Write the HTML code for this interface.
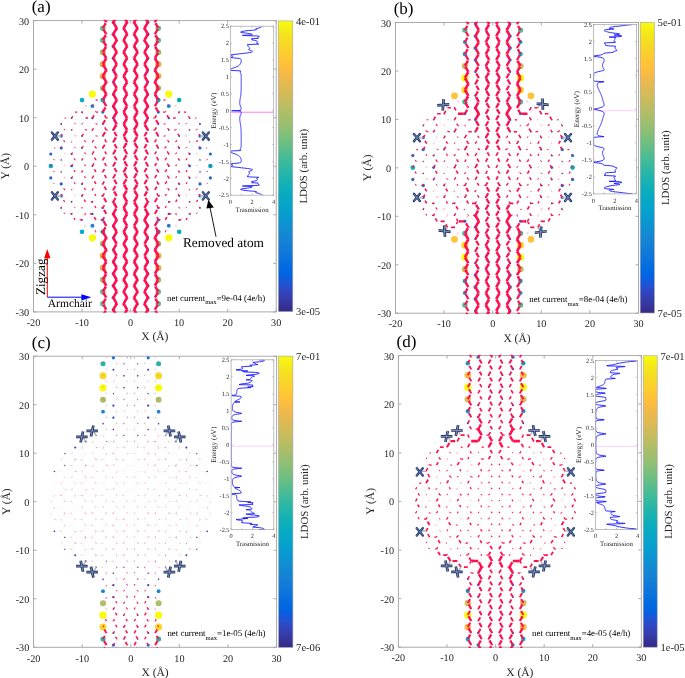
<!DOCTYPE html>
<html><head><meta charset="utf-8"><style>
html,body{margin:0;padding:0;background:#fff;}
svg{display:block;will-change:transform;text-rendering:geometricPrecision;}
</style></head><body>
<svg width="685" height="678" viewBox="0 0 685 678">
<rect width="685" height="678" fill="#fff"/>
<path d="M33.50 311.90v-3.0M33.50 20.60v3.0M82.04 311.90v-3.0M82.04 20.60v3.0M130.58 311.90v-3.0M130.58 20.60v3.0M179.12 311.90v-3.0M179.12 20.60v3.0M227.66 311.90v-3.0M227.66 20.60v3.0M276.20 311.90v-3.0M276.20 20.60v3.0M33.50 311.90h3.0M276.20 311.90h-3.0M33.50 263.35h3.0M276.20 263.35h-3.0M33.50 214.80h3.0M276.20 214.80h-3.0M33.50 166.25h3.0M276.20 166.25h-3.0M33.50 117.70h3.0M276.20 117.70h-3.0M33.50 69.15h3.0M276.20 69.15h-3.0M33.50 20.60h3.0M276.20 20.60h-3.0" stroke="#a3a3a3" stroke-width="0.9" fill="none"/>
<rect x="33.50" y="20.60" width="242.70" height="291.30" stroke="#a3a3a3" stroke-width="0.9" fill="none"/>
<text x="33.50" y="326.10" text-anchor="middle" style="font-family:'Liberation Serif',serif;font-size:10.2px" fill="#262626">-20</text>
<text x="82.04" y="326.10" text-anchor="middle" style="font-family:'Liberation Serif',serif;font-size:10.2px" fill="#262626">-10</text>
<text x="130.58" y="326.10" text-anchor="middle" style="font-family:'Liberation Serif',serif;font-size:10.2px" fill="#262626">0</text>
<text x="179.12" y="326.10" text-anchor="middle" style="font-family:'Liberation Serif',serif;font-size:10.2px" fill="#262626">10</text>
<text x="227.66" y="326.10" text-anchor="middle" style="font-family:'Liberation Serif',serif;font-size:10.2px" fill="#262626">20</text>
<text x="276.20" y="326.10" text-anchor="middle" style="font-family:'Liberation Serif',serif;font-size:10.2px" fill="#262626">30</text>
<text x="29.20" y="315.90" text-anchor="end" style="font-family:'Liberation Serif',serif;font-size:10.2px" fill="#262626">-30</text>
<text x="29.20" y="267.35" text-anchor="end" style="font-family:'Liberation Serif',serif;font-size:10.2px" fill="#262626">-20</text>
<text x="29.20" y="218.80" text-anchor="end" style="font-family:'Liberation Serif',serif;font-size:10.2px" fill="#262626">-10</text>
<text x="29.20" y="170.25" text-anchor="end" style="font-family:'Liberation Serif',serif;font-size:10.2px" fill="#262626">0</text>
<text x="29.20" y="121.70" text-anchor="end" style="font-family:'Liberation Serif',serif;font-size:10.2px" fill="#262626">10</text>
<text x="29.20" y="73.15" text-anchor="end" style="font-family:'Liberation Serif',serif;font-size:10.2px" fill="#262626">20</text>
<text x="29.20" y="24.60" text-anchor="end" style="font-family:'Liberation Serif',serif;font-size:10.2px" fill="#262626">30</text>
<text x="154.85" y="340.20" text-anchor="middle" style="font-family:'Liberation Serif',serif;font-size:11.5px" fill="#262626">X (&#197;)</text>
<text transform="translate(9.40,166.25) rotate(-90)" text-anchor="middle" style="font-family:'Liberation Serif',serif;font-size:11.5px" fill="#262626">Y (&#197;)</text>
<text x="31.70" y="12.10" style="font-family:'Liberation Serif',serif;font-size:17px" fill="#000">(a)</text>
<clipPath id="clipa"><rect x="33.50" y="19.80" width="242.70" height="292.90"/></clipPath>
<g clip-path="url(#clipa)">
<path d="M50.8 177.9L54.2 183.9M50.8 177.9L54.2 171.9M50.8 166.0L54.2 171.9M50.8 166.0L54.2 160.0M50.8 154.0L54.2 160.0M50.8 154.0L54.2 148.0M54.2 183.9L61.2 183.9M54.2 171.9L61.2 171.9M54.2 160.0L61.2 160.0M54.2 148.0L61.2 148.0M61.2 207.9L64.6 213.9M61.2 207.9L64.6 201.9M61.2 195.9L64.6 201.9M61.2 195.9L64.6 189.9M61.2 183.9L64.6 189.9M61.2 183.9L64.6 177.9M61.2 171.9L64.6 177.9M61.2 171.9L64.6 166.0M61.2 160.0L64.6 166.0M61.2 160.0L64.6 154.0M61.2 148.0L64.6 154.0M61.2 148.0L64.6 142.0M61.2 136.0L64.6 142.0M61.2 136.0L64.6 130.0M61.2 124.0L64.6 130.0M61.2 124.0L64.6 118.1M64.6 213.9L71.6 213.9M64.6 201.9L71.6 201.9M64.6 189.9L71.6 189.9M64.6 177.9L71.6 177.9M64.6 166.0L71.6 166.0M64.6 154.0L71.6 154.0M64.6 142.0L71.6 142.0M64.6 130.0L71.6 130.0M64.6 118.1L71.6 118.1M71.6 213.9L75.1 219.9M71.6 213.9L75.1 207.9M71.6 201.9L75.1 207.9M71.6 201.9L75.1 195.9M71.6 189.9L75.1 195.9M71.6 189.9L75.1 183.9M71.6 177.9L75.1 183.9M71.6 177.9L75.1 171.9M71.6 166.0L75.1 171.9M71.6 166.0L75.1 160.0M71.6 154.0L75.1 160.0M71.6 154.0L75.1 148.0M71.6 142.0L75.1 148.0M71.6 142.0L75.1 136.0M71.6 130.0L75.1 136.0M71.6 130.0L75.1 124.0M71.6 118.1L75.1 124.0M71.6 118.1L75.1 112.1M75.1 219.9L82.0 219.9M75.1 207.9L82.0 207.9M75.1 195.9L82.0 195.9M75.1 183.9L82.0 183.9M75.1 171.9L82.0 171.9M75.1 160.0L82.0 160.0M75.1 148.0L82.0 148.0M75.1 136.0L82.0 136.0M75.1 124.0L82.0 124.0M75.1 112.1L82.0 112.1M82.0 231.8L85.5 225.8M82.0 219.9L85.5 225.8M82.0 219.9L85.5 213.9M82.0 207.9L85.5 213.9M82.0 207.9L85.5 201.9M82.0 195.9L85.5 201.9M82.0 195.9L85.5 189.9M82.0 183.9L85.5 189.9M82.0 183.9L85.5 177.9M82.0 171.9L85.5 177.9M82.0 171.9L85.5 166.0M82.0 160.0L85.5 166.0M82.0 160.0L85.5 154.0M82.0 148.0L85.5 154.0M82.0 148.0L85.5 142.0M82.0 136.0L85.5 142.0M82.0 136.0L85.5 130.0M82.0 124.0L85.5 130.0M82.0 124.0L85.5 118.1M82.0 112.1L85.5 118.1M82.0 112.1L85.5 106.1M82.0 100.1L85.5 106.1M85.5 225.8L92.4 225.8M85.5 213.9L92.4 213.9M85.5 201.9L92.4 201.9M85.5 189.9L92.4 189.9M85.5 177.9L92.4 177.9M85.5 166.0L92.4 166.0M85.5 154.0L92.4 154.0M85.5 142.0L92.4 142.0M85.5 130.0L92.4 130.0M85.5 118.1L92.4 118.1M85.5 106.1L92.4 106.1M92.4 237.8L95.9 231.8M92.4 225.8L95.9 231.8M92.4 225.8L95.9 219.9M92.4 213.9L95.9 219.9M92.4 213.9L95.9 207.9M92.4 201.9L95.9 207.9M92.4 201.9L95.9 195.9M92.4 189.9L95.9 195.9M92.4 189.9L95.9 183.9M92.4 177.9L95.9 183.9M92.4 177.9L95.9 171.9M92.4 166.0L95.9 171.9M92.4 166.0L95.9 160.0M92.4 154.0L95.9 160.0M92.4 154.0L95.9 148.0M92.4 142.0L95.9 148.0M92.4 142.0L95.9 136.0M92.4 130.0L95.9 136.0M92.4 130.0L95.9 124.0M92.4 118.1L95.9 124.0M92.4 118.1L95.9 112.1M92.4 106.1L95.9 112.1M92.4 106.1L95.9 100.1M92.4 94.1L95.9 100.1M95.9 231.8L102.8 231.8M95.9 219.9L102.8 219.9M95.9 207.9L102.8 207.9M95.9 195.9L102.8 195.9M95.9 183.9L102.8 183.9M95.9 171.9L102.8 171.9M95.9 160.0L102.8 160.0M95.9 148.0L102.8 148.0M95.9 136.0L102.8 136.0M95.9 124.0L102.8 124.0M95.9 112.1L102.8 112.1M95.9 100.1L102.8 100.1M102.8 315.7L106.3 321.7M102.8 315.7L106.3 309.7M102.8 303.7L106.3 309.7M102.8 303.7L106.3 297.7M102.8 291.7L106.3 297.7M102.8 291.7L106.3 285.7M102.8 279.7L106.3 285.7M102.8 279.7L106.3 273.7M102.8 267.8L106.3 273.7M102.8 267.8L106.3 261.8M102.8 255.8L106.3 261.8M102.8 255.8L106.3 249.8M102.8 243.8L106.3 249.8M102.8 243.8L106.3 237.8M102.8 231.8L106.3 237.8M102.8 231.8L106.3 225.8M102.8 219.9L106.3 225.8M102.8 219.9L106.3 213.9M102.8 207.9L106.3 213.9M102.8 207.9L106.3 201.9M102.8 195.9L106.3 201.9M102.8 195.9L106.3 189.9M102.8 183.9L106.3 189.9M102.8 183.9L106.3 177.9M102.8 171.9L106.3 177.9M102.8 171.9L106.3 166.0M102.8 160.0L106.3 166.0M102.8 160.0L106.3 154.0M102.8 148.0L106.3 154.0M102.8 148.0L106.3 142.0M102.8 136.0L106.3 142.0M102.8 136.0L106.3 130.0M102.8 124.0L106.3 130.0M102.8 124.0L106.3 118.1M102.8 112.1L106.3 118.1M102.8 112.1L106.3 106.1M102.8 100.1L106.3 106.1M102.8 100.1L106.3 94.1M102.8 88.1L106.3 94.1M102.8 88.1L106.3 82.1M102.8 76.1L106.3 82.1M102.8 76.1L106.3 70.1M102.8 64.2L106.3 70.1M102.8 64.2L106.3 58.2M102.8 52.2L106.3 58.2M102.8 52.2L106.3 46.2M102.8 40.2L106.3 46.2M102.8 40.2L106.3 34.2M102.8 28.2L106.3 34.2M102.8 28.2L106.3 22.2M102.8 16.2L106.3 22.2M102.8 16.2L106.3 10.3M106.3 309.7L113.2 309.7M106.3 297.7L113.2 297.7M106.3 285.7L113.2 285.7M106.3 273.7L113.2 273.7M106.3 261.8L113.2 261.8M106.3 249.8L113.2 249.8M106.3 237.8L113.2 237.8M106.3 225.8L113.2 225.8M106.3 213.9L113.2 213.9M106.3 201.9L113.2 201.9M106.3 189.9L113.2 189.9M106.3 177.9L113.2 177.9M106.3 166.0L113.2 166.0M106.3 154.0L113.2 154.0M106.3 142.0L113.2 142.0M106.3 130.0L113.2 130.0M106.3 118.1L113.2 118.1M106.3 106.1L113.2 106.1M106.3 94.1L113.2 94.1M106.3 82.1L113.2 82.1M106.3 70.1L113.2 70.1M106.3 58.2L113.2 58.2M106.3 46.2L113.2 46.2M106.3 34.2L113.2 34.2M106.3 22.2L113.2 22.2M113.2 321.7L116.7 315.7M113.2 309.7L116.7 315.7M113.2 309.7L116.7 303.7M113.2 297.7L116.7 303.7M113.2 297.7L116.7 291.7M113.2 285.7L116.7 291.7M113.2 285.7L116.7 279.7M113.2 273.7L116.7 279.7M113.2 273.7L116.7 267.8M113.2 261.8L116.7 267.8M113.2 261.8L116.7 255.8M113.2 249.8L116.7 255.8M113.2 249.8L116.7 243.8M113.2 237.8L116.7 243.8M113.2 237.8L116.7 231.8M113.2 225.8L116.7 231.8M113.2 225.8L116.7 219.9M113.2 213.9L116.7 219.9M113.2 213.9L116.7 207.9M113.2 201.9L116.7 207.9M113.2 201.9L116.7 195.9M113.2 189.9L116.7 195.9M113.2 189.9L116.7 183.9M113.2 177.9L116.7 183.9M113.2 177.9L116.7 171.9M113.2 166.0L116.7 171.9M113.2 166.0L116.7 160.0M113.2 154.0L116.7 160.0M113.2 154.0L116.7 148.0M113.2 142.0L116.7 148.0M113.2 142.0L116.7 136.0M113.2 130.0L116.7 136.0M113.2 130.0L116.7 124.0M113.2 118.1L116.7 124.0M113.2 118.1L116.7 112.1M113.2 106.1L116.7 112.1M113.2 106.1L116.7 100.1M113.2 94.1L116.7 100.1M113.2 94.1L116.7 88.1M113.2 82.1L116.7 88.1M113.2 82.1L116.7 76.1M113.2 70.1L116.7 76.1M113.2 70.1L116.7 64.2M113.2 58.2L116.7 64.2M113.2 58.2L116.7 52.2M113.2 46.2L116.7 52.2M113.2 46.2L116.7 40.2M113.2 34.2L116.7 40.2M113.2 34.2L116.7 28.2M113.2 22.2L116.7 28.2M113.2 22.2L116.7 16.2M113.2 10.3L116.7 16.2M116.7 315.7L123.6 315.7M116.7 303.7L123.6 303.7M116.7 291.7L123.6 291.7M116.7 279.7L123.6 279.7M116.7 267.8L123.6 267.8M116.7 255.8L123.6 255.8M116.7 243.8L123.6 243.8M116.7 231.8L123.6 231.8M116.7 219.9L123.6 219.9M116.7 207.9L123.6 207.9M116.7 195.9L123.6 195.9M116.7 183.9L123.6 183.9M116.7 171.9L123.6 171.9M116.7 160.0L123.6 160.0M116.7 148.0L123.6 148.0M116.7 136.0L123.6 136.0M116.7 124.0L123.6 124.0M116.7 112.1L123.6 112.1M116.7 100.1L123.6 100.1M116.7 88.1L123.6 88.1M116.7 76.1L123.6 76.1M116.7 64.2L123.6 64.2M116.7 52.2L123.6 52.2M116.7 40.2L123.6 40.2M116.7 28.2L123.6 28.2M116.7 16.2L123.6 16.2M123.6 315.7L127.1 321.7M123.6 315.7L127.1 309.7M123.6 303.7L127.1 309.7M123.6 303.7L127.1 297.7M123.6 291.7L127.1 297.7M123.6 291.7L127.1 285.7M123.6 279.7L127.1 285.7M123.6 279.7L127.1 273.7M123.6 267.8L127.1 273.7M123.6 267.8L127.1 261.8M123.6 255.8L127.1 261.8M123.6 255.8L127.1 249.8M123.6 243.8L127.1 249.8M123.6 243.8L127.1 237.8M123.6 231.8L127.1 237.8M123.6 231.8L127.1 225.8M123.6 219.9L127.1 225.8M123.6 219.9L127.1 213.9M123.6 207.9L127.1 213.9M123.6 207.9L127.1 201.9M123.6 195.9L127.1 201.9M123.6 195.9L127.1 189.9M123.6 183.9L127.1 189.9M123.6 183.9L127.1 177.9M123.6 171.9L127.1 177.9M123.6 171.9L127.1 166.0M123.6 160.0L127.1 166.0M123.6 160.0L127.1 154.0M123.6 148.0L127.1 154.0M123.6 148.0L127.1 142.0M123.6 136.0L127.1 142.0M123.6 136.0L127.1 130.0M123.6 124.0L127.1 130.0M123.6 124.0L127.1 118.1M123.6 112.1L127.1 118.1M123.6 112.1L127.1 106.1M123.6 100.1L127.1 106.1M123.6 100.1L127.1 94.1M123.6 88.1L127.1 94.1M123.6 88.1L127.1 82.1M123.6 76.1L127.1 82.1M123.6 76.1L127.1 70.1M123.6 64.2L127.1 70.1M123.6 64.2L127.1 58.2M123.6 52.2L127.1 58.2M123.6 52.2L127.1 46.2M123.6 40.2L127.1 46.2M123.6 40.2L127.1 34.2M123.6 28.2L127.1 34.2M123.6 28.2L127.1 22.2M123.6 16.2L127.1 22.2M123.6 16.2L127.1 10.3M127.1 309.7L134.1 309.7M127.1 297.7L134.1 297.7M127.1 285.7L134.1 285.7M127.1 273.7L134.1 273.7M127.1 261.8L134.1 261.8M127.1 249.8L134.1 249.8M127.1 237.8L134.1 237.8M127.1 225.8L134.1 225.8M127.1 213.9L134.1 213.9M127.1 201.9L134.1 201.9M127.1 189.9L134.1 189.9M127.1 177.9L134.1 177.9M127.1 166.0L134.1 166.0M127.1 154.0L134.1 154.0M127.1 142.0L134.1 142.0M127.1 130.0L134.1 130.0M127.1 118.1L134.1 118.1M127.1 106.1L134.1 106.1M127.1 94.1L134.1 94.1M127.1 82.1L134.1 82.1M127.1 70.1L134.1 70.1M127.1 58.2L134.1 58.2M127.1 46.2L134.1 46.2M127.1 34.2L134.1 34.2M127.1 22.2L134.1 22.2M134.1 321.7L137.5 315.7M134.1 309.7L137.5 315.7M134.1 309.7L137.5 303.7M134.1 297.7L137.5 303.7M134.1 297.7L137.5 291.7M134.1 285.7L137.5 291.7M134.1 285.7L137.5 279.7M134.1 273.7L137.5 279.7M134.1 273.7L137.5 267.8M134.1 261.8L137.5 267.8M134.1 261.8L137.5 255.8M134.1 249.8L137.5 255.8M134.1 249.8L137.5 243.8M134.1 237.8L137.5 243.8M134.1 237.8L137.5 231.8M134.1 225.8L137.5 231.8M134.1 225.8L137.5 219.9M134.1 213.9L137.5 219.9M134.1 213.9L137.5 207.9M134.1 201.9L137.5 207.9M134.1 201.9L137.5 195.9M134.1 189.9L137.5 195.9M134.1 189.9L137.5 183.9M134.1 177.9L137.5 183.9M134.1 177.9L137.5 171.9M134.1 166.0L137.5 171.9M134.1 166.0L137.5 160.0M134.1 154.0L137.5 160.0M134.1 154.0L137.5 148.0M134.1 142.0L137.5 148.0M134.1 142.0L137.5 136.0M134.1 130.0L137.5 136.0M134.1 130.0L137.5 124.0M134.1 118.1L137.5 124.0M134.1 118.1L137.5 112.1M134.1 106.1L137.5 112.1M134.1 106.1L137.5 100.1M134.1 94.1L137.5 100.1M134.1 94.1L137.5 88.1M134.1 82.1L137.5 88.1M134.1 82.1L137.5 76.1M134.1 70.1L137.5 76.1M134.1 70.1L137.5 64.2M134.1 58.2L137.5 64.2M134.1 58.2L137.5 52.2M134.1 46.2L137.5 52.2M134.1 46.2L137.5 40.2M134.1 34.2L137.5 40.2M134.1 34.2L137.5 28.2M134.1 22.2L137.5 28.2M134.1 22.2L137.5 16.2M134.1 10.3L137.5 16.2M137.5 315.7L144.5 315.7M137.5 303.7L144.5 303.7M137.5 291.7L144.5 291.7M137.5 279.7L144.5 279.7M137.5 267.8L144.5 267.8M137.5 255.8L144.5 255.8M137.5 243.8L144.5 243.8M137.5 231.8L144.5 231.8M137.5 219.9L144.5 219.9M137.5 207.9L144.5 207.9M137.5 195.9L144.5 195.9M137.5 183.9L144.5 183.9M137.5 171.9L144.5 171.9M137.5 160.0L144.5 160.0M137.5 148.0L144.5 148.0M137.5 136.0L144.5 136.0M137.5 124.0L144.5 124.0M137.5 112.1L144.5 112.1M137.5 100.1L144.5 100.1M137.5 88.1L144.5 88.1M137.5 76.1L144.5 76.1M137.5 64.2L144.5 64.2M137.5 52.2L144.5 52.2M137.5 40.2L144.5 40.2M137.5 28.2L144.5 28.2M137.5 16.2L144.5 16.2M144.5 315.7L147.9 321.7M144.5 315.7L147.9 309.7M144.5 303.7L147.9 309.7M144.5 303.7L147.9 297.7M144.5 291.7L147.9 297.7M144.5 291.7L147.9 285.7M144.5 279.7L147.9 285.7M144.5 279.7L147.9 273.7M144.5 267.8L147.9 273.7M144.5 267.8L147.9 261.8M144.5 255.8L147.9 261.8M144.5 255.8L147.9 249.8M144.5 243.8L147.9 249.8M144.5 243.8L147.9 237.8M144.5 231.8L147.9 237.8M144.5 231.8L147.9 225.8M144.5 219.9L147.9 225.8M144.5 219.9L147.9 213.9M144.5 207.9L147.9 213.9M144.5 207.9L147.9 201.9M144.5 195.9L147.9 201.9M144.5 195.9L147.9 189.9M144.5 183.9L147.9 189.9M144.5 183.9L147.9 177.9M144.5 171.9L147.9 177.9M144.5 171.9L147.9 166.0M144.5 160.0L147.9 166.0M144.5 160.0L147.9 154.0M144.5 148.0L147.9 154.0M144.5 148.0L147.9 142.0M144.5 136.0L147.9 142.0M144.5 136.0L147.9 130.0M144.5 124.0L147.9 130.0M144.5 124.0L147.9 118.1M144.5 112.1L147.9 118.1M144.5 112.1L147.9 106.1M144.5 100.1L147.9 106.1M144.5 100.1L147.9 94.1M144.5 88.1L147.9 94.1M144.5 88.1L147.9 82.1M144.5 76.1L147.9 82.1M144.5 76.1L147.9 70.1M144.5 64.2L147.9 70.1M144.5 64.2L147.9 58.2M144.5 52.2L147.9 58.2M144.5 52.2L147.9 46.2M144.5 40.2L147.9 46.2M144.5 40.2L147.9 34.2M144.5 28.2L147.9 34.2M144.5 28.2L147.9 22.2M144.5 16.2L147.9 22.2M144.5 16.2L147.9 10.3M147.9 309.7L154.9 309.7M147.9 297.7L154.9 297.7M147.9 285.7L154.9 285.7M147.9 273.7L154.9 273.7M147.9 261.8L154.9 261.8M147.9 249.8L154.9 249.8M147.9 237.8L154.9 237.8M147.9 225.8L154.9 225.8M147.9 213.9L154.9 213.9M147.9 201.9L154.9 201.9M147.9 189.9L154.9 189.9M147.9 177.9L154.9 177.9M147.9 166.0L154.9 166.0M147.9 154.0L154.9 154.0M147.9 142.0L154.9 142.0M147.9 130.0L154.9 130.0M147.9 118.1L154.9 118.1M147.9 106.1L154.9 106.1M147.9 94.1L154.9 94.1M147.9 82.1L154.9 82.1M147.9 70.1L154.9 70.1M147.9 58.2L154.9 58.2M147.9 46.2L154.9 46.2M147.9 34.2L154.9 34.2M147.9 22.2L154.9 22.2M154.9 321.7L158.3 315.7M154.9 309.7L158.3 315.7M154.9 309.7L158.3 303.7M154.9 297.7L158.3 303.7M154.9 297.7L158.3 291.7M154.9 285.7L158.3 291.7M154.9 285.7L158.3 279.7M154.9 273.7L158.3 279.7M154.9 273.7L158.3 267.8M154.9 261.8L158.3 267.8M154.9 261.8L158.3 255.8M154.9 249.8L158.3 255.8M154.9 249.8L158.3 243.8M154.9 237.8L158.3 243.8M154.9 237.8L158.3 231.8M154.9 225.8L158.3 231.8M154.9 225.8L158.3 219.9M154.9 213.9L158.3 219.9M154.9 213.9L158.3 207.9M154.9 201.9L158.3 207.9M154.9 201.9L158.3 195.9M154.9 189.9L158.3 195.9M154.9 189.9L158.3 183.9M154.9 177.9L158.3 183.9M154.9 177.9L158.3 171.9M154.9 166.0L158.3 171.9M154.9 166.0L158.3 160.0M154.9 154.0L158.3 160.0M154.9 154.0L158.3 148.0M154.9 142.0L158.3 148.0M154.9 142.0L158.3 136.0M154.9 130.0L158.3 136.0M154.9 130.0L158.3 124.0M154.9 118.1L158.3 124.0M154.9 118.1L158.3 112.1M154.9 106.1L158.3 112.1M154.9 106.1L158.3 100.1M154.9 94.1L158.3 100.1M154.9 94.1L158.3 88.1M154.9 82.1L158.3 88.1M154.9 82.1L158.3 76.1M154.9 70.1L158.3 76.1M154.9 70.1L158.3 64.2M154.9 58.2L158.3 64.2M154.9 58.2L158.3 52.2M154.9 46.2L158.3 52.2M154.9 46.2L158.3 40.2M154.9 34.2L158.3 40.2M154.9 34.2L158.3 28.2M154.9 22.2L158.3 28.2M154.9 22.2L158.3 16.2M154.9 10.3L158.3 16.2M158.3 231.8L165.3 231.8M158.3 219.9L165.3 219.9M158.3 207.9L165.3 207.9M158.3 195.9L165.3 195.9M158.3 183.9L165.3 183.9M158.3 171.9L165.3 171.9M158.3 160.0L165.3 160.0M158.3 148.0L165.3 148.0M158.3 136.0L165.3 136.0M158.3 124.0L165.3 124.0M158.3 112.1L165.3 112.1M158.3 100.1L165.3 100.1M165.3 231.8L168.8 237.8M165.3 231.8L168.8 225.8M165.3 219.9L168.8 225.8M165.3 219.9L168.8 213.9M165.3 207.9L168.8 213.9M165.3 207.9L168.8 201.9M165.3 195.9L168.8 201.9M165.3 195.9L168.8 189.9M165.3 183.9L168.8 189.9M165.3 183.9L168.8 177.9M165.3 171.9L168.8 177.9M165.3 171.9L168.8 166.0M165.3 160.0L168.8 166.0M165.3 160.0L168.8 154.0M165.3 148.0L168.8 154.0M165.3 148.0L168.8 142.0M165.3 136.0L168.8 142.0M165.3 136.0L168.8 130.0M165.3 124.0L168.8 130.0M165.3 124.0L168.8 118.1M165.3 112.1L168.8 118.1M165.3 112.1L168.8 106.1M165.3 100.1L168.8 106.1M165.3 100.1L168.8 94.1M168.8 225.8L175.7 225.8M168.8 213.9L175.7 213.9M168.8 201.9L175.7 201.9M168.8 189.9L175.7 189.9M168.8 177.9L175.7 177.9M168.8 166.0L175.7 166.0M168.8 154.0L175.7 154.0M168.8 142.0L175.7 142.0M168.8 130.0L175.7 130.0M168.8 118.1L175.7 118.1M168.8 106.1L175.7 106.1M175.7 225.8L179.2 231.8M175.7 225.8L179.2 219.9M175.7 213.9L179.2 219.9M175.7 213.9L179.2 207.9M175.7 201.9L179.2 207.9M175.7 201.9L179.2 195.9M175.7 189.9L179.2 195.9M175.7 189.9L179.2 183.9M175.7 177.9L179.2 183.9M175.7 177.9L179.2 171.9M175.7 166.0L179.2 171.9M175.7 166.0L179.2 160.0M175.7 154.0L179.2 160.0M175.7 154.0L179.2 148.0M175.7 142.0L179.2 148.0M175.7 142.0L179.2 136.0M175.7 130.0L179.2 136.0M175.7 130.0L179.2 124.0M175.7 118.1L179.2 124.0M175.7 118.1L179.2 112.1M175.7 106.1L179.2 112.1M175.7 106.1L179.2 100.1M179.2 219.9L186.1 219.9M179.2 207.9L186.1 207.9M179.2 195.9L186.1 195.9M179.2 183.9L186.1 183.9M179.2 171.9L186.1 171.9M179.2 160.0L186.1 160.0M179.2 148.0L186.1 148.0M179.2 136.0L186.1 136.0M179.2 124.0L186.1 124.0M179.2 112.1L186.1 112.1M186.1 219.9L189.6 213.9M186.1 207.9L189.6 213.9M186.1 207.9L189.6 201.9M186.1 195.9L189.6 201.9M186.1 195.9L189.6 189.9M186.1 183.9L189.6 189.9M186.1 183.9L189.6 177.9M186.1 171.9L189.6 177.9M186.1 171.9L189.6 166.0M186.1 160.0L189.6 166.0M186.1 160.0L189.6 154.0M186.1 148.0L189.6 154.0M186.1 148.0L189.6 142.0M186.1 136.0L189.6 142.0M186.1 136.0L189.6 130.0M186.1 124.0L189.6 130.0M186.1 124.0L189.6 118.1M186.1 112.1L189.6 118.1M189.6 213.9L196.5 213.9M189.6 201.9L196.5 201.9M189.6 189.9L196.5 189.9M189.6 177.9L196.5 177.9M189.6 166.0L196.5 166.0M189.6 154.0L196.5 154.0M189.6 142.0L196.5 142.0M189.6 130.0L196.5 130.0M189.6 118.1L196.5 118.1M196.5 213.9L200.0 207.9M196.5 201.9L200.0 207.9M196.5 201.9L200.0 195.9M196.5 189.9L200.0 195.9M196.5 189.9L200.0 183.9M196.5 177.9L200.0 183.9M196.5 177.9L200.0 171.9M196.5 166.0L200.0 171.9M196.5 166.0L200.0 160.0M196.5 154.0L200.0 160.0M196.5 154.0L200.0 148.0M196.5 142.0L200.0 148.0M196.5 142.0L200.0 136.0M196.5 130.0L200.0 136.0M196.5 130.0L200.0 124.0M196.5 118.1L200.0 124.0M200.0 183.9L206.9 183.9M200.0 171.9L206.9 171.9M200.0 160.0L206.9 160.0M200.0 148.0L206.9 148.0M206.9 183.9L210.4 177.9M206.9 171.9L210.4 177.9M206.9 171.9L210.4 166.0M206.9 160.0L210.4 166.0M206.9 160.0L210.4 154.0M206.9 148.0L210.4 154.0" stroke="#f0f0f0" stroke-width="0.45" fill="none"/>
<circle cx="50.8" cy="177.9" r="1.60" fill="#0d75dc"/><circle cx="50.8" cy="166.0" r="2.26" fill="#06a7c6"/><circle cx="50.8" cy="154.0" r="1.60" fill="#0d75dc"/><circle cx="61.2" cy="207.9" r="0.89" fill="#3243ba"/><circle cx="61.2" cy="195.9" r="1.64" fill="#1079da"/><circle cx="61.2" cy="183.9" r="1.60" fill="#0d75dc"/><circle cx="61.2" cy="171.9" r="0.72" fill="#3637a0"/><circle cx="61.2" cy="160.0" r="0.72" fill="#3637a0"/><circle cx="61.2" cy="148.0" r="1.60" fill="#0d75dc"/><circle cx="61.2" cy="136.0" r="1.64" fill="#1079da"/><circle cx="61.2" cy="124.0" r="0.89" fill="#3243ba"/><circle cx="71.6" cy="213.9" r="0.89" fill="#3243ba"/><circle cx="71.6" cy="201.9" r="0.82" fill="#353dad"/><circle cx="71.6" cy="189.9" r="0.44" fill="#363093"/><circle cx="71.6" cy="177.9" r="1.01" fill="#2c4ac7"/><circle cx="71.6" cy="166.0" r="1.35" fill="#0268e1"/><circle cx="71.6" cy="154.0" r="1.01" fill="#2c4ac7"/><circle cx="71.6" cy="142.0" r="0.44" fill="#363093"/><circle cx="71.6" cy="130.0" r="0.82" fill="#353dad"/><circle cx="71.6" cy="118.1" r="0.89" fill="#3243ba"/><circle cx="82.0" cy="231.8" r="2.33" fill="#0aacbe"/><circle cx="82.0" cy="219.9" r="0.89" fill="#3243ba"/><circle cx="82.0" cy="207.9" r="0.48" fill="#363093"/><circle cx="82.0" cy="195.9" r="0.90" fill="#3243ba"/><circle cx="82.0" cy="183.9" r="0.99" fill="#2c4ac7"/><circle cx="82.0" cy="171.9" r="0.64" fill="#3637a0"/><circle cx="82.0" cy="160.0" r="0.64" fill="#3637a0"/><circle cx="82.0" cy="148.0" r="0.99" fill="#2c4ac7"/><circle cx="82.0" cy="136.0" r="0.90" fill="#3243ba"/><circle cx="82.0" cy="124.0" r="0.48" fill="#363093"/><circle cx="82.0" cy="112.1" r="0.89" fill="#3243ba"/><circle cx="82.0" cy="100.1" r="2.33" fill="#0aacbe"/><circle cx="85.5" cy="166.0" r="0.16" fill="#352a87"/><circle cx="92.4" cy="237.8" r="3.65" fill="#f9fb0e"/><circle cx="92.4" cy="225.8" r="1.97" fill="#108ed2"/><circle cx="92.4" cy="213.9" r="1.17" fill="#2053d4"/><circle cx="92.4" cy="201.9" r="0.85" fill="#353dad"/><circle cx="92.4" cy="189.9" r="0.57" fill="#3637a0"/><circle cx="92.4" cy="177.9" r="0.72" fill="#3637a0"/><circle cx="92.4" cy="166.0" r="0.89" fill="#3243ba"/><circle cx="92.4" cy="154.0" r="0.72" fill="#3637a0"/><circle cx="92.4" cy="142.0" r="0.57" fill="#3637a0"/><circle cx="92.4" cy="130.0" r="0.85" fill="#353dad"/><circle cx="92.4" cy="118.1" r="1.17" fill="#2053d4"/><circle cx="92.4" cy="106.1" r="1.97" fill="#108ed2"/><circle cx="92.4" cy="94.1" r="3.65" fill="#f9fb0e"/><circle cx="95.9" cy="195.9" r="0.17" fill="#352a87"/><circle cx="95.9" cy="183.9" r="0.21" fill="#352a87"/><circle cx="95.9" cy="171.9" r="0.17" fill="#352a87"/><circle cx="95.9" cy="160.0" r="0.17" fill="#352a87"/><circle cx="95.9" cy="148.0" r="0.21" fill="#352a87"/><circle cx="95.9" cy="136.0" r="0.17" fill="#352a87"/><circle cx="102.8" cy="315.7" r="2.89" fill="#87bf77"/><circle cx="102.8" cy="303.7" r="2.77" fill="#65be86"/><circle cx="102.8" cy="291.7" r="2.77" fill="#65be86"/><circle cx="102.8" cy="279.7" r="2.96" fill="#9cbf6f"/><circle cx="102.8" cy="267.8" r="3.17" fill="#d9ba56"/><circle cx="102.8" cy="255.8" r="3.20" fill="#e1b952"/><circle cx="102.8" cy="243.8" r="2.93" fill="#9cbf6f"/><circle cx="102.8" cy="231.8" r="2.36" fill="#0aacbe"/><circle cx="102.8" cy="219.9" r="1.61" fill="#0d75dc"/><circle cx="102.8" cy="207.9" r="0.99" fill="#2c4ac7"/><circle cx="102.8" cy="195.9" r="0.83" fill="#353dad"/><circle cx="102.8" cy="183.9" r="0.80" fill="#353dad"/><circle cx="102.8" cy="171.9" r="0.60" fill="#3637a0"/><circle cx="102.8" cy="160.0" r="0.60" fill="#3637a0"/><circle cx="102.8" cy="148.0" r="0.80" fill="#353dad"/><circle cx="102.8" cy="136.0" r="0.83" fill="#353dad"/><circle cx="102.8" cy="124.0" r="0.99" fill="#2c4ac7"/><circle cx="102.8" cy="112.1" r="1.61" fill="#0d75dc"/><circle cx="102.8" cy="100.1" r="2.36" fill="#0aacbe"/><circle cx="102.8" cy="88.1" r="2.93" fill="#9cbf6f"/><circle cx="102.8" cy="76.1" r="3.20" fill="#e1b952"/><circle cx="102.8" cy="64.2" r="3.17" fill="#d9ba56"/><circle cx="102.8" cy="52.2" r="2.96" fill="#9cbf6f"/><circle cx="102.8" cy="40.2" r="2.77" fill="#65be86"/><circle cx="102.8" cy="28.2" r="2.77" fill="#65be86"/><circle cx="102.8" cy="16.2" r="2.89" fill="#87bf77"/><circle cx="106.3" cy="225.8" r="0.15" fill="#352a87"/><circle cx="106.3" cy="213.9" r="0.22" fill="#352a87"/><circle cx="106.3" cy="201.9" r="0.24" fill="#352a87"/><circle cx="106.3" cy="189.9" r="0.21" fill="#352a87"/><circle cx="106.3" cy="177.9" r="0.25" fill="#352a87"/><circle cx="106.3" cy="166.0" r="0.29" fill="#352a87"/><circle cx="106.3" cy="154.0" r="0.25" fill="#352a87"/><circle cx="106.3" cy="142.0" r="0.21" fill="#352a87"/><circle cx="106.3" cy="130.0" r="0.24" fill="#352a87"/><circle cx="106.3" cy="118.1" r="0.22" fill="#352a87"/><circle cx="106.3" cy="106.1" r="0.15" fill="#352a87"/><circle cx="113.2" cy="309.7" r="1.55" fill="#0871de"/><circle cx="113.2" cy="297.7" r="1.62" fill="#0d75dc"/><circle cx="113.2" cy="285.7" r="1.60" fill="#0d75dc"/><circle cx="113.2" cy="273.7" r="1.48" fill="#046de0"/><circle cx="113.2" cy="261.8" r="1.31" fill="#0363e1"/><circle cx="113.2" cy="249.8" r="1.21" fill="#0f5cdd"/><circle cx="113.2" cy="237.8" r="1.20" fill="#0f5cdd"/><circle cx="113.2" cy="225.8" r="1.23" fill="#0f5cdd"/><circle cx="113.2" cy="213.9" r="1.17" fill="#2053d4"/><circle cx="113.2" cy="201.9" r="0.93" fill="#3243ba"/><circle cx="113.2" cy="189.9" r="0.65" fill="#3637a0"/><circle cx="113.2" cy="177.9" r="0.63" fill="#3637a0"/><circle cx="113.2" cy="166.0" r="0.71" fill="#3637a0"/><circle cx="113.2" cy="154.0" r="0.63" fill="#3637a0"/><circle cx="113.2" cy="142.0" r="0.65" fill="#3637a0"/><circle cx="113.2" cy="130.0" r="0.93" fill="#3243ba"/><circle cx="113.2" cy="118.1" r="1.17" fill="#2053d4"/><circle cx="113.2" cy="106.1" r="1.23" fill="#0f5cdd"/><circle cx="113.2" cy="94.1" r="1.20" fill="#0f5cdd"/><circle cx="113.2" cy="82.1" r="1.21" fill="#0f5cdd"/><circle cx="113.2" cy="70.1" r="1.31" fill="#0363e1"/><circle cx="113.2" cy="58.2" r="1.48" fill="#046de0"/><circle cx="113.2" cy="46.2" r="1.60" fill="#0d75dc"/><circle cx="113.2" cy="34.2" r="1.62" fill="#0d75dc"/><circle cx="113.2" cy="22.2" r="1.55" fill="#0871de"/><circle cx="116.7" cy="315.7" r="0.23" fill="#352a87"/><circle cx="116.7" cy="303.7" r="0.22" fill="#352a87"/><circle cx="116.7" cy="291.7" r="0.21" fill="#352a87"/><circle cx="116.7" cy="279.7" r="0.22" fill="#352a87"/><circle cx="116.7" cy="267.8" r="0.23" fill="#352a87"/><circle cx="116.7" cy="255.8" r="0.24" fill="#352a87"/><circle cx="116.7" cy="243.8" r="0.25" fill="#352a87"/><circle cx="116.7" cy="231.8" r="0.28" fill="#352a87"/><circle cx="116.7" cy="219.9" r="0.29" fill="#352a87"/><circle cx="116.7" cy="207.9" r="0.29" fill="#352a87"/><circle cx="116.7" cy="195.9" r="0.36" fill="#363093"/><circle cx="116.7" cy="183.9" r="0.38" fill="#363093"/><circle cx="116.7" cy="171.9" r="0.32" fill="#352a87"/><circle cx="116.7" cy="160.0" r="0.32" fill="#352a87"/><circle cx="116.7" cy="148.0" r="0.38" fill="#363093"/><circle cx="116.7" cy="136.0" r="0.36" fill="#363093"/><circle cx="116.7" cy="124.0" r="0.29" fill="#352a87"/><circle cx="116.7" cy="112.1" r="0.29" fill="#352a87"/><circle cx="116.7" cy="100.1" r="0.28" fill="#352a87"/><circle cx="116.7" cy="88.1" r="0.25" fill="#352a87"/><circle cx="116.7" cy="76.1" r="0.24" fill="#352a87"/><circle cx="116.7" cy="64.2" r="0.23" fill="#352a87"/><circle cx="116.7" cy="52.2" r="0.22" fill="#352a87"/><circle cx="116.7" cy="40.2" r="0.21" fill="#352a87"/><circle cx="116.7" cy="28.2" r="0.22" fill="#352a87"/><circle cx="116.7" cy="16.2" r="0.23" fill="#352a87"/><circle cx="123.6" cy="315.7" r="0.85" fill="#353dad"/><circle cx="123.6" cy="303.7" r="0.79" fill="#353dad"/><circle cx="123.6" cy="291.7" r="0.75" fill="#353dad"/><circle cx="123.6" cy="279.7" r="0.76" fill="#353dad"/><circle cx="123.6" cy="267.8" r="0.79" fill="#353dad"/><circle cx="123.6" cy="255.8" r="0.80" fill="#353dad"/><circle cx="123.6" cy="243.8" r="0.78" fill="#353dad"/><circle cx="123.6" cy="231.8" r="0.71" fill="#3637a0"/><circle cx="123.6" cy="219.9" r="0.64" fill="#3637a0"/><circle cx="123.6" cy="207.9" r="0.63" fill="#3637a0"/><circle cx="123.6" cy="195.9" r="0.69" fill="#3637a0"/><circle cx="123.6" cy="183.9" r="0.66" fill="#3637a0"/><circle cx="123.6" cy="171.9" r="0.52" fill="#363093"/><circle cx="123.6" cy="160.0" r="0.52" fill="#363093"/><circle cx="123.6" cy="148.0" r="0.66" fill="#3637a0"/><circle cx="123.6" cy="136.0" r="0.69" fill="#3637a0"/><circle cx="123.6" cy="124.0" r="0.63" fill="#3637a0"/><circle cx="123.6" cy="112.1" r="0.64" fill="#3637a0"/><circle cx="123.6" cy="100.1" r="0.71" fill="#3637a0"/><circle cx="123.6" cy="88.1" r="0.78" fill="#353dad"/><circle cx="123.6" cy="76.1" r="0.80" fill="#353dad"/><circle cx="123.6" cy="64.2" r="0.79" fill="#353dad"/><circle cx="123.6" cy="52.2" r="0.76" fill="#353dad"/><circle cx="123.6" cy="40.2" r="0.75" fill="#353dad"/><circle cx="123.6" cy="28.2" r="0.79" fill="#353dad"/><circle cx="123.6" cy="16.2" r="0.85" fill="#353dad"/><circle cx="127.1" cy="309.7" r="0.43" fill="#363093"/><circle cx="127.1" cy="297.7" r="0.45" fill="#363093"/><circle cx="127.1" cy="285.7" r="0.45" fill="#363093"/><circle cx="127.1" cy="273.7" r="0.43" fill="#363093"/><circle cx="127.1" cy="261.8" r="0.41" fill="#363093"/><circle cx="127.1" cy="249.8" r="0.41" fill="#363093"/><circle cx="127.1" cy="237.8" r="0.43" fill="#363093"/><circle cx="127.1" cy="225.8" r="0.46" fill="#363093"/><circle cx="127.1" cy="213.9" r="0.50" fill="#363093"/><circle cx="127.1" cy="201.9" r="0.47" fill="#363093"/><circle cx="127.1" cy="189.9" r="0.41" fill="#363093"/><circle cx="127.1" cy="177.9" r="0.47" fill="#363093"/><circle cx="127.1" cy="166.0" r="0.53" fill="#363093"/><circle cx="127.1" cy="154.0" r="0.47" fill="#363093"/><circle cx="127.1" cy="142.0" r="0.41" fill="#363093"/><circle cx="127.1" cy="130.0" r="0.47" fill="#363093"/><circle cx="127.1" cy="118.1" r="0.50" fill="#363093"/><circle cx="127.1" cy="106.1" r="0.46" fill="#363093"/><circle cx="127.1" cy="94.1" r="0.43" fill="#363093"/><circle cx="127.1" cy="82.1" r="0.41" fill="#363093"/><circle cx="127.1" cy="70.1" r="0.41" fill="#363093"/><circle cx="127.1" cy="58.2" r="0.43" fill="#363093"/><circle cx="127.1" cy="46.2" r="0.45" fill="#363093"/><circle cx="127.1" cy="34.2" r="0.45" fill="#363093"/><circle cx="127.1" cy="22.2" r="0.43" fill="#363093"/><circle cx="134.1" cy="309.7" r="0.43" fill="#363093"/><circle cx="134.1" cy="297.7" r="0.45" fill="#363093"/><circle cx="134.1" cy="285.7" r="0.45" fill="#363093"/><circle cx="134.1" cy="273.7" r="0.43" fill="#363093"/><circle cx="134.1" cy="261.8" r="0.41" fill="#363093"/><circle cx="134.1" cy="249.8" r="0.41" fill="#363093"/><circle cx="134.1" cy="237.8" r="0.43" fill="#363093"/><circle cx="134.1" cy="225.8" r="0.46" fill="#363093"/><circle cx="134.1" cy="213.9" r="0.50" fill="#363093"/><circle cx="134.1" cy="201.9" r="0.47" fill="#363093"/><circle cx="134.1" cy="189.9" r="0.41" fill="#363093"/><circle cx="134.1" cy="177.9" r="0.47" fill="#363093"/><circle cx="134.1" cy="166.0" r="0.53" fill="#363093"/><circle cx="134.1" cy="154.0" r="0.47" fill="#363093"/><circle cx="134.1" cy="142.0" r="0.41" fill="#363093"/><circle cx="134.1" cy="130.0" r="0.47" fill="#363093"/><circle cx="134.1" cy="118.1" r="0.50" fill="#363093"/><circle cx="134.1" cy="106.1" r="0.46" fill="#363093"/><circle cx="134.1" cy="94.1" r="0.43" fill="#363093"/><circle cx="134.1" cy="82.1" r="0.41" fill="#363093"/><circle cx="134.1" cy="70.1" r="0.41" fill="#363093"/><circle cx="134.1" cy="58.2" r="0.43" fill="#363093"/><circle cx="134.1" cy="46.2" r="0.45" fill="#363093"/><circle cx="134.1" cy="34.2" r="0.45" fill="#363093"/><circle cx="134.1" cy="22.2" r="0.43" fill="#363093"/><circle cx="137.5" cy="315.7" r="0.85" fill="#353dad"/><circle cx="137.5" cy="303.7" r="0.79" fill="#353dad"/><circle cx="137.5" cy="291.7" r="0.75" fill="#353dad"/><circle cx="137.5" cy="279.7" r="0.76" fill="#353dad"/><circle cx="137.5" cy="267.8" r="0.79" fill="#353dad"/><circle cx="137.5" cy="255.8" r="0.80" fill="#353dad"/><circle cx="137.5" cy="243.8" r="0.78" fill="#353dad"/><circle cx="137.5" cy="231.8" r="0.71" fill="#3637a0"/><circle cx="137.5" cy="219.9" r="0.64" fill="#3637a0"/><circle cx="137.5" cy="207.9" r="0.63" fill="#3637a0"/><circle cx="137.5" cy="195.9" r="0.69" fill="#3637a0"/><circle cx="137.5" cy="183.9" r="0.66" fill="#3637a0"/><circle cx="137.5" cy="171.9" r="0.52" fill="#363093"/><circle cx="137.5" cy="160.0" r="0.52" fill="#363093"/><circle cx="137.5" cy="148.0" r="0.66" fill="#3637a0"/><circle cx="137.5" cy="136.0" r="0.69" fill="#3637a0"/><circle cx="137.5" cy="124.0" r="0.63" fill="#3637a0"/><circle cx="137.5" cy="112.1" r="0.64" fill="#3637a0"/><circle cx="137.5" cy="100.1" r="0.71" fill="#3637a0"/><circle cx="137.5" cy="88.1" r="0.78" fill="#353dad"/><circle cx="137.5" cy="76.1" r="0.80" fill="#353dad"/><circle cx="137.5" cy="64.2" r="0.79" fill="#353dad"/><circle cx="137.5" cy="52.2" r="0.76" fill="#353dad"/><circle cx="137.5" cy="40.2" r="0.75" fill="#353dad"/><circle cx="137.5" cy="28.2" r="0.79" fill="#353dad"/><circle cx="137.5" cy="16.2" r="0.85" fill="#353dad"/><circle cx="144.5" cy="315.7" r="0.23" fill="#352a87"/><circle cx="144.5" cy="303.7" r="0.22" fill="#352a87"/><circle cx="144.5" cy="291.7" r="0.21" fill="#352a87"/><circle cx="144.5" cy="279.7" r="0.22" fill="#352a87"/><circle cx="144.5" cy="267.8" r="0.23" fill="#352a87"/><circle cx="144.5" cy="255.8" r="0.24" fill="#352a87"/><circle cx="144.5" cy="243.8" r="0.25" fill="#352a87"/><circle cx="144.5" cy="231.8" r="0.28" fill="#352a87"/><circle cx="144.5" cy="219.9" r="0.29" fill="#352a87"/><circle cx="144.5" cy="207.9" r="0.29" fill="#352a87"/><circle cx="144.5" cy="195.9" r="0.36" fill="#363093"/><circle cx="144.5" cy="183.9" r="0.38" fill="#363093"/><circle cx="144.5" cy="171.9" r="0.32" fill="#352a87"/><circle cx="144.5" cy="160.0" r="0.32" fill="#352a87"/><circle cx="144.5" cy="148.0" r="0.38" fill="#363093"/><circle cx="144.5" cy="136.0" r="0.36" fill="#363093"/><circle cx="144.5" cy="124.0" r="0.29" fill="#352a87"/><circle cx="144.5" cy="112.1" r="0.29" fill="#352a87"/><circle cx="144.5" cy="100.1" r="0.28" fill="#352a87"/><circle cx="144.5" cy="88.1" r="0.25" fill="#352a87"/><circle cx="144.5" cy="76.1" r="0.24" fill="#352a87"/><circle cx="144.5" cy="64.2" r="0.23" fill="#352a87"/><circle cx="144.5" cy="52.2" r="0.22" fill="#352a87"/><circle cx="144.5" cy="40.2" r="0.21" fill="#352a87"/><circle cx="144.5" cy="28.2" r="0.22" fill="#352a87"/><circle cx="144.5" cy="16.2" r="0.23" fill="#352a87"/><circle cx="147.9" cy="309.7" r="1.55" fill="#0871de"/><circle cx="147.9" cy="297.7" r="1.62" fill="#0d75dc"/><circle cx="147.9" cy="285.7" r="1.60" fill="#0d75dc"/><circle cx="147.9" cy="273.7" r="1.48" fill="#046de0"/><circle cx="147.9" cy="261.8" r="1.31" fill="#0363e1"/><circle cx="147.9" cy="249.8" r="1.21" fill="#0f5cdd"/><circle cx="147.9" cy="237.8" r="1.20" fill="#0f5cdd"/><circle cx="147.9" cy="225.8" r="1.23" fill="#0f5cdd"/><circle cx="147.9" cy="213.9" r="1.17" fill="#2053d4"/><circle cx="147.9" cy="201.9" r="0.93" fill="#3243ba"/><circle cx="147.9" cy="189.9" r="0.65" fill="#3637a0"/><circle cx="147.9" cy="177.9" r="0.63" fill="#3637a0"/><circle cx="147.9" cy="166.0" r="0.71" fill="#3637a0"/><circle cx="147.9" cy="154.0" r="0.63" fill="#3637a0"/><circle cx="147.9" cy="142.0" r="0.65" fill="#3637a0"/><circle cx="147.9" cy="130.0" r="0.93" fill="#3243ba"/><circle cx="147.9" cy="118.1" r="1.17" fill="#2053d4"/><circle cx="147.9" cy="106.1" r="1.23" fill="#0f5cdd"/><circle cx="147.9" cy="94.1" r="1.20" fill="#0f5cdd"/><circle cx="147.9" cy="82.1" r="1.21" fill="#0f5cdd"/><circle cx="147.9" cy="70.1" r="1.31" fill="#0363e1"/><circle cx="147.9" cy="58.2" r="1.48" fill="#046de0"/><circle cx="147.9" cy="46.2" r="1.60" fill="#0d75dc"/><circle cx="147.9" cy="34.2" r="1.62" fill="#0d75dc"/><circle cx="147.9" cy="22.2" r="1.55" fill="#0871de"/><circle cx="154.9" cy="225.8" r="0.15" fill="#352a87"/><circle cx="154.9" cy="213.9" r="0.22" fill="#352a87"/><circle cx="154.9" cy="201.9" r="0.24" fill="#352a87"/><circle cx="154.9" cy="189.9" r="0.21" fill="#352a87"/><circle cx="154.9" cy="177.9" r="0.25" fill="#352a87"/><circle cx="154.9" cy="166.0" r="0.29" fill="#352a87"/><circle cx="154.9" cy="154.0" r="0.25" fill="#352a87"/><circle cx="154.9" cy="142.0" r="0.21" fill="#352a87"/><circle cx="154.9" cy="130.0" r="0.24" fill="#352a87"/><circle cx="154.9" cy="118.1" r="0.22" fill="#352a87"/><circle cx="154.9" cy="106.1" r="0.15" fill="#352a87"/><circle cx="158.3" cy="315.7" r="2.89" fill="#87bf77"/><circle cx="158.3" cy="303.7" r="2.77" fill="#65be86"/><circle cx="158.3" cy="291.7" r="2.77" fill="#65be86"/><circle cx="158.3" cy="279.7" r="2.96" fill="#9cbf6f"/><circle cx="158.3" cy="267.8" r="3.17" fill="#d9ba56"/><circle cx="158.3" cy="255.8" r="3.20" fill="#e1b952"/><circle cx="158.3" cy="243.8" r="2.93" fill="#9cbf6f"/><circle cx="158.3" cy="231.8" r="2.36" fill="#0aacbe"/><circle cx="158.3" cy="219.9" r="1.61" fill="#0d75dc"/><circle cx="158.3" cy="207.9" r="0.99" fill="#2c4ac7"/><circle cx="158.3" cy="195.9" r="0.83" fill="#353dad"/><circle cx="158.3" cy="183.9" r="0.80" fill="#353dad"/><circle cx="158.3" cy="171.9" r="0.60" fill="#3637a0"/><circle cx="158.3" cy="160.0" r="0.60" fill="#3637a0"/><circle cx="158.3" cy="148.0" r="0.80" fill="#353dad"/><circle cx="158.3" cy="136.0" r="0.83" fill="#353dad"/><circle cx="158.3" cy="124.0" r="0.99" fill="#2c4ac7"/><circle cx="158.3" cy="112.1" r="1.61" fill="#0d75dc"/><circle cx="158.3" cy="100.1" r="2.36" fill="#0aacbe"/><circle cx="158.3" cy="88.1" r="2.93" fill="#9cbf6f"/><circle cx="158.3" cy="76.1" r="3.20" fill="#e1b952"/><circle cx="158.3" cy="64.2" r="3.17" fill="#d9ba56"/><circle cx="158.3" cy="52.2" r="2.96" fill="#9cbf6f"/><circle cx="158.3" cy="40.2" r="2.77" fill="#65be86"/><circle cx="158.3" cy="28.2" r="2.77" fill="#65be86"/><circle cx="158.3" cy="16.2" r="2.89" fill="#87bf77"/><circle cx="165.3" cy="195.9" r="0.17" fill="#352a87"/><circle cx="165.3" cy="183.9" r="0.21" fill="#352a87"/><circle cx="165.3" cy="171.9" r="0.17" fill="#352a87"/><circle cx="165.3" cy="160.0" r="0.17" fill="#352a87"/><circle cx="165.3" cy="148.0" r="0.21" fill="#352a87"/><circle cx="165.3" cy="136.0" r="0.17" fill="#352a87"/><circle cx="168.8" cy="237.8" r="3.65" fill="#f9fb0e"/><circle cx="168.8" cy="225.8" r="1.97" fill="#108ed2"/><circle cx="168.8" cy="213.9" r="1.17" fill="#2053d4"/><circle cx="168.8" cy="201.9" r="0.85" fill="#353dad"/><circle cx="168.8" cy="189.9" r="0.57" fill="#3637a0"/><circle cx="168.8" cy="177.9" r="0.72" fill="#3637a0"/><circle cx="168.8" cy="166.0" r="0.89" fill="#3243ba"/><circle cx="168.8" cy="154.0" r="0.72" fill="#3637a0"/><circle cx="168.8" cy="142.0" r="0.57" fill="#3637a0"/><circle cx="168.8" cy="130.0" r="0.85" fill="#353dad"/><circle cx="168.8" cy="118.1" r="1.17" fill="#2053d4"/><circle cx="168.8" cy="106.1" r="1.97" fill="#108ed2"/><circle cx="168.8" cy="94.1" r="3.65" fill="#f9fb0e"/><circle cx="175.7" cy="166.0" r="0.16" fill="#352a87"/><circle cx="179.2" cy="231.8" r="2.33" fill="#0aacbe"/><circle cx="179.2" cy="219.9" r="0.89" fill="#3243ba"/><circle cx="179.2" cy="207.9" r="0.48" fill="#363093"/><circle cx="179.2" cy="195.9" r="0.90" fill="#3243ba"/><circle cx="179.2" cy="183.9" r="0.99" fill="#2c4ac7"/><circle cx="179.2" cy="171.9" r="0.64" fill="#3637a0"/><circle cx="179.2" cy="160.0" r="0.64" fill="#3637a0"/><circle cx="179.2" cy="148.0" r="0.99" fill="#2c4ac7"/><circle cx="179.2" cy="136.0" r="0.90" fill="#3243ba"/><circle cx="179.2" cy="124.0" r="0.48" fill="#363093"/><circle cx="179.2" cy="112.1" r="0.89" fill="#3243ba"/><circle cx="179.2" cy="100.1" r="2.33" fill="#0aacbe"/><circle cx="189.6" cy="213.9" r="0.89" fill="#3243ba"/><circle cx="189.6" cy="201.9" r="0.82" fill="#353dad"/><circle cx="189.6" cy="189.9" r="0.44" fill="#363093"/><circle cx="189.6" cy="177.9" r="1.01" fill="#2c4ac7"/><circle cx="189.6" cy="166.0" r="1.35" fill="#0268e1"/><circle cx="189.6" cy="154.0" r="1.01" fill="#2c4ac7"/><circle cx="189.6" cy="142.0" r="0.44" fill="#363093"/><circle cx="189.6" cy="130.0" r="0.82" fill="#353dad"/><circle cx="189.6" cy="118.1" r="0.89" fill="#3243ba"/><circle cx="200.0" cy="207.9" r="0.89" fill="#3243ba"/><circle cx="200.0" cy="195.9" r="1.64" fill="#1079da"/><circle cx="200.0" cy="183.9" r="1.60" fill="#0d75dc"/><circle cx="200.0" cy="171.9" r="0.72" fill="#3637a0"/><circle cx="200.0" cy="160.0" r="0.72" fill="#3637a0"/><circle cx="200.0" cy="148.0" r="1.60" fill="#0d75dc"/><circle cx="200.0" cy="136.0" r="1.64" fill="#1079da"/><circle cx="200.0" cy="124.0" r="0.89" fill="#3243ba"/><circle cx="210.4" cy="177.9" r="1.60" fill="#0d75dc"/><circle cx="210.4" cy="166.0" r="2.26" fill="#06a7c6"/><circle cx="210.4" cy="154.0" r="1.60" fill="#0d75dc"/>
<path d="M54.2 160.0L55.5 160.0M61.2 183.9L61.8 182.8M61.2 171.9L59.9 171.9M61.2 171.9L61.8 170.8M61.2 160.0L61.8 158.8M64.6 189.9L65.9 189.9M64.6 177.9L64.0 176.8M64.6 177.9L65.9 177.9M64.6 166.0L64.0 164.8M64.6 154.0L64.0 152.9M64.6 130.0L65.9 130.0M71.6 201.9L70.3 201.9M71.6 201.9L72.2 200.8M71.6 166.0L70.3 166.0M71.6 154.0L70.3 154.0M71.6 142.0L70.3 142.0M71.6 142.0L72.2 140.9M75.1 195.9L74.4 194.8M75.1 160.0L76.4 160.0M75.1 148.0L76.4 148.0M75.1 136.0L74.4 134.9M75.1 136.0L76.4 136.0M75.1 124.0L76.4 124.0M82.0 207.9L80.7 207.9M82.0 195.9L80.7 195.9M82.0 183.9L80.7 183.9M82.0 171.9L80.7 171.9M82.0 112.1L82.6 110.9M85.5 225.8L84.8 227.0M85.5 225.8L84.8 224.7M85.5 154.0L86.8 154.0M85.5 142.0L86.8 142.0M85.5 106.1L84.8 105.0M85.5 106.1L86.8 106.1M92.4 225.8L91.1 225.8M92.4 213.9L93.1 212.7M92.4 201.9L93.1 200.8M92.4 189.9L91.1 189.9M92.4 177.9L91.1 177.9M92.4 166.0L91.1 166.0M95.9 231.8L95.2 233.0M95.9 160.0L97.2 160.0M95.9 136.0L95.2 134.9M95.9 124.0L95.2 122.9M95.9 100.1L95.2 99.0M102.8 171.9L101.5 171.9M106.3 237.8L107.6 237.8M106.3 225.8L107.6 225.8M106.3 154.0L107.6 154.0M106.3 142.0L107.6 142.0M106.3 82.1L107.6 82.1M106.3 70.1L107.6 70.1M106.3 58.2L107.6 58.2M106.3 46.2L107.6 46.2M106.3 34.2L107.6 34.2M106.3 22.2L107.6 22.2M113.2 309.7L111.9 309.7M113.2 297.7L111.9 297.7M113.2 285.7L111.9 285.7M113.2 273.7L111.9 273.7M113.2 261.8L111.9 261.8M113.2 249.8L111.9 249.8M113.2 189.9L111.9 189.9M113.2 177.9L111.9 177.9M113.2 166.0L111.9 166.0M113.2 106.1L111.9 106.1M113.2 94.1L111.9 94.1M116.7 219.9L118.0 219.9M116.7 160.0L118.0 160.0M116.7 148.0L118.0 148.0M116.7 136.0L118.0 136.0M116.7 124.0L118.0 124.0M116.7 100.1L118.0 100.1M116.7 88.1L118.0 88.1M116.7 76.1L118.0 76.1M116.7 64.2L118.0 64.2M116.7 52.2L118.0 52.2M116.7 40.2L118.0 40.2M116.7 28.2L118.0 28.2M116.7 16.2L118.0 16.2M123.6 315.7L122.3 315.7M123.6 303.7L122.3 303.7M123.6 291.7L122.3 291.7M123.6 279.7L122.3 279.7M123.6 267.8L122.3 267.8M123.6 255.8L122.3 255.8M123.6 243.8L122.3 243.8M123.6 231.8L122.3 231.8M123.6 207.9L122.3 207.9M123.6 195.9L122.3 195.9M123.6 183.9L122.3 183.9M123.6 171.9L122.3 171.9M123.6 112.1L122.3 112.1M137.5 315.7L138.8 315.7M137.5 303.7L138.8 303.7M137.5 291.7L138.8 291.7M137.5 279.7L138.8 279.7M137.5 267.8L138.8 267.8M137.5 255.8L138.8 255.8M137.5 243.8L138.8 243.8M137.5 231.8L138.8 231.8M137.5 207.9L138.8 207.9M137.5 195.9L138.8 195.9M137.5 183.9L138.8 183.9M137.5 171.9L138.8 171.9M137.5 112.1L138.8 112.1M144.5 219.9L143.2 219.9M144.5 160.0L143.2 160.0M144.5 148.0L143.2 148.0M144.5 136.0L143.2 136.0M144.5 124.0L143.2 124.0M144.5 100.1L143.2 100.1M144.5 88.1L143.2 88.1M144.5 76.1L143.2 76.1M144.5 64.2L143.2 64.2M144.5 52.2L143.2 52.2M144.5 40.2L143.2 40.2M144.5 28.2L143.2 28.2M144.5 16.2L143.2 16.2M147.9 309.7L149.2 309.7M147.9 297.7L149.2 297.7M147.9 285.7L149.2 285.7M147.9 273.7L149.2 273.7M147.9 261.8L149.2 261.8M147.9 249.8L149.2 249.8M147.9 189.9L149.2 189.9M147.9 177.9L149.2 177.9M147.9 166.0L149.2 166.0M147.9 106.1L149.2 106.1M147.9 94.1L149.2 94.1M154.9 237.8L153.6 237.8M154.9 225.8L153.6 225.8M154.9 154.0L153.6 154.0M154.9 142.0L153.6 142.0M154.9 82.1L153.6 82.1M154.9 70.1L153.6 70.1M154.9 58.2L153.6 58.2M154.9 46.2L153.6 46.2M154.9 34.2L153.6 34.2M154.9 22.2L153.6 22.2M158.3 171.9L159.6 171.9M165.3 231.8L165.9 233.0M165.3 160.0L164.0 160.0M165.3 136.0L165.9 134.9M165.3 124.0L165.9 122.9M165.3 100.1L165.9 99.0M168.8 225.8L170.1 225.8M168.8 213.9L168.1 212.7M168.8 201.9L168.1 200.8M168.8 189.9L170.1 189.9M168.8 177.9L170.1 177.9M168.8 166.0L170.1 166.0M175.7 225.8L176.3 227.0M175.7 225.8L176.3 224.7M175.7 154.0L174.4 154.0M175.7 142.0L174.4 142.0M175.7 106.1L174.4 106.1M175.7 106.1L176.3 105.0M179.2 207.9L180.5 207.9M179.2 195.9L180.5 195.9M179.2 183.9L180.5 183.9M179.2 171.9L180.5 171.9M179.2 112.1L178.5 110.9M186.1 195.9L186.8 194.8M186.1 160.0L184.8 160.0M186.1 148.0L184.8 148.0M186.1 136.0L184.8 136.0M186.1 136.0L186.8 134.9M186.1 124.0L184.8 124.0M189.6 201.9L188.9 200.8M189.6 201.9L190.9 201.9M189.6 166.0L190.9 166.0M189.6 154.0L190.9 154.0M189.6 142.0L188.9 140.9M189.6 142.0L190.9 142.0M196.5 189.9L195.2 189.9M196.5 177.9L195.2 177.9M196.5 177.9L197.2 176.8M196.5 166.0L197.2 164.8M196.5 154.0L197.2 152.9M196.5 130.0L195.2 130.0M200.0 183.9L199.3 182.8M200.0 171.9L199.3 170.8M200.0 171.9L201.3 171.9M200.0 160.0L199.3 158.8M206.9 160.0L205.6 160.0" stroke="#ff1050" stroke-opacity="0.25" stroke-width="1.1" fill="none"/>
<path d="M50.76 177.94L51.19 177.20M51.04 177.29L51.19 177.20L51.18 177.37M50.76 153.98L51.18 153.25M51.04 153.34L51.18 153.25L51.18 153.42M54.23 183.92L53.80 183.19M53.81 183.36L53.80 183.19L53.95 183.27M54.23 159.97L53.80 159.24M53.81 159.41L53.80 159.24L53.95 159.32M54.23 147.99L55.08 147.99M54.93 147.91L55.08 147.99L54.93 148.07M61.17 183.92L60.32 183.92M60.47 184.01L60.32 183.92L60.47 183.84M71.58 213.87L71.98 213.19M71.84 213.27L71.98 213.19L71.97 213.34M71.58 189.91L72.04 189.12M71.89 189.21L72.04 189.12L72.04 189.30M71.58 130.03L72.01 129.29M71.86 129.38L72.01 129.29L72.01 129.46M75.05 207.88L74.62 207.14M74.63 207.31L74.62 207.14L74.77 207.23M75.05 147.99L74.59 147.20M74.60 147.38L74.59 147.20L74.75 147.29M75.05 124.04L74.66 123.36M74.66 123.52L74.66 123.36L74.79 123.44M81.99 207.88L82.44 207.11M82.29 207.20L82.44 207.11L82.43 207.29M81.99 124.04L82.47 123.22M82.31 123.31L82.47 123.22L82.47 123.41M85.46 213.87L84.99 213.04M84.99 213.23L84.99 213.04L85.15 213.14M85.46 130.03L85.02 129.26M85.02 129.44L85.02 129.26L85.17 129.35M92.40 225.84L92.87 225.04M92.71 225.13L92.87 225.04L92.87 225.22M95.88 147.99L96.72 147.99M96.58 147.91L96.72 147.99L96.58 148.08M95.88 112.06L95.40 111.24M95.40 111.43L95.40 111.24L95.56 111.34M102.82 183.92L101.96 183.92M102.11 184.01L101.96 183.92L102.11 183.84M158.34 183.92L159.20 183.92M159.05 183.84L159.20 183.92L159.05 184.01M165.28 147.99L164.44 147.99M164.58 148.08L164.44 147.99L164.58 147.91M165.28 112.06L165.76 111.24M165.60 111.34L165.76 111.24L165.76 111.43M168.76 225.84L168.29 225.04M168.29 225.22L168.29 225.04L168.45 225.13M175.70 213.87L176.17 213.04M176.01 213.14L176.17 213.04L176.17 213.23M175.70 130.03L176.14 129.26M175.99 129.35L176.14 129.26L176.14 129.44M179.17 207.88L178.72 207.11M178.73 207.29L178.72 207.11L178.87 207.20M179.17 124.04L178.69 123.22M178.69 123.41L178.69 123.22L178.85 123.31M186.11 207.88L186.54 207.14M186.39 207.23L186.54 207.14L186.53 207.31M186.11 147.99L186.57 147.20M186.41 147.29L186.57 147.20L186.56 147.38M186.11 124.04L186.50 123.36M186.37 123.44L186.50 123.36L186.50 123.52M189.58 213.87L189.18 213.19M189.19 213.34L189.18 213.19L189.32 213.27M189.58 189.91L189.12 189.12M189.12 189.30L189.12 189.12L189.27 189.21M189.58 130.03L189.15 129.29M189.15 129.46L189.15 129.29L189.30 129.38M199.99 183.92L200.84 183.92M200.69 183.84L200.84 183.92L200.69 184.01M206.93 183.92L207.36 183.19M207.21 183.27L207.36 183.19L207.35 183.36M206.93 159.97L207.36 159.24M207.21 159.32L207.36 159.24L207.35 159.41M206.93 147.99L206.08 147.99M206.23 148.07L206.08 147.99L206.23 147.91M210.40 177.94L209.97 177.20M209.98 177.37L209.97 177.20L210.12 177.29M210.40 153.98L209.98 153.25M209.98 153.42L209.98 153.25L210.12 153.34" stroke="#ff1050" stroke-width="0.875" fill="none" stroke-linecap="butt" stroke-linejoin="bevel"/>
<path d="M50.76 165.96L51.30 165.03M51.11 165.14L51.30 165.03L51.29 165.25M54.23 171.95L53.69 171.02M53.70 171.23L53.69 171.02L53.87 171.13M61.17 207.88L61.75 206.88M61.55 207.00L61.75 206.88L61.74 207.11M61.17 124.04L61.75 123.05M61.55 123.17L61.75 123.05L61.74 123.28M64.64 213.87L64.06 212.87M64.07 213.10L64.06 212.87L64.26 212.99M64.64 130.03L64.06 129.03M64.07 129.26L64.06 129.03L64.26 129.15M64.64 118.05L65.79 118.05M65.59 117.94L65.79 118.05L65.59 118.16M71.58 213.87L70.42 213.87M70.63 213.98L70.42 213.87L70.63 213.75M81.99 112.06L82.65 113.19M82.64 112.93L82.65 113.19L82.42 113.05M85.46 213.87L84.81 215.00M85.03 214.86L84.81 215.00L84.81 214.74M106.29 130.03L107.54 130.03M107.32 129.91L107.54 130.03L107.32 130.15M106.29 118.05L107.59 118.05M107.36 117.93L107.59 118.05L107.36 118.18M113.23 213.87L111.90 213.87M112.13 213.99L111.90 213.87L112.13 213.74M113.23 201.89L111.96 201.89M112.18 202.01L111.96 201.89L112.18 201.77M147.93 213.87L149.26 213.87M149.03 213.74L149.26 213.87L149.03 213.99M147.93 201.89L149.20 201.89M148.98 201.77L149.20 201.89L148.98 202.01M154.87 130.03L153.62 130.03M153.84 130.15L153.62 130.03L153.84 129.91M154.87 118.05L153.57 118.05M153.80 118.18L153.57 118.05L153.80 117.93M175.70 213.87L176.35 215.00M176.35 214.74L176.35 215.00L176.13 214.86M179.17 112.06L178.51 113.19M178.74 113.05L178.51 113.19L178.52 112.93M189.58 213.87L190.74 213.87M190.53 213.75L190.74 213.87L190.53 213.98M196.52 213.87L197.10 212.87M196.90 212.99L197.10 212.87L197.09 213.10M196.52 130.03L197.10 129.03M196.90 129.15L197.10 129.03L197.09 129.26M196.52 118.05L195.37 118.05M195.57 118.16L195.37 118.05L195.57 117.94M199.99 207.88L199.41 206.88M199.42 207.11L199.41 206.88L199.61 207.00M199.99 124.04L199.41 123.05M199.42 123.28L199.41 123.05L199.61 123.17M206.93 171.95L207.47 171.02M207.29 171.13L207.47 171.02L207.46 171.23M210.40 165.96L209.86 165.03M209.87 165.25L209.86 165.03L210.05 165.14" stroke="#ff1050" stroke-width="1.000" fill="none" stroke-linecap="butt" stroke-linejoin="bevel"/>
<path d="M61.17 147.99L61.94 146.67M61.68 146.83L61.94 146.67L61.93 146.97M64.64 189.91L63.87 188.58M63.88 188.89L63.87 188.58L64.13 188.74M71.58 177.94L72.41 176.51M72.13 176.68L72.41 176.51L72.40 176.84M71.58 153.98L72.35 152.66M72.09 152.81L72.35 152.66L72.34 152.96M75.05 183.92L74.28 182.59M74.29 182.90L74.28 182.59L74.54 182.75M75.05 159.97L74.23 158.55M74.24 158.88L74.23 158.55L74.51 158.72M81.99 183.92L82.69 182.72M82.45 182.86L82.69 182.72L82.69 183.00M81.99 171.95L82.73 170.67M82.48 170.83L82.73 170.67L82.72 170.97M81.99 159.97L82.79 158.60M82.52 158.76L82.79 158.60L82.78 158.91M85.46 177.94L84.67 176.56M84.68 176.88L84.67 176.56L84.94 176.73M85.46 165.96L84.72 164.68M84.73 164.98L84.72 164.68L84.98 164.83M85.46 153.98L84.76 152.77M84.77 153.05L84.76 152.77L85.00 152.91M85.46 130.03L86.80 130.03M86.57 129.90L86.80 130.03L86.57 130.16M92.40 201.89L91.06 201.89M91.29 202.02L91.06 201.89L91.29 201.76M92.40 106.07L93.20 104.71M92.93 104.87L93.20 104.71L93.19 105.03M95.88 231.83L95.09 230.47M95.10 230.79L95.09 230.47L95.36 230.63M95.88 136.02L97.25 136.02M97.00 135.89L97.25 136.02L97.00 136.15M95.88 124.04L97.22 124.04M96.99 123.91L97.22 124.04L96.99 124.17M95.88 100.09L97.44 100.09M97.17 99.94L97.44 100.09L97.17 100.24M102.82 231.83L101.23 231.83M101.51 231.98L101.23 231.83L101.51 231.68M102.82 207.88L101.46 207.88M101.70 208.01L101.46 207.88L101.70 207.75M102.82 195.90L101.44 195.90M101.68 196.03L101.44 195.90L101.68 195.77M158.34 231.83L159.93 231.83M159.65 231.68L159.93 231.83L159.65 231.98M158.34 207.88L159.70 207.88M159.46 207.75L159.70 207.88L159.46 208.01M158.34 195.90L159.72 195.90M159.48 195.77L159.72 195.90L159.48 196.03M165.28 231.83L166.07 230.47M165.80 230.63L166.07 230.47L166.06 230.79M165.28 136.02L163.91 136.02M164.16 136.15L163.91 136.02L164.16 135.89M165.28 124.04L163.94 124.04M164.17 124.17L163.94 124.04L164.17 123.91M165.28 100.09L163.72 100.09M163.99 100.24L163.72 100.09L163.99 99.94M168.76 201.89L170.10 201.89M169.87 201.76L170.10 201.89L169.87 202.02M168.76 106.07L167.96 104.71M167.97 105.03L167.96 104.71L168.23 104.87M175.70 177.94L176.49 176.56M176.22 176.73L176.49 176.56L176.48 176.88M175.70 165.96L176.44 164.68M176.18 164.83L176.44 164.68L176.43 164.98M175.70 153.98L176.40 152.77M176.16 152.91L176.40 152.77L176.39 153.05M175.70 130.03L174.36 130.03M174.59 130.16L174.36 130.03L174.59 129.90M179.17 183.92L178.47 182.72M178.47 183.00L178.47 182.72L178.71 182.86M179.17 171.95L178.43 170.67M178.44 170.97L178.43 170.67L178.68 170.83M179.17 159.97L178.37 158.60M178.38 158.91L178.37 158.60L178.64 158.76M186.11 183.92L186.88 182.59M186.62 182.75L186.88 182.59L186.87 182.90M186.11 159.97L186.93 158.55M186.65 158.72L186.93 158.55L186.92 158.88M189.58 177.94L188.75 176.51M188.76 176.84L188.75 176.51L189.03 176.68M189.58 153.98L188.81 152.66M188.82 152.96L188.81 152.66L189.07 152.81M196.52 189.91L197.29 188.58M197.03 188.74L197.29 188.58L197.28 188.89M199.99 147.99L199.22 146.67M199.23 146.97L199.22 146.67L199.48 146.83" stroke="#ff1050" stroke-width="1.125" fill="none" stroke-linecap="butt" stroke-linejoin="bevel"/>
<path d="M61.17 195.90L62.07 194.36M61.76 194.54L62.07 194.36L62.06 194.71M61.17 136.02L62.06 134.48M61.76 134.66L62.06 134.48L62.05 134.83M64.64 201.89L63.74 200.34M63.75 200.70L63.74 200.34L64.05 200.53M64.64 142.01L63.75 140.46M63.76 140.82L63.75 140.46L64.05 140.65M71.58 165.96L72.46 164.44M72.16 164.62L72.46 164.44L72.45 164.79M71.58 118.05L72.55 116.38M72.22 116.58L72.55 116.38L72.54 116.76M75.05 219.85L74.08 218.17M74.09 218.56L74.08 218.17L74.41 218.38M75.05 171.95L74.17 170.42M74.18 170.78L74.17 170.42L74.47 170.61M75.05 112.06L76.99 112.06M76.65 111.88L76.99 112.06L76.65 112.25M81.99 219.85L80.05 219.85M80.39 220.04L80.05 219.85L80.39 219.67M81.99 195.90L82.88 194.37M82.58 194.55L82.88 194.37L82.87 194.72M81.99 147.99L83.00 146.25M82.66 146.46L83.00 146.25L82.99 146.65M85.46 189.91L84.45 188.17M84.46 188.57L84.45 188.17L84.80 188.38M85.46 142.01L84.57 140.47M84.58 140.83L84.57 140.47L84.88 140.66M92.40 189.91L93.27 188.42M92.97 188.60L93.27 188.42L93.26 188.77M92.40 142.01L93.39 140.31M93.05 140.51L93.39 140.31L93.38 140.70M92.40 130.03L93.37 128.36M93.04 128.56L93.37 128.36L93.36 128.74M95.88 207.88L94.91 206.20M94.92 206.59L94.91 206.20L95.24 206.40M95.88 195.90L94.89 194.20M94.90 194.59L94.89 194.20L95.23 194.40M95.88 147.99L95.01 146.50M95.02 146.85L95.01 146.50L95.31 146.68M95.88 112.06L97.77 112.06M97.44 111.88L97.77 112.06L97.44 112.24M102.82 219.85L100.90 219.85M101.24 220.04L100.90 219.85L101.24 219.67M158.34 219.85L160.26 219.85M159.92 219.67L160.26 219.85L159.92 220.04M165.28 207.88L166.25 206.20M165.92 206.40L166.25 206.20L166.24 206.59M165.28 195.90L166.27 194.20M165.93 194.40L166.27 194.20L166.26 194.59M165.28 147.99L166.15 146.50M165.85 146.68L166.15 146.50L166.14 146.85M165.28 112.06L163.39 112.06M163.72 112.24L163.39 112.06L163.72 111.88M168.76 189.91L167.89 188.42M167.90 188.77L167.89 188.42L168.19 188.60M168.76 142.01L167.77 140.31M167.78 140.70L167.77 140.31L168.11 140.51M168.76 130.03L167.79 128.36M167.80 128.74L167.79 128.36L168.12 128.56M175.70 189.91L176.71 188.17M176.36 188.38L176.71 188.17L176.70 188.57M175.70 142.01L176.59 140.47M176.28 140.66L176.59 140.47L176.58 140.83M179.17 219.85L181.11 219.85M180.77 219.67L181.11 219.85L180.77 220.04M179.17 195.90L178.28 194.37M178.29 194.72L178.28 194.37L178.58 194.55M179.17 147.99L178.16 146.25M178.17 146.65L178.16 146.25L178.50 146.46M186.11 219.85L187.08 218.17M186.75 218.38L187.08 218.17L187.07 218.56M186.11 171.95L186.99 170.42M186.69 170.61L186.99 170.42L186.98 170.78M186.11 112.06L184.17 112.06M184.51 112.25L184.17 112.06L184.51 111.88M189.58 165.96L188.70 164.44M188.71 164.79L188.70 164.44L189.00 164.62M189.58 118.05L188.61 116.38M188.62 116.76L188.61 116.38L188.94 116.58M196.52 201.89L197.42 200.34M197.11 200.53L197.42 200.34L197.41 200.70M196.52 142.01L197.41 140.46M197.11 140.65L197.41 140.46L197.40 140.82M199.99 195.90L199.09 194.36M199.10 194.71L199.09 194.36L199.40 194.54M199.99 136.02L199.10 134.48M199.11 134.83L199.10 134.48L199.40 134.66" stroke="#ff1050" stroke-width="1.250" fill="none" stroke-linecap="butt" stroke-linejoin="bevel"/>
<path d="M81.99 136.02L83.11 134.09M82.73 134.32L83.11 134.09L83.10 134.54M85.46 201.89L84.35 199.96M84.36 200.41L84.35 199.96L84.73 200.19M85.46 118.05L87.73 118.05M87.33 117.83L87.73 118.05L87.33 118.27M92.40 213.87L90.13 213.87M90.53 214.08L90.13 213.87L90.53 213.65M92.40 177.94L93.60 175.87M93.19 176.12L93.60 175.87L93.59 176.35M95.88 159.97L94.68 157.91M94.69 158.38L94.68 157.91L95.09 158.15M165.28 159.97L166.48 157.91M166.07 158.15L166.48 157.91L166.47 158.38M168.76 213.87L171.03 213.87M170.63 213.65L171.03 213.87L170.63 214.08M168.76 177.94L167.56 175.87M167.57 176.35L167.56 175.87L167.97 176.12M175.70 201.89L176.81 199.96M176.43 200.19L176.81 199.96L176.80 200.41M175.70 118.05L173.43 118.05M173.83 118.27L173.43 118.05L173.83 117.83M179.17 136.02L178.05 134.09M178.06 134.54L178.05 134.09L178.43 134.32" stroke="#ff1050" stroke-width="1.375" fill="none" stroke-linecap="butt" stroke-linejoin="bevel"/>
<path d="M92.40 165.96L93.68 163.76M93.25 164.02L93.68 163.76L93.67 164.27M92.40 153.98L93.69 151.76M93.25 152.02L93.69 151.76L93.68 152.27M95.88 183.92L94.58 181.69M94.59 182.21L94.58 181.69L95.02 181.96M95.88 171.95L94.60 169.74M94.61 170.25L94.60 169.74L95.03 170.00M102.82 219.85L104.20 217.46M103.73 217.75L104.20 217.46L104.19 218.01M102.82 207.88L104.19 205.51M103.72 205.80L104.19 205.51L104.17 206.06M102.82 195.90L104.13 193.63M103.68 193.91L104.13 193.63L104.12 194.16M102.82 183.92L104.08 181.75M103.65 182.01L104.08 181.75L104.06 182.25M106.29 153.98L105.02 151.80M105.04 152.31L105.02 151.80L105.46 152.07M106.29 142.01L104.97 139.74M104.99 140.26L104.97 139.74L105.42 140.01M106.29 130.03L104.91 127.66M104.93 128.21L104.91 127.66L105.38 127.95M154.87 153.98L156.14 151.80M155.70 152.07L156.14 151.80L156.12 152.31M154.87 142.01L156.19 139.74M155.74 140.01L156.19 139.74L156.17 140.26M154.87 130.03L156.25 127.66M155.78 127.95L156.25 127.66L156.23 128.21M158.34 219.85L156.96 217.46M156.97 218.01L156.96 217.46L157.43 217.75M158.34 207.88L156.97 205.51M156.99 206.06L156.97 205.51L157.44 205.80M158.34 195.90L157.03 193.63M157.04 194.16L157.03 193.63L157.48 193.91M158.34 183.92L157.08 181.75M157.10 182.25L157.08 181.75L157.51 182.01M165.28 183.92L166.58 181.69M166.14 181.96L166.58 181.69L166.57 182.21M165.28 171.95L166.56 169.74M166.13 170.00L166.56 169.74L166.55 170.25M168.76 165.96L167.48 163.76M167.49 164.27L167.48 163.76L167.91 164.02M168.76 153.98L167.47 151.76M167.48 152.27L167.47 151.76L167.91 152.02" stroke="#ff1050" stroke-width="1.500" fill="none" stroke-linecap="butt" stroke-linejoin="bevel"/>
<path d="M92.40 118.05L93.83 115.59M93.34 115.89L93.83 115.59L93.82 116.16M95.88 219.85L94.45 217.39M94.46 217.96L94.45 217.39L94.94 217.69M102.82 171.95L104.24 169.49M103.76 169.78L104.24 169.49L104.23 170.05M102.82 159.97L104.32 157.37M103.81 157.68L104.32 157.37L104.31 157.97M106.29 177.94L104.78 175.33M104.79 175.93L104.78 175.33L105.29 175.64M106.29 165.96L104.86 163.49M104.87 164.06L104.86 163.49L105.35 163.79M106.29 118.05L104.89 115.65M104.91 116.20L104.89 115.65L105.37 115.94M154.87 177.94L156.38 175.33M155.87 175.64L156.38 175.33L156.37 175.93M154.87 165.96L156.30 163.49M155.81 163.79L156.30 163.49L156.29 164.06M154.87 118.05L156.27 115.65M155.79 115.94L156.27 115.65L156.25 116.20M158.34 171.95L156.92 169.49M156.93 170.05L156.92 169.49L157.40 169.78M158.34 159.97L156.84 157.37M156.85 157.97L156.84 157.37L157.35 157.68M165.28 219.85L166.71 217.39M166.22 217.69L166.71 217.39L166.70 217.96M168.76 118.05L167.33 115.59M167.34 116.16L167.33 115.59L167.82 115.89" stroke="#ff1050" stroke-width="1.625" fill="none" stroke-linecap="butt" stroke-linejoin="bevel"/>
<path d="M102.82 147.99L104.50 145.08M103.93 145.43L104.50 145.08L104.49 145.76M106.29 189.91L104.60 187.00M104.61 187.67L104.60 187.00L105.17 187.35M154.87 189.91L156.56 187.00M155.99 187.35L156.56 187.00L156.55 187.67M158.34 147.99L156.66 145.08M156.67 145.76L156.66 145.08L157.23 145.43" stroke="#ff1050" stroke-width="1.750" fill="none" stroke-linecap="butt" stroke-linejoin="bevel"/>
<path d="M113.23 177.94L115.15 174.61M114.50 175.01L115.15 174.61L115.13 175.38M116.70 159.97L114.77 156.65M114.79 157.42L114.77 156.65L115.43 157.05M144.46 159.97L146.39 156.65M145.73 157.05L146.39 156.65L146.37 157.42M147.93 177.94L146.01 174.61M146.03 175.38L146.01 174.61L146.66 175.01" stroke="#ff1050" stroke-width="1.875" fill="none" stroke-linecap="butt" stroke-linejoin="bevel"/>
<path d="M102.82 136.02L104.82 132.57M104.13 132.98L104.82 132.57L104.80 133.36M102.82 124.04L104.86 120.51M104.16 120.93L104.86 120.51L104.84 121.33M106.29 213.87L104.24 210.33M104.26 211.15L104.24 210.33L104.94 210.75M106.29 201.89L104.28 198.43M104.30 199.23L104.28 198.43L104.97 198.85M113.23 201.89L115.34 198.25M114.62 198.69L115.34 198.25L115.32 199.09M113.23 189.91L115.19 186.52M114.52 186.93L115.19 186.52L115.17 187.30M113.23 165.96L115.21 162.54M114.54 162.95L115.21 162.54L115.19 163.33M116.70 171.95L114.71 168.52M114.73 169.31L114.71 168.52L115.39 168.93M116.70 147.99L114.73 144.60M114.75 145.39L114.73 144.60L115.40 145.01M116.70 136.02L114.59 132.38M114.61 133.22L114.59 132.38L115.31 132.81M144.46 171.95L146.45 168.52M145.77 168.93L146.45 168.52L146.43 169.31M144.46 147.99L146.43 144.60M145.76 145.01L146.43 144.60L146.41 145.39M144.46 136.02L146.57 132.38M145.85 132.81L146.57 132.38L146.55 133.22M147.93 201.89L145.82 198.25M145.84 199.09L145.82 198.25L146.54 198.69M147.93 189.91L145.97 186.52M145.99 187.30L145.97 186.52L146.64 186.93M147.93 165.96L145.95 162.54M145.97 163.33L145.95 162.54L146.62 162.95M154.87 213.87L156.92 210.33M156.22 210.75L156.92 210.33L156.90 211.15M154.87 201.89L156.88 198.43M156.19 198.85L156.88 198.43L156.86 199.23M158.34 136.02L156.34 132.57M156.36 133.36L156.34 132.57L157.03 132.98M158.34 124.04L156.30 120.51M156.32 121.33L156.30 120.51L157.00 120.93" stroke="#ff1050" stroke-width="2.000" fill="none" stroke-linecap="butt" stroke-linejoin="bevel"/>
<path d="M113.23 153.98L115.40 150.24M114.66 150.69L115.40 150.24L115.38 151.10M116.70 183.92L114.52 180.17M114.55 181.04L114.52 180.17L115.26 180.62M144.46 183.92L146.64 180.17M145.90 180.62L146.64 180.17L146.61 181.04M147.93 153.98L145.76 150.24M145.78 151.10L145.76 150.24L146.50 150.69" stroke="#ff1050" stroke-width="2.125" fill="none" stroke-linecap="butt" stroke-linejoin="bevel"/>
<path d="M102.82 231.83L105.19 227.73M104.38 228.22L105.19 227.73L105.17 228.68M102.82 112.06L105.16 108.03M104.36 108.51L105.16 108.03L105.13 108.96M106.29 225.84L103.94 221.79M103.96 222.73L103.94 221.79L104.74 222.28M106.29 106.07L103.91 101.98M103.94 102.93L103.91 101.98L104.72 102.47M113.23 142.01L115.56 137.97M114.77 138.46L115.56 137.97L115.54 138.90M116.70 195.90L114.36 191.86M114.38 192.79L114.36 191.86L115.15 192.34M123.64 183.92L126.09 179.70M125.25 180.20L126.09 179.70L126.06 180.67M123.64 171.95L126.03 167.83M125.21 168.32L126.03 167.83L126.00 168.78M123.64 159.97L126.09 155.75M125.25 156.25L126.09 155.75L126.06 156.72M127.11 177.94L124.66 173.71M124.68 174.68L124.66 173.71L125.49 174.21M127.11 165.96L124.72 161.84M124.75 162.79L124.72 161.84L125.54 162.33M127.11 153.98L124.66 149.76M124.69 150.73L124.66 149.76L125.50 150.27M134.05 177.94L136.50 173.71M135.67 174.21L136.50 173.71L136.48 174.68M134.05 165.96L136.44 161.84M135.62 162.33L136.44 161.84L136.41 162.79M134.05 153.98L136.50 149.76M135.66 150.27L136.50 149.76L136.47 150.73M137.52 183.92L135.07 179.70M135.10 180.67L135.07 179.70L135.91 180.20M137.52 171.95L135.13 167.83M135.16 168.78L135.13 167.83L135.95 168.32M137.52 159.97L135.07 155.75M135.10 156.72L135.07 155.75L135.91 156.25M144.46 195.90L146.80 191.86M146.01 192.34L146.80 191.86L146.78 192.79M147.93 142.01L145.60 137.97M145.62 138.90L145.60 137.97L146.39 138.46M154.87 225.84L157.22 221.79M156.42 222.28L157.22 221.79L157.20 222.73M154.87 106.07L157.25 101.98M156.44 102.47L157.25 101.98L157.22 102.93M158.34 231.83L155.97 227.73M155.99 228.68L155.97 227.73L156.78 228.22M158.34 112.06L156.00 108.03M156.03 108.96L156.00 108.03L156.80 108.51" stroke="#ff1050" stroke-width="2.250" fill="none" stroke-linecap="butt" stroke-linejoin="bevel"/>
<path d="M102.82 315.67L105.41 311.19M104.53 311.73L105.41 311.19L105.39 312.22M102.82 303.69L105.44 299.17M104.54 299.71L105.44 299.17L105.41 300.21M102.82 28.23L105.40 23.76M104.52 24.30L105.40 23.76L105.38 24.79M102.82 16.25L105.37 11.84M104.50 12.37L105.37 11.84L105.35 12.86M106.29 321.66L103.69 317.17M103.71 318.21L103.69 317.17L104.57 317.71M106.29 309.68L103.66 305.15M103.69 306.20L103.66 305.15L104.56 305.69M106.29 34.21L103.70 29.74M103.72 30.78L103.70 29.74L104.58 30.28M106.29 22.24L103.73 17.82M103.75 18.84L103.73 17.82L104.60 18.35M123.64 147.99L126.29 143.42M125.39 143.97L126.29 143.42L126.26 144.47M127.11 142.01L124.46 137.43M124.48 138.49L124.46 137.43L125.36 137.98M134.05 142.01L136.70 137.43M135.80 137.98L136.70 137.43L136.68 138.49M137.52 147.99L134.87 143.42M134.90 144.47L134.87 143.42L135.77 143.97M154.87 321.66L157.47 317.17M156.59 317.71L157.47 317.17L157.45 318.21M154.87 309.68L157.50 305.15M156.60 305.69L157.50 305.15L157.47 306.20M154.87 34.21L157.46 29.74M156.58 30.28L157.46 29.74L157.44 30.78M154.87 22.24L157.43 17.82M156.56 18.35L157.43 17.82L157.41 18.84M158.34 315.67L155.75 311.19M155.77 312.22L155.75 311.19L156.63 311.73M158.34 303.69L155.72 299.17M155.75 300.21L155.72 299.17L156.62 299.71M158.34 28.23L155.76 23.76M155.78 24.79L155.76 23.76L156.64 24.30M158.34 16.25L155.79 11.84M155.81 12.86L155.79 11.84L156.66 12.37" stroke="#ff1050" stroke-width="2.375" fill="none" stroke-linecap="butt" stroke-linejoin="bevel"/>
<path d="M102.82 291.71L105.52 287.05M104.60 287.61L105.52 287.05L105.49 288.13M102.82 52.18L105.65 47.30M104.68 47.88L105.65 47.30L105.62 48.42M102.82 40.20L105.49 35.60M104.58 36.15L105.49 35.60L105.46 36.66M106.29 297.70L103.58 293.04M103.61 294.11L103.58 293.04L104.50 293.60M106.29 58.17L103.45 53.28M103.48 54.41L103.45 53.28L104.42 53.86M106.29 46.19L103.61 41.58M103.64 42.64L103.61 41.58L104.53 42.13M113.23 249.80L116.03 244.96M115.08 245.54L116.03 244.96L116.00 246.08M113.23 213.87L115.92 209.22M115.00 209.78L115.92 209.22L115.89 210.30M113.23 130.03L115.96 125.31M115.03 125.87L115.96 125.31L115.94 126.40M116.70 207.88L113.95 203.14M113.98 204.23L113.95 203.14L114.89 203.71M116.70 124.04L114.01 119.41M114.04 120.48L114.01 119.41L114.93 119.96M116.70 88.11L113.91 83.31M113.94 84.42L113.91 83.31L114.86 83.88M123.64 195.90L126.30 191.31M125.39 191.86L126.30 191.31L126.27 192.37M127.11 189.91L124.45 185.32M124.48 186.38L124.45 185.32L125.36 185.87M134.05 189.91L136.71 185.32M135.80 185.87L136.71 185.32L136.68 186.38M137.52 195.90L134.86 191.31M134.89 192.37L134.86 191.31L135.77 191.86M144.46 207.88L147.21 203.14M146.27 203.71L147.21 203.14L147.18 204.23M144.46 124.04L147.15 119.41M146.23 119.96L147.15 119.41L147.12 120.48M144.46 88.11L147.25 83.31M146.30 83.88L147.25 83.31L147.22 84.42M147.93 249.80L145.13 244.96M145.16 246.08L145.13 244.96L146.08 245.54M147.93 213.87L145.24 209.22M145.27 210.30L145.24 209.22L146.16 209.78M147.93 130.03L145.20 125.31M145.22 126.40L145.20 125.31L146.13 125.87M154.87 297.70L157.58 293.04M156.66 293.60L157.58 293.04L157.55 294.11M154.87 58.17L157.71 53.28M156.74 53.86L157.71 53.28L157.68 54.41M154.87 46.19L157.55 41.58M156.63 42.13L157.55 41.58L157.52 42.64M158.34 291.71L155.64 287.05M155.67 288.13L155.64 287.05L156.56 287.61M158.34 52.18L155.51 47.30M155.54 48.42L155.51 47.30L156.48 47.88M158.34 40.20L155.67 35.60M155.70 36.66L155.67 35.60L156.58 36.15" stroke="#ff1050" stroke-width="2.500" fill="none" stroke-linecap="butt" stroke-linejoin="bevel"/>
<path d="M102.82 279.74L105.68 274.80M104.70 275.39L105.68 274.80L105.65 275.94M102.82 267.76L105.92 262.41M104.86 263.05L105.92 262.41L105.88 263.65M102.82 255.78L106.17 250.00M105.02 250.70L106.17 250.00L106.13 251.34M102.82 243.81L106.26 237.86M105.09 238.57L106.26 237.86L106.23 239.23M102.82 100.09L105.97 94.65M104.89 95.30L105.97 94.65L105.94 95.90M102.82 88.11L106.25 82.19M105.08 82.90L106.25 82.19L106.21 83.56M102.82 76.13L106.14 70.39M105.01 71.08L106.14 70.39L106.11 71.72M102.82 64.16L105.89 58.85M104.84 59.49L105.89 58.85L105.86 60.08M106.29 285.73L103.42 280.78M103.45 281.93L103.42 280.78L104.40 281.38M106.29 273.75L103.18 268.39M103.21 269.63L103.18 268.39L104.24 269.04M106.29 261.77L102.93 255.98M102.97 257.32L102.93 255.98L104.08 256.68M106.29 249.80L102.83 243.84M102.87 245.22L102.83 243.84L104.01 244.55M106.29 237.82L103.12 232.35M103.15 233.61L103.12 232.35L104.20 233.00M106.29 94.10L102.85 88.18M102.89 89.54L102.85 88.18L104.02 88.89M106.29 82.12L102.96 76.37M102.99 77.70L102.96 76.37L104.09 77.06M106.29 70.14L103.21 64.84M103.24 66.06L103.21 64.84L104.26 65.47M113.23 321.66L116.59 315.85M115.45 316.54L116.59 315.85L116.56 317.19M113.23 309.68L116.62 303.82M115.46 304.52L116.62 303.82L116.59 305.18M113.23 297.70L116.62 291.86M115.46 292.56L116.62 291.86L116.58 293.21M113.23 285.73L116.52 280.04M115.40 280.72L116.52 280.04L116.49 281.36M113.23 273.75L116.32 268.41M115.27 269.05L116.32 268.41L116.29 269.64M113.23 261.77L116.09 256.83M115.11 257.43L116.09 256.83L116.06 257.98M113.23 237.82L116.43 232.30M115.34 232.96L116.43 232.30L116.40 233.57M113.23 225.84L116.59 220.05M115.44 220.74L116.59 220.05L116.55 221.39M113.23 118.05L116.56 112.30M115.43 112.99L116.56 112.30L116.53 113.63M113.23 106.07L116.54 100.36M115.41 101.05L116.54 100.36L116.50 101.68M113.23 94.10L116.13 89.09M115.14 89.69L116.13 89.09L116.10 90.25M113.23 82.12L116.11 77.15M115.13 77.75L116.11 77.15L116.08 78.30M113.23 70.14L116.32 64.82M115.26 65.45L116.32 64.82L116.29 66.05M113.23 58.17L116.53 52.46M115.41 53.15L116.53 52.46L116.50 53.78M113.23 46.19L116.65 40.29M115.48 41.00L116.65 40.29L116.61 41.66M113.23 34.21L116.65 28.30M115.49 29.01L116.65 28.30L116.62 29.67M113.23 22.24L116.61 16.41M115.46 17.10L116.61 16.41L116.57 17.75M116.70 315.67L113.27 309.76M113.31 311.12L113.27 309.76L114.44 310.47M116.70 303.69L113.23 297.70M113.26 299.09L113.23 297.70L114.41 298.42M116.70 291.71L113.24 285.75M113.27 287.13L113.24 285.75L114.42 286.46M116.70 279.74L113.36 273.97M113.39 275.31L113.36 273.97L114.50 274.67M116.70 267.76L113.58 262.38M113.61 263.62L113.58 262.38L114.64 263.03M116.70 255.78L113.79 250.77M113.82 251.93L113.79 250.77L114.78 251.37M116.70 243.81L113.77 238.76M113.80 239.93L113.77 238.76L114.77 239.37M116.70 231.83L113.37 226.08M113.40 227.41L113.37 226.08L114.50 226.77M116.70 219.85L113.34 214.07M113.38 215.40L113.34 214.07L114.49 214.76M116.70 112.06L113.35 106.29M113.39 107.63L113.35 106.29L114.49 106.99M116.70 100.09L113.52 94.60M113.55 95.86L113.52 94.60L114.60 95.25M116.70 76.13L113.86 71.23M113.89 72.37L113.86 71.23L114.83 71.82M116.70 64.16L113.63 58.86M113.66 60.09L113.63 58.86L114.68 59.50M116.70 52.18L113.44 46.55M113.47 47.85L113.44 46.55L114.55 47.23M116.70 40.20L113.35 34.42M113.38 35.76L113.35 34.42L114.49 35.12M116.70 28.23L113.34 22.44M113.38 23.78L113.34 22.44L114.49 23.13M116.70 16.25L113.37 10.51M113.41 11.84L113.37 10.51L114.51 11.20M123.64 315.67L127.10 309.70M125.92 310.42L127.10 309.70L127.06 311.08M123.64 303.69L127.02 297.86M125.87 298.56L127.02 297.86L126.99 299.21M123.64 291.71L126.95 286.00M125.82 286.69L126.95 286.00L126.91 287.32M123.64 279.74L126.90 274.11M125.79 274.78L126.90 274.11L126.87 275.41M123.64 267.76L126.88 262.17M125.77 262.84L126.88 262.17L126.85 263.46M123.64 255.78L126.83 250.27M125.74 250.93L126.83 250.27L126.80 251.55M123.64 243.81L126.71 238.51M125.66 239.14L126.71 238.51L126.68 239.73M123.64 231.83L126.58 226.76M125.58 227.36L126.58 226.76L126.55 227.93M123.64 219.85L126.59 214.77M125.58 215.38L126.59 214.77L126.56 215.94M123.64 207.88L126.53 202.89M125.54 203.49L126.53 202.89L126.50 204.04M123.64 136.02L126.52 131.05M125.54 131.64L126.52 131.05L126.49 132.20M123.64 124.04L126.57 118.98M125.57 119.59L126.57 118.98L126.54 120.15M123.64 112.06L126.56 107.02M125.57 107.62L126.56 107.02L126.53 108.18M123.64 100.09L126.69 94.82M125.65 95.45L126.69 94.82L126.66 96.04M123.64 88.11L126.81 82.64M125.73 83.30L126.81 82.64L126.78 83.90M123.64 76.13L126.85 70.59M125.76 71.26L126.85 70.59L126.82 71.87M123.64 64.16L126.87 58.58M125.77 59.25L126.87 58.58L126.84 59.87M123.64 52.18L126.91 46.53M125.80 47.21L126.91 46.53L126.88 47.84M123.64 40.20L126.98 34.44M125.84 35.13L126.98 34.44L126.95 35.77M123.64 28.23L127.05 22.34M125.89 23.04L127.05 22.34L127.02 23.70M123.64 16.25L127.11 10.26M125.93 10.98L127.11 10.26L127.07 11.64M127.11 321.66L123.59 315.59M123.63 316.99L123.59 315.59L124.79 316.32M127.11 309.68L123.65 303.71M123.69 305.09L123.65 303.71L124.83 304.43M127.11 297.70L123.73 291.87M123.76 293.22L123.73 291.87L124.88 292.57M127.11 285.73L123.80 280.02M123.83 281.34L123.80 280.02L124.93 280.70M127.11 273.75L123.85 268.12M123.88 269.42L123.85 268.12L124.96 268.79M127.11 261.77L123.87 256.18M123.90 257.47L123.87 256.18L124.97 256.85M127.11 249.80L123.91 244.28M123.95 245.56L123.91 244.28L125.00 244.94M127.11 237.82L124.04 232.52M124.07 233.74L124.04 232.52L125.08 233.15M127.11 225.84L124.17 220.77M124.20 221.94L124.17 220.77L125.17 221.38M127.11 213.87L124.16 208.78M124.19 209.96L124.16 208.78L125.17 209.39M127.11 201.89L124.22 196.90M124.25 198.05L124.22 196.90L125.20 197.50M127.11 130.03L124.23 125.06M124.26 126.21L124.23 125.06L125.21 125.65M127.11 118.05L124.18 112.99M124.21 114.16L124.18 112.99L125.18 113.60M127.11 106.07L124.19 101.03M124.22 102.20L124.19 101.03L125.18 101.64M127.11 94.10L124.06 88.83M124.09 90.05L124.06 88.83L125.10 89.47M127.11 82.12L123.94 76.65M123.97 77.92L123.94 76.65L125.02 77.31M127.11 70.14L123.90 64.60M123.93 65.88L123.90 64.60L124.99 65.27M127.11 58.17L123.88 52.59M123.91 53.88L123.88 52.59L124.98 53.26M127.11 46.19L123.84 40.54M123.87 41.85L123.84 40.54L124.95 41.22M127.11 34.21L123.77 28.45M123.80 29.78L123.77 28.45L124.91 29.14M127.11 22.24L123.70 16.35M123.73 17.71L123.70 16.35L124.86 17.05M134.05 321.66L137.57 315.59M136.37 316.32L137.57 315.59L137.53 316.99M134.05 309.68L137.51 303.71M136.33 304.43L137.51 303.71L137.47 305.09M134.05 297.70L137.43 291.87M136.28 292.57L137.43 291.87L137.40 293.22M134.05 285.73L137.36 280.02M136.23 280.70L137.36 280.02L137.33 281.34M134.05 273.75L137.31 268.12M136.20 268.79L137.31 268.12L137.28 269.42M134.05 261.77L137.29 256.18M136.19 256.85L137.29 256.18L137.26 257.47M134.05 249.80L137.25 244.28M136.16 244.94L137.25 244.28L137.21 245.56M134.05 237.82L137.12 232.52M136.08 233.15L137.12 232.52L137.09 233.74M134.05 225.84L136.99 220.77M135.99 221.38L136.99 220.77L136.96 221.94M134.05 213.87L137.00 208.78M135.99 209.39L137.00 208.78L136.97 209.96M134.05 201.89L136.94 196.90M135.96 197.50L136.94 196.90L136.91 198.05M134.05 130.03L136.93 125.06M135.95 125.65L136.93 125.06L136.90 126.21M134.05 118.05L136.98 112.99M135.98 113.60L136.98 112.99L136.95 114.16M134.05 106.07L136.97 101.03M135.98 101.64L136.97 101.03L136.94 102.20M134.05 94.10L137.10 88.83M136.06 89.47L137.10 88.83L137.07 90.05M134.05 82.12L137.22 76.65M136.14 77.31L137.22 76.65L137.19 77.92M134.05 70.14L137.26 64.60M136.17 65.27L137.26 64.60L137.23 65.88M134.05 58.17L137.28 52.59M136.18 53.26L137.28 52.59L137.25 53.88M134.05 46.19L137.32 40.54M136.21 41.22L137.32 40.54L137.29 41.85M134.05 34.21L137.39 28.45M136.25 29.14L137.39 28.45L137.36 29.78M134.05 22.24L137.46 16.35M136.30 17.05L137.46 16.35L137.43 17.71M137.52 315.67L134.06 309.70M134.10 311.08L134.06 309.70L135.24 310.42M137.52 303.69L134.14 297.86M134.17 299.21L134.14 297.86L135.29 298.56M137.52 291.71L134.21 286.00M134.25 287.32L134.21 286.00L135.34 286.69M137.52 279.74L134.26 274.11M134.29 275.41L134.26 274.11L135.37 274.78M137.52 267.76L134.28 262.17M134.31 263.46L134.28 262.17L135.39 262.84M137.52 255.78L134.33 250.27M134.36 251.55L134.33 250.27L135.42 250.93M137.52 243.81L134.45 238.51M134.48 239.73L134.45 238.51L135.50 239.14M137.52 231.83L134.58 226.76M134.61 227.93L134.58 226.76L135.58 227.36M137.52 219.85L134.57 214.77M134.60 215.94L134.57 214.77L135.58 215.38M137.52 207.88L134.63 202.89M134.66 204.04L134.63 202.89L135.62 203.49M137.52 136.02L134.64 131.05M134.67 132.20L134.64 131.05L135.62 131.64M137.52 124.04L134.59 118.98M134.62 120.15L134.59 118.98L135.59 119.59M137.52 112.06L134.60 107.02M134.63 108.18L134.60 107.02L135.59 107.62M137.52 100.09L134.47 94.82M134.50 96.04L134.47 94.82L135.51 95.45M137.52 88.11L134.35 82.64M134.38 83.90L134.35 82.64L135.43 83.30M137.52 76.13L134.31 70.59M134.34 71.87L134.31 70.59L135.40 71.26M137.52 64.16L134.29 58.58M134.32 59.87L134.29 58.58L135.39 59.25M137.52 52.18L134.25 46.53M134.28 47.84L134.25 46.53L135.36 47.21M137.52 40.20L134.18 34.44M134.21 35.77L134.18 34.44L135.32 35.13M137.52 28.23L134.11 22.34M134.14 23.70L134.11 22.34L135.27 23.04M137.52 16.25L134.05 10.26M134.09 11.64L134.05 10.26L135.23 10.98M144.46 315.67L147.89 309.76M146.72 310.47L147.89 309.76L147.85 311.12M144.46 303.69L147.93 297.70M146.75 298.42L147.93 297.70L147.90 299.09M144.46 291.71L147.92 285.75M146.74 286.46L147.92 285.75L147.89 287.13M144.46 279.74L147.80 273.97M146.66 274.67L147.80 273.97L147.77 275.31M144.46 267.76L147.58 262.38M146.52 263.03L147.58 262.38L147.55 263.62M144.46 255.78L147.37 250.77M146.38 251.37L147.37 250.77L147.34 251.93M144.46 243.81L147.39 238.76M146.39 239.37L147.39 238.76L147.36 239.93M144.46 231.83L147.79 226.08M146.66 226.77L147.79 226.08L147.76 227.41M144.46 219.85L147.82 214.07M146.67 214.76L147.82 214.07L147.78 215.40M144.46 112.06L147.81 106.29M146.67 106.99L147.81 106.29L147.77 107.63M144.46 100.09L147.64 94.60M146.56 95.25L147.64 94.60L147.61 95.86M144.46 76.13L147.30 71.23M146.33 71.82L147.30 71.23L147.27 72.37M144.46 64.16L147.53 58.86M146.48 59.50L147.53 58.86L147.50 60.09M144.46 52.18L147.72 46.55M146.61 47.23L147.72 46.55L147.69 47.85M144.46 40.20L147.81 34.42M146.67 35.12L147.81 34.42L147.78 35.76M144.46 28.23L147.82 22.44M146.67 23.13L147.82 22.44L147.78 23.78M144.46 16.25L147.79 10.51M146.65 11.20L147.79 10.51L147.75 11.84M147.93 321.66L144.57 315.85M144.60 317.19L144.57 315.85L145.71 316.54M147.93 309.68L144.54 303.82M144.57 305.18L144.54 303.82L145.70 304.52M147.93 297.70L144.54 291.86M144.58 293.21L144.54 291.86L145.70 292.56M147.93 285.73L144.64 280.04M144.67 281.36L144.64 280.04L145.76 280.72M147.93 273.75L144.84 268.41M144.87 269.64L144.84 268.41L145.89 269.05M147.93 261.77L145.07 256.83M145.10 257.98L145.07 256.83L146.05 257.43M147.93 237.82L144.73 232.30M144.76 233.57L144.73 232.30L145.82 232.96M147.93 225.84L144.57 220.05M144.61 221.39L144.57 220.05L145.72 220.74M147.93 118.05L144.60 112.30M144.63 113.63L144.60 112.30L145.73 112.99M147.93 106.07L144.62 100.36M144.66 101.68L144.62 100.36L145.75 101.05M147.93 94.10L145.03 89.09M145.06 90.25L145.03 89.09L146.02 89.69M147.93 82.12L145.05 77.15M145.08 78.30L145.05 77.15L146.03 77.75M147.93 70.14L144.84 64.82M144.87 66.05L144.84 64.82L145.90 65.45M147.93 58.17L144.63 52.46M144.66 53.78L144.63 52.46L145.75 53.15M147.93 46.19L144.51 40.29M144.55 41.66L144.51 40.29L145.68 41.00M147.93 34.21L144.51 28.30M144.54 29.67L144.51 28.30L145.67 29.01M147.93 22.24L144.55 16.41M144.59 17.75L144.55 16.41L145.70 17.10M154.87 285.73L157.74 280.78M156.76 281.38L157.74 280.78L157.71 281.93M154.87 273.75L157.98 268.39M156.92 269.04L157.98 268.39L157.95 269.63M154.87 261.77L158.23 255.98M157.08 256.68L158.23 255.98L158.19 257.32M154.87 249.80L158.33 243.84M157.15 244.55L158.33 243.84L158.29 245.22M154.87 237.82L158.04 232.35M156.96 233.00L158.04 232.35L158.01 233.61M154.87 94.10L158.31 88.18M157.14 88.89L158.31 88.18L158.27 89.54M154.87 82.12L158.20 76.37M157.07 77.06L158.20 76.37L158.17 77.70M154.87 70.14L157.95 64.84M156.90 65.47L157.95 64.84L157.92 66.06M158.34 279.74L155.48 274.80M155.51 275.94L155.48 274.80L156.46 275.39M158.34 267.76L155.24 262.41M155.28 263.65L155.24 262.41L156.30 263.05M158.34 255.78L154.99 250.00M155.03 251.34L154.99 250.00L156.14 250.70M158.34 243.81L154.90 237.86M154.93 239.23L154.90 237.86L156.07 238.57M158.34 100.09L155.19 94.65M155.22 95.90L155.19 94.65L156.27 95.30M158.34 88.11L154.91 82.19M154.95 83.56L154.91 82.19L156.08 82.90M158.34 76.13L155.02 70.39M155.05 71.72L155.02 70.39L156.15 71.08M158.34 64.16L155.27 58.85M155.30 60.08L155.27 58.85L156.32 59.49" stroke="#ff1050" stroke-width="2.625" fill="none" stroke-linecap="butt" stroke-linejoin="bevel"/>
</g>
<rect x="230.40" y="26.20" width="43.30" height="169.00" fill="#fff"/>
<clipPath id="iclipa"><rect x="230.40" y="26.20" width="43.30" height="169.00"/></clipPath>
<g clip-path="url(#iclipa)">
<line x1="230.40" y1="112.22" x2="273.70" y2="112.22" stroke="#ff6cff" stroke-width="0.9"/>
<polyline points="261.32,195.20 261.59,194.86 261.41,194.52 260.94,194.19 260.25,193.85 259.33,193.51 258.10,193.17 256.31,192.83 255.62,192.50 256.33,192.16 256.57,191.82 256.15,191.48 252.61,191.14 248.24,190.81 245.06,190.47 243.12,190.13 241.89,189.79 240.63,189.45 240.77,189.12 242.80,188.78 245.04,188.44 247.47,188.10 249.62,187.76 251.19,187.43 252.09,187.09 252.29,186.75 251.00,186.41 242.39,186.07 246.31,185.74 257.14,185.40 259.38,185.06 258.82,184.72 258.44,184.38 258.19,184.05 257.97,183.71 257.80,183.37 258.27,183.03 251.65,182.69 252.43,182.36 251.74,182.02 251.68,181.68 252.88,181.34 254.66,181.00 256.12,180.67 256.99,180.33 257.39,179.99 257.46,179.65 257.33,179.31 257.09,178.98 256.83,178.64 256.67,178.30 256.86,177.96 257.98,177.62 258.78,177.29 250.13,176.95 247.25,176.61 247.98,176.27 247.95,175.93 247.95,175.60 248.03,175.26 248.21,174.92 248.51,174.58 248.89,174.24 249.30,173.91 249.66,173.57 249.84,173.23 249.73,172.89 249.29,172.55 248.76,172.22 248.57,171.88 248.95,171.54 249.77,171.20 250.77,170.86 251.67,170.53 252.31,170.19 252.54,169.85 252.25,169.51 251.35,169.17 249.76,168.84 247.49,168.50 244.71,168.16 241.70,167.82 238.76,167.48 235.88,167.15 232.64,166.81 231.07,166.47 231.74,166.13 232.32,165.79 232.68,165.46 232.73,165.12 232.34,164.78 231.48,164.44 230.50,164.10 231.15,163.77 234.66,163.43 238.05,163.09 239.82,162.75 240.61,162.41 240.96,162.08 241.12,161.74 241.19,161.40 241.22,161.06 241.22,160.72 241.20,160.39 241.17,160.05 241.13,159.71 241.07,159.37 240.99,159.03 240.90,158.70 240.79,158.36 240.65,158.02 240.48,157.68 240.28,157.34 240.04,157.01 239.76,156.67 239.43,156.33 239.04,155.99 238.59,155.65 238.06,155.32 237.45,154.98 236.74,154.64 235.95,154.30 235.06,153.96 234.11,153.63 233.13,153.29 232.20,152.95 231.40,152.61 230.83,152.27 230.52,151.94 230.42,151.60 230.47,151.26 231.98,150.92 240.06,150.58 240.89,150.25 240.25,149.91 240.11,149.57 240.19,149.23 240.36,148.89 240.53,148.56 240.68,148.22 240.81,147.88 240.92,147.54 241.00,147.20 241.07,146.87 241.12,146.53 241.15,146.19 241.18,145.85 241.20,145.51 241.21,145.18 241.22,144.84 241.22,144.50 241.22,144.16 241.22,143.82 241.22,143.49 241.22,143.15 241.21,142.81 241.21,142.47 241.21,142.13 241.20,141.80 241.20,141.46 241.20,141.12 241.20,140.78 241.19,140.44 241.19,140.11 241.19,139.77 241.19,139.43 241.19,139.09 241.19,138.75 241.19,138.42 241.19,138.08 241.19,137.74 241.19,137.40 241.19,137.06 241.19,136.73 241.19,136.39 241.19,136.05 241.19,135.71 241.18,135.37 241.18,135.04 241.18,134.70 241.18,134.36 241.17,134.02 241.17,133.68 241.17,133.35 241.16,133.01 241.16,132.67 241.15,132.33 241.14,131.99 241.13,131.66 241.12,131.32 241.11,130.98 241.10,130.64 241.08,130.30 241.07,129.97 241.05,129.63 241.03,129.29 241.01,128.95 240.98,128.61 240.95,128.28 240.92,127.94 240.89,127.60 240.86,127.26 240.82,126.92 240.78,126.59 240.74,126.25 240.69,125.91 240.64,125.57 240.59,125.23 240.54,124.90 240.49,124.56 240.43,124.22 240.38,123.88 240.32,123.54 240.27,123.21 240.21,122.87 240.15,122.53 240.10,122.19 240.05,121.85 239.99,121.52 239.95,121.18 239.90,120.84 239.86,120.50 239.83,120.16 239.80,119.83 239.78,119.49 239.76,119.15 239.76,118.81 239.76,118.47 239.77,118.14 239.79,117.80 239.83,117.46 239.88,117.12 239.94,116.78 240.02,116.45 240.11,116.11 240.21,115.77 240.33,115.43 240.46,115.09 240.61,114.76 240.75,114.42 240.90,114.08 241.04,113.74 241.15,113.40 241.21,113.07 241.20,112.73 241.10,112.39 240.89,112.05 240.59,111.71 240.34,111.38 240.57,111.04 231.71,110.70 240.57,110.36 240.34,110.02 240.59,109.69 240.89,109.35 241.10,109.01 241.20,108.67 241.21,108.33 241.15,108.00 241.04,107.66 240.90,107.32 240.75,106.98 240.61,106.64 240.46,106.31 240.33,105.97 240.21,105.63 240.11,105.29 240.02,104.95 239.94,104.62 239.88,104.28 239.83,103.94 239.79,103.60 239.77,103.26 239.76,102.93 239.76,102.59 239.76,102.25 239.78,101.91 239.80,101.57 239.83,101.24 239.86,100.90 239.90,100.56 239.95,100.22 239.99,99.88 240.05,99.55 240.10,99.21 240.15,98.87 240.21,98.53 240.27,98.19 240.32,97.86 240.38,97.52 240.43,97.18 240.49,96.84 240.54,96.50 240.59,96.17 240.64,95.83 240.69,95.49 240.74,95.15 240.78,94.81 240.82,94.48 240.86,94.14 240.89,93.80 240.92,93.46 240.95,93.12 240.98,92.79 241.01,92.45 241.03,92.11 241.05,91.77 241.07,91.43 241.08,91.10 241.10,90.76 241.11,90.42 241.12,90.08 241.13,89.74 241.14,89.41 241.15,89.07 241.16,88.73 241.16,88.39 241.17,88.05 241.17,87.72 241.17,87.38 241.18,87.04 241.18,86.70 241.18,86.36 241.18,86.03 241.19,85.69 241.19,85.35 241.19,85.01 241.19,84.67 241.19,84.34 241.19,84.00 241.19,83.66 241.19,83.32 241.19,82.98 241.19,82.65 241.19,82.31 241.19,81.97 241.19,81.63 241.19,81.29 241.19,80.96 241.20,80.62 241.20,80.28 241.20,79.94 241.20,79.60 241.21,79.27 241.21,78.93 241.21,78.59 241.22,78.25 241.22,77.91 241.22,77.58 241.22,77.24 241.22,76.90 241.22,76.56 241.21,76.22 241.20,75.89 241.18,75.55 241.15,75.21 241.12,74.87 241.07,74.53 241.00,74.20 240.92,73.86 240.81,73.52 240.68,73.18 240.53,72.84 240.36,72.51 240.19,72.17 240.11,71.83 240.25,71.49 240.89,71.15 240.06,70.82 231.98,70.48 230.47,70.14 230.42,69.80 230.52,69.46 230.83,69.13 231.40,68.79 232.20,68.45 233.13,68.11 234.11,67.77 235.06,67.44 235.95,67.10 236.74,66.76 237.45,66.42 238.06,66.08 238.59,65.75 239.04,65.41 239.43,65.07 239.76,64.73 240.04,64.39 240.28,64.06 240.48,63.72 240.65,63.38 240.79,63.04 240.90,62.70 240.99,62.37 241.07,62.03 241.13,61.69 241.17,61.35 241.20,61.01 241.22,60.68 241.22,60.34 241.19,60.00 241.12,59.66 240.96,59.32 240.61,58.99 239.82,58.65 238.05,58.31 234.66,57.97 231.15,57.63 230.50,57.30 231.48,56.96 232.34,56.62 232.73,56.28 232.68,55.94 232.32,55.61 231.74,55.27 231.07,54.93 232.64,54.59 235.88,54.25 238.76,53.92 241.70,53.58 244.71,53.24 247.49,52.90 249.76,52.56 251.35,52.23 252.25,51.89 252.54,51.55 252.31,51.21 251.67,50.87 250.77,50.54 249.77,50.20 248.95,49.86 248.57,49.52 248.76,49.18 249.29,48.85 249.73,48.51 249.84,48.17 249.66,47.83 249.30,47.49 248.89,47.16 248.51,46.82 248.21,46.48 248.03,46.14 247.95,45.80 247.95,45.47 247.98,45.13 247.25,44.79 250.13,44.45 258.78,44.11 257.98,43.78 256.86,43.44 256.67,43.10 256.83,42.76 257.09,42.42 257.33,42.09 257.46,41.75 257.39,41.41 256.99,41.07 256.12,40.73 254.66,40.40 252.88,40.06 251.68,39.72 251.74,39.38 252.43,39.04 251.65,38.71 258.27,38.37 257.80,38.03 257.97,37.69 258.19,37.35 258.44,37.02 258.82,36.68 259.38,36.34 257.14,36.00 246.31,35.66 242.39,35.33 251.00,34.99 252.29,34.65 252.09,34.31 251.19,33.97 249.62,33.64 247.47,33.30 245.04,32.96 242.80,32.62 240.77,32.28 240.63,31.95 241.89,31.61 243.12,31.27 245.06,30.93 248.24,30.59 252.61,30.26 256.15,29.92 256.57,29.58 256.33,29.24 255.62,28.90 256.31,28.57 258.10,28.23 259.33,27.89 260.25,27.55 260.94,27.21 261.41,26.88 261.59,26.54 261.32,26.20" fill="none" stroke="#1a1aff" stroke-width="0.9" stroke-linejoin="round"/>
</g>
<path d="M230.40 195.20h1.6M273.70 195.20h-1.6M230.40 178.30h1.6M273.70 178.30h-1.6M230.40 161.40h1.6M273.70 161.40h-1.6M230.40 144.50h1.6M273.70 144.50h-1.6M230.40 127.60h1.6M273.70 127.60h-1.6M230.40 110.70h1.6M273.70 110.70h-1.6M230.40 93.80h1.6M273.70 93.80h-1.6M230.40 76.90h1.6M273.70 76.90h-1.6M230.40 60.00h1.6M273.70 60.00h-1.6M230.40 43.10h1.6M273.70 43.10h-1.6M230.40 26.20h1.6M273.70 26.20h-1.6M230.40 195.20v-1.6M230.40 26.20v1.6M241.22 195.20v-1.6M241.22 26.20v1.6M252.05 195.20v-1.6M252.05 26.20v1.6M262.88 195.20v-1.6M262.88 26.20v1.6M273.70 195.20v-1.6M273.70 26.20v1.6" stroke="#a3a3a3" stroke-width="0.6" fill="none"/>
<rect x="230.40" y="26.20" width="43.30" height="169.00" stroke="#a3a3a3" stroke-width="0.7" fill="none"/>
<text x="228.80" y="197.40" text-anchor="end" style="font-family:'Liberation Serif',serif;font-size:6.3px" fill="#262626">-2.5</text>
<text x="228.80" y="180.50" text-anchor="end" style="font-family:'Liberation Serif',serif;font-size:6.3px" fill="#262626">-2</text>
<text x="228.80" y="163.60" text-anchor="end" style="font-family:'Liberation Serif',serif;font-size:6.3px" fill="#262626">-1.5</text>
<text x="228.80" y="146.70" text-anchor="end" style="font-family:'Liberation Serif',serif;font-size:6.3px" fill="#262626">-1</text>
<text x="228.80" y="129.80" text-anchor="end" style="font-family:'Liberation Serif',serif;font-size:6.3px" fill="#262626">-0.5</text>
<text x="228.80" y="112.90" text-anchor="end" style="font-family:'Liberation Serif',serif;font-size:6.3px" fill="#262626">0</text>
<text x="228.80" y="96.00" text-anchor="end" style="font-family:'Liberation Serif',serif;font-size:6.3px" fill="#262626">0.5</text>
<text x="228.80" y="79.10" text-anchor="end" style="font-family:'Liberation Serif',serif;font-size:6.3px" fill="#262626">1</text>
<text x="228.80" y="62.20" text-anchor="end" style="font-family:'Liberation Serif',serif;font-size:6.3px" fill="#262626">1.5</text>
<text x="228.80" y="45.30" text-anchor="end" style="font-family:'Liberation Serif',serif;font-size:6.3px" fill="#262626">2</text>
<text x="228.80" y="28.40" text-anchor="end" style="font-family:'Liberation Serif',serif;font-size:6.3px" fill="#262626">2.5</text>
<text x="230.40" y="203.80" text-anchor="middle" style="font-family:'Liberation Serif',serif;font-size:6.3px" fill="#262626">0</text>
<text x="252.05" y="203.80" text-anchor="middle" style="font-family:'Liberation Serif',serif;font-size:6.3px" fill="#262626">2</text>
<text x="273.70" y="203.80" text-anchor="middle" style="font-family:'Liberation Serif',serif;font-size:6.3px" fill="#262626">4</text>
<text x="252.05" y="211.60" text-anchor="middle" style="font-family:'Liberation Serif',serif;font-size:6.8px" fill="#262626">Trasmission</text>
<text transform="translate(215.60,110.70) rotate(-90)" text-anchor="middle" style="font-family:'Liberation Serif',serif;font-size:7.3px" fill="#262626">Energy (eV)</text>
<path d="M54.23 195.90L61.17 195.90M54.23 136.02L61.17 136.02M206.93 195.90L199.99 195.90M206.93 136.02L199.99 136.02" stroke="#bdb8ad" stroke-width="1.5" fill="none"/>
<path d="M51.86 192.30L57.86 199.50M51.86 199.50L57.86 192.30" stroke="#1d3770" stroke-width="2.4" fill="none" stroke-linecap="round"/>
<path d="M51.86 192.30L57.86 199.50M51.86 199.50L57.86 192.30" stroke="#b9c2d4" stroke-width="1.0" fill="none" stroke-dasharray="0.8 0.7"/>
<path d="M51.86 132.42L57.86 139.62M51.86 139.62L57.86 132.42" stroke="#1d3770" stroke-width="2.4" fill="none" stroke-linecap="round"/>
<path d="M51.86 132.42L57.86 139.62M51.86 139.62L57.86 132.42" stroke="#b9c2d4" stroke-width="1.0" fill="none" stroke-dasharray="0.8 0.7"/>
<path d="M202.80 192.30L208.80 199.50M202.80 199.50L208.80 192.30" stroke="#1d3770" stroke-width="2.4" fill="none" stroke-linecap="round"/>
<path d="M202.80 192.30L208.80 199.50M202.80 199.50L208.80 192.30" stroke="#b9c2d4" stroke-width="1.0" fill="none" stroke-dasharray="0.8 0.7"/>
<path d="M202.80 132.42L208.80 139.62M202.80 139.62L208.80 132.42" stroke="#1d3770" stroke-width="2.4" fill="none" stroke-linecap="round"/>
<path d="M202.80 132.42L208.80 139.62M202.80 139.62L208.80 132.42" stroke="#b9c2d4" stroke-width="1.0" fill="none" stroke-dasharray="0.8 0.7"/>
<linearGradient id="grada" x1="0" y1="0" x2="0" y2="1"><stop offset="0.0000" stop-color="#f9fb0e"/><stop offset="0.0159" stop-color="#f6f313"/><stop offset="0.0317" stop-color="#f5eb18"/><stop offset="0.0476" stop-color="#f5e41d"/><stop offset="0.0635" stop-color="#f5de21"/><stop offset="0.0794" stop-color="#f7d826"/><stop offset="0.0952" stop-color="#fad32a"/><stop offset="0.1111" stop-color="#fcce2e"/><stop offset="0.1270" stop-color="#fec832"/><stop offset="0.1429" stop-color="#ffc337"/><stop offset="0.1587" stop-color="#fdbe3d"/><stop offset="0.1746" stop-color="#f8bb44"/><stop offset="0.1905" stop-color="#f1b94a"/><stop offset="0.2063" stop-color="#e9b94e"/><stop offset="0.2222" stop-color="#e1b952"/><stop offset="0.2381" stop-color="#d9ba56"/><stop offset="0.2540" stop-color="#d1bb59"/><stop offset="0.2698" stop-color="#c8bc5d"/><stop offset="0.2857" stop-color="#c0bc60"/><stop offset="0.3016" stop-color="#b7bd64"/><stop offset="0.3175" stop-color="#aebe67"/><stop offset="0.3333" stop-color="#a5be6b"/><stop offset="0.3492" stop-color="#9cbf6f"/><stop offset="0.3651" stop-color="#92bf73"/><stop offset="0.3810" stop-color="#87bf77"/><stop offset="0.3968" stop-color="#7cbf7b"/><stop offset="0.4127" stop-color="#71bf80"/><stop offset="0.4286" stop-color="#65be86"/><stop offset="0.4444" stop-color="#59bd8c"/><stop offset="0.4603" stop-color="#4dbc92"/><stop offset="0.4762" stop-color="#42bb98"/><stop offset="0.4921" stop-color="#38b99e"/><stop offset="0.5079" stop-color="#2eb7a4"/><stop offset="0.5238" stop-color="#25b5a9"/><stop offset="0.5397" stop-color="#1db3af"/><stop offset="0.5556" stop-color="#15b1b4"/><stop offset="0.5714" stop-color="#0faeb9"/><stop offset="0.5873" stop-color="#0aacbe"/><stop offset="0.6032" stop-color="#07a9c2"/><stop offset="0.6190" stop-color="#06a7c6"/><stop offset="0.6349" stop-color="#06a4ca"/><stop offset="0.6508" stop-color="#06a0cd"/><stop offset="0.6667" stop-color="#079ccf"/><stop offset="0.6825" stop-color="#0998d1"/><stop offset="0.6984" stop-color="#0c93d2"/><stop offset="0.7143" stop-color="#108ed2"/><stop offset="0.7302" stop-color="#1389d3"/><stop offset="0.7460" stop-color="#1485d4"/><stop offset="0.7619" stop-color="#1481d6"/><stop offset="0.7778" stop-color="#127dd8"/><stop offset="0.7937" stop-color="#1079da"/><stop offset="0.8095" stop-color="#0d75dc"/><stop offset="0.8254" stop-color="#0871de"/><stop offset="0.8413" stop-color="#046de0"/><stop offset="0.8571" stop-color="#0268e1"/><stop offset="0.8730" stop-color="#0363e1"/><stop offset="0.8889" stop-color="#0f5cdd"/><stop offset="0.9048" stop-color="#2053d4"/><stop offset="0.9206" stop-color="#2c4ac7"/><stop offset="0.9365" stop-color="#3243ba"/><stop offset="0.9524" stop-color="#353dad"/><stop offset="0.9683" stop-color="#3637a0"/><stop offset="0.9841" stop-color="#363093"/><stop offset="1.0000" stop-color="#352a87"/></linearGradient>
<rect x="278.30" y="20.90" width="14.50" height="290.70" fill="url(#grada)" stroke="#a3a3a3" stroke-width="0.6"/>
<text x="296.00" y="24.60" style="font-family:'Liberation Serif',serif;font-size:10.6px" fill="#262626">4e-01</text>
<text x="296.00" y="315.30" style="font-family:'Liberation Serif',serif;font-size:10.6px" fill="#262626">3e-05</text>
<text transform="translate(307.40,166.25) rotate(-90)" text-anchor="middle" style="font-family:'Liberation Serif',serif;font-size:10.9px" fill="#262626">LDOS (arb. unit)</text>
<text x="167.00" y="300.70" style="font-family:'Liberation Serif',serif;font-size:8.9px" fill="#000">net current<tspan dy="3.5" style="font-size:6.6px">max</tspan><tspan dy="-3.5">=9e-04 (4e/h)</tspan></text>
<path d="M395.50 313.20v-3.0M395.50 22.50v3.0M444.10 313.20v-3.0M444.10 22.50v3.0M492.70 313.20v-3.0M492.70 22.50v3.0M541.30 313.20v-3.0M541.30 22.50v3.0M589.90 313.20v-3.0M589.90 22.50v3.0M638.50 313.20v-3.0M638.50 22.50v3.0M395.50 313.20h3.0M638.50 313.20h-3.0M395.50 264.75h3.0M638.50 264.75h-3.0M395.50 216.30h3.0M638.50 216.30h-3.0M395.50 167.85h3.0M638.50 167.85h-3.0M395.50 119.40h3.0M638.50 119.40h-3.0M395.50 70.95h3.0M638.50 70.95h-3.0M395.50 22.50h3.0M638.50 22.50h-3.0" stroke="#a3a3a3" stroke-width="0.9" fill="none"/>
<rect x="395.50" y="22.50" width="243.00" height="290.70" stroke="#a3a3a3" stroke-width="0.9" fill="none"/>
<text x="395.50" y="327.40" text-anchor="middle" style="font-family:'Liberation Serif',serif;font-size:10.2px" fill="#262626">-20</text>
<text x="444.10" y="327.40" text-anchor="middle" style="font-family:'Liberation Serif',serif;font-size:10.2px" fill="#262626">-10</text>
<text x="492.70" y="327.40" text-anchor="middle" style="font-family:'Liberation Serif',serif;font-size:10.2px" fill="#262626">0</text>
<text x="541.30" y="327.40" text-anchor="middle" style="font-family:'Liberation Serif',serif;font-size:10.2px" fill="#262626">10</text>
<text x="589.90" y="327.40" text-anchor="middle" style="font-family:'Liberation Serif',serif;font-size:10.2px" fill="#262626">20</text>
<text x="638.50" y="327.40" text-anchor="middle" style="font-family:'Liberation Serif',serif;font-size:10.2px" fill="#262626">30</text>
<text x="391.20" y="317.20" text-anchor="end" style="font-family:'Liberation Serif',serif;font-size:10.2px" fill="#262626">-30</text>
<text x="391.20" y="268.75" text-anchor="end" style="font-family:'Liberation Serif',serif;font-size:10.2px" fill="#262626">-20</text>
<text x="391.20" y="220.30" text-anchor="end" style="font-family:'Liberation Serif',serif;font-size:10.2px" fill="#262626">-10</text>
<text x="391.20" y="171.85" text-anchor="end" style="font-family:'Liberation Serif',serif;font-size:10.2px" fill="#262626">0</text>
<text x="391.20" y="123.40" text-anchor="end" style="font-family:'Liberation Serif',serif;font-size:10.2px" fill="#262626">10</text>
<text x="391.20" y="74.95" text-anchor="end" style="font-family:'Liberation Serif',serif;font-size:10.2px" fill="#262626">20</text>
<text x="391.20" y="26.50" text-anchor="end" style="font-family:'Liberation Serif',serif;font-size:10.2px" fill="#262626">30</text>
<text x="517.00" y="341.50" text-anchor="middle" style="font-family:'Liberation Serif',serif;font-size:11.5px" fill="#262626">X (&#197;)</text>
<text transform="translate(371.40,167.85) rotate(-90)" text-anchor="middle" style="font-family:'Liberation Serif',serif;font-size:11.5px" fill="#262626">Y (&#197;)</text>
<text x="393.70" y="14.00" style="font-family:'Liberation Serif',serif;font-size:17px" fill="#000">(b)</text>
<clipPath id="clipb"><rect x="395.50" y="21.70" width="243.00" height="292.30"/></clipPath>
<g clip-path="url(#clipb)">
<path d="M412.8 179.5L416.3 185.5M412.8 179.5L416.3 173.5M412.8 167.6L416.3 173.5M412.8 167.6L416.3 161.6M412.8 155.6L416.3 161.6M412.8 155.6L416.3 149.6M416.3 185.5L423.2 185.5M416.3 173.5L423.2 173.5M416.3 161.6L423.2 161.6M416.3 149.6L423.2 149.6M423.2 209.4L426.7 215.4M423.2 209.4L426.7 203.4M423.2 197.4L426.7 203.4M423.2 197.4L426.7 191.5M423.2 185.5L426.7 191.5M423.2 185.5L426.7 179.5M423.2 173.5L426.7 179.5M423.2 173.5L426.7 167.6M423.2 161.6L426.7 167.6M423.2 161.6L426.7 155.6M423.2 149.6L426.7 155.6M423.2 149.6L426.7 143.7M423.2 137.7L426.7 143.7M423.2 137.7L426.7 131.7M423.2 125.7L426.7 131.7M423.2 125.7L426.7 119.8M426.7 215.4L433.6 215.4M426.7 203.4L433.6 203.4M426.7 191.5L433.6 191.5M426.7 179.5L433.6 179.5M426.7 167.6L433.6 167.6M426.7 155.6L433.6 155.6M426.7 143.7L433.6 143.7M426.7 131.7L433.6 131.7M426.7 119.8L433.6 119.8M433.6 215.4L437.1 221.3M433.6 215.4L437.1 209.4M433.6 203.4L437.1 209.4M433.6 203.4L437.1 197.4M433.6 191.5L437.1 197.4M433.6 191.5L437.1 185.5M433.6 179.5L437.1 185.5M433.6 179.5L437.1 173.5M433.6 167.6L437.1 173.5M433.6 167.6L437.1 161.6M433.6 155.6L437.1 161.6M433.6 155.6L437.1 149.6M433.6 143.7L437.1 149.6M433.6 143.7L437.1 137.7M433.6 131.7L437.1 137.7M433.6 131.7L437.1 125.7M433.6 119.8L437.1 125.7M433.6 119.8L437.1 113.8M437.1 221.3L444.1 221.3M437.1 209.4L444.1 209.4M437.1 197.4L444.1 197.4M437.1 185.5L444.1 185.5M437.1 173.5L444.1 173.5M437.1 161.6L444.1 161.6M437.1 149.6L444.1 149.6M437.1 137.7L444.1 137.7M437.1 125.7L444.1 125.7M437.1 113.8L444.1 113.8M444.1 221.3L447.5 227.3M444.1 221.3L447.5 215.4M444.1 209.4L447.5 215.4M444.1 209.4L447.5 203.4M444.1 197.4L447.5 203.4M444.1 197.4L447.5 191.5M444.1 185.5L447.5 191.5M444.1 185.5L447.5 179.5M444.1 173.5L447.5 179.5M444.1 173.5L447.5 167.6M444.1 161.6L447.5 167.6M444.1 161.6L447.5 155.6M444.1 149.6L447.5 155.6M444.1 149.6L447.5 143.7M444.1 137.7L447.5 143.7M444.1 137.7L447.5 131.7M444.1 125.7L447.5 131.7M444.1 125.7L447.5 119.8M444.1 113.8L447.5 119.8M444.1 113.8L447.5 107.8M447.5 227.3L454.5 227.3M447.5 215.4L454.5 215.4M447.5 203.4L454.5 203.4M447.5 191.5L454.5 191.5M447.5 179.5L454.5 179.5M447.5 167.6L454.5 167.6M447.5 155.6L454.5 155.6M447.5 143.7L454.5 143.7M447.5 131.7L454.5 131.7M447.5 119.8L454.5 119.8M447.5 107.8L454.5 107.8M454.5 239.3L458.0 233.3M454.5 227.3L458.0 233.3M454.5 227.3L458.0 221.3M454.5 215.4L458.0 221.3M454.5 215.4L458.0 209.4M454.5 203.4L458.0 209.4M454.5 203.4L458.0 197.4M454.5 191.5L458.0 197.4M454.5 191.5L458.0 185.5M454.5 179.5L458.0 185.5M454.5 179.5L458.0 173.5M454.5 167.6L458.0 173.5M454.5 167.6L458.0 161.6M454.5 155.6L458.0 161.6M454.5 155.6L458.0 149.6M454.5 143.7L458.0 149.6M454.5 143.7L458.0 137.7M454.5 131.7L458.0 137.7M454.5 131.7L458.0 125.7M454.5 119.8L458.0 125.7M454.5 119.8L458.0 113.8M454.5 107.8L458.0 113.8M454.5 107.8L458.0 101.8M454.5 95.8L458.0 101.8M458.0 233.3L464.9 233.3M458.0 221.3L464.9 221.3M458.0 209.4L464.9 209.4M458.0 197.4L464.9 197.4M458.0 185.5L464.9 185.5M458.0 173.5L464.9 173.5M458.0 161.6L464.9 161.6M458.0 149.6L464.9 149.6M458.0 137.7L464.9 137.7M458.0 125.7L464.9 125.7M458.0 113.8L464.9 113.8M458.0 101.8L464.9 101.8M464.9 317.0L468.4 322.9M464.9 317.0L468.4 311.0M464.9 305.0L468.4 311.0M464.9 305.0L468.4 299.0M464.9 293.1L468.4 299.0M464.9 293.1L468.4 287.1M464.9 281.1L468.4 287.1M464.9 281.1L468.4 275.1M464.9 269.2L468.4 275.1M464.9 269.2L468.4 263.2M464.9 257.2L468.4 263.2M464.9 257.2L468.4 251.2M464.9 245.2L468.4 251.2M464.9 245.2L468.4 239.3M464.9 233.3L468.4 239.3M464.9 233.3L468.4 227.3M464.9 221.3L468.4 227.3M464.9 221.3L468.4 215.4M464.9 209.4L468.4 215.4M464.9 209.4L468.4 203.4M464.9 197.4L468.4 203.4M464.9 197.4L468.4 191.5M464.9 185.5L468.4 191.5M464.9 185.5L468.4 179.5M464.9 173.5L468.4 179.5M464.9 173.5L468.4 167.6M464.9 161.6L468.4 167.6M464.9 161.6L468.4 155.6M464.9 149.6L468.4 155.6M464.9 149.6L468.4 143.7M464.9 137.7L468.4 143.7M464.9 137.7L468.4 131.7M464.9 125.7L468.4 131.7M464.9 125.7L468.4 119.8M464.9 113.8L468.4 119.8M464.9 113.8L468.4 107.8M464.9 101.8L468.4 107.8M464.9 101.8L468.4 95.8M464.9 89.9L468.4 95.8M464.9 89.9L468.4 83.9M464.9 77.9L468.4 83.9M464.9 77.9L468.4 71.9M464.9 66.0L468.4 71.9M464.9 66.0L468.4 60.0M464.9 54.0L468.4 60.0M464.9 54.0L468.4 48.0M464.9 42.1L468.4 48.0M464.9 42.1L468.4 36.1M464.9 30.1L468.4 36.1M464.9 30.1L468.4 24.1M464.9 18.2L468.4 24.1M464.9 18.2L468.4 12.2M468.4 311.0L475.3 311.0M468.4 299.0L475.3 299.0M468.4 287.1L475.3 287.1M468.4 275.1L475.3 275.1M468.4 263.2L475.3 263.2M468.4 251.2L475.3 251.2M468.4 239.3L475.3 239.3M468.4 227.3L475.3 227.3M468.4 215.4L475.3 215.4M468.4 203.4L475.3 203.4M468.4 191.5L475.3 191.5M468.4 179.5L475.3 179.5M468.4 167.6L475.3 167.6M468.4 155.6L475.3 155.6M468.4 143.7L475.3 143.7M468.4 131.7L475.3 131.7M468.4 119.8L475.3 119.8M468.4 107.8L475.3 107.8M468.4 95.8L475.3 95.8M468.4 83.9L475.3 83.9M468.4 71.9L475.3 71.9M468.4 60.0L475.3 60.0M468.4 48.0L475.3 48.0M468.4 36.1L475.3 36.1M468.4 24.1L475.3 24.1M475.3 322.9L478.8 317.0M475.3 311.0L478.8 317.0M475.3 311.0L478.8 305.0M475.3 299.0L478.8 305.0M475.3 299.0L478.8 293.1M475.3 287.1L478.8 293.1M475.3 287.1L478.8 281.1M475.3 275.1L478.8 281.1M475.3 275.1L478.8 269.2M475.3 263.2L478.8 269.2M475.3 263.2L478.8 257.2M475.3 251.2L478.8 257.2M475.3 251.2L478.8 245.2M475.3 239.3L478.8 245.2M475.3 239.3L478.8 233.3M475.3 227.3L478.8 233.3M475.3 227.3L478.8 221.3M475.3 215.4L478.8 221.3M475.3 215.4L478.8 209.4M475.3 203.4L478.8 209.4M475.3 203.4L478.8 197.4M475.3 191.5L478.8 197.4M475.3 191.5L478.8 185.5M475.3 179.5L478.8 185.5M475.3 179.5L478.8 173.5M475.3 167.6L478.8 173.5M475.3 167.6L478.8 161.6M475.3 155.6L478.8 161.6M475.3 155.6L478.8 149.6M475.3 143.7L478.8 149.6M475.3 143.7L478.8 137.7M475.3 131.7L478.8 137.7M475.3 131.7L478.8 125.7M475.3 119.8L478.8 125.7M475.3 119.8L478.8 113.8M475.3 107.8L478.8 113.8M475.3 107.8L478.8 101.8M475.3 95.8L478.8 101.8M475.3 95.8L478.8 89.9M475.3 83.9L478.8 89.9M475.3 83.9L478.8 77.9M475.3 71.9L478.8 77.9M475.3 71.9L478.8 66.0M475.3 60.0L478.8 66.0M475.3 60.0L478.8 54.0M475.3 48.0L478.8 54.0M475.3 48.0L478.8 42.1M475.3 36.1L478.8 42.1M475.3 36.1L478.8 30.1M475.3 24.1L478.8 30.1M475.3 24.1L478.8 18.2M475.3 12.2L478.8 18.2M478.8 317.0L485.8 317.0M478.8 305.0L485.8 305.0M478.8 293.1L485.8 293.1M478.8 281.1L485.8 281.1M478.8 269.2L485.8 269.2M478.8 257.2L485.8 257.2M478.8 245.2L485.8 245.2M478.8 233.3L485.8 233.3M478.8 221.3L485.8 221.3M478.8 209.4L485.8 209.4M478.8 197.4L485.8 197.4M478.8 185.5L485.8 185.5M478.8 173.5L485.8 173.5M478.8 161.6L485.8 161.6M478.8 149.6L485.8 149.6M478.8 137.7L485.8 137.7M478.8 125.7L485.8 125.7M478.8 113.8L485.8 113.8M478.8 101.8L485.8 101.8M478.8 89.9L485.8 89.9M478.8 77.9L485.8 77.9M478.8 66.0L485.8 66.0M478.8 54.0L485.8 54.0M478.8 42.1L485.8 42.1M478.8 30.1L485.8 30.1M478.8 18.2L485.8 18.2M485.8 317.0L489.2 322.9M485.8 317.0L489.2 311.0M485.8 305.0L489.2 311.0M485.8 305.0L489.2 299.0M485.8 293.1L489.2 299.0M485.8 293.1L489.2 287.1M485.8 281.1L489.2 287.1M485.8 281.1L489.2 275.1M485.8 269.2L489.2 275.1M485.8 269.2L489.2 263.2M485.8 257.2L489.2 263.2M485.8 257.2L489.2 251.2M485.8 245.2L489.2 251.2M485.8 245.2L489.2 239.3M485.8 233.3L489.2 239.3M485.8 233.3L489.2 227.3M485.8 221.3L489.2 227.3M485.8 221.3L489.2 215.4M485.8 209.4L489.2 215.4M485.8 209.4L489.2 203.4M485.8 197.4L489.2 203.4M485.8 197.4L489.2 191.5M485.8 185.5L489.2 191.5M485.8 185.5L489.2 179.5M485.8 173.5L489.2 179.5M485.8 173.5L489.2 167.6M485.8 161.6L489.2 167.6M485.8 161.6L489.2 155.6M485.8 149.6L489.2 155.6M485.8 149.6L489.2 143.7M485.8 137.7L489.2 143.7M485.8 137.7L489.2 131.7M485.8 125.7L489.2 131.7M485.8 125.7L489.2 119.8M485.8 113.8L489.2 119.8M485.8 113.8L489.2 107.8M485.8 101.8L489.2 107.8M485.8 101.8L489.2 95.8M485.8 89.9L489.2 95.8M485.8 89.9L489.2 83.9M485.8 77.9L489.2 83.9M485.8 77.9L489.2 71.9M485.8 66.0L489.2 71.9M485.8 66.0L489.2 60.0M485.8 54.0L489.2 60.0M485.8 54.0L489.2 48.0M485.8 42.1L489.2 48.0M485.8 42.1L489.2 36.1M485.8 30.1L489.2 36.1M485.8 30.1L489.2 24.1M485.8 18.2L489.2 24.1M485.8 18.2L489.2 12.2M489.2 311.0L496.2 311.0M489.2 299.0L496.2 299.0M489.2 287.1L496.2 287.1M489.2 275.1L496.2 275.1M489.2 263.2L496.2 263.2M489.2 251.2L496.2 251.2M489.2 239.3L496.2 239.3M489.2 227.3L496.2 227.3M489.2 215.4L496.2 215.4M489.2 203.4L496.2 203.4M489.2 191.5L496.2 191.5M489.2 179.5L496.2 179.5M489.2 167.6L496.2 167.6M489.2 155.6L496.2 155.6M489.2 143.7L496.2 143.7M489.2 131.7L496.2 131.7M489.2 119.8L496.2 119.8M489.2 107.8L496.2 107.8M489.2 95.8L496.2 95.8M489.2 83.9L496.2 83.9M489.2 71.9L496.2 71.9M489.2 60.0L496.2 60.0M489.2 48.0L496.2 48.0M489.2 36.1L496.2 36.1M489.2 24.1L496.2 24.1M496.2 322.9L499.6 317.0M496.2 311.0L499.6 317.0M496.2 311.0L499.6 305.0M496.2 299.0L499.6 305.0M496.2 299.0L499.6 293.1M496.2 287.1L499.6 293.1M496.2 287.1L499.6 281.1M496.2 275.1L499.6 281.1M496.2 275.1L499.6 269.2M496.2 263.2L499.6 269.2M496.2 263.2L499.6 257.2M496.2 251.2L499.6 257.2M496.2 251.2L499.6 245.2M496.2 239.3L499.6 245.2M496.2 239.3L499.6 233.3M496.2 227.3L499.6 233.3M496.2 227.3L499.6 221.3M496.2 215.4L499.6 221.3M496.2 215.4L499.6 209.4M496.2 203.4L499.6 209.4M496.2 203.4L499.6 197.4M496.2 191.5L499.6 197.4M496.2 191.5L499.6 185.5M496.2 179.5L499.6 185.5M496.2 179.5L499.6 173.5M496.2 167.6L499.6 173.5M496.2 167.6L499.6 161.6M496.2 155.6L499.6 161.6M496.2 155.6L499.6 149.6M496.2 143.7L499.6 149.6M496.2 143.7L499.6 137.7M496.2 131.7L499.6 137.7M496.2 131.7L499.6 125.7M496.2 119.8L499.6 125.7M496.2 119.8L499.6 113.8M496.2 107.8L499.6 113.8M496.2 107.8L499.6 101.8M496.2 95.8L499.6 101.8M496.2 95.8L499.6 89.9M496.2 83.9L499.6 89.9M496.2 83.9L499.6 77.9M496.2 71.9L499.6 77.9M496.2 71.9L499.6 66.0M496.2 60.0L499.6 66.0M496.2 60.0L499.6 54.0M496.2 48.0L499.6 54.0M496.2 48.0L499.6 42.1M496.2 36.1L499.6 42.1M496.2 36.1L499.6 30.1M496.2 24.1L499.6 30.1M496.2 24.1L499.6 18.2M496.2 12.2L499.6 18.2M499.6 317.0L506.6 317.0M499.6 305.0L506.6 305.0M499.6 293.1L506.6 293.1M499.6 281.1L506.6 281.1M499.6 269.2L506.6 269.2M499.6 257.2L506.6 257.2M499.6 245.2L506.6 245.2M499.6 233.3L506.6 233.3M499.6 221.3L506.6 221.3M499.6 209.4L506.6 209.4M499.6 197.4L506.6 197.4M499.6 185.5L506.6 185.5M499.6 173.5L506.6 173.5M499.6 161.6L506.6 161.6M499.6 149.6L506.6 149.6M499.6 137.7L506.6 137.7M499.6 125.7L506.6 125.7M499.6 113.8L506.6 113.8M499.6 101.8L506.6 101.8M499.6 89.9L506.6 89.9M499.6 77.9L506.6 77.9M499.6 66.0L506.6 66.0M499.6 54.0L506.6 54.0M499.6 42.1L506.6 42.1M499.6 30.1L506.6 30.1M499.6 18.2L506.6 18.2M506.6 317.0L510.1 322.9M506.6 317.0L510.1 311.0M506.6 305.0L510.1 311.0M506.6 305.0L510.1 299.0M506.6 293.1L510.1 299.0M506.6 293.1L510.1 287.1M506.6 281.1L510.1 287.1M506.6 281.1L510.1 275.1M506.6 269.2L510.1 275.1M506.6 269.2L510.1 263.2M506.6 257.2L510.1 263.2M506.6 257.2L510.1 251.2M506.6 245.2L510.1 251.2M506.6 245.2L510.1 239.3M506.6 233.3L510.1 239.3M506.6 233.3L510.1 227.3M506.6 221.3L510.1 227.3M506.6 221.3L510.1 215.4M506.6 209.4L510.1 215.4M506.6 209.4L510.1 203.4M506.6 197.4L510.1 203.4M506.6 197.4L510.1 191.5M506.6 185.5L510.1 191.5M506.6 185.5L510.1 179.5M506.6 173.5L510.1 179.5M506.6 173.5L510.1 167.6M506.6 161.6L510.1 167.6M506.6 161.6L510.1 155.6M506.6 149.6L510.1 155.6M506.6 149.6L510.1 143.7M506.6 137.7L510.1 143.7M506.6 137.7L510.1 131.7M506.6 125.7L510.1 131.7M506.6 125.7L510.1 119.8M506.6 113.8L510.1 119.8M506.6 113.8L510.1 107.8M506.6 101.8L510.1 107.8M506.6 101.8L510.1 95.8M506.6 89.9L510.1 95.8M506.6 89.9L510.1 83.9M506.6 77.9L510.1 83.9M506.6 77.9L510.1 71.9M506.6 66.0L510.1 71.9M506.6 66.0L510.1 60.0M506.6 54.0L510.1 60.0M506.6 54.0L510.1 48.0M506.6 42.1L510.1 48.0M506.6 42.1L510.1 36.1M506.6 30.1L510.1 36.1M506.6 30.1L510.1 24.1M506.6 18.2L510.1 24.1M506.6 18.2L510.1 12.2M510.1 311.0L517.0 311.0M510.1 299.0L517.0 299.0M510.1 287.1L517.0 287.1M510.1 275.1L517.0 275.1M510.1 263.2L517.0 263.2M510.1 251.2L517.0 251.2M510.1 239.3L517.0 239.3M510.1 227.3L517.0 227.3M510.1 215.4L517.0 215.4M510.1 203.4L517.0 203.4M510.1 191.5L517.0 191.5M510.1 179.5L517.0 179.5M510.1 167.6L517.0 167.6M510.1 155.6L517.0 155.6M510.1 143.7L517.0 143.7M510.1 131.7L517.0 131.7M510.1 119.8L517.0 119.8M510.1 107.8L517.0 107.8M510.1 95.8L517.0 95.8M510.1 83.9L517.0 83.9M510.1 71.9L517.0 71.9M510.1 60.0L517.0 60.0M510.1 48.0L517.0 48.0M510.1 36.1L517.0 36.1M510.1 24.1L517.0 24.1M517.0 322.9L520.5 317.0M517.0 311.0L520.5 317.0M517.0 311.0L520.5 305.0M517.0 299.0L520.5 305.0M517.0 299.0L520.5 293.1M517.0 287.1L520.5 293.1M517.0 287.1L520.5 281.1M517.0 275.1L520.5 281.1M517.0 275.1L520.5 269.2M517.0 263.2L520.5 269.2M517.0 263.2L520.5 257.2M517.0 251.2L520.5 257.2M517.0 251.2L520.5 245.2M517.0 239.3L520.5 245.2M517.0 239.3L520.5 233.3M517.0 227.3L520.5 233.3M517.0 227.3L520.5 221.3M517.0 215.4L520.5 221.3M517.0 215.4L520.5 209.4M517.0 203.4L520.5 209.4M517.0 203.4L520.5 197.4M517.0 191.5L520.5 197.4M517.0 191.5L520.5 185.5M517.0 179.5L520.5 185.5M517.0 179.5L520.5 173.5M517.0 167.6L520.5 173.5M517.0 167.6L520.5 161.6M517.0 155.6L520.5 161.6M517.0 155.6L520.5 149.6M517.0 143.7L520.5 149.6M517.0 143.7L520.5 137.7M517.0 131.7L520.5 137.7M517.0 131.7L520.5 125.7M517.0 119.8L520.5 125.7M517.0 119.8L520.5 113.8M517.0 107.8L520.5 113.8M517.0 107.8L520.5 101.8M517.0 95.8L520.5 101.8M517.0 95.8L520.5 89.9M517.0 83.9L520.5 89.9M517.0 83.9L520.5 77.9M517.0 71.9L520.5 77.9M517.0 71.9L520.5 66.0M517.0 60.0L520.5 66.0M517.0 60.0L520.5 54.0M517.0 48.0L520.5 54.0M517.0 48.0L520.5 42.1M517.0 36.1L520.5 42.1M517.0 36.1L520.5 30.1M517.0 24.1L520.5 30.1M517.0 24.1L520.5 18.2M517.0 12.2L520.5 18.2M520.5 233.3L527.4 233.3M520.5 221.3L527.4 221.3M520.5 209.4L527.4 209.4M520.5 197.4L527.4 197.4M520.5 185.5L527.4 185.5M520.5 173.5L527.4 173.5M520.5 161.6L527.4 161.6M520.5 149.6L527.4 149.6M520.5 137.7L527.4 137.7M520.5 125.7L527.4 125.7M520.5 113.8L527.4 113.8M520.5 101.8L527.4 101.8M527.4 233.3L530.9 239.3M527.4 233.3L530.9 227.3M527.4 221.3L530.9 227.3M527.4 221.3L530.9 215.4M527.4 209.4L530.9 215.4M527.4 209.4L530.9 203.4M527.4 197.4L530.9 203.4M527.4 197.4L530.9 191.5M527.4 185.5L530.9 191.5M527.4 185.5L530.9 179.5M527.4 173.5L530.9 179.5M527.4 173.5L530.9 167.6M527.4 161.6L530.9 167.6M527.4 161.6L530.9 155.6M527.4 149.6L530.9 155.6M527.4 149.6L530.9 143.7M527.4 137.7L530.9 143.7M527.4 137.7L530.9 131.7M527.4 125.7L530.9 131.7M527.4 125.7L530.9 119.8M527.4 113.8L530.9 119.8M527.4 113.8L530.9 107.8M527.4 101.8L530.9 107.8M527.4 101.8L530.9 95.8M530.9 227.3L537.9 227.3M530.9 215.4L537.9 215.4M530.9 203.4L537.9 203.4M530.9 191.5L537.9 191.5M530.9 179.5L537.9 179.5M530.9 167.6L537.9 167.6M530.9 155.6L537.9 155.6M530.9 143.7L537.9 143.7M530.9 131.7L537.9 131.7M530.9 119.8L537.9 119.8M530.9 107.8L537.9 107.8M537.9 227.3L541.3 221.3M537.9 215.4L541.3 221.3M537.9 215.4L541.3 209.4M537.9 203.4L541.3 209.4M537.9 203.4L541.3 197.4M537.9 191.5L541.3 197.4M537.9 191.5L541.3 185.5M537.9 179.5L541.3 185.5M537.9 179.5L541.3 173.5M537.9 167.6L541.3 173.5M537.9 167.6L541.3 161.6M537.9 155.6L541.3 161.6M537.9 155.6L541.3 149.6M537.9 143.7L541.3 149.6M537.9 143.7L541.3 137.7M537.9 131.7L541.3 137.7M537.9 131.7L541.3 125.7M537.9 119.8L541.3 125.7M537.9 119.8L541.3 113.8M537.9 107.8L541.3 113.8M541.3 221.3L548.3 221.3M541.3 209.4L548.3 209.4M541.3 197.4L548.3 197.4M541.3 185.5L548.3 185.5M541.3 173.5L548.3 173.5M541.3 161.6L548.3 161.6M541.3 149.6L548.3 149.6M541.3 137.7L548.3 137.7M541.3 125.7L548.3 125.7M541.3 113.8L548.3 113.8M548.3 221.3L551.8 215.4M548.3 209.4L551.8 215.4M548.3 209.4L551.8 203.4M548.3 197.4L551.8 203.4M548.3 197.4L551.8 191.5M548.3 185.5L551.8 191.5M548.3 185.5L551.8 179.5M548.3 173.5L551.8 179.5M548.3 173.5L551.8 167.6M548.3 161.6L551.8 167.6M548.3 161.6L551.8 155.6M548.3 149.6L551.8 155.6M548.3 149.6L551.8 143.7M548.3 137.7L551.8 143.7M548.3 137.7L551.8 131.7M548.3 125.7L551.8 131.7M548.3 125.7L551.8 119.8M548.3 113.8L551.8 119.8M551.8 215.4L558.7 215.4M551.8 203.4L558.7 203.4M551.8 191.5L558.7 191.5M551.8 179.5L558.7 179.5M551.8 167.6L558.7 167.6M551.8 155.6L558.7 155.6M551.8 143.7L558.7 143.7M551.8 131.7L558.7 131.7M551.8 119.8L558.7 119.8M558.7 215.4L562.2 209.4M558.7 203.4L562.2 209.4M558.7 203.4L562.2 197.4M558.7 191.5L562.2 197.4M558.7 191.5L562.2 185.5M558.7 179.5L562.2 185.5M558.7 179.5L562.2 173.5M558.7 167.6L562.2 173.5M558.7 167.6L562.2 161.6M558.7 155.6L562.2 161.6M558.7 155.6L562.2 149.6M558.7 143.7L562.2 149.6M558.7 143.7L562.2 137.7M558.7 131.7L562.2 137.7M558.7 131.7L562.2 125.7M558.7 119.8L562.2 125.7M562.2 185.5L569.1 185.5M562.2 173.5L569.1 173.5M562.2 161.6L569.1 161.6M562.2 149.6L569.1 149.6M569.1 185.5L572.6 179.5M569.1 173.5L572.6 179.5M569.1 173.5L572.6 167.6M569.1 161.6L572.6 167.6M569.1 161.6L572.6 155.6M569.1 149.6L572.6 155.6" stroke="#f0f0f0" stroke-width="0.45" fill="none"/>
<circle cx="412.8" cy="179.5" r="1.65" fill="#1079da"/><circle cx="412.8" cy="167.6" r="2.36" fill="#0aacbe"/><circle cx="412.8" cy="155.6" r="1.65" fill="#1079da"/><circle cx="423.2" cy="209.4" r="0.75" fill="#353dad"/><circle cx="423.2" cy="197.4" r="1.59" fill="#0d75dc"/><circle cx="423.2" cy="185.5" r="1.65" fill="#1079da"/><circle cx="423.2" cy="173.5" r="0.71" fill="#3637a0"/><circle cx="423.2" cy="161.6" r="0.71" fill="#3637a0"/><circle cx="423.2" cy="149.6" r="1.65" fill="#1079da"/><circle cx="423.2" cy="137.7" r="1.59" fill="#0d75dc"/><circle cx="423.2" cy="125.7" r="0.75" fill="#353dad"/><circle cx="433.6" cy="215.4" r="0.75" fill="#353dad"/><circle cx="433.6" cy="203.4" r="0.84" fill="#353dad"/><circle cx="433.6" cy="191.5" r="0.16" fill="#352a87"/><circle cx="433.6" cy="179.5" r="0.96" fill="#3243ba"/><circle cx="433.6" cy="167.6" r="1.41" fill="#0268e1"/><circle cx="433.6" cy="155.6" r="0.96" fill="#3243ba"/><circle cx="433.6" cy="143.7" r="0.16" fill="#352a87"/><circle cx="433.6" cy="131.7" r="0.84" fill="#353dad"/><circle cx="433.6" cy="119.8" r="0.75" fill="#353dad"/><circle cx="437.1" cy="221.3" r="0.20" fill="#352a87"/><circle cx="437.1" cy="113.8" r="0.20" fill="#352a87"/><circle cx="444.1" cy="221.3" r="0.75" fill="#353dad"/><circle cx="444.1" cy="197.4" r="0.79" fill="#353dad"/><circle cx="444.1" cy="185.5" r="1.02" fill="#2c4ac7"/><circle cx="444.1" cy="173.5" r="0.49" fill="#363093"/><circle cx="444.1" cy="161.6" r="0.49" fill="#363093"/><circle cx="444.1" cy="149.6" r="1.02" fill="#2c4ac7"/><circle cx="444.1" cy="137.7" r="0.79" fill="#353dad"/><circle cx="444.1" cy="113.8" r="0.75" fill="#353dad"/><circle cx="447.5" cy="227.3" r="0.18" fill="#352a87"/><circle cx="447.5" cy="203.4" r="0.15" fill="#352a87"/><circle cx="447.5" cy="167.6" r="0.16" fill="#352a87"/><circle cx="447.5" cy="131.7" r="0.15" fill="#352a87"/><circle cx="447.5" cy="107.8" r="0.18" fill="#352a87"/><circle cx="454.5" cy="239.3" r="3.38" fill="#ffc337"/><circle cx="454.5" cy="227.3" r="0.75" fill="#353dad"/><circle cx="454.5" cy="215.4" r="0.68" fill="#3637a0"/><circle cx="454.5" cy="203.4" r="0.87" fill="#3243ba"/><circle cx="454.5" cy="191.5" r="0.30" fill="#352a87"/><circle cx="454.5" cy="179.5" r="0.59" fill="#3637a0"/><circle cx="454.5" cy="167.6" r="0.92" fill="#3243ba"/><circle cx="454.5" cy="155.6" r="0.59" fill="#3637a0"/><circle cx="454.5" cy="143.7" r="0.30" fill="#352a87"/><circle cx="454.5" cy="131.7" r="0.87" fill="#3243ba"/><circle cx="454.5" cy="119.8" r="0.68" fill="#3637a0"/><circle cx="454.5" cy="107.8" r="0.75" fill="#353dad"/><circle cx="454.5" cy="95.8" r="3.38" fill="#ffc337"/><circle cx="458.0" cy="221.3" r="0.17" fill="#352a87"/><circle cx="458.0" cy="209.4" r="0.17" fill="#352a87"/><circle cx="458.0" cy="197.4" r="0.18" fill="#352a87"/><circle cx="458.0" cy="185.5" r="0.21" fill="#352a87"/><circle cx="458.0" cy="173.5" r="0.18" fill="#352a87"/><circle cx="458.0" cy="161.6" r="0.18" fill="#352a87"/><circle cx="458.0" cy="149.6" r="0.21" fill="#352a87"/><circle cx="458.0" cy="137.7" r="0.18" fill="#352a87"/><circle cx="458.0" cy="125.7" r="0.17" fill="#352a87"/><circle cx="458.0" cy="113.8" r="0.17" fill="#352a87"/><circle cx="464.9" cy="317.0" r="3.28" fill="#f1b94a"/><circle cx="464.9" cy="305.0" r="2.69" fill="#4dbc92"/><circle cx="464.9" cy="293.1" r="2.01" fill="#0c93d2"/><circle cx="464.9" cy="281.1" r="2.26" fill="#06a7c6"/><circle cx="464.9" cy="269.2" r="3.11" fill="#c8bc5d"/><circle cx="464.9" cy="257.2" r="3.65" fill="#f9fb0e"/><circle cx="464.9" cy="245.2" r="3.49" fill="#f7d826"/><circle cx="464.9" cy="233.3" r="2.66" fill="#42bb98"/><circle cx="464.9" cy="221.3" r="1.43" fill="#046de0"/><circle cx="464.9" cy="209.4" r="0.29" fill="#352a87"/><circle cx="464.9" cy="197.4" r="0.66" fill="#3637a0"/><circle cx="464.9" cy="185.5" r="0.81" fill="#353dad"/><circle cx="464.9" cy="173.5" r="0.41" fill="#363093"/><circle cx="464.9" cy="161.6" r="0.41" fill="#363093"/><circle cx="464.9" cy="149.6" r="0.81" fill="#353dad"/><circle cx="464.9" cy="137.7" r="0.66" fill="#3637a0"/><circle cx="464.9" cy="125.7" r="0.29" fill="#352a87"/><circle cx="464.9" cy="113.8" r="1.43" fill="#046de0"/><circle cx="464.9" cy="101.8" r="2.66" fill="#42bb98"/><circle cx="464.9" cy="89.9" r="3.49" fill="#f7d826"/><circle cx="464.9" cy="77.9" r="3.65" fill="#f9fb0e"/><circle cx="464.9" cy="66.0" r="3.11" fill="#c8bc5d"/><circle cx="464.9" cy="54.0" r="2.26" fill="#06a7c6"/><circle cx="464.9" cy="42.1" r="2.01" fill="#0c93d2"/><circle cx="464.9" cy="30.1" r="2.69" fill="#4dbc92"/><circle cx="464.9" cy="18.2" r="3.28" fill="#f1b94a"/><circle cx="468.4" cy="227.3" r="0.21" fill="#352a87"/><circle cx="468.4" cy="215.4" r="0.22" fill="#352a87"/><circle cx="468.4" cy="203.4" r="0.23" fill="#352a87"/><circle cx="468.4" cy="191.5" r="0.21" fill="#352a87"/><circle cx="468.4" cy="179.5" r="0.25" fill="#352a87"/><circle cx="468.4" cy="167.6" r="0.29" fill="#352a87"/><circle cx="468.4" cy="155.6" r="0.25" fill="#352a87"/><circle cx="468.4" cy="143.7" r="0.21" fill="#352a87"/><circle cx="468.4" cy="131.7" r="0.23" fill="#352a87"/><circle cx="468.4" cy="119.8" r="0.22" fill="#352a87"/><circle cx="468.4" cy="107.8" r="0.21" fill="#352a87"/><circle cx="475.3" cy="311.0" r="1.29" fill="#0363e1"/><circle cx="475.3" cy="299.0" r="1.71" fill="#127dd8"/><circle cx="475.3" cy="287.1" r="1.86" fill="#1485d4"/><circle cx="475.3" cy="275.1" r="1.62" fill="#0d75dc"/><circle cx="475.3" cy="263.2" r="1.11" fill="#2053d4"/><circle cx="475.3" cy="251.2" r="0.77" fill="#353dad"/><circle cx="475.3" cy="239.3" r="1.03" fill="#2c4ac7"/><circle cx="475.3" cy="227.3" r="1.32" fill="#0363e1"/><circle cx="475.3" cy="215.4" r="1.27" fill="#0363e1"/><circle cx="475.3" cy="203.4" r="0.85" fill="#353dad"/><circle cx="475.3" cy="191.5" r="0.30" fill="#352a87"/><circle cx="475.3" cy="179.5" r="0.50" fill="#363093"/><circle cx="475.3" cy="167.6" r="0.71" fill="#3637a0"/><circle cx="475.3" cy="155.6" r="0.50" fill="#363093"/><circle cx="475.3" cy="143.7" r="0.30" fill="#352a87"/><circle cx="475.3" cy="131.7" r="0.85" fill="#353dad"/><circle cx="475.3" cy="119.8" r="1.27" fill="#0363e1"/><circle cx="475.3" cy="107.8" r="1.32" fill="#0363e1"/><circle cx="475.3" cy="95.8" r="1.03" fill="#2c4ac7"/><circle cx="475.3" cy="83.9" r="0.77" fill="#353dad"/><circle cx="475.3" cy="71.9" r="1.11" fill="#2053d4"/><circle cx="475.3" cy="60.0" r="1.62" fill="#0d75dc"/><circle cx="475.3" cy="48.0" r="1.86" fill="#1485d4"/><circle cx="475.3" cy="36.1" r="1.71" fill="#127dd8"/><circle cx="475.3" cy="24.1" r="1.29" fill="#0363e1"/><circle cx="478.8" cy="317.0" r="0.26" fill="#352a87"/><circle cx="478.8" cy="305.0" r="0.21" fill="#352a87"/><circle cx="478.8" cy="293.1" r="0.15" fill="#352a87"/><circle cx="478.8" cy="281.1" r="0.17" fill="#352a87"/><circle cx="478.8" cy="269.2" r="0.23" fill="#352a87"/><circle cx="478.8" cy="257.2" r="0.27" fill="#352a87"/><circle cx="478.8" cy="245.2" r="0.26" fill="#352a87"/><circle cx="478.8" cy="233.3" r="0.23" fill="#352a87"/><circle cx="478.8" cy="221.3" r="0.25" fill="#352a87"/><circle cx="478.8" cy="209.4" r="0.30" fill="#352a87"/><circle cx="478.8" cy="197.4" r="0.37" fill="#363093"/><circle cx="478.8" cy="185.5" r="0.37" fill="#363093"/><circle cx="478.8" cy="173.5" r="0.28" fill="#352a87"/><circle cx="478.8" cy="161.6" r="0.28" fill="#352a87"/><circle cx="478.8" cy="149.6" r="0.37" fill="#363093"/><circle cx="478.8" cy="137.7" r="0.37" fill="#363093"/><circle cx="478.8" cy="125.7" r="0.30" fill="#352a87"/><circle cx="478.8" cy="113.8" r="0.25" fill="#352a87"/><circle cx="478.8" cy="101.8" r="0.23" fill="#352a87"/><circle cx="478.8" cy="89.9" r="0.26" fill="#352a87"/><circle cx="478.8" cy="77.9" r="0.27" fill="#352a87"/><circle cx="478.8" cy="66.0" r="0.23" fill="#352a87"/><circle cx="478.8" cy="54.0" r="0.17" fill="#352a87"/><circle cx="478.8" cy="42.1" r="0.15" fill="#352a87"/><circle cx="478.8" cy="30.1" r="0.21" fill="#352a87"/><circle cx="478.8" cy="18.2" r="0.26" fill="#352a87"/><circle cx="485.8" cy="317.0" r="0.97" fill="#3243ba"/><circle cx="485.8" cy="305.0" r="0.78" fill="#353dad"/><circle cx="485.8" cy="293.1" r="0.54" fill="#363093"/><circle cx="485.8" cy="281.1" r="0.56" fill="#363093"/><circle cx="485.8" cy="269.2" r="0.78" fill="#353dad"/><circle cx="485.8" cy="257.2" r="0.91" fill="#3243ba"/><circle cx="485.8" cy="245.2" r="0.84" fill="#353dad"/><circle cx="485.8" cy="233.3" r="0.61" fill="#3637a0"/><circle cx="485.8" cy="221.3" r="0.43" fill="#363093"/><circle cx="485.8" cy="209.4" r="0.56" fill="#363093"/><circle cx="485.8" cy="197.4" r="0.71" fill="#3637a0"/><circle cx="485.8" cy="185.5" r="0.64" fill="#3637a0"/><circle cx="485.8" cy="173.5" r="0.35" fill="#363093"/><circle cx="485.8" cy="161.6" r="0.35" fill="#363093"/><circle cx="485.8" cy="149.6" r="0.64" fill="#3637a0"/><circle cx="485.8" cy="137.7" r="0.71" fill="#3637a0"/><circle cx="485.8" cy="125.7" r="0.56" fill="#363093"/><circle cx="485.8" cy="113.8" r="0.43" fill="#363093"/><circle cx="485.8" cy="101.8" r="0.61" fill="#3637a0"/><circle cx="485.8" cy="89.9" r="0.84" fill="#353dad"/><circle cx="485.8" cy="77.9" r="0.91" fill="#3243ba"/><circle cx="485.8" cy="66.0" r="0.78" fill="#353dad"/><circle cx="485.8" cy="54.0" r="0.56" fill="#363093"/><circle cx="485.8" cy="42.1" r="0.54" fill="#363093"/><circle cx="485.8" cy="30.1" r="0.78" fill="#353dad"/><circle cx="485.8" cy="18.2" r="0.97" fill="#3243ba"/><circle cx="489.2" cy="311.0" r="0.36" fill="#363093"/><circle cx="489.2" cy="299.0" r="0.48" fill="#363093"/><circle cx="489.2" cy="287.1" r="0.52" fill="#363093"/><circle cx="489.2" cy="275.1" r="0.45" fill="#363093"/><circle cx="489.2" cy="263.2" r="0.32" fill="#352a87"/><circle cx="489.2" cy="251.2" r="0.29" fill="#352a87"/><circle cx="489.2" cy="239.3" r="0.41" fill="#363093"/><circle cx="489.2" cy="227.3" r="0.52" fill="#363093"/><circle cx="489.2" cy="215.4" r="0.50" fill="#363093"/><circle cx="489.2" cy="203.4" r="0.39" fill="#363093"/><circle cx="489.2" cy="191.5" r="0.31" fill="#352a87"/><circle cx="489.2" cy="179.5" r="0.44" fill="#363093"/><circle cx="489.2" cy="167.6" r="0.52" fill="#363093"/><circle cx="489.2" cy="155.6" r="0.44" fill="#363093"/><circle cx="489.2" cy="143.7" r="0.31" fill="#352a87"/><circle cx="489.2" cy="131.7" r="0.39" fill="#363093"/><circle cx="489.2" cy="119.8" r="0.50" fill="#363093"/><circle cx="489.2" cy="107.8" r="0.52" fill="#363093"/><circle cx="489.2" cy="95.8" r="0.41" fill="#363093"/><circle cx="489.2" cy="83.9" r="0.29" fill="#352a87"/><circle cx="489.2" cy="71.9" r="0.32" fill="#352a87"/><circle cx="489.2" cy="60.0" r="0.45" fill="#363093"/><circle cx="489.2" cy="48.0" r="0.52" fill="#363093"/><circle cx="489.2" cy="36.1" r="0.48" fill="#363093"/><circle cx="489.2" cy="24.1" r="0.36" fill="#363093"/><circle cx="496.2" cy="311.0" r="0.36" fill="#363093"/><circle cx="496.2" cy="299.0" r="0.48" fill="#363093"/><circle cx="496.2" cy="287.1" r="0.52" fill="#363093"/><circle cx="496.2" cy="275.1" r="0.45" fill="#363093"/><circle cx="496.2" cy="263.2" r="0.32" fill="#352a87"/><circle cx="496.2" cy="251.2" r="0.29" fill="#352a87"/><circle cx="496.2" cy="239.3" r="0.41" fill="#363093"/><circle cx="496.2" cy="227.3" r="0.52" fill="#363093"/><circle cx="496.2" cy="215.4" r="0.50" fill="#363093"/><circle cx="496.2" cy="203.4" r="0.39" fill="#363093"/><circle cx="496.2" cy="191.5" r="0.31" fill="#352a87"/><circle cx="496.2" cy="179.5" r="0.44" fill="#363093"/><circle cx="496.2" cy="167.6" r="0.52" fill="#363093"/><circle cx="496.2" cy="155.6" r="0.44" fill="#363093"/><circle cx="496.2" cy="143.7" r="0.31" fill="#352a87"/><circle cx="496.2" cy="131.7" r="0.39" fill="#363093"/><circle cx="496.2" cy="119.8" r="0.50" fill="#363093"/><circle cx="496.2" cy="107.8" r="0.52" fill="#363093"/><circle cx="496.2" cy="95.8" r="0.41" fill="#363093"/><circle cx="496.2" cy="83.9" r="0.29" fill="#352a87"/><circle cx="496.2" cy="71.9" r="0.32" fill="#352a87"/><circle cx="496.2" cy="60.0" r="0.45" fill="#363093"/><circle cx="496.2" cy="48.0" r="0.52" fill="#363093"/><circle cx="496.2" cy="36.1" r="0.48" fill="#363093"/><circle cx="496.2" cy="24.1" r="0.36" fill="#363093"/><circle cx="499.6" cy="317.0" r="0.97" fill="#3243ba"/><circle cx="499.6" cy="305.0" r="0.78" fill="#353dad"/><circle cx="499.6" cy="293.1" r="0.54" fill="#363093"/><circle cx="499.6" cy="281.1" r="0.56" fill="#363093"/><circle cx="499.6" cy="269.2" r="0.78" fill="#353dad"/><circle cx="499.6" cy="257.2" r="0.91" fill="#3243ba"/><circle cx="499.6" cy="245.2" r="0.84" fill="#353dad"/><circle cx="499.6" cy="233.3" r="0.61" fill="#3637a0"/><circle cx="499.6" cy="221.3" r="0.43" fill="#363093"/><circle cx="499.6" cy="209.4" r="0.56" fill="#363093"/><circle cx="499.6" cy="197.4" r="0.71" fill="#3637a0"/><circle cx="499.6" cy="185.5" r="0.64" fill="#3637a0"/><circle cx="499.6" cy="173.5" r="0.35" fill="#363093"/><circle cx="499.6" cy="161.6" r="0.35" fill="#363093"/><circle cx="499.6" cy="149.6" r="0.64" fill="#3637a0"/><circle cx="499.6" cy="137.7" r="0.71" fill="#3637a0"/><circle cx="499.6" cy="125.7" r="0.56" fill="#363093"/><circle cx="499.6" cy="113.8" r="0.43" fill="#363093"/><circle cx="499.6" cy="101.8" r="0.61" fill="#3637a0"/><circle cx="499.6" cy="89.9" r="0.84" fill="#353dad"/><circle cx="499.6" cy="77.9" r="0.91" fill="#3243ba"/><circle cx="499.6" cy="66.0" r="0.78" fill="#353dad"/><circle cx="499.6" cy="54.0" r="0.56" fill="#363093"/><circle cx="499.6" cy="42.1" r="0.54" fill="#363093"/><circle cx="499.6" cy="30.1" r="0.78" fill="#353dad"/><circle cx="499.6" cy="18.2" r="0.97" fill="#3243ba"/><circle cx="506.6" cy="317.0" r="0.26" fill="#352a87"/><circle cx="506.6" cy="305.0" r="0.21" fill="#352a87"/><circle cx="506.6" cy="293.1" r="0.15" fill="#352a87"/><circle cx="506.6" cy="281.1" r="0.17" fill="#352a87"/><circle cx="506.6" cy="269.2" r="0.23" fill="#352a87"/><circle cx="506.6" cy="257.2" r="0.27" fill="#352a87"/><circle cx="506.6" cy="245.2" r="0.26" fill="#352a87"/><circle cx="506.6" cy="233.3" r="0.23" fill="#352a87"/><circle cx="506.6" cy="221.3" r="0.25" fill="#352a87"/><circle cx="506.6" cy="209.4" r="0.30" fill="#352a87"/><circle cx="506.6" cy="197.4" r="0.37" fill="#363093"/><circle cx="506.6" cy="185.5" r="0.37" fill="#363093"/><circle cx="506.6" cy="173.5" r="0.28" fill="#352a87"/><circle cx="506.6" cy="161.6" r="0.28" fill="#352a87"/><circle cx="506.6" cy="149.6" r="0.37" fill="#363093"/><circle cx="506.6" cy="137.7" r="0.37" fill="#363093"/><circle cx="506.6" cy="125.7" r="0.30" fill="#352a87"/><circle cx="506.6" cy="113.8" r="0.25" fill="#352a87"/><circle cx="506.6" cy="101.8" r="0.23" fill="#352a87"/><circle cx="506.6" cy="89.9" r="0.26" fill="#352a87"/><circle cx="506.6" cy="77.9" r="0.27" fill="#352a87"/><circle cx="506.6" cy="66.0" r="0.23" fill="#352a87"/><circle cx="506.6" cy="54.0" r="0.17" fill="#352a87"/><circle cx="506.6" cy="42.1" r="0.15" fill="#352a87"/><circle cx="506.6" cy="30.1" r="0.21" fill="#352a87"/><circle cx="506.6" cy="18.2" r="0.26" fill="#352a87"/><circle cx="510.1" cy="311.0" r="1.29" fill="#0363e1"/><circle cx="510.1" cy="299.0" r="1.71" fill="#127dd8"/><circle cx="510.1" cy="287.1" r="1.86" fill="#1485d4"/><circle cx="510.1" cy="275.1" r="1.62" fill="#0d75dc"/><circle cx="510.1" cy="263.2" r="1.11" fill="#2053d4"/><circle cx="510.1" cy="251.2" r="0.77" fill="#353dad"/><circle cx="510.1" cy="239.3" r="1.03" fill="#2c4ac7"/><circle cx="510.1" cy="227.3" r="1.32" fill="#0363e1"/><circle cx="510.1" cy="215.4" r="1.27" fill="#0363e1"/><circle cx="510.1" cy="203.4" r="0.85" fill="#353dad"/><circle cx="510.1" cy="191.5" r="0.30" fill="#352a87"/><circle cx="510.1" cy="179.5" r="0.50" fill="#363093"/><circle cx="510.1" cy="167.6" r="0.71" fill="#3637a0"/><circle cx="510.1" cy="155.6" r="0.50" fill="#363093"/><circle cx="510.1" cy="143.7" r="0.30" fill="#352a87"/><circle cx="510.1" cy="131.7" r="0.85" fill="#353dad"/><circle cx="510.1" cy="119.8" r="1.27" fill="#0363e1"/><circle cx="510.1" cy="107.8" r="1.32" fill="#0363e1"/><circle cx="510.1" cy="95.8" r="1.03" fill="#2c4ac7"/><circle cx="510.1" cy="83.9" r="0.77" fill="#353dad"/><circle cx="510.1" cy="71.9" r="1.11" fill="#2053d4"/><circle cx="510.1" cy="60.0" r="1.62" fill="#0d75dc"/><circle cx="510.1" cy="48.0" r="1.86" fill="#1485d4"/><circle cx="510.1" cy="36.1" r="1.71" fill="#127dd8"/><circle cx="510.1" cy="24.1" r="1.29" fill="#0363e1"/><circle cx="517.0" cy="227.3" r="0.21" fill="#352a87"/><circle cx="517.0" cy="215.4" r="0.22" fill="#352a87"/><circle cx="517.0" cy="203.4" r="0.23" fill="#352a87"/><circle cx="517.0" cy="191.5" r="0.21" fill="#352a87"/><circle cx="517.0" cy="179.5" r="0.25" fill="#352a87"/><circle cx="517.0" cy="167.6" r="0.29" fill="#352a87"/><circle cx="517.0" cy="155.6" r="0.25" fill="#352a87"/><circle cx="517.0" cy="143.7" r="0.21" fill="#352a87"/><circle cx="517.0" cy="131.7" r="0.23" fill="#352a87"/><circle cx="517.0" cy="119.8" r="0.22" fill="#352a87"/><circle cx="517.0" cy="107.8" r="0.21" fill="#352a87"/><circle cx="520.5" cy="317.0" r="3.28" fill="#f1b94a"/><circle cx="520.5" cy="305.0" r="2.69" fill="#4dbc92"/><circle cx="520.5" cy="293.1" r="2.01" fill="#0c93d2"/><circle cx="520.5" cy="281.1" r="2.26" fill="#06a7c6"/><circle cx="520.5" cy="269.2" r="3.11" fill="#c8bc5d"/><circle cx="520.5" cy="257.2" r="3.65" fill="#f9fb0e"/><circle cx="520.5" cy="245.2" r="3.49" fill="#f7d826"/><circle cx="520.5" cy="233.3" r="2.66" fill="#42bb98"/><circle cx="520.5" cy="221.3" r="1.43" fill="#046de0"/><circle cx="520.5" cy="209.4" r="0.29" fill="#352a87"/><circle cx="520.5" cy="197.4" r="0.66" fill="#3637a0"/><circle cx="520.5" cy="185.5" r="0.81" fill="#353dad"/><circle cx="520.5" cy="173.5" r="0.41" fill="#363093"/><circle cx="520.5" cy="161.6" r="0.41" fill="#363093"/><circle cx="520.5" cy="149.6" r="0.81" fill="#353dad"/><circle cx="520.5" cy="137.7" r="0.66" fill="#3637a0"/><circle cx="520.5" cy="125.7" r="0.29" fill="#352a87"/><circle cx="520.5" cy="113.8" r="1.43" fill="#046de0"/><circle cx="520.5" cy="101.8" r="2.66" fill="#42bb98"/><circle cx="520.5" cy="89.9" r="3.49" fill="#f7d826"/><circle cx="520.5" cy="77.9" r="3.65" fill="#f9fb0e"/><circle cx="520.5" cy="66.0" r="3.11" fill="#c8bc5d"/><circle cx="520.5" cy="54.0" r="2.26" fill="#06a7c6"/><circle cx="520.5" cy="42.1" r="2.01" fill="#0c93d2"/><circle cx="520.5" cy="30.1" r="2.69" fill="#4dbc92"/><circle cx="520.5" cy="18.2" r="3.28" fill="#f1b94a"/><circle cx="527.4" cy="221.3" r="0.17" fill="#352a87"/><circle cx="527.4" cy="209.4" r="0.17" fill="#352a87"/><circle cx="527.4" cy="197.4" r="0.18" fill="#352a87"/><circle cx="527.4" cy="185.5" r="0.21" fill="#352a87"/><circle cx="527.4" cy="173.5" r="0.18" fill="#352a87"/><circle cx="527.4" cy="161.6" r="0.18" fill="#352a87"/><circle cx="527.4" cy="149.6" r="0.21" fill="#352a87"/><circle cx="527.4" cy="137.7" r="0.18" fill="#352a87"/><circle cx="527.4" cy="125.7" r="0.17" fill="#352a87"/><circle cx="527.4" cy="113.8" r="0.17" fill="#352a87"/><circle cx="530.9" cy="239.3" r="3.38" fill="#ffc337"/><circle cx="530.9" cy="227.3" r="0.75" fill="#353dad"/><circle cx="530.9" cy="215.4" r="0.68" fill="#3637a0"/><circle cx="530.9" cy="203.4" r="0.87" fill="#3243ba"/><circle cx="530.9" cy="191.5" r="0.30" fill="#352a87"/><circle cx="530.9" cy="179.5" r="0.59" fill="#3637a0"/><circle cx="530.9" cy="167.6" r="0.92" fill="#3243ba"/><circle cx="530.9" cy="155.6" r="0.59" fill="#3637a0"/><circle cx="530.9" cy="143.7" r="0.30" fill="#352a87"/><circle cx="530.9" cy="131.7" r="0.87" fill="#3243ba"/><circle cx="530.9" cy="119.8" r="0.68" fill="#3637a0"/><circle cx="530.9" cy="107.8" r="0.75" fill="#353dad"/><circle cx="530.9" cy="95.8" r="3.38" fill="#ffc337"/><circle cx="537.9" cy="227.3" r="0.18" fill="#352a87"/><circle cx="537.9" cy="203.4" r="0.15" fill="#352a87"/><circle cx="537.9" cy="167.6" r="0.16" fill="#352a87"/><circle cx="537.9" cy="131.7" r="0.15" fill="#352a87"/><circle cx="537.9" cy="107.8" r="0.18" fill="#352a87"/><circle cx="541.3" cy="221.3" r="0.75" fill="#353dad"/><circle cx="541.3" cy="197.4" r="0.79" fill="#353dad"/><circle cx="541.3" cy="185.5" r="1.02" fill="#2c4ac7"/><circle cx="541.3" cy="173.5" r="0.49" fill="#363093"/><circle cx="541.3" cy="161.6" r="0.49" fill="#363093"/><circle cx="541.3" cy="149.6" r="1.02" fill="#2c4ac7"/><circle cx="541.3" cy="137.7" r="0.79" fill="#353dad"/><circle cx="541.3" cy="113.8" r="0.75" fill="#353dad"/><circle cx="548.3" cy="221.3" r="0.20" fill="#352a87"/><circle cx="548.3" cy="113.8" r="0.20" fill="#352a87"/><circle cx="551.8" cy="215.4" r="0.75" fill="#353dad"/><circle cx="551.8" cy="203.4" r="0.84" fill="#353dad"/><circle cx="551.8" cy="191.5" r="0.16" fill="#352a87"/><circle cx="551.8" cy="179.5" r="0.96" fill="#3243ba"/><circle cx="551.8" cy="167.6" r="1.41" fill="#0268e1"/><circle cx="551.8" cy="155.6" r="0.96" fill="#3243ba"/><circle cx="551.8" cy="143.7" r="0.16" fill="#352a87"/><circle cx="551.8" cy="131.7" r="0.84" fill="#353dad"/><circle cx="551.8" cy="119.8" r="0.75" fill="#353dad"/><circle cx="562.2" cy="209.4" r="0.75" fill="#353dad"/><circle cx="562.2" cy="197.4" r="1.59" fill="#0d75dc"/><circle cx="562.2" cy="185.5" r="1.65" fill="#1079da"/><circle cx="562.2" cy="173.5" r="0.71" fill="#3637a0"/><circle cx="562.2" cy="161.6" r="0.71" fill="#3637a0"/><circle cx="562.2" cy="149.6" r="1.65" fill="#1079da"/><circle cx="562.2" cy="137.7" r="1.59" fill="#0d75dc"/><circle cx="562.2" cy="125.7" r="0.75" fill="#353dad"/><circle cx="572.6" cy="179.5" r="1.65" fill="#1079da"/><circle cx="572.6" cy="167.6" r="2.36" fill="#0aacbe"/><circle cx="572.6" cy="155.6" r="1.65" fill="#1079da"/>
<path d="M416.3 161.6L417.6 161.6M423.2 173.5L421.9 173.5M423.2 173.5L423.9 172.4M423.2 161.6L423.9 160.5M426.7 179.5L426.0 178.4M426.7 179.5L428.0 179.5M426.7 167.6L426.0 166.4M433.6 203.4L434.3 202.3M433.6 191.5L434.3 190.3M433.6 167.6L432.3 167.6M433.6 155.6L432.3 155.6M433.6 143.7L434.3 142.5M437.1 197.4L436.5 196.3M437.1 197.4L438.4 197.4M437.1 161.6L438.4 161.6M437.1 149.6L436.5 148.5M437.1 137.7L436.5 136.6M437.1 125.7L438.4 125.7M444.1 209.4L442.8 209.4M444.1 209.4L444.7 208.3M444.1 173.5L442.8 173.5M444.1 173.5L444.7 172.4M444.1 137.7L442.8 137.7M444.1 125.7L444.7 124.6M444.1 113.8L444.7 114.9M447.5 215.4L446.9 216.5M447.5 215.4L446.9 214.2M447.5 179.5L448.8 179.5M447.5 167.6L446.9 166.4M447.5 143.7L448.8 143.7M447.5 131.7L446.9 130.6M447.5 119.8L448.8 119.8M454.5 215.4L453.2 215.4M454.5 191.5L453.2 191.5M454.5 191.5L455.1 190.3M454.5 167.6L453.2 167.6M454.5 155.6L453.2 155.6M454.5 107.8L455.1 106.7M458.0 233.3L457.3 234.4M458.0 233.3L457.3 232.2M458.0 197.4L459.3 197.4M458.0 149.6L457.3 148.5M458.0 101.8L457.3 100.7M458.0 101.8L459.3 101.8M464.9 233.3L463.6 233.3M464.9 137.7L463.6 137.7M464.9 125.7L465.6 126.9M468.4 239.3L469.7 239.3M468.4 203.4L467.7 204.5M468.4 179.5L469.7 179.5M468.4 83.9L469.7 83.9M468.4 71.9L469.7 71.9M468.4 60.0L469.7 60.0M468.4 48.0L469.7 48.0M468.4 36.1L469.7 36.1M468.4 24.1L469.7 24.1M475.3 311.0L474.0 311.0M475.3 299.0L474.0 299.0M475.3 287.1L474.0 287.1M475.3 275.1L474.0 275.1M475.3 263.2L474.0 263.2M475.3 251.2L474.0 251.2M475.3 167.6L474.0 167.6M475.3 155.6L474.0 155.6M475.3 95.8L474.0 95.8M478.8 209.4L480.1 209.4M478.8 161.6L480.1 161.6M478.8 137.7L480.1 137.7M478.8 113.8L480.1 113.8M478.8 101.8L480.1 101.8M478.8 89.9L480.1 89.9M478.8 77.9L480.1 77.9M478.8 54.0L480.1 54.0M478.8 42.1L480.1 42.1M478.8 30.1L480.1 30.1M478.8 18.2L480.1 18.2M485.8 317.0L484.5 317.0M485.8 305.0L484.5 305.0M485.8 293.1L484.5 293.1M485.8 281.1L484.5 281.1M485.8 269.2L484.5 269.2M485.8 257.2L484.5 257.2M485.8 245.2L484.5 245.2M485.8 233.3L484.5 233.3M485.8 221.3L484.5 221.3M485.8 197.4L484.5 197.4M485.8 173.5L484.5 173.5M485.8 125.7L484.5 125.7M499.6 317.0L500.9 317.0M499.6 305.0L500.9 305.0M499.6 293.1L500.9 293.1M499.6 281.1L500.9 281.1M499.6 269.2L500.9 269.2M499.6 257.2L500.9 257.2M499.6 245.2L500.9 245.2M499.6 233.3L500.9 233.3M499.6 221.3L500.9 221.3M499.6 197.4L500.9 197.4M499.6 173.5L500.9 173.5M499.6 125.7L500.9 125.7M506.6 209.4L505.3 209.4M506.6 161.6L505.3 161.6M506.6 137.7L505.3 137.7M506.6 113.8L505.3 113.8M506.6 101.8L505.3 101.8M506.6 89.9L505.3 89.9M506.6 77.9L505.3 77.9M506.6 54.0L505.3 54.0M506.6 42.1L505.3 42.1M506.6 30.1L505.3 30.1M506.6 18.2L505.3 18.2M510.1 311.0L511.4 311.0M510.1 299.0L511.4 299.0M510.1 287.1L511.4 287.1M510.1 275.1L511.4 275.1M510.1 263.2L511.4 263.2M510.1 251.2L511.4 251.2M510.1 167.6L511.4 167.6M510.1 155.6L511.4 155.6M510.1 95.8L511.4 95.8M517.0 239.3L515.7 239.3M517.0 203.4L517.7 204.5M517.0 179.5L515.7 179.5M517.0 83.9L515.7 83.9M517.0 71.9L515.7 71.9M517.0 60.0L515.7 60.0M517.0 48.0L515.7 48.0M517.0 36.1L515.7 36.1M517.0 24.1L515.7 24.1M520.5 233.3L521.8 233.3M520.5 137.7L521.8 137.7M520.5 125.7L519.8 126.9M527.4 233.3L528.1 234.4M527.4 233.3L528.1 232.2M527.4 197.4L526.1 197.4M527.4 149.6L528.1 148.5M527.4 101.8L526.1 101.8M527.4 101.8L528.1 100.7M530.9 215.4L532.2 215.4M530.9 191.5L530.3 190.3M530.9 191.5L532.2 191.5M530.9 167.6L532.2 167.6M530.9 155.6L532.2 155.6M530.9 107.8L530.3 106.7M537.9 215.4L538.5 216.5M537.9 215.4L538.5 214.2M537.9 179.5L536.6 179.5M537.9 167.6L538.5 166.4M537.9 143.7L536.6 143.7M537.9 131.7L538.5 130.6M537.9 119.8L536.6 119.8M541.3 209.4L540.7 208.3M541.3 209.4L542.6 209.4M541.3 173.5L540.7 172.4M541.3 173.5L542.6 173.5M541.3 137.7L542.6 137.7M541.3 125.7L540.7 124.6M541.3 113.8L540.7 114.9M548.3 197.4L547.0 197.4M548.3 197.4L548.9 196.3M548.3 161.6L547.0 161.6M548.3 149.6L548.9 148.5M548.3 137.7L548.9 136.6M548.3 125.7L547.0 125.7M551.8 203.4L551.1 202.3M551.8 191.5L551.1 190.3M551.8 167.6L553.1 167.6M551.8 155.6L553.1 155.6M551.8 143.7L551.1 142.5M558.7 179.5L557.4 179.5M558.7 179.5L559.4 178.4M558.7 167.6L559.4 166.4M562.2 173.5L561.5 172.4M562.2 173.5L563.5 173.5M562.2 161.6L561.5 160.5M569.1 161.6L567.8 161.6" stroke="#ff1050" stroke-opacity="0.25" stroke-width="1.1" fill="none"/>
<path d="M457.95 161.58L458.76 161.58M458.61 161.51L458.76 161.58L458.61 161.66M457.95 125.73L458.92 125.73M458.75 125.63L458.92 125.73L458.75 125.82M464.90 209.39L463.93 209.39M464.10 209.48L463.93 209.39L464.10 209.30M464.90 173.54L464.10 173.54M464.24 173.61L464.10 173.54L464.24 173.46M464.90 125.73L465.38 124.90M465.22 125.00L465.38 124.90L465.38 125.09M468.38 215.37L467.90 214.54M467.90 214.73L467.90 214.54L468.06 214.64M468.38 143.66L469.23 143.66M469.08 143.57L469.23 143.66L469.08 143.74M475.33 191.46L474.47 191.46M474.62 191.55L474.47 191.46L474.62 191.38M510.07 191.46L510.93 191.46M510.78 191.38L510.93 191.46L510.78 191.55M517.02 215.37L517.50 214.54M517.34 214.64L517.50 214.54L517.50 214.73M517.02 143.66L516.17 143.66M516.32 143.74L516.17 143.66L516.32 143.57M520.50 209.39L521.47 209.39M521.30 209.30L521.47 209.39L521.30 209.48M520.50 173.54L521.30 173.54M521.16 173.46L521.30 173.54L521.16 173.61M520.50 125.73L520.02 124.90M520.02 125.09L520.02 124.90L520.18 125.00M527.45 161.58L526.64 161.58M526.79 161.66L526.64 161.58L526.79 161.51M527.45 125.73L526.48 125.73M526.65 125.82L526.48 125.73L526.65 125.63" stroke="#ff1050" stroke-width="0.875" fill="none" stroke-linecap="butt" stroke-linejoin="bevel"/>
<path d="M433.63 155.61L434.28 154.48M434.06 154.62L434.28 154.48L434.28 154.74M437.10 185.49L436.44 184.35M436.45 184.62L436.44 184.35L436.67 184.49M437.10 149.63L438.14 149.63M437.96 149.53L438.14 149.63L437.96 149.73M444.05 185.49L443.01 185.49M443.19 185.59L443.01 185.49L443.19 185.39M444.05 161.58L444.69 160.49M444.47 160.62L444.69 160.49L444.68 160.74M447.53 179.51L446.89 178.42M446.90 178.67L446.89 178.42L447.11 178.55M454.48 203.42L455.01 202.50M454.83 202.61L455.01 202.50L455.00 202.71M454.48 143.66L454.98 142.78M454.81 142.89L454.98 142.78L454.98 142.99M457.95 197.44L457.45 196.57M457.45 196.77L457.45 196.57L457.62 196.67M457.95 149.63L459.15 149.63M458.94 149.52L459.15 149.63L458.94 149.75M457.95 137.68L457.42 136.76M457.42 136.97L457.42 136.76L457.60 136.87M464.90 185.49L463.69 185.49M463.90 185.60L463.69 185.49L463.90 185.37M464.90 173.54L465.54 172.44M465.32 172.57L465.54 172.44L465.53 172.69M464.90 113.77L465.39 114.62M465.39 114.42L465.39 114.62L465.22 114.52M468.38 227.32L469.58 227.32M469.37 227.20L469.58 227.32L469.37 227.44M468.38 215.37L467.87 216.23M468.05 216.13L467.87 216.23L467.88 216.03M468.38 167.56L467.74 166.46M467.74 166.71L467.74 166.46L467.95 166.59M475.33 107.80L474.11 107.80M474.32 107.92L474.11 107.80L474.32 107.68M478.80 149.63L479.92 149.63M479.72 149.52L479.92 149.63L479.72 149.74M485.75 185.49L484.62 185.49M484.82 185.60L484.62 185.49L484.82 185.38M499.65 185.49L500.78 185.49M500.58 185.38L500.78 185.49L500.58 185.60M506.60 149.63L505.48 149.63M505.68 149.74L505.48 149.63L505.68 149.52M510.07 107.80L511.29 107.80M511.08 107.68L511.29 107.80L511.08 107.92M517.02 227.32L515.82 227.32M516.03 227.44L515.82 227.32L516.03 227.20M517.02 215.37L517.53 216.23M517.52 216.03L517.53 216.23L517.35 216.13M517.02 167.56L517.66 166.46M517.45 166.59L517.66 166.46L517.66 166.71M520.50 185.49L521.71 185.49M521.50 185.37L521.71 185.49L521.50 185.60M520.50 173.54L519.86 172.44M519.87 172.69L519.86 172.44L520.08 172.57M520.50 113.77L520.01 114.62M520.18 114.52L520.01 114.62L520.01 114.42M527.45 197.44L527.95 196.57M527.78 196.67L527.95 196.57L527.95 196.77M527.45 149.63L526.25 149.63M526.46 149.75L526.25 149.63L526.46 149.52M527.45 137.68L527.98 136.76M527.80 136.87L527.98 136.76L527.98 136.97M530.92 203.42L530.39 202.50M530.40 202.71L530.39 202.50L530.57 202.61M530.92 143.66L530.42 142.78M530.42 142.99L530.42 142.78L530.59 142.89M537.87 179.51L538.51 178.42M538.29 178.55L538.51 178.42L538.50 178.67M541.35 185.49L542.39 185.49M542.21 185.39L542.39 185.49L542.21 185.59M541.35 161.58L540.71 160.49M540.72 160.74L540.71 160.49L540.93 160.62M548.30 185.49L548.96 184.35M548.73 184.49L548.96 184.35L548.95 184.62M548.30 149.63L547.26 149.63M547.44 149.73L547.26 149.63L547.44 149.53M551.77 155.61L551.12 154.48M551.12 154.74L551.12 154.48L551.34 154.62" stroke="#ff1050" stroke-width="1.000" fill="none" stroke-linecap="butt" stroke-linejoin="bevel"/>
<path d="M412.78 179.51L413.50 178.28M413.25 178.43L413.50 178.28L413.49 178.56M412.78 155.61L413.49 154.38M413.25 154.53L413.49 154.38L413.49 154.66M416.26 185.49L415.54 184.25M415.54 184.54L415.54 184.25L415.78 184.40M416.26 161.58L415.54 160.35M415.55 160.64L415.54 160.35L415.78 160.50M416.26 149.63L417.68 149.63M417.43 149.49L417.68 149.63L417.43 149.77M423.20 209.39L423.90 208.19M423.67 208.33L423.90 208.19L423.90 208.47M423.20 185.49L421.77 185.49M422.02 185.63L421.77 185.49L422.02 185.35M423.20 185.49L423.89 184.32M423.65 184.46L423.89 184.32L423.88 184.59M423.20 125.73L423.90 124.53M423.66 124.68L423.90 124.53L423.89 124.81M426.68 215.37L425.98 214.17M425.99 214.44L425.98 214.17L426.22 214.31M426.68 155.61L426.00 154.43M426.00 154.70L426.00 154.43L426.23 154.57M426.68 131.70L425.98 130.51M425.99 130.78L425.98 130.51L426.22 130.65M426.68 131.70L428.08 131.70M427.83 131.57L428.08 131.70L427.83 131.84M426.68 119.75L428.07 119.75M427.82 119.62L428.07 119.75L427.82 119.88M433.63 215.37L432.23 215.37M432.48 215.50L432.23 215.37L432.48 215.23M433.63 203.42L432.22 203.42M432.47 203.55L432.22 203.42L432.47 203.28M454.48 155.61L455.27 154.24M455.00 154.40L455.27 154.24L455.27 154.55M457.95 185.49L457.15 184.11M457.16 184.43L457.15 184.11L457.42 184.27M475.33 191.46L476.05 190.23M475.80 190.38L476.05 190.23L476.04 190.51M478.80 149.63L478.08 148.40M478.09 148.68L478.08 148.40L478.33 148.54M506.60 149.63L507.32 148.40M507.07 148.54L507.32 148.40L507.31 148.68M510.07 191.46L509.35 190.23M509.36 190.51L509.35 190.23L509.60 190.38M527.45 185.49L528.25 184.11M527.98 184.27L528.25 184.11L528.24 184.43M530.92 155.61L530.13 154.24M530.13 154.55L530.13 154.24L530.40 154.40M551.77 215.37L553.17 215.37M552.92 215.23L553.17 215.37L552.92 215.50M551.77 203.42L553.18 203.42M552.93 203.28L553.18 203.42L552.93 203.55M558.72 215.37L559.42 214.17M559.18 214.31L559.42 214.17L559.41 214.44M558.72 155.61L559.40 154.43M559.17 154.57L559.40 154.43L559.40 154.70M558.72 131.70L557.32 131.70M557.57 131.84L557.32 131.70L557.57 131.57M558.72 131.70L559.42 130.51M559.18 130.65L559.42 130.51L559.41 130.78M558.72 119.75L557.33 119.75M557.58 119.88L557.33 119.75L557.58 119.62M562.20 209.39L561.50 208.19M561.50 208.47L561.50 208.19L561.73 208.33M562.20 185.49L561.51 184.32M561.52 184.59L561.51 184.32L561.75 184.46M562.20 185.49L563.63 185.49M563.38 185.35L563.63 185.49L563.38 185.63M562.20 125.73L561.50 124.53M561.51 124.81L561.50 124.53L561.74 124.68M569.14 185.49L569.86 184.25M569.62 184.40L569.86 184.25L569.86 184.54M569.14 161.58L569.86 160.35M569.62 160.50L569.86 160.35L569.85 160.64M569.14 149.63L567.72 149.63M567.97 149.77L567.72 149.63L567.97 149.49M572.62 179.51L571.90 178.28M571.91 178.56L571.90 178.28L572.15 178.43M572.62 155.61L571.91 154.38M571.91 154.66L571.91 154.38L572.15 154.53" stroke="#ff1050" stroke-width="1.125" fill="none" stroke-linecap="butt" stroke-linejoin="bevel"/>
<path d="M412.78 167.56L413.77 165.86M413.43 166.06L413.77 165.86L413.76 166.25M416.26 173.54L415.26 171.83M415.27 172.22L415.26 171.83L415.60 172.03M433.63 215.37L434.50 213.88M434.20 214.06L434.50 213.88L434.49 214.22M433.63 179.51L434.62 177.81M434.28 178.01L434.62 177.81L434.61 178.20M433.63 131.70L434.60 130.04M434.27 130.24L434.60 130.04L434.59 130.42M437.10 209.39L436.13 207.72M436.14 208.11L436.13 207.72L436.46 207.92M437.10 161.58L436.12 159.88M436.13 160.28L436.12 159.88L436.45 160.09M437.10 125.73L436.24 124.24M436.25 124.58L436.24 124.24L436.53 124.42M444.05 185.49L445.01 183.84M444.68 184.04L445.01 183.84L445.00 184.22M447.53 155.61L446.57 153.96M446.58 154.34L446.57 153.96L446.90 154.16M447.53 131.70L449.54 131.70M449.19 131.51L449.54 131.70L449.19 131.90M454.48 203.42L452.45 203.42M452.81 203.61L452.45 203.42L452.81 203.22M468.38 119.75L470.32 119.75M469.98 119.56L470.32 119.75L469.98 119.94M475.33 215.37L473.36 215.37M473.70 215.56L473.36 215.37L473.70 215.18M475.33 203.42L476.25 201.82M475.94 202.02L476.25 201.82L476.24 202.19M478.80 137.68L477.87 136.08M477.88 136.45L477.87 136.08L478.19 136.27M506.60 137.68L507.53 136.08M507.21 136.27L507.53 136.08L507.52 136.45M510.07 215.37L512.04 215.37M511.70 215.18L512.04 215.37L511.70 215.56M510.07 203.42L509.15 201.82M509.16 202.19L509.15 201.82L509.46 202.02M517.02 119.75L515.08 119.75M515.42 119.94L515.08 119.75L515.42 119.56M530.92 203.42L532.95 203.42M532.59 203.22L532.95 203.42L532.59 203.61M537.87 155.61L538.83 153.96M538.50 154.16L538.83 153.96L538.82 154.34M537.87 131.70L535.86 131.70M536.21 131.90L535.86 131.70L536.21 131.51M541.35 185.49L540.39 183.84M540.40 184.22L540.39 183.84L540.72 184.04M548.30 209.39L549.27 207.72M548.94 207.92L549.27 207.72L549.26 208.11M548.30 161.58L549.28 159.88M548.95 160.09L549.28 159.88L549.27 160.28M548.30 125.73L549.16 124.24M548.87 124.42L549.16 124.24L549.15 124.58M551.77 215.37L550.90 213.88M550.91 214.22L550.90 213.88L551.20 214.06M551.77 179.51L550.78 177.81M550.79 178.20L550.78 177.81L551.12 178.01M551.77 131.70L550.80 130.04M550.81 130.42L550.80 130.04L551.13 130.24M569.14 173.54L570.14 171.83M569.80 172.03L570.14 171.83L570.13 172.22M572.62 167.56L571.63 165.86M571.64 166.25L571.63 165.86L571.97 166.06" stroke="#ff1050" stroke-width="1.250" fill="none" stroke-linecap="butt" stroke-linejoin="bevel"/>
<path d="M444.05 197.44L445.22 195.43M444.82 195.67L445.22 195.43L445.21 195.89M444.05 137.68L445.09 135.90M444.73 136.12L445.09 135.90L445.07 136.31M447.53 203.42L446.49 201.63M446.50 202.04L446.49 201.63L446.84 201.84M447.53 143.66L446.36 141.65M446.37 142.11L446.36 141.65L446.76 141.89M454.48 215.37L455.54 213.54M455.18 213.76L455.54 213.54L455.53 213.97M454.48 179.51L455.60 177.58M455.22 177.81L455.60 177.58L455.59 178.03M457.95 161.58L456.83 159.66M456.85 160.10L456.83 159.66L457.21 159.89M457.95 125.73L456.89 123.91M456.90 124.33L456.89 123.91L457.25 124.12M464.90 161.58L465.94 159.79M465.59 160.01L465.94 159.79L465.93 160.21M468.38 179.51L467.34 177.72M467.35 178.14L467.34 177.72L467.69 177.94M475.33 143.66L476.47 141.69M476.08 141.92L476.47 141.69L476.46 142.14M478.80 197.44L477.66 195.47M477.67 195.93L477.66 195.47L478.05 195.71M506.60 197.44L507.74 195.47M507.35 195.71L507.74 195.47L507.73 195.93M510.07 143.66L508.93 141.69M508.94 142.14L508.93 141.69L509.32 141.92M517.02 179.51L518.06 177.72M517.71 177.94L518.06 177.72L518.05 178.14M520.50 161.58L519.46 159.79M519.47 160.21L519.46 159.79L519.81 160.01M527.45 161.58L528.57 159.66M528.19 159.89L528.57 159.66L528.55 160.10M527.45 125.73L528.51 123.91M528.15 124.12L528.51 123.91L528.50 124.33M530.92 215.37L529.86 213.54M529.87 213.97L529.86 213.54L530.22 213.76M530.92 179.51L529.80 177.58M529.81 178.03L529.80 177.58L530.18 177.81M537.87 203.42L538.91 201.63M538.56 201.84L538.91 201.63L538.90 202.04M537.87 143.66L539.04 141.65M538.64 141.89L539.04 141.65L539.03 142.11M541.35 197.44L540.18 195.43M540.19 195.89L540.18 195.43L540.58 195.67M541.35 137.68L540.31 135.90M540.33 136.31L540.31 135.90L540.67 136.12" stroke="#ff1050" stroke-width="1.375" fill="none" stroke-linecap="butt" stroke-linejoin="bevel"/>
<path d="M423.20 137.68L424.60 135.28M424.12 135.57L424.60 135.28L424.58 135.84M433.63 167.56L434.95 165.28M434.50 165.56L434.95 165.28L434.94 165.81M437.10 173.54L435.78 171.25M435.79 171.78L435.78 171.25L436.23 171.53M454.48 119.75L455.75 117.57M455.31 117.83L455.75 117.57L455.73 118.08M454.48 107.80L455.82 110.11M455.81 109.58L455.82 110.11L455.37 109.84M457.95 221.34L456.60 223.67M457.06 223.39L456.60 223.67L456.61 223.13M457.95 221.34L456.68 219.15M456.69 219.66L456.68 219.15L457.11 219.42M464.90 185.49L466.19 183.27M465.75 183.54L466.19 183.27L466.18 183.78M468.38 155.61L467.09 153.39M467.10 153.90L467.09 153.39L467.52 153.65M475.33 155.61L476.60 153.41M476.17 153.67L476.60 153.41L476.59 153.92M478.80 185.49L477.52 183.28M477.53 183.79L477.52 183.28L477.95 183.55M485.75 173.54L487.07 171.26M486.62 171.54L487.07 171.26L487.06 171.79M489.23 167.56L487.91 165.29M487.92 165.81L487.91 165.29L488.35 165.56M496.17 167.56L497.49 165.29M497.05 165.56L497.49 165.29L497.48 165.81M499.65 173.54L498.33 171.26M498.34 171.79L498.33 171.26L498.78 171.54M506.60 185.49L507.88 183.28M507.45 183.55L507.88 183.28L507.87 183.79M510.07 155.61L508.80 153.41M508.81 153.92L508.80 153.41L509.23 153.67M517.02 155.61L518.31 153.39M517.88 153.65L518.31 153.39L518.30 153.90M520.50 185.49L519.21 183.27M519.22 183.78L519.21 183.27L519.65 183.54M527.45 221.34L528.80 223.67M528.79 223.13L528.80 223.67L528.34 223.39M527.45 221.34L528.72 219.15M528.29 219.42L528.72 219.15L528.71 219.66M530.92 119.75L529.65 117.57M529.67 118.08L529.65 117.57L530.09 117.83M530.92 107.80L529.58 110.11M530.03 109.84L529.58 110.11L529.59 109.58M548.30 173.54L549.62 171.25M549.17 171.53L549.62 171.25L549.61 171.78M551.77 167.56L550.45 165.28M550.46 165.81L550.45 165.28L550.90 165.56M562.20 137.68L560.80 135.28M560.82 135.84L560.80 135.28L561.28 135.57" stroke="#ff1050" stroke-width="1.500" fill="none" stroke-linecap="butt" stroke-linejoin="bevel"/>
<path d="M423.20 197.44L424.60 195.03M424.13 195.32L424.60 195.03L424.59 195.59M423.20 149.63L424.60 147.23M424.13 147.52L424.60 147.23L424.59 147.79M426.68 203.42L425.28 201.01M425.29 201.56L425.28 201.01L425.76 201.30M426.68 191.46L425.28 189.06M425.29 189.61L425.28 189.06L425.76 189.34M426.68 143.66L425.29 141.26M425.30 141.81L425.29 141.26L425.76 141.54M433.63 119.75L435.19 117.07M434.66 117.39L435.19 117.07L435.17 117.69M437.10 221.34L435.54 218.65M435.56 219.27L435.54 218.65L436.07 218.97M437.10 113.77L440.22 113.77M439.67 113.48L440.22 113.77L439.67 114.07M444.05 221.34L440.92 221.34M441.47 221.64L440.92 221.34L441.47 221.04M444.05 149.63L445.53 147.09M445.03 147.40L445.53 147.09L445.51 147.68M444.05 113.77L445.53 111.23M445.03 111.54L445.53 111.23L445.52 111.82M447.53 227.32L446.05 224.77M446.06 225.36L446.05 224.77L446.55 225.07M447.53 191.46L446.05 188.92M446.07 189.51L446.05 188.92L446.55 189.22M447.53 107.80L450.49 107.80M449.97 107.52L450.49 107.80L449.97 108.08M454.48 227.32L451.51 227.32M452.03 227.60L451.51 227.32L452.03 227.04M454.48 167.56L456.00 164.94M455.48 165.26L456.00 164.94L455.98 165.55M454.48 131.70L456.02 129.05M455.50 129.37L456.02 129.05L456.00 129.66M457.95 209.39L456.41 206.73M456.42 207.35L456.41 206.73L456.93 207.05M457.95 173.54L456.43 170.91M456.44 171.52L456.43 170.91L456.95 171.23M464.90 197.44L466.37 194.92M465.87 195.22L466.37 194.92L466.35 195.50M464.90 137.68L466.34 135.21M465.85 135.51L466.34 135.21L466.32 135.78M468.38 203.42L466.93 200.93M466.95 201.51L466.93 200.93L467.43 201.23M468.38 143.66L466.91 141.14M466.93 141.72L466.91 141.14L467.41 141.44M468.38 131.70L471.25 131.70M470.75 131.43L471.25 131.70L470.75 131.98M475.33 203.42L472.43 203.42M472.94 203.69L472.43 203.42L472.94 203.14M475.33 179.51L476.86 176.88M476.34 177.20L476.86 176.88L476.84 177.49M478.80 161.58L477.27 158.96M477.29 159.56L477.27 158.96L477.79 159.27M506.60 161.58L508.13 158.96M507.61 159.27L508.13 158.96L508.11 159.56M510.07 203.42L512.97 203.42M512.46 203.14L512.97 203.42L512.46 203.69M510.07 179.51L508.54 176.88M508.56 177.49L508.54 176.88L509.06 177.20M517.02 203.42L518.47 200.93M517.97 201.23L518.47 200.93L518.45 201.51M517.02 143.66L518.49 141.14M517.99 141.44L518.49 141.14L518.47 141.72M517.02 131.70L514.15 131.70M514.65 131.98L514.15 131.70L514.65 131.43M520.50 197.44L519.03 194.92M519.05 195.50L519.03 194.92L519.53 195.22M520.50 137.68L519.06 135.21M519.08 135.78L519.06 135.21L519.55 135.51M527.45 209.39L528.99 206.73M528.47 207.05L528.99 206.73L528.98 207.35M527.45 173.54L528.97 170.91M528.45 171.23L528.97 170.91L528.96 171.52M530.92 227.32L533.89 227.32M533.37 227.04L533.89 227.32L533.37 227.60M530.92 167.56L529.40 164.94M529.42 165.55L529.40 164.94L529.92 165.26M530.92 131.70L529.38 129.05M529.40 129.66L529.38 129.05L529.90 129.37M537.87 227.32L539.35 224.77M538.85 225.07L539.35 224.77L539.34 225.36M537.87 191.46L539.35 188.92M538.85 189.22L539.35 188.92L539.33 189.51M537.87 107.80L534.91 107.80M535.43 108.08L534.91 107.80L535.43 107.52M541.35 221.34L544.48 221.34M543.93 221.04L544.48 221.34L543.93 221.64M541.35 149.63L539.87 147.09M539.89 147.68L539.87 147.09L540.37 147.40M541.35 113.77L539.87 111.23M539.88 111.82L539.87 111.23L540.37 111.54M548.30 221.34L549.86 218.65M549.33 218.97L549.86 218.65L549.84 219.27M548.30 113.77L545.18 113.77M545.73 114.07L545.18 113.77L545.73 113.48M551.77 119.75L550.21 117.07M550.23 117.69L550.21 117.07L550.74 117.39M558.72 203.42L560.12 201.01M559.64 201.30L560.12 201.01L560.11 201.56M558.72 191.46L560.12 189.06M559.64 189.34L560.12 189.06L560.11 189.61M558.72 143.66L560.11 141.26M559.64 141.54L560.11 141.26L560.10 141.81M562.20 197.44L560.80 195.03M560.81 195.59L560.80 195.03L561.27 195.32M562.20 149.63L560.80 147.23M560.81 147.79L560.80 147.23L561.27 147.52" stroke="#ff1050" stroke-width="1.625" fill="none" stroke-linecap="butt" stroke-linejoin="bevel"/>
<path d="M485.75 185.49L487.37 182.71M486.82 183.04L487.37 182.71L487.35 183.35M485.75 161.58L487.36 158.81M486.82 159.14L487.36 158.81L487.35 159.45M489.23 179.51L487.61 176.73M487.63 177.38L487.61 176.73L488.16 177.07M489.23 155.61L487.61 152.83M487.63 153.47L487.61 152.83L488.16 153.16M496.17 179.51L497.79 176.73M497.24 177.07L497.79 176.73L497.77 177.38M496.17 155.61L497.79 152.83M497.24 153.16L497.79 152.83L497.77 153.47M499.65 185.49L498.03 182.71M498.05 183.35L498.03 182.71L498.58 183.04M499.65 161.58L498.04 158.81M498.05 159.45L498.04 158.81L498.58 159.14" stroke="#ff1050" stroke-width="1.750" fill="none" stroke-linecap="butt" stroke-linejoin="bevel"/>
<path d="M464.90 149.63L466.79 146.38M466.15 146.77L466.79 146.38L466.77 147.13M468.38 191.46L466.48 188.21M466.50 188.96L466.48 188.21L467.13 188.60M475.33 167.56L477.15 164.43M476.53 164.80L477.15 164.43L477.13 165.15M478.80 173.54L476.98 170.40M477.00 171.12L476.98 170.40L477.60 170.77M506.60 173.54L508.42 170.40M507.80 170.77L508.42 170.40L508.40 171.12M510.07 167.56L508.25 164.43M508.27 165.15L508.25 164.43L508.87 164.80M517.02 191.46L518.92 188.21M518.27 188.60L518.92 188.21L518.90 188.96M520.50 149.63L518.61 146.38M518.63 147.13L518.61 146.38L519.25 146.77" stroke="#ff1050" stroke-width="1.875" fill="none" stroke-linecap="butt" stroke-linejoin="bevel"/>
<path d="M464.90 316.96L467.11 313.15M466.36 313.61L467.11 313.15L467.09 314.03M464.90 305.01L467.14 301.17M466.38 301.63L467.14 301.17L467.11 302.05M464.90 113.77L467.02 110.12M466.30 110.56L467.02 110.12L467.00 110.97M464.90 42.06L467.18 38.14M466.41 38.61L467.18 38.14L467.16 39.05M464.90 30.11L467.10 26.33M466.35 26.78L467.10 26.33L467.08 27.20M464.90 18.16L467.07 14.42M466.33 14.87L467.07 14.42L467.05 15.29M468.38 322.94L466.15 319.11M466.18 320.00L466.15 319.11L466.91 319.57M468.38 310.98L466.14 307.13M466.16 308.02L466.14 307.13L466.90 307.59M468.38 227.32L466.25 223.67M466.27 224.51L466.25 223.67L466.98 224.10M468.38 48.04L466.09 44.11M466.12 45.02L466.09 44.11L466.87 44.58M468.38 36.09L466.17 32.30M466.20 33.17L466.17 32.30L466.92 32.75M468.38 24.13L466.20 20.39M466.22 21.26L466.20 20.39L466.94 20.84M475.33 263.18L477.62 259.24M476.84 259.71L477.62 259.24L477.59 260.15M475.33 251.22L477.50 247.49M476.76 247.94L477.50 247.49L477.47 248.36M475.33 95.85L477.58 91.97M476.81 92.43L477.58 91.97L477.56 92.87M475.33 83.89L477.60 79.98M476.83 80.45L477.60 79.98L477.58 80.88M478.80 245.25L476.52 241.32M476.54 242.23L476.52 241.32L477.30 241.79M478.80 89.87L476.66 86.18M476.68 87.03L476.66 86.18L477.39 86.62M478.80 77.92L476.53 74.02M476.56 74.92L476.53 74.02L477.31 74.49M485.75 221.34L488.03 217.42M487.26 217.89L488.03 217.42L488.01 218.32M485.75 197.44L487.93 193.69M487.19 194.14L487.93 193.69L487.91 194.56M485.75 149.63L487.92 145.89M487.18 146.34L487.92 145.89L487.90 146.76M485.75 125.73L488.02 121.83M487.25 122.29L488.02 121.83L487.99 122.73M489.23 215.37L486.94 211.44M486.97 212.35L486.94 211.44L487.72 211.91M489.23 191.46L487.05 187.71M487.07 188.58L487.05 187.71L487.79 188.16M489.23 143.66L487.05 139.92M487.07 140.78L487.05 139.92L487.79 140.36M489.23 119.75L486.96 115.85M486.98 116.75L486.96 115.85L487.73 116.32M496.17 215.37L498.46 211.44M497.68 211.91L498.46 211.44L498.43 212.35M496.17 191.46L498.35 187.71M497.61 188.16L498.35 187.71L498.33 188.58M496.17 143.66L498.35 139.92M497.61 140.36L498.35 139.92L498.33 140.78M496.17 119.75L498.44 115.85M497.67 116.32L498.44 115.85L498.42 116.75M499.65 221.34L497.37 217.42M497.39 218.32L497.37 217.42L498.14 217.89M499.65 197.44L497.47 193.69M497.49 194.56L497.47 193.69L498.21 194.14M499.65 149.63L497.48 145.89M497.50 146.76L497.48 145.89L498.22 146.34M499.65 125.73L497.38 121.83M497.41 122.73L497.38 121.83L498.15 122.29M506.60 245.25L508.88 241.32M508.10 241.79L508.88 241.32L508.86 242.23M506.60 89.87L508.74 86.18M508.01 86.62L508.74 86.18L508.72 87.03M506.60 77.92L508.87 74.02M508.09 74.49L508.87 74.02L508.84 74.92M510.07 263.18L507.78 259.24M507.81 260.15L507.78 259.24L508.56 259.71M510.07 251.22L507.90 247.49M507.93 248.36L507.90 247.49L508.64 247.94M510.07 95.85L507.82 91.97M507.84 92.87L507.82 91.97L508.59 92.43M510.07 83.89L507.80 79.98M507.82 80.88L507.80 79.98L508.57 80.45M517.02 322.94L519.25 319.11M518.49 319.57L519.25 319.11L519.22 320.00M517.02 310.98L519.26 307.13M518.50 307.59L519.26 307.13L519.24 308.02M517.02 227.32L519.15 223.67M518.42 224.10L519.15 223.67L519.13 224.51M517.02 48.04L519.31 44.11M518.53 44.58L519.31 44.11L519.28 45.02M517.02 36.09L519.23 32.30M518.48 32.75L519.23 32.30L519.20 33.17M517.02 24.13L519.20 20.39M518.46 20.84L519.20 20.39L519.18 21.26M520.50 316.96L518.29 313.15M518.31 314.03L518.29 313.15L519.04 313.61M520.50 305.01L518.26 301.17M518.29 302.05L518.26 301.17L519.02 301.63M520.50 113.77L518.38 110.12M518.40 110.97L518.38 110.12L519.10 110.56M520.50 42.06L518.22 38.14M518.24 39.05L518.22 38.14L518.99 38.61M520.50 30.11L518.30 26.33M518.32 27.20L518.30 26.33L519.05 26.78M520.50 18.16L518.33 14.42M518.35 15.29L518.33 14.42L519.07 14.87" stroke="#ff1050" stroke-width="2.125" fill="none" stroke-linecap="butt" stroke-linejoin="bevel"/>
<path d="M464.90 293.06L467.22 289.07M466.43 289.55L467.22 289.07L467.19 290.00M464.90 54.01L467.35 49.80M466.52 50.31L467.35 49.80L467.33 50.78M468.38 299.03L466.06 295.05M466.08 295.97L466.06 295.05L466.85 295.53M468.38 59.99L465.92 55.77M465.95 56.75L465.92 55.77L466.76 56.28M475.33 131.70L477.69 127.63M476.89 128.12L477.69 127.63L477.67 128.57M478.80 257.20L476.50 253.23M476.52 254.15L476.50 253.23L477.28 253.71M478.80 209.39L476.43 205.31M476.45 206.25L476.43 205.31L477.24 205.80M485.75 233.30L488.16 229.16M487.34 229.65L488.16 229.16L488.13 230.11M485.75 209.39L488.15 205.26M487.33 205.76L488.15 205.26L488.13 206.22M485.75 137.68L488.14 133.57M487.33 134.06L488.14 133.57L488.11 134.52M485.75 113.77L488.14 109.67M487.33 110.16L488.14 109.67L488.11 110.62M489.23 227.32L486.82 223.18M486.84 224.14L486.82 223.18L487.64 223.68M489.23 203.42L486.82 199.29M486.85 200.24L486.82 199.29L487.64 199.78M489.23 131.70L486.84 127.60M486.86 128.55L486.84 127.60L487.65 128.09M489.23 107.80L486.84 103.69M486.86 104.64L486.84 103.69L487.65 104.18M496.17 227.32L498.58 223.18M497.76 223.68L498.58 223.18L498.56 224.14M496.17 203.42L498.58 199.29M497.76 199.78L498.58 199.29L498.55 200.24M496.17 131.70L498.56 127.60M497.75 128.09L498.56 127.60L498.54 128.55M496.17 107.80L498.56 103.69M497.75 104.18L498.56 103.69L498.54 104.64M499.65 233.30L497.24 229.16M497.27 230.11L497.24 229.16L498.06 229.65M499.65 209.39L497.25 205.26M497.27 206.22L497.25 205.26L498.07 205.76M499.65 137.68L497.26 133.57M497.29 134.52L497.26 133.57L498.07 134.06M499.65 113.77L497.26 109.67M497.29 110.62L497.26 109.67L498.07 110.16M506.60 257.20L508.90 253.23M508.12 253.71L508.90 253.23L508.88 254.15M506.60 209.39L508.97 205.31M508.16 205.80L508.97 205.31L508.95 206.25M510.07 131.70L507.71 127.63M507.73 128.57L507.71 127.63L508.51 128.12M517.02 299.03L519.34 295.05M518.55 295.53L519.34 295.05L519.32 295.97M517.02 59.99L519.48 55.77M518.64 56.28L519.48 55.77L519.45 56.75M520.50 293.06L518.18 289.07M518.21 290.00L518.18 289.07L518.97 289.55M520.50 54.01L518.05 49.80M518.07 50.78L518.05 49.80L518.88 50.31" stroke="#ff1050" stroke-width="2.250" fill="none" stroke-linecap="butt" stroke-linejoin="bevel"/>
<path d="M457.95 113.77L463.18 113.77M462.26 113.27L463.18 113.77L462.26 114.28M464.90 281.10L467.39 276.83M466.54 277.34L467.39 276.83L467.36 277.81M464.90 221.34L459.65 221.34M460.57 221.85L459.65 221.34L460.57 220.84M468.38 287.08L465.89 282.80M465.91 283.79L465.89 282.80L466.73 283.31M475.33 275.13L477.91 270.68M477.03 271.22L477.91 270.68L477.88 271.71M475.33 239.27L477.90 234.85M477.02 235.38L477.90 234.85L477.87 235.87M475.33 215.37L477.82 211.09M476.97 211.60L477.82 211.09L477.79 212.08M475.33 71.94L477.88 67.54M477.01 68.07L477.88 67.54L477.86 68.56M478.80 269.15L476.21 264.70M476.24 265.73L476.21 264.70L477.10 265.24M478.80 125.73L476.32 121.45M476.34 122.44L476.32 121.45L477.16 121.96M478.80 101.82L476.26 97.44M476.28 98.46L476.26 97.44L477.12 97.97M478.80 65.97L476.24 61.57M476.27 62.58L476.24 61.57L477.11 62.09M485.75 245.25L488.34 240.80M487.46 241.33L488.34 240.80L488.31 241.83M485.75 101.82L488.32 97.41M487.44 97.94L488.32 97.41L488.29 98.43M489.23 239.27L486.64 234.82M486.66 235.85L486.64 234.82L487.52 235.35M489.23 95.85L486.66 91.43M486.69 92.45L486.66 91.43L487.53 91.96M496.17 239.27L498.76 234.82M497.88 235.35L498.76 234.82L498.74 235.85M496.17 95.85L498.74 91.43M497.87 91.96L498.74 91.43L498.71 92.45M499.65 245.25L497.06 240.80M497.09 241.83L497.06 240.80L497.94 241.33M499.65 101.82L497.08 97.41M497.11 98.43L497.08 97.41L497.96 97.94M506.60 269.15L509.19 264.70M508.30 265.24L509.19 264.70L509.16 265.73M506.60 125.73L509.08 121.45M508.24 121.96L509.08 121.45L509.06 122.44M506.60 101.82L509.14 97.44M508.28 97.97L509.14 97.44L509.12 98.46M506.60 65.97L509.16 61.57M508.29 62.09L509.16 61.57L509.13 62.58M510.07 275.13L507.49 270.68M507.52 271.71L507.49 270.68L508.37 271.22M510.07 239.27L507.50 234.85M507.53 235.87L507.50 234.85L508.38 235.38M510.07 215.37L507.58 211.09M507.61 212.08L507.58 211.09L508.43 211.60M510.07 71.94L507.52 67.54M507.54 68.56L507.52 67.54L508.39 68.07M517.02 287.08L519.51 282.80M518.67 283.31L519.51 282.80L519.49 283.79M520.50 281.10L518.01 276.83M518.04 277.81L518.01 276.83L518.86 277.34M520.50 221.34L525.75 221.34M524.83 220.84L525.75 221.34L524.83 221.85M527.45 113.77L522.22 113.77M523.14 114.28L522.22 113.77L523.14 113.27" stroke="#ff1050" stroke-width="2.375" fill="none" stroke-linecap="butt" stroke-linejoin="bevel"/>
<path d="M464.90 269.15L467.65 264.42M466.72 264.98L467.65 264.42L467.63 265.51M464.90 233.30L467.63 228.61M466.70 229.17L467.63 228.61L467.60 229.69M464.90 65.97L467.62 61.29M466.69 61.85L467.62 61.29L467.59 62.37M468.38 275.13L465.62 270.38M465.65 271.48L465.62 270.38L466.56 270.95M468.38 107.80L465.64 103.10M465.67 104.18L465.64 103.10L466.57 103.66M468.38 71.94L465.66 67.26M465.68 68.35L465.66 67.26L466.58 67.82M475.33 287.08L478.14 282.23M477.18 282.81L478.14 282.23L478.11 283.35M475.33 107.80L478.05 103.11M477.12 103.67L478.05 103.11L478.02 104.20M475.33 59.99L478.15 55.14M477.19 55.72L478.15 55.14L478.12 56.26M478.80 233.30L476.05 228.56M476.08 229.66L476.05 228.56L476.99 229.13M478.80 54.01L476.02 49.23M476.05 50.34L476.02 49.23L476.97 49.80M478.80 18.16L475.97 13.30M476.00 14.42L475.97 13.30L476.94 13.88M485.75 293.06L488.51 288.30M487.57 288.87L488.51 288.30L488.49 289.40M485.75 281.10L488.47 276.42M487.55 276.98L488.47 276.42L488.45 277.50M485.75 269.15L488.47 264.47M487.54 265.03L488.47 264.47L488.44 265.56M485.75 257.20L488.45 252.55M487.53 253.11L488.45 252.55L488.42 253.63M485.75 89.87L488.42 85.27M487.51 85.82L488.42 85.27L488.40 86.33M485.75 77.92L488.44 73.30M487.52 73.85L488.44 73.30L488.41 74.37M485.75 65.97L488.44 61.35M487.52 61.90L488.44 61.35L488.41 62.42M485.75 54.01L488.47 49.33M487.55 49.89L488.47 49.33L488.45 50.41M485.75 42.06L488.55 37.25M487.60 37.83L488.55 37.25L488.52 38.36M489.23 287.08L486.46 282.33M486.49 283.43L486.46 282.33L487.40 282.90M489.23 275.13L486.50 270.44M486.53 271.53L486.50 270.44L487.43 271.01M489.23 263.18L486.51 258.50M486.53 259.58L486.51 258.50L487.43 259.06M489.23 251.22L486.52 246.58M486.55 247.65L486.52 246.58L487.44 247.13M489.23 83.89L486.55 79.30M486.58 80.36L486.55 79.30L487.46 79.85M489.23 71.94L486.54 67.32M486.57 68.39L486.54 67.32L487.45 67.88M489.23 59.99L486.54 55.37M486.57 56.44L486.54 55.37L487.45 55.93M489.23 48.04L486.50 43.35M486.53 44.44L486.50 43.35L487.43 43.92M489.23 36.09L486.43 31.27M486.46 32.39L486.43 31.27L487.38 31.85M496.17 287.08L498.94 282.33M498.00 282.90L498.94 282.33L498.91 283.43M496.17 275.13L498.90 270.44M497.97 271.01L498.90 270.44L498.87 271.53M496.17 263.18L498.89 258.50M497.97 259.06L498.89 258.50L498.87 259.58M496.17 251.22L498.88 246.58M497.96 247.13L498.88 246.58L498.85 247.65M496.17 83.89L498.85 79.30M497.94 79.85L498.85 79.30L498.82 80.36M496.17 71.94L498.86 67.32M497.95 67.88L498.86 67.32L498.83 68.39M496.17 59.99L498.86 55.37M497.95 55.93L498.86 55.37L498.83 56.44M496.17 48.04L498.90 43.35M497.97 43.92L498.90 43.35L498.87 44.44M496.17 36.09L498.97 31.27M498.02 31.85L498.97 31.27L498.94 32.39M499.65 293.06L496.89 288.30M496.91 289.40L496.89 288.30L497.83 288.87M499.65 281.10L496.93 276.42M496.95 277.50L496.93 276.42L497.85 276.98M499.65 269.15L496.93 264.47M496.96 265.56L496.93 264.47L497.86 265.03M499.65 257.20L496.95 252.55M496.98 253.63L496.95 252.55L497.87 253.11M499.65 89.87L496.98 85.27M497.00 86.33L496.98 85.27L497.89 85.82M499.65 77.92L496.96 73.30M496.99 74.37L496.96 73.30L497.88 73.85M499.65 65.97L496.96 61.35M496.99 62.42L496.96 61.35L497.88 61.90M499.65 54.01L496.93 49.33M496.95 50.41L496.93 49.33L497.85 49.89M499.65 42.06L496.85 37.25M496.88 38.36L496.85 37.25L497.80 37.83M506.60 233.30L509.35 228.56M508.41 229.13L509.35 228.56L509.32 229.66M506.60 54.01L509.38 49.23M508.43 49.80L509.38 49.23L509.35 50.34M506.60 18.16L509.43 13.30M508.46 13.88L509.43 13.30L509.40 14.42M510.07 287.08L507.26 282.23M507.29 283.35L507.26 282.23L508.22 282.81M510.07 107.80L507.35 103.11M507.38 104.20L507.35 103.11L508.28 103.67M510.07 59.99L507.25 55.14M507.28 56.26L507.25 55.14L508.21 55.72M517.02 275.13L519.78 270.38M518.84 270.95L519.78 270.38L519.75 271.48M517.02 107.80L519.76 103.10M518.83 103.66L519.76 103.10L519.73 104.18M517.02 71.94L519.74 67.26M518.82 67.82L519.74 67.26L519.72 68.35M520.50 269.15L517.75 264.42M517.77 265.51L517.75 264.42L518.68 264.98M520.50 233.30L517.77 228.61M517.80 229.69L517.77 228.61L518.70 229.17M520.50 65.97L517.78 61.29M517.81 62.37L517.78 61.29L518.71 61.85" stroke="#ff1050" stroke-width="2.500" fill="none" stroke-linecap="butt" stroke-linejoin="bevel"/>
<path d="M464.90 257.20L467.94 251.98M466.91 252.60L467.94 251.98L467.91 253.18M464.90 245.25L468.07 239.81M466.99 240.46L468.07 239.81L468.03 241.07M464.90 101.82L467.76 96.90M466.79 97.49L467.76 96.90L467.73 98.04M464.90 89.87L468.05 84.45M466.98 85.10L468.05 84.45L468.02 85.71M464.90 77.92L467.91 72.74M466.89 73.36L467.91 72.74L467.88 73.94M468.38 263.18L465.33 257.93M465.36 259.14L465.33 257.93L466.37 258.56M468.38 251.22L465.20 245.76M465.24 247.03L465.20 245.76L466.28 246.42M468.38 239.27L465.50 234.33M465.53 235.47L465.50 234.33L466.48 234.92M468.38 95.85L465.22 90.42M465.26 91.68L465.22 90.42L466.30 91.07M468.38 83.89L465.36 78.71M465.39 79.91L465.36 78.71L466.39 79.33M475.33 322.94L478.20 317.99M477.22 318.58L478.20 317.99L478.17 319.13M475.33 310.98L478.24 305.97M477.25 306.57L478.24 305.97L478.21 307.13M475.33 299.03L478.24 294.01M477.25 294.61L478.24 294.01L478.21 295.17M475.33 227.32L478.68 221.55M477.54 222.24L478.68 221.55L478.64 222.89M475.33 119.75L478.78 113.81M477.61 114.52L478.78 113.81L478.74 115.18M475.33 48.04L478.27 42.97M477.27 43.58L478.27 42.97L478.24 44.14M475.33 36.09L478.28 31.01M477.27 31.62L478.28 31.01L478.24 32.19M475.33 24.13L478.22 19.16M477.23 19.76L478.22 19.16L478.19 20.31M478.80 316.96L475.86 311.90M475.89 313.07L475.86 311.90L476.86 312.50M478.80 305.01L475.80 299.84M475.83 301.04L475.80 299.84L476.82 300.46M478.80 293.06L475.81 287.90M475.84 289.10L475.81 287.90L476.83 288.52M478.80 281.10L475.94 276.19M475.97 277.33L475.94 276.19L476.92 276.78M478.80 221.34L475.33 215.37M475.36 216.75L475.33 215.37L476.51 216.08M478.80 113.77L475.47 108.04M475.50 109.37L475.47 108.04L476.60 108.73M478.80 42.06L475.93 37.12M475.96 38.26L475.93 37.12L476.91 37.71M478.80 30.11L475.93 25.18M475.96 26.32L475.93 25.18L476.91 25.77M485.75 316.96L488.68 311.92M487.68 312.53L488.68 311.92L488.65 313.09M485.75 305.01L488.59 300.12M487.62 300.71L488.59 300.12L488.56 301.25M485.75 30.11L488.63 25.16M487.65 25.75L488.63 25.16L488.60 26.30M485.75 18.16L488.69 13.10M487.69 13.70L488.69 13.10L488.66 14.27M489.23 322.94L486.23 317.78M486.26 318.97L486.23 317.78L487.25 318.40M489.23 310.98L486.30 305.95M486.33 307.11L486.30 305.95L487.29 306.55M489.23 299.03L486.38 294.14M486.41 295.28L486.38 294.14L487.35 294.73M489.23 24.13L486.35 19.18M486.38 20.33L486.35 19.18L487.33 19.77M496.17 322.94L499.17 317.78M498.15 318.40L499.17 317.78L499.14 318.97M496.17 310.98L499.10 305.95M498.11 306.55L499.10 305.95L499.07 307.11M496.17 299.03L499.02 294.14M498.05 294.73L499.02 294.14L498.99 295.28M496.17 24.13L499.05 19.18M498.07 19.77L499.05 19.18L499.02 20.33M499.65 316.96L496.72 311.92M496.75 313.09L496.72 311.92L497.72 312.53M499.65 305.01L496.81 300.12M496.84 301.25L496.81 300.12L497.78 300.71M499.65 30.11L496.77 25.16M496.80 26.30L496.77 25.16L497.75 25.75M499.65 18.16L496.71 13.10M496.74 14.27L496.71 13.10L497.71 13.70M506.60 316.96L509.54 311.90M508.54 312.50L509.54 311.90L509.51 313.07M506.60 305.01L509.60 299.84M508.58 300.46L509.60 299.84L509.57 301.04M506.60 293.06L509.59 287.90M508.57 288.52L509.59 287.90L509.56 289.10M506.60 281.10L509.46 276.19M508.48 276.78L509.46 276.19L509.43 277.33M506.60 221.34L510.07 215.37M508.89 216.08L510.07 215.37L510.04 216.75M506.60 113.77L509.93 108.04M508.80 108.73L509.93 108.04L509.90 109.37M506.60 42.06L509.47 37.12M508.49 37.71L509.47 37.12L509.44 38.26M506.60 30.11L509.47 25.18M508.49 25.77L509.47 25.18L509.44 26.32M510.07 322.94L507.20 317.99M507.23 319.13L507.20 317.99L508.18 318.58M510.07 310.98L507.16 305.97M507.19 307.13L507.16 305.97L508.15 306.57M510.07 299.03L507.16 294.01M507.19 295.17L507.16 294.01L508.15 294.61M510.07 227.32L506.72 221.55M506.76 222.89L506.72 221.55L507.86 222.24M510.07 119.75L506.62 113.81M506.66 115.18L506.62 113.81L507.79 114.52M510.07 48.04L507.13 42.97M507.16 44.14L507.13 42.97L508.13 43.58M510.07 36.09L507.12 31.01M507.16 32.19L507.12 31.01L508.13 31.62M510.07 24.13L507.18 19.16M507.21 20.31L507.18 19.16L508.17 19.76M517.02 263.18L520.07 257.93M519.03 258.56L520.07 257.93L520.04 259.14M517.02 251.22L520.20 245.76M519.12 246.42L520.20 245.76L520.16 247.03M517.02 239.27L519.90 234.33M518.92 234.92L519.90 234.33L519.87 235.47M517.02 95.85L520.18 90.42M519.10 91.07L520.18 90.42L520.14 91.68M517.02 83.89L520.04 78.71M519.01 79.33L520.04 78.71L520.01 79.91M520.50 257.20L517.46 251.98M517.49 253.18L517.46 251.98L518.49 252.60M520.50 245.25L517.33 239.81M517.37 241.07L517.33 239.81L518.41 240.46M520.50 101.82L517.64 96.90M517.67 98.04L517.64 96.90L518.61 97.49M520.50 89.87L517.35 84.45M517.38 85.71L517.35 84.45L518.42 85.10M520.50 77.92L517.49 72.74M517.52 73.94L517.49 72.74L518.51 73.36" stroke="#ff1050" stroke-width="2.625" fill="none" stroke-linecap="butt" stroke-linejoin="bevel"/>
</g>
<rect x="593.40" y="24.50" width="43.00" height="169.40" fill="#fff"/>
<clipPath id="iclipb"><rect x="593.40" y="24.50" width="43.00" height="169.40"/></clipPath>
<g clip-path="url(#iclipb)">
<line x1="593.40" y1="110.72" x2="636.40" y2="110.72" stroke="#ffc4ff" stroke-width="0.8"/>
<polyline points="632.62,193.90 629.61,193.56 626.29,193.22 623.48,192.88 621.23,192.54 618.29,192.21 615.51,191.87 612.43,191.53 610.66,191.19 610.07,190.85 609.52,190.51 609.11,190.17 609.35,189.83 613.93,189.50 610.96,189.16 606.15,188.82 604.83,188.48 604.28,188.14 604.23,187.80 604.64,187.46 605.44,187.12 606.50,186.79 607.72,186.45 609.08,186.11 610.73,185.77 612.95,185.43 615.79,185.09 618.46,184.75 619.73,184.41 619.11,184.07 616.68,183.74 613.94,183.40 617.13,183.06 621.13,182.72 621.93,182.38 621.21,182.04 619.05,181.70 609.09,181.36 615.97,181.03 615.49,180.69 614.99,180.35 614.79,180.01 614.77,179.67 614.79,179.33 614.77,178.99 614.70,178.65 614.55,178.32 614.35,177.98 614.12,177.64 613.93,177.30 613.90,176.96 614.30,176.62 615.62,176.28 614.34,175.94 606.69,175.60 604.11,175.27 605.07,174.93 605.25,174.59 605.29,174.25 605.31,173.91 605.32,173.57 605.37,173.23 605.80,172.89 608.73,172.56 614.81,172.22 615.97,171.88 615.39,171.54 615.04,171.20 614.97,170.86 615.04,170.52 615.20,170.18 615.39,169.85 615.62,169.51 615.88,169.17 616.18,168.83 616.50,168.49 616.81,168.15 616.86,167.81 615.79,167.47 614.25,167.13 614.29,166.80 614.04,166.46 612.82,166.12 610.39,165.78 606.40,165.44 603.71,165.10 603.52,164.76 603.21,164.42 602.72,164.09 601.92,163.75 600.61,163.41 598.55,163.07 595.77,162.73 593.59,162.39 594.04,162.05 596.52,161.71 599.02,161.38 600.85,161.04 602.06,160.70 602.86,160.36 603.39,160.02 603.73,159.68 603.95,159.34 604.08,159.00 604.14,158.66 604.14,158.33 604.10,157.99 604.03,157.65 603.93,157.31 603.82,156.97 603.73,156.63 603.50,156.29 603.37,155.95 603.23,155.62 603.09,155.28 602.96,154.94 602.83,154.60 602.73,154.26 602.64,153.92 602.56,153.58 602.51,153.24 602.49,152.91 602.49,152.57 602.52,152.23 602.58,151.89 602.67,151.55 602.80,151.21 602.97,150.87 603.17,150.53 603.40,150.19 603.64,149.86 603.88,149.52 604.07,149.18 604.14,148.84 604.02,148.50 603.60,148.16 602.81,147.82 601.64,147.48 600.20,147.15 598.69,146.81 597.29,146.47 596.12,146.13 595.22,145.79 594.56,145.45 594.11,145.11 593.81,144.77 593.61,144.44 593.50,144.10 593.43,143.76 593.41,143.42 593.40,143.08 593.41,142.74 593.43,142.40 593.46,142.06 593.49,141.72 593.52,141.39 593.55,141.05 593.57,140.71 593.59,140.37 593.60,140.03 593.60,139.69 593.59,139.35 593.57,139.01 593.53,138.68 593.46,138.34 593.41,138.00 593.46,137.66 594.19,137.32 598.29,136.98 604.12,136.64 601.85,136.30 599.65,135.97 598.51,135.63 597.90,135.29 597.56,134.95 597.36,134.61 597.26,134.27 597.21,133.93 597.21,133.59 597.23,133.25 597.28,132.92 597.35,132.58 597.43,132.24 597.53,131.90 597.64,131.56 597.75,131.22 597.88,130.88 598.01,130.54 598.14,130.21 598.29,129.87 598.43,129.53 598.59,129.19 598.74,128.85 598.90,128.51 599.06,128.17 599.22,127.83 599.38,127.50 599.54,127.16 599.70,126.82 599.86,126.48 600.02,126.14 600.18,125.80 600.33,125.46 600.48,125.12 600.63,124.78 600.78,124.45 600.92,124.11 601.06,123.77 601.19,123.43 601.32,123.09 601.45,122.75 601.57,122.41 601.69,122.07 601.81,121.74 601.92,121.40 602.03,121.06 602.14,120.72 602.25,120.38 602.35,120.04 602.45,119.70 602.55,119.36 602.66,119.03 602.76,118.69 602.86,118.35 602.96,118.01 603.06,117.67 603.17,117.33 603.27,116.99 603.38,116.65 603.48,116.31 603.59,115.98 603.70,115.64 603.80,115.30 603.90,114.96 603.99,114.62 604.07,114.28 604.12,113.94 604.14,113.60 604.12,113.27 604.03,112.93 603.86,112.59 603.59,112.25 603.17,111.91 602.60,111.57 601.85,111.23 600.92,110.89 599.83,110.56 598.62,110.22 597.33,109.88 596.00,109.54 593.54,109.20 596.00,108.86 597.33,108.52 598.62,108.18 599.83,107.84 600.92,107.51 601.85,107.17 602.60,106.83 603.17,106.49 603.59,106.15 603.86,105.81 604.03,105.47 604.12,105.13 604.14,104.80 604.12,104.46 604.07,104.12 603.99,103.78 603.90,103.44 603.80,103.10 603.70,102.76 603.59,102.42 603.48,102.09 603.38,101.75 603.27,101.41 603.17,101.07 603.06,100.73 602.96,100.39 602.86,100.05 602.76,99.71 602.66,99.37 602.55,99.04 602.45,98.70 602.35,98.36 602.25,98.02 602.14,97.68 602.03,97.34 601.92,97.00 601.81,96.66 601.69,96.33 601.57,95.99 601.45,95.65 601.32,95.31 601.19,94.97 601.06,94.63 600.92,94.29 600.78,93.95 600.63,93.62 600.48,93.28 600.33,92.94 600.18,92.60 600.02,92.26 599.86,91.92 599.70,91.58 599.54,91.24 599.38,90.90 599.22,90.57 599.06,90.23 598.90,89.89 598.74,89.55 598.59,89.21 598.43,88.87 598.29,88.53 598.14,88.19 598.01,87.86 597.88,87.52 597.75,87.18 597.64,86.84 597.53,86.50 597.43,86.16 597.35,85.82 597.28,85.48 597.23,85.15 597.21,84.81 597.21,84.47 597.26,84.13 597.36,83.79 597.56,83.45 597.90,83.11 598.51,82.77 599.65,82.43 601.85,82.10 604.12,81.76 598.29,81.42 594.19,81.08 593.46,80.74 593.41,80.40 593.46,80.06 593.53,79.72 593.57,79.39 593.59,79.05 593.60,78.71 593.60,78.37 593.59,78.03 593.57,77.69 593.55,77.35 593.52,77.01 593.49,76.68 593.46,76.34 593.43,76.00 593.41,75.66 593.40,75.32 593.41,74.98 593.43,74.64 593.50,74.30 593.61,73.96 593.81,73.63 594.11,73.29 594.56,72.95 595.22,72.61 596.12,72.27 597.29,71.93 598.69,71.59 600.20,71.25 601.64,70.92 602.81,70.58 603.60,70.24 604.02,69.90 604.14,69.56 604.07,69.22 603.88,68.88 603.64,68.54 603.40,68.21 603.17,67.87 602.97,67.53 602.80,67.19 602.67,66.85 602.58,66.51 602.52,66.17 602.49,65.83 602.49,65.49 602.51,65.16 602.56,64.82 602.64,64.48 602.73,64.14 602.83,63.80 602.96,63.46 603.09,63.12 603.23,62.78 603.37,62.45 603.50,62.11 603.73,61.77 603.82,61.43 603.93,61.09 604.03,60.75 604.10,60.41 604.14,60.07 604.14,59.74 604.08,59.40 603.95,59.06 603.73,58.72 603.39,58.38 602.86,58.04 602.06,57.70 600.85,57.36 599.02,57.02 596.52,56.69 594.04,56.35 593.59,56.01 595.77,55.67 598.55,55.33 600.61,54.99 601.92,54.65 602.72,54.31 603.21,53.98 603.52,53.64 603.71,53.30 606.40,52.96 610.39,52.62 612.82,52.28 614.04,51.94 614.29,51.60 614.25,51.27 615.79,50.93 616.86,50.59 616.81,50.25 616.50,49.91 616.18,49.57 615.88,49.23 615.62,48.89 615.39,48.55 615.20,48.22 615.04,47.88 614.97,47.54 615.04,47.20 615.39,46.86 615.97,46.52 614.81,46.18 608.73,45.84 605.80,45.51 605.37,45.17 605.32,44.83 605.31,44.49 605.29,44.15 605.25,43.81 605.07,43.47 604.11,43.13 606.69,42.80 614.34,42.46 615.62,42.12 614.30,41.78 613.90,41.44 613.93,41.10 614.12,40.76 614.35,40.42 614.55,40.08 614.70,39.75 614.77,39.41 614.79,39.07 614.77,38.73 614.79,38.39 614.99,38.05 615.49,37.71 615.97,37.37 609.09,37.04 619.05,36.70 621.21,36.36 621.93,36.02 621.13,35.68 617.13,35.34 613.94,35.00 616.68,34.66 619.11,34.33 619.73,33.99 618.46,33.65 615.79,33.31 612.95,32.97 610.73,32.63 609.08,32.29 607.72,31.95 606.50,31.61 605.44,31.28 604.64,30.94 604.23,30.60 604.28,30.26 604.83,29.92 606.15,29.58 610.96,29.24 613.93,28.90 609.35,28.57 609.11,28.23 609.52,27.89 610.07,27.55 610.66,27.21 612.43,26.87 615.51,26.53 618.29,26.19 621.23,25.86 623.48,25.52 626.29,25.18 629.61,24.84 632.62,24.50" fill="none" stroke="#1a1aff" stroke-width="0.9" stroke-linejoin="round"/>
</g>
<path d="M593.40 193.90h1.6M636.40 193.90h-1.6M593.40 176.96h1.6M636.40 176.96h-1.6M593.40 160.02h1.6M636.40 160.02h-1.6M593.40 143.08h1.6M636.40 143.08h-1.6M593.40 126.14h1.6M636.40 126.14h-1.6M593.40 109.20h1.6M636.40 109.20h-1.6M593.40 92.26h1.6M636.40 92.26h-1.6M593.40 75.32h1.6M636.40 75.32h-1.6M593.40 58.38h1.6M636.40 58.38h-1.6M593.40 41.44h1.6M636.40 41.44h-1.6M593.40 24.50h1.6M636.40 24.50h-1.6M593.40 193.90v-1.6M593.40 24.50v1.6M604.15 193.90v-1.6M604.15 24.50v1.6M614.90 193.90v-1.6M614.90 24.50v1.6M625.65 193.90v-1.6M625.65 24.50v1.6M636.40 193.90v-1.6M636.40 24.50v1.6" stroke="#a3a3a3" stroke-width="0.6" fill="none"/>
<rect x="593.40" y="24.50" width="43.00" height="169.40" stroke="#a3a3a3" stroke-width="0.7" fill="none"/>
<text x="591.80" y="196.10" text-anchor="end" style="font-family:'Liberation Serif',serif;font-size:6.3px" fill="#262626">-2.5</text>
<text x="591.80" y="179.16" text-anchor="end" style="font-family:'Liberation Serif',serif;font-size:6.3px" fill="#262626">-2</text>
<text x="591.80" y="162.22" text-anchor="end" style="font-family:'Liberation Serif',serif;font-size:6.3px" fill="#262626">-1.5</text>
<text x="591.80" y="145.28" text-anchor="end" style="font-family:'Liberation Serif',serif;font-size:6.3px" fill="#262626">-1</text>
<text x="591.80" y="128.34" text-anchor="end" style="font-family:'Liberation Serif',serif;font-size:6.3px" fill="#262626">-0.5</text>
<text x="591.80" y="111.40" text-anchor="end" style="font-family:'Liberation Serif',serif;font-size:6.3px" fill="#262626">0</text>
<text x="591.80" y="94.46" text-anchor="end" style="font-family:'Liberation Serif',serif;font-size:6.3px" fill="#262626">0.5</text>
<text x="591.80" y="77.52" text-anchor="end" style="font-family:'Liberation Serif',serif;font-size:6.3px" fill="#262626">1</text>
<text x="591.80" y="60.58" text-anchor="end" style="font-family:'Liberation Serif',serif;font-size:6.3px" fill="#262626">1.5</text>
<text x="591.80" y="43.64" text-anchor="end" style="font-family:'Liberation Serif',serif;font-size:6.3px" fill="#262626">2</text>
<text x="591.80" y="26.70" text-anchor="end" style="font-family:'Liberation Serif',serif;font-size:6.3px" fill="#262626">2.5</text>
<text x="593.40" y="202.50" text-anchor="middle" style="font-family:'Liberation Serif',serif;font-size:6.3px" fill="#262626">0</text>
<text x="614.90" y="202.50" text-anchor="middle" style="font-family:'Liberation Serif',serif;font-size:6.3px" fill="#262626">2</text>
<text x="636.40" y="202.50" text-anchor="middle" style="font-family:'Liberation Serif',serif;font-size:6.3px" fill="#262626">4</text>
<text x="614.90" y="210.30" text-anchor="middle" style="font-family:'Liberation Serif',serif;font-size:6.8px" fill="#262626">Trasmission</text>
<text transform="translate(578.60,109.20) rotate(-90)" text-anchor="middle" style="font-family:'Liberation Serif',serif;font-size:7.3px" fill="#262626">Energy (eV)</text>
<path d="M416.26 197.44L423.20 197.44M416.26 137.68L423.20 137.68M569.14 197.44L562.20 197.44M569.14 137.68L562.20 137.68M444.05 233.30L447.53 227.32M444.05 101.82L447.53 107.80M541.35 233.30L537.87 227.32M541.35 101.82L537.87 107.80" stroke="#bdb8ad" stroke-width="1.5" fill="none"/>
<path d="M413.89 193.84L419.89 201.04M413.89 201.04L419.89 193.84" stroke="#1d3770" stroke-width="2.4" fill="none" stroke-linecap="round"/>
<path d="M413.89 193.84L419.89 201.04M413.89 201.04L419.89 193.84" stroke="#b9c2d4" stroke-width="1.0" fill="none" stroke-dasharray="0.8 0.7"/>
<path d="M413.89 134.08L419.89 141.28M413.89 141.28L419.89 134.08" stroke="#1d3770" stroke-width="2.4" fill="none" stroke-linecap="round"/>
<path d="M413.89 134.08L419.89 141.28M413.89 141.28L419.89 134.08" stroke="#b9c2d4" stroke-width="1.0" fill="none" stroke-dasharray="0.8 0.7"/>
<path d="M565.01 193.84L571.01 201.04M565.01 201.04L571.01 193.84" stroke="#1d3770" stroke-width="2.4" fill="none" stroke-linecap="round"/>
<path d="M565.01 193.84L571.01 201.04M565.01 201.04L571.01 193.84" stroke="#b9c2d4" stroke-width="1.0" fill="none" stroke-dasharray="0.8 0.7"/>
<path d="M565.01 134.08L571.01 141.28M565.01 141.28L571.01 134.08" stroke="#1d3770" stroke-width="2.4" fill="none" stroke-linecap="round"/>
<path d="M565.01 134.08L571.01 141.28M565.01 141.28L571.01 134.08" stroke="#b9c2d4" stroke-width="1.0" fill="none" stroke-dasharray="0.8 0.7"/>
<path d="M438.60 230.35L450.60 231.85M445.05 236.80L444.15 225.40" stroke="#1b3068" stroke-width="2.7" fill="none"/>
<path d="M438.60 230.35L450.60 231.85M445.05 236.80L444.15 225.40" stroke="#aab5cc" stroke-width="0.7" fill="none"/>
<path d="M437.20 105.35L449.20 104.45M442.75 110.60L443.65 99.20" stroke="#1b3068" stroke-width="2.7" fill="none"/>
<path d="M437.20 105.35L449.20 104.45M442.75 110.60L443.65 99.20" stroke="#aab5cc" stroke-width="0.7" fill="none"/>
<path d="M534.80 232.75L546.80 231.25M540.35 237.70L541.25 226.30" stroke="#1b3068" stroke-width="2.7" fill="none"/>
<path d="M534.80 232.75L546.80 231.25M540.35 237.70L541.25 226.30" stroke="#aab5cc" stroke-width="0.7" fill="none"/>
<path d="M536.70 103.55L548.70 104.85M542.90 109.90L542.50 98.50" stroke="#1b3068" stroke-width="2.7" fill="none"/>
<path d="M536.70 103.55L548.70 104.85M542.90 109.90L542.50 98.50" stroke="#aab5cc" stroke-width="0.7" fill="none"/>
<linearGradient id="gradb" x1="0" y1="0" x2="0" y2="1"><stop offset="0.0000" stop-color="#f9fb0e"/><stop offset="0.0159" stop-color="#f6f313"/><stop offset="0.0317" stop-color="#f5eb18"/><stop offset="0.0476" stop-color="#f5e41d"/><stop offset="0.0635" stop-color="#f5de21"/><stop offset="0.0794" stop-color="#f7d826"/><stop offset="0.0952" stop-color="#fad32a"/><stop offset="0.1111" stop-color="#fcce2e"/><stop offset="0.1270" stop-color="#fec832"/><stop offset="0.1429" stop-color="#ffc337"/><stop offset="0.1587" stop-color="#fdbe3d"/><stop offset="0.1746" stop-color="#f8bb44"/><stop offset="0.1905" stop-color="#f1b94a"/><stop offset="0.2063" stop-color="#e9b94e"/><stop offset="0.2222" stop-color="#e1b952"/><stop offset="0.2381" stop-color="#d9ba56"/><stop offset="0.2540" stop-color="#d1bb59"/><stop offset="0.2698" stop-color="#c8bc5d"/><stop offset="0.2857" stop-color="#c0bc60"/><stop offset="0.3016" stop-color="#b7bd64"/><stop offset="0.3175" stop-color="#aebe67"/><stop offset="0.3333" stop-color="#a5be6b"/><stop offset="0.3492" stop-color="#9cbf6f"/><stop offset="0.3651" stop-color="#92bf73"/><stop offset="0.3810" stop-color="#87bf77"/><stop offset="0.3968" stop-color="#7cbf7b"/><stop offset="0.4127" stop-color="#71bf80"/><stop offset="0.4286" stop-color="#65be86"/><stop offset="0.4444" stop-color="#59bd8c"/><stop offset="0.4603" stop-color="#4dbc92"/><stop offset="0.4762" stop-color="#42bb98"/><stop offset="0.4921" stop-color="#38b99e"/><stop offset="0.5079" stop-color="#2eb7a4"/><stop offset="0.5238" stop-color="#25b5a9"/><stop offset="0.5397" stop-color="#1db3af"/><stop offset="0.5556" stop-color="#15b1b4"/><stop offset="0.5714" stop-color="#0faeb9"/><stop offset="0.5873" stop-color="#0aacbe"/><stop offset="0.6032" stop-color="#07a9c2"/><stop offset="0.6190" stop-color="#06a7c6"/><stop offset="0.6349" stop-color="#06a4ca"/><stop offset="0.6508" stop-color="#06a0cd"/><stop offset="0.6667" stop-color="#079ccf"/><stop offset="0.6825" stop-color="#0998d1"/><stop offset="0.6984" stop-color="#0c93d2"/><stop offset="0.7143" stop-color="#108ed2"/><stop offset="0.7302" stop-color="#1389d3"/><stop offset="0.7460" stop-color="#1485d4"/><stop offset="0.7619" stop-color="#1481d6"/><stop offset="0.7778" stop-color="#127dd8"/><stop offset="0.7937" stop-color="#1079da"/><stop offset="0.8095" stop-color="#0d75dc"/><stop offset="0.8254" stop-color="#0871de"/><stop offset="0.8413" stop-color="#046de0"/><stop offset="0.8571" stop-color="#0268e1"/><stop offset="0.8730" stop-color="#0363e1"/><stop offset="0.8889" stop-color="#0f5cdd"/><stop offset="0.9048" stop-color="#2053d4"/><stop offset="0.9206" stop-color="#2c4ac7"/><stop offset="0.9365" stop-color="#3243ba"/><stop offset="0.9524" stop-color="#353dad"/><stop offset="0.9683" stop-color="#3637a0"/><stop offset="0.9841" stop-color="#363093"/><stop offset="1.0000" stop-color="#352a87"/></linearGradient>
<rect x="640.20" y="22.40" width="14.20" height="290.60" fill="url(#gradb)" stroke="#a3a3a3" stroke-width="0.6"/>
<text x="657.60" y="26.10" style="font-family:'Liberation Serif',serif;font-size:10.6px" fill="#262626">5e-01</text>
<text x="657.60" y="316.70" style="font-family:'Liberation Serif',serif;font-size:10.6px" fill="#262626">7e-05</text>
<text transform="translate(669.00,167.70) rotate(-90)" text-anchor="middle" style="font-family:'Liberation Serif',serif;font-size:10.9px" fill="#262626">LDOS (arb. unit)</text>
<text x="529.30" y="302.00" style="font-family:'Liberation Serif',serif;font-size:8.9px" fill="#000">net current<tspan dy="3.5" style="font-size:6.6px">max</tspan><tspan dy="-3.5">=8e-04 (4e/h)</tspan></text>
<path d="M33.60 647.30v-3.0M33.60 356.20v3.0M82.20 647.30v-3.0M82.20 356.20v3.0M130.80 647.30v-3.0M130.80 356.20v3.0M179.40 647.30v-3.0M179.40 356.20v3.0M228.00 647.30v-3.0M228.00 356.20v3.0M276.60 647.30v-3.0M276.60 356.20v3.0M33.60 647.30h3.0M276.60 647.30h-3.0M33.60 598.78h3.0M276.60 598.78h-3.0M33.60 550.27h3.0M276.60 550.27h-3.0M33.60 501.75h3.0M276.60 501.75h-3.0M33.60 453.23h3.0M276.60 453.23h-3.0M33.60 404.72h3.0M276.60 404.72h-3.0M33.60 356.20h3.0M276.60 356.20h-3.0" stroke="#a3a3a3" stroke-width="0.9" fill="none"/>
<rect x="33.60" y="356.20" width="243.00" height="291.10" stroke="#a3a3a3" stroke-width="0.9" fill="none"/>
<text x="33.60" y="661.50" text-anchor="middle" style="font-family:'Liberation Serif',serif;font-size:10.2px" fill="#262626">-20</text>
<text x="82.20" y="661.50" text-anchor="middle" style="font-family:'Liberation Serif',serif;font-size:10.2px" fill="#262626">-10</text>
<text x="130.80" y="661.50" text-anchor="middle" style="font-family:'Liberation Serif',serif;font-size:10.2px" fill="#262626">0</text>
<text x="179.40" y="661.50" text-anchor="middle" style="font-family:'Liberation Serif',serif;font-size:10.2px" fill="#262626">10</text>
<text x="228.00" y="661.50" text-anchor="middle" style="font-family:'Liberation Serif',serif;font-size:10.2px" fill="#262626">20</text>
<text x="276.60" y="661.50" text-anchor="middle" style="font-family:'Liberation Serif',serif;font-size:10.2px" fill="#262626">30</text>
<text x="29.30" y="651.30" text-anchor="end" style="font-family:'Liberation Serif',serif;font-size:10.2px" fill="#262626">-30</text>
<text x="29.30" y="602.78" text-anchor="end" style="font-family:'Liberation Serif',serif;font-size:10.2px" fill="#262626">-20</text>
<text x="29.30" y="554.27" text-anchor="end" style="font-family:'Liberation Serif',serif;font-size:10.2px" fill="#262626">-10</text>
<text x="29.30" y="505.75" text-anchor="end" style="font-family:'Liberation Serif',serif;font-size:10.2px" fill="#262626">0</text>
<text x="29.30" y="457.23" text-anchor="end" style="font-family:'Liberation Serif',serif;font-size:10.2px" fill="#262626">10</text>
<text x="29.30" y="408.72" text-anchor="end" style="font-family:'Liberation Serif',serif;font-size:10.2px" fill="#262626">20</text>
<text x="29.30" y="360.20" text-anchor="end" style="font-family:'Liberation Serif',serif;font-size:10.2px" fill="#262626">30</text>
<text x="155.10" y="675.60" text-anchor="middle" style="font-family:'Liberation Serif',serif;font-size:11.5px" fill="#262626">X (&#197;)</text>
<text transform="translate(9.50,501.75) rotate(-90)" text-anchor="middle" style="font-family:'Liberation Serif',serif;font-size:11.5px" fill="#262626">Y (&#197;)</text>
<text x="31.80" y="347.70" style="font-family:'Liberation Serif',serif;font-size:17px" fill="#000">(c)</text>
<clipPath id="clipc"><rect x="33.60" y="355.40" width="243.00" height="292.70"/></clipPath>
<g clip-path="url(#clipc)">
<path d="M50.9 513.4L54.4 519.4M50.9 513.4L54.4 507.4M50.9 501.5L54.4 507.4M50.9 501.5L54.4 495.5M50.9 489.5L54.4 495.5M50.9 489.5L54.4 483.5M54.4 531.4L61.3 531.4M54.4 519.4L61.3 519.4M54.4 507.4L61.3 507.4M54.4 495.5L61.3 495.5M54.4 483.5L61.3 483.5M54.4 471.5L61.3 471.5M61.3 543.3L64.8 549.3M61.3 543.3L64.8 537.4M61.3 531.4L64.8 537.4M61.3 531.4L64.8 525.4M61.3 519.4L64.8 525.4M61.3 519.4L64.8 513.4M61.3 507.4L64.8 513.4M61.3 507.4L64.8 501.5M61.3 495.5L64.8 501.5M61.3 495.5L64.8 489.5M61.3 483.5L64.8 489.5M61.3 483.5L64.8 477.5M61.3 471.5L64.8 477.5M61.3 471.5L64.8 465.6M61.3 459.6L64.8 465.6M61.3 459.6L64.8 453.6M64.8 549.3L71.7 549.3M64.8 537.4L71.7 537.4M64.8 525.4L71.7 525.4M64.8 513.4L71.7 513.4M64.8 501.5L71.7 501.5M64.8 489.5L71.7 489.5M64.8 477.5L71.7 477.5M64.8 465.6L71.7 465.6M64.8 453.6L71.7 453.6M71.7 549.3L75.2 555.3M71.7 549.3L75.2 543.3M71.7 537.4L75.2 543.3M71.7 537.4L75.2 531.4M71.7 525.4L75.2 531.4M71.7 525.4L75.2 519.4M71.7 513.4L75.2 519.4M71.7 513.4L75.2 507.4M71.7 501.5L75.2 507.4M71.7 501.5L75.2 495.5M71.7 489.5L75.2 495.5M71.7 489.5L75.2 483.5M71.7 477.5L75.2 483.5M71.7 477.5L75.2 471.5M71.7 465.6L75.2 471.5M71.7 465.6L75.2 459.6M71.7 453.6L75.2 459.6M71.7 453.6L75.2 447.6M75.2 555.3L82.2 555.3M75.2 543.3L82.2 543.3M75.2 531.4L82.2 531.4M75.2 519.4L82.2 519.4M75.2 507.4L82.2 507.4M75.2 495.5L82.2 495.5M75.2 483.5L82.2 483.5M75.2 471.5L82.2 471.5M75.2 459.6L82.2 459.6M75.2 447.6L82.2 447.6M82.2 555.3L85.6 561.3M82.2 555.3L85.6 549.3M82.2 543.3L85.6 549.3M82.2 543.3L85.6 537.4M82.2 531.4L85.6 537.4M82.2 531.4L85.6 525.4M82.2 519.4L85.6 525.4M82.2 519.4L85.6 513.4M82.2 507.4L85.6 513.4M82.2 507.4L85.6 501.5M82.2 495.5L85.6 501.5M82.2 495.5L85.6 489.5M82.2 483.5L85.6 489.5M82.2 483.5L85.6 477.5M82.2 471.5L85.6 477.5M82.2 471.5L85.6 465.6M82.2 459.6L85.6 465.6M82.2 459.6L85.6 453.6M82.2 447.6L85.6 453.6M82.2 447.6L85.6 441.6M85.6 561.3L92.6 561.3M85.6 549.3L92.6 549.3M85.6 537.4L92.6 537.4M85.6 525.4L92.6 525.4M85.6 513.4L92.6 513.4M85.6 501.5L92.6 501.5M85.6 489.5L92.6 489.5M85.6 477.5L92.6 477.5M85.6 465.6L92.6 465.6M85.6 453.6L92.6 453.6M85.6 441.6L92.6 441.6M92.6 561.3L96.1 567.3M92.6 561.3L96.1 555.3M92.6 549.3L96.1 555.3M92.6 549.3L96.1 543.3M92.6 537.4L96.1 543.3M92.6 537.4L96.1 531.4M92.6 525.4L96.1 531.4M92.6 525.4L96.1 519.4M92.6 513.4L96.1 519.4M92.6 513.4L96.1 507.4M92.6 501.5L96.1 507.4M92.6 501.5L96.1 495.5M92.6 489.5L96.1 495.5M92.6 489.5L96.1 483.5M92.6 477.5L96.1 483.5M92.6 477.5L96.1 471.5M92.6 465.6L96.1 471.5M92.6 465.6L96.1 459.6M92.6 453.6L96.1 459.6M92.6 453.6L96.1 447.6M92.6 441.6L96.1 447.6M92.6 441.6L96.1 435.6M96.1 567.3L103.0 567.3M96.1 555.3L103.0 555.3M96.1 543.3L103.0 543.3M96.1 531.4L103.0 531.4M96.1 519.4L103.0 519.4M96.1 507.4L103.0 507.4M96.1 495.5L103.0 495.5M96.1 483.5L103.0 483.5M96.1 471.5L103.0 471.5M96.1 459.6L103.0 459.6M96.1 447.6L103.0 447.6M96.1 435.6L103.0 435.6M103.0 651.1L106.5 657.0M103.0 651.1L106.5 645.1M103.0 639.1L106.5 645.1M103.0 639.1L106.5 633.1M103.0 627.1L106.5 633.1M103.0 627.1L106.5 621.1M103.0 615.2L106.5 621.1M103.0 615.2L106.5 609.2M103.0 603.2L106.5 609.2M103.0 603.2L106.5 597.2M103.0 591.2L106.5 597.2M103.0 591.2L106.5 585.2M103.0 579.3L106.5 585.2M103.0 579.3L106.5 573.3M103.0 567.3L106.5 573.3M103.0 567.3L106.5 561.3M103.0 555.3L106.5 561.3M103.0 555.3L106.5 549.3M103.0 543.3L106.5 549.3M103.0 543.3L106.5 537.4M103.0 531.4L106.5 537.4M103.0 531.4L106.5 525.4M103.0 519.4L106.5 525.4M103.0 519.4L106.5 513.4M103.0 507.4L106.5 513.4M103.0 507.4L106.5 501.5M103.0 495.5L106.5 501.5M103.0 495.5L106.5 489.5M103.0 483.5L106.5 489.5M103.0 483.5L106.5 477.5M103.0 471.5L106.5 477.5M103.0 471.5L106.5 465.6M103.0 459.6L106.5 465.6M103.0 459.6L106.5 453.6M103.0 447.6L106.5 453.6M103.0 447.6L106.5 441.6M103.0 435.6L106.5 441.6M103.0 435.6L106.5 429.6M103.0 423.7L106.5 429.6M103.0 423.7L106.5 417.7M103.0 411.7L106.5 417.7M103.0 411.7L106.5 405.7M103.0 399.7L106.5 405.7M103.0 399.7L106.5 393.7M103.0 387.8L106.5 393.7M103.0 387.8L106.5 381.8M103.0 375.8L106.5 381.8M103.0 375.8L106.5 369.8M103.0 363.8L106.5 369.8M103.0 363.8L106.5 357.8M103.0 351.9L106.5 357.8M103.0 351.9L106.5 345.9M106.5 645.1L113.4 645.1M106.5 633.1L113.4 633.1M106.5 621.1L113.4 621.1M106.5 609.2L113.4 609.2M106.5 597.2L113.4 597.2M106.5 585.2L113.4 585.2M106.5 573.3L113.4 573.3M106.5 561.3L113.4 561.3M106.5 549.3L113.4 549.3M106.5 537.4L113.4 537.4M106.5 525.4L113.4 525.4M106.5 513.4L113.4 513.4M106.5 501.5L113.4 501.5M106.5 489.5L113.4 489.5M106.5 477.5L113.4 477.5M106.5 465.6L113.4 465.6M106.5 453.6L113.4 453.6M106.5 441.6L113.4 441.6M106.5 429.6L113.4 429.6M106.5 417.7L113.4 417.7M106.5 405.7L113.4 405.7M106.5 393.7L113.4 393.7M106.5 381.8L113.4 381.8M106.5 369.8L113.4 369.8M106.5 357.8L113.4 357.8M113.4 657.0L116.9 651.1M113.4 645.1L116.9 651.1M113.4 645.1L116.9 639.1M113.4 633.1L116.9 639.1M113.4 633.1L116.9 627.1M113.4 621.1L116.9 627.1M113.4 621.1L116.9 615.2M113.4 609.2L116.9 615.2M113.4 609.2L116.9 603.2M113.4 597.2L116.9 603.2M113.4 597.2L116.9 591.2M113.4 585.2L116.9 591.2M113.4 585.2L116.9 579.3M113.4 573.3L116.9 579.3M113.4 573.3L116.9 567.3M113.4 561.3L116.9 567.3M113.4 561.3L116.9 555.3M113.4 549.3L116.9 555.3M113.4 549.3L116.9 543.3M113.4 537.4L116.9 543.3M113.4 537.4L116.9 531.4M113.4 525.4L116.9 531.4M113.4 525.4L116.9 519.4M113.4 513.4L116.9 519.4M113.4 513.4L116.9 507.4M113.4 501.5L116.9 507.4M113.4 501.5L116.9 495.5M113.4 489.5L116.9 495.5M113.4 489.5L116.9 483.5M113.4 477.5L116.9 483.5M113.4 477.5L116.9 471.5M113.4 465.6L116.9 471.5M113.4 465.6L116.9 459.6M113.4 453.6L116.9 459.6M113.4 453.6L116.9 447.6M113.4 441.6L116.9 447.6M113.4 441.6L116.9 435.6M113.4 429.6L116.9 435.6M113.4 429.6L116.9 423.7M113.4 417.7L116.9 423.7M113.4 417.7L116.9 411.7M113.4 405.7L116.9 411.7M113.4 405.7L116.9 399.7M113.4 393.7L116.9 399.7M113.4 393.7L116.9 387.8M113.4 381.8L116.9 387.8M113.4 381.8L116.9 375.8M113.4 369.8L116.9 375.8M113.4 369.8L116.9 363.8M113.4 357.8L116.9 363.8M113.4 357.8L116.9 351.9M113.4 345.9L116.9 351.9M116.9 651.1L123.9 651.1M116.9 639.1L123.9 639.1M116.9 627.1L123.9 627.1M116.9 615.2L123.9 615.2M116.9 603.2L123.9 603.2M116.9 591.2L123.9 591.2M116.9 579.3L123.9 579.3M116.9 567.3L123.9 567.3M116.9 555.3L123.9 555.3M116.9 543.3L123.9 543.3M116.9 531.4L123.9 531.4M116.9 519.4L123.9 519.4M116.9 507.4L123.9 507.4M116.9 495.5L123.9 495.5M116.9 483.5L123.9 483.5M116.9 471.5L123.9 471.5M116.9 459.6L123.9 459.6M116.9 447.6L123.9 447.6M116.9 435.6L123.9 435.6M116.9 423.7L123.9 423.7M116.9 411.7L123.9 411.7M116.9 399.7L123.9 399.7M116.9 387.8L123.9 387.8M116.9 375.8L123.9 375.8M116.9 363.8L123.9 363.8M116.9 351.9L123.9 351.9M123.9 651.1L127.3 657.0M123.9 651.1L127.3 645.1M123.9 639.1L127.3 645.1M123.9 639.1L127.3 633.1M123.9 627.1L127.3 633.1M123.9 627.1L127.3 621.1M123.9 615.2L127.3 621.1M123.9 615.2L127.3 609.2M123.9 603.2L127.3 609.2M123.9 603.2L127.3 597.2M123.9 591.2L127.3 597.2M123.9 591.2L127.3 585.2M123.9 579.3L127.3 585.2M123.9 579.3L127.3 573.3M123.9 567.3L127.3 573.3M123.9 567.3L127.3 561.3M123.9 555.3L127.3 561.3M123.9 555.3L127.3 549.3M123.9 543.3L127.3 549.3M123.9 543.3L127.3 537.4M123.9 531.4L127.3 537.4M123.9 531.4L127.3 525.4M123.9 519.4L127.3 525.4M123.9 519.4L127.3 513.4M123.9 507.4L127.3 513.4M123.9 507.4L127.3 501.5M123.9 495.5L127.3 501.5M123.9 495.5L127.3 489.5M123.9 483.5L127.3 489.5M123.9 483.5L127.3 477.5M123.9 471.5L127.3 477.5M123.9 471.5L127.3 465.6M123.9 459.6L127.3 465.6M123.9 459.6L127.3 453.6M123.9 447.6L127.3 453.6M123.9 447.6L127.3 441.6M123.9 435.6L127.3 441.6M123.9 435.6L127.3 429.6M123.9 423.7L127.3 429.6M123.9 423.7L127.3 417.7M123.9 411.7L127.3 417.7M123.9 411.7L127.3 405.7M123.9 399.7L127.3 405.7M123.9 399.7L127.3 393.7M123.9 387.8L127.3 393.7M123.9 387.8L127.3 381.8M123.9 375.8L127.3 381.8M123.9 375.8L127.3 369.8M123.9 363.8L127.3 369.8M123.9 363.8L127.3 357.8M123.9 351.9L127.3 357.8M123.9 351.9L127.3 345.9M127.3 645.1L134.3 645.1M127.3 633.1L134.3 633.1M127.3 621.1L134.3 621.1M127.3 609.2L134.3 609.2M127.3 597.2L134.3 597.2M127.3 585.2L134.3 585.2M127.3 573.3L134.3 573.3M127.3 561.3L134.3 561.3M127.3 549.3L134.3 549.3M127.3 537.4L134.3 537.4M127.3 525.4L134.3 525.4M127.3 513.4L134.3 513.4M127.3 501.5L134.3 501.5M127.3 489.5L134.3 489.5M127.3 477.5L134.3 477.5M127.3 465.6L134.3 465.6M127.3 453.6L134.3 453.6M127.3 441.6L134.3 441.6M127.3 429.6L134.3 429.6M127.3 417.7L134.3 417.7M127.3 405.7L134.3 405.7M127.3 393.7L134.3 393.7M127.3 381.8L134.3 381.8M127.3 369.8L134.3 369.8M127.3 357.8L134.3 357.8M134.3 657.0L137.7 651.1M134.3 645.1L137.7 651.1M134.3 645.1L137.7 639.1M134.3 633.1L137.7 639.1M134.3 633.1L137.7 627.1M134.3 621.1L137.7 627.1M134.3 621.1L137.7 615.2M134.3 609.2L137.7 615.2M134.3 609.2L137.7 603.2M134.3 597.2L137.7 603.2M134.3 597.2L137.7 591.2M134.3 585.2L137.7 591.2M134.3 585.2L137.7 579.3M134.3 573.3L137.7 579.3M134.3 573.3L137.7 567.3M134.3 561.3L137.7 567.3M134.3 561.3L137.7 555.3M134.3 549.3L137.7 555.3M134.3 549.3L137.7 543.3M134.3 537.4L137.7 543.3M134.3 537.4L137.7 531.4M134.3 525.4L137.7 531.4M134.3 525.4L137.7 519.4M134.3 513.4L137.7 519.4M134.3 513.4L137.7 507.4M134.3 501.5L137.7 507.4M134.3 501.5L137.7 495.5M134.3 489.5L137.7 495.5M134.3 489.5L137.7 483.5M134.3 477.5L137.7 483.5M134.3 477.5L137.7 471.5M134.3 465.6L137.7 471.5M134.3 465.6L137.7 459.6M134.3 453.6L137.7 459.6M134.3 453.6L137.7 447.6M134.3 441.6L137.7 447.6M134.3 441.6L137.7 435.6M134.3 429.6L137.7 435.6M134.3 429.6L137.7 423.7M134.3 417.7L137.7 423.7M134.3 417.7L137.7 411.7M134.3 405.7L137.7 411.7M134.3 405.7L137.7 399.7M134.3 393.7L137.7 399.7M134.3 393.7L137.7 387.8M134.3 381.8L137.7 387.8M134.3 381.8L137.7 375.8M134.3 369.8L137.7 375.8M134.3 369.8L137.7 363.8M134.3 357.8L137.7 363.8M134.3 357.8L137.7 351.9M134.3 345.9L137.7 351.9M137.7 651.1L144.7 651.1M137.7 639.1L144.7 639.1M137.7 627.1L144.7 627.1M137.7 615.2L144.7 615.2M137.7 603.2L144.7 603.2M137.7 591.2L144.7 591.2M137.7 579.3L144.7 579.3M137.7 567.3L144.7 567.3M137.7 555.3L144.7 555.3M137.7 543.3L144.7 543.3M137.7 531.4L144.7 531.4M137.7 519.4L144.7 519.4M137.7 507.4L144.7 507.4M137.7 495.5L144.7 495.5M137.7 483.5L144.7 483.5M137.7 471.5L144.7 471.5M137.7 459.6L144.7 459.6M137.7 447.6L144.7 447.6M137.7 435.6L144.7 435.6M137.7 423.7L144.7 423.7M137.7 411.7L144.7 411.7M137.7 399.7L144.7 399.7M137.7 387.8L144.7 387.8M137.7 375.8L144.7 375.8M137.7 363.8L144.7 363.8M137.7 351.9L144.7 351.9M144.7 651.1L148.2 657.0M144.7 651.1L148.2 645.1M144.7 639.1L148.2 645.1M144.7 639.1L148.2 633.1M144.7 627.1L148.2 633.1M144.7 627.1L148.2 621.1M144.7 615.2L148.2 621.1M144.7 615.2L148.2 609.2M144.7 603.2L148.2 609.2M144.7 603.2L148.2 597.2M144.7 591.2L148.2 597.2M144.7 591.2L148.2 585.2M144.7 579.3L148.2 585.2M144.7 579.3L148.2 573.3M144.7 567.3L148.2 573.3M144.7 567.3L148.2 561.3M144.7 555.3L148.2 561.3M144.7 555.3L148.2 549.3M144.7 543.3L148.2 549.3M144.7 543.3L148.2 537.4M144.7 531.4L148.2 537.4M144.7 531.4L148.2 525.4M144.7 519.4L148.2 525.4M144.7 519.4L148.2 513.4M144.7 507.4L148.2 513.4M144.7 507.4L148.2 501.5M144.7 495.5L148.2 501.5M144.7 495.5L148.2 489.5M144.7 483.5L148.2 489.5M144.7 483.5L148.2 477.5M144.7 471.5L148.2 477.5M144.7 471.5L148.2 465.6M144.7 459.6L148.2 465.6M144.7 459.6L148.2 453.6M144.7 447.6L148.2 453.6M144.7 447.6L148.2 441.6M144.7 435.6L148.2 441.6M144.7 435.6L148.2 429.6M144.7 423.7L148.2 429.6M144.7 423.7L148.2 417.7M144.7 411.7L148.2 417.7M144.7 411.7L148.2 405.7M144.7 399.7L148.2 405.7M144.7 399.7L148.2 393.7M144.7 387.8L148.2 393.7M144.7 387.8L148.2 381.8M144.7 375.8L148.2 381.8M144.7 375.8L148.2 369.8M144.7 363.8L148.2 369.8M144.7 363.8L148.2 357.8M144.7 351.9L148.2 357.8M144.7 351.9L148.2 345.9M148.2 645.1L155.1 645.1M148.2 633.1L155.1 633.1M148.2 621.1L155.1 621.1M148.2 609.2L155.1 609.2M148.2 597.2L155.1 597.2M148.2 585.2L155.1 585.2M148.2 573.3L155.1 573.3M148.2 561.3L155.1 561.3M148.2 549.3L155.1 549.3M148.2 537.4L155.1 537.4M148.2 525.4L155.1 525.4M148.2 513.4L155.1 513.4M148.2 501.5L155.1 501.5M148.2 489.5L155.1 489.5M148.2 477.5L155.1 477.5M148.2 465.6L155.1 465.6M148.2 453.6L155.1 453.6M148.2 441.6L155.1 441.6M148.2 429.6L155.1 429.6M148.2 417.7L155.1 417.7M148.2 405.7L155.1 405.7M148.2 393.7L155.1 393.7M148.2 381.8L155.1 381.8M148.2 369.8L155.1 369.8M148.2 357.8L155.1 357.8M155.1 657.0L158.6 651.1M155.1 645.1L158.6 651.1M155.1 645.1L158.6 639.1M155.1 633.1L158.6 639.1M155.1 633.1L158.6 627.1M155.1 621.1L158.6 627.1M155.1 621.1L158.6 615.2M155.1 609.2L158.6 615.2M155.1 609.2L158.6 603.2M155.1 597.2L158.6 603.2M155.1 597.2L158.6 591.2M155.1 585.2L158.6 591.2M155.1 585.2L158.6 579.3M155.1 573.3L158.6 579.3M155.1 573.3L158.6 567.3M155.1 561.3L158.6 567.3M155.1 561.3L158.6 555.3M155.1 549.3L158.6 555.3M155.1 549.3L158.6 543.3M155.1 537.4L158.6 543.3M155.1 537.4L158.6 531.4M155.1 525.4L158.6 531.4M155.1 525.4L158.6 519.4M155.1 513.4L158.6 519.4M155.1 513.4L158.6 507.4M155.1 501.5L158.6 507.4M155.1 501.5L158.6 495.5M155.1 489.5L158.6 495.5M155.1 489.5L158.6 483.5M155.1 477.5L158.6 483.5M155.1 477.5L158.6 471.5M155.1 465.6L158.6 471.5M155.1 465.6L158.6 459.6M155.1 453.6L158.6 459.6M155.1 453.6L158.6 447.6M155.1 441.6L158.6 447.6M155.1 441.6L158.6 435.6M155.1 429.6L158.6 435.6M155.1 429.6L158.6 423.7M155.1 417.7L158.6 423.7M155.1 417.7L158.6 411.7M155.1 405.7L158.6 411.7M155.1 405.7L158.6 399.7M155.1 393.7L158.6 399.7M155.1 393.7L158.6 387.8M155.1 381.8L158.6 387.8M155.1 381.8L158.6 375.8M155.1 369.8L158.6 375.8M155.1 369.8L158.6 363.8M155.1 357.8L158.6 363.8M155.1 357.8L158.6 351.9M155.1 345.9L158.6 351.9M158.6 567.3L165.5 567.3M158.6 555.3L165.5 555.3M158.6 543.3L165.5 543.3M158.6 531.4L165.5 531.4M158.6 519.4L165.5 519.4M158.6 507.4L165.5 507.4M158.6 495.5L165.5 495.5M158.6 483.5L165.5 483.5M158.6 471.5L165.5 471.5M158.6 459.6L165.5 459.6M158.6 447.6L165.5 447.6M158.6 435.6L165.5 435.6M165.5 567.3L169.0 561.3M165.5 555.3L169.0 561.3M165.5 555.3L169.0 549.3M165.5 543.3L169.0 549.3M165.5 543.3L169.0 537.4M165.5 531.4L169.0 537.4M165.5 531.4L169.0 525.4M165.5 519.4L169.0 525.4M165.5 519.4L169.0 513.4M165.5 507.4L169.0 513.4M165.5 507.4L169.0 501.5M165.5 495.5L169.0 501.5M165.5 495.5L169.0 489.5M165.5 483.5L169.0 489.5M165.5 483.5L169.0 477.5M165.5 471.5L169.0 477.5M165.5 471.5L169.0 465.6M165.5 459.6L169.0 465.6M165.5 459.6L169.0 453.6M165.5 447.6L169.0 453.6M165.5 447.6L169.0 441.6M165.5 435.6L169.0 441.6M169.0 561.3L176.0 561.3M169.0 549.3L176.0 549.3M169.0 537.4L176.0 537.4M169.0 525.4L176.0 525.4M169.0 513.4L176.0 513.4M169.0 501.5L176.0 501.5M169.0 489.5L176.0 489.5M169.0 477.5L176.0 477.5M169.0 465.6L176.0 465.6M169.0 453.6L176.0 453.6M169.0 441.6L176.0 441.6M176.0 561.3L179.4 555.3M176.0 549.3L179.4 555.3M176.0 549.3L179.4 543.3M176.0 537.4L179.4 543.3M176.0 537.4L179.4 531.4M176.0 525.4L179.4 531.4M176.0 525.4L179.4 519.4M176.0 513.4L179.4 519.4M176.0 513.4L179.4 507.4M176.0 501.5L179.4 507.4M176.0 501.5L179.4 495.5M176.0 489.5L179.4 495.5M176.0 489.5L179.4 483.5M176.0 477.5L179.4 483.5M176.0 477.5L179.4 471.5M176.0 465.6L179.4 471.5M176.0 465.6L179.4 459.6M176.0 453.6L179.4 459.6M176.0 453.6L179.4 447.6M176.0 441.6L179.4 447.6M179.4 555.3L186.4 555.3M179.4 543.3L186.4 543.3M179.4 531.4L186.4 531.4M179.4 519.4L186.4 519.4M179.4 507.4L186.4 507.4M179.4 495.5L186.4 495.5M179.4 483.5L186.4 483.5M179.4 471.5L186.4 471.5M179.4 459.6L186.4 459.6M179.4 447.6L186.4 447.6M186.4 555.3L189.9 549.3M186.4 543.3L189.9 549.3M186.4 543.3L189.9 537.4M186.4 531.4L189.9 537.4M186.4 531.4L189.9 525.4M186.4 519.4L189.9 525.4M186.4 519.4L189.9 513.4M186.4 507.4L189.9 513.4M186.4 507.4L189.9 501.5M186.4 495.5L189.9 501.5M186.4 495.5L189.9 489.5M186.4 483.5L189.9 489.5M186.4 483.5L189.9 477.5M186.4 471.5L189.9 477.5M186.4 471.5L189.9 465.6M186.4 459.6L189.9 465.6M186.4 459.6L189.9 453.6M186.4 447.6L189.9 453.6M189.9 549.3L196.8 549.3M189.9 537.4L196.8 537.4M189.9 525.4L196.8 525.4M189.9 513.4L196.8 513.4M189.9 501.5L196.8 501.5M189.9 489.5L196.8 489.5M189.9 477.5L196.8 477.5M189.9 465.6L196.8 465.6M189.9 453.6L196.8 453.6M196.8 549.3L200.3 543.3M196.8 537.4L200.3 543.3M196.8 537.4L200.3 531.4M196.8 525.4L200.3 531.4M196.8 525.4L200.3 519.4M196.8 513.4L200.3 519.4M196.8 513.4L200.3 507.4M196.8 501.5L200.3 507.4M196.8 501.5L200.3 495.5M196.8 489.5L200.3 495.5M196.8 489.5L200.3 483.5M196.8 477.5L200.3 483.5M196.8 477.5L200.3 471.5M196.8 465.6L200.3 471.5M196.8 465.6L200.3 459.6M196.8 453.6L200.3 459.6M200.3 531.4L207.2 531.4M200.3 519.4L207.2 519.4M200.3 507.4L207.2 507.4M200.3 495.5L207.2 495.5M200.3 483.5L207.2 483.5M200.3 471.5L207.2 471.5M207.2 519.4L210.7 513.4M207.2 507.4L210.7 513.4M207.2 507.4L210.7 501.5M207.2 495.5L210.7 501.5M207.2 495.5L210.7 489.5M207.2 483.5L210.7 489.5" stroke="#f0f0f0" stroke-width="0.45" fill="none"/>
<circle cx="54.4" cy="531.4" r="0.80" fill="#353dad"/><circle cx="54.4" cy="471.5" r="0.80" fill="#353dad"/><circle cx="64.8" cy="549.3" r="0.63" fill="#3637a0"/><circle cx="64.8" cy="537.4" r="0.63" fill="#3637a0"/><circle cx="64.8" cy="525.4" r="0.19" fill="#352a87"/><circle cx="64.8" cy="477.5" r="0.19" fill="#352a87"/><circle cx="64.8" cy="465.6" r="0.63" fill="#3637a0"/><circle cx="64.8" cy="453.6" r="0.63" fill="#3637a0"/><circle cx="75.2" cy="555.3" r="0.98" fill="#2c4ac7"/><circle cx="75.2" cy="543.3" r="0.36" fill="#363093"/><circle cx="75.2" cy="531.4" r="0.29" fill="#352a87"/><circle cx="75.2" cy="471.5" r="0.29" fill="#352a87"/><circle cx="75.2" cy="459.6" r="0.36" fill="#363093"/><circle cx="75.2" cy="447.6" r="0.98" fill="#2c4ac7"/><circle cx="85.6" cy="561.3" r="0.99" fill="#2c4ac7"/><circle cx="85.6" cy="537.4" r="0.35" fill="#363093"/><circle cx="85.6" cy="465.6" r="0.35" fill="#363093"/><circle cx="85.6" cy="441.6" r="0.99" fill="#2c4ac7"/><circle cx="96.1" cy="567.3" r="0.68" fill="#3637a0"/><circle cx="96.1" cy="555.3" r="0.31" fill="#352a87"/><circle cx="96.1" cy="543.3" r="0.32" fill="#352a87"/><circle cx="96.1" cy="459.6" r="0.32" fill="#352a87"/><circle cx="96.1" cy="447.6" r="0.31" fill="#352a87"/><circle cx="96.1" cy="435.6" r="0.68" fill="#3637a0"/><circle cx="103.0" cy="651.1" r="0.96" fill="#3243ba"/><circle cx="103.0" cy="639.1" r="2.53" fill="#25b5a9"/><circle cx="103.0" cy="627.1" r="3.50" fill="#f7d826"/><circle cx="103.0" cy="615.2" r="3.65" fill="#f9fb0e"/><circle cx="103.0" cy="603.2" r="3.02" fill="#aebe67"/><circle cx="103.0" cy="591.2" r="1.92" fill="#1389d3"/><circle cx="103.0" cy="579.3" r="0.80" fill="#353dad"/><circle cx="103.0" cy="423.7" r="0.80" fill="#353dad"/><circle cx="103.0" cy="411.7" r="1.92" fill="#1389d3"/><circle cx="103.0" cy="399.7" r="3.02" fill="#aebe67"/><circle cx="103.0" cy="387.8" r="3.65" fill="#f9fb0e"/><circle cx="103.0" cy="375.8" r="3.50" fill="#f7d826"/><circle cx="103.0" cy="363.8" r="2.53" fill="#25b5a9"/><circle cx="103.0" cy="351.9" r="0.96" fill="#3243ba"/><circle cx="106.5" cy="585.2" r="0.18" fill="#352a87"/><circle cx="106.5" cy="573.3" r="0.20" fill="#352a87"/><circle cx="106.5" cy="561.3" r="0.49" fill="#363093"/><circle cx="106.5" cy="549.3" r="0.19" fill="#352a87"/><circle cx="106.5" cy="453.6" r="0.19" fill="#352a87"/><circle cx="106.5" cy="441.6" r="0.49" fill="#363093"/><circle cx="106.5" cy="429.6" r="0.20" fill="#352a87"/><circle cx="106.5" cy="417.7" r="0.18" fill="#352a87"/><circle cx="113.4" cy="645.1" r="1.59" fill="#0d75dc"/><circle cx="113.4" cy="633.1" r="0.98" fill="#2c4ac7"/><circle cx="113.4" cy="621.1" r="0.16" fill="#352a87"/><circle cx="113.4" cy="609.2" r="0.63" fill="#3637a0"/><circle cx="113.4" cy="597.2" r="1.10" fill="#2053d4"/><circle cx="113.4" cy="585.2" r="1.12" fill="#2053d4"/><circle cx="113.4" cy="573.3" r="0.73" fill="#353dad"/><circle cx="113.4" cy="561.3" r="0.17" fill="#352a87"/><circle cx="113.4" cy="441.6" r="0.17" fill="#352a87"/><circle cx="113.4" cy="429.6" r="0.73" fill="#353dad"/><circle cx="113.4" cy="417.7" r="1.12" fill="#2053d4"/><circle cx="113.4" cy="405.7" r="1.10" fill="#2053d4"/><circle cx="113.4" cy="393.7" r="0.63" fill="#3637a0"/><circle cx="113.4" cy="381.8" r="0.16" fill="#352a87"/><circle cx="113.4" cy="369.8" r="0.98" fill="#2c4ac7"/><circle cx="113.4" cy="357.8" r="1.59" fill="#0d75dc"/><circle cx="116.9" cy="639.1" r="0.19" fill="#352a87"/><circle cx="116.9" cy="627.1" r="0.25" fill="#352a87"/><circle cx="116.9" cy="615.2" r="0.23" fill="#352a87"/><circle cx="116.9" cy="579.3" r="0.24" fill="#352a87"/><circle cx="116.9" cy="567.3" r="0.45" fill="#363093"/><circle cx="116.9" cy="543.3" r="0.23" fill="#352a87"/><circle cx="116.9" cy="459.6" r="0.23" fill="#352a87"/><circle cx="116.9" cy="435.6" r="0.45" fill="#363093"/><circle cx="116.9" cy="423.7" r="0.24" fill="#352a87"/><circle cx="116.9" cy="387.8" r="0.23" fill="#352a87"/><circle cx="116.9" cy="375.8" r="0.25" fill="#352a87"/><circle cx="116.9" cy="363.8" r="0.19" fill="#352a87"/><circle cx="123.9" cy="651.1" r="0.20" fill="#352a87"/><circle cx="123.9" cy="639.1" r="0.61" fill="#3637a0"/><circle cx="123.9" cy="627.1" r="0.83" fill="#353dad"/><circle cx="123.9" cy="615.2" r="0.77" fill="#353dad"/><circle cx="123.9" cy="603.2" r="0.47" fill="#363093"/><circle cx="123.9" cy="579.3" r="0.39" fill="#363093"/><circle cx="123.9" cy="567.3" r="0.55" fill="#363093"/><circle cx="123.9" cy="555.3" r="0.25" fill="#352a87"/><circle cx="123.9" cy="447.6" r="0.25" fill="#352a87"/><circle cx="123.9" cy="435.6" r="0.55" fill="#363093"/><circle cx="123.9" cy="423.7" r="0.39" fill="#363093"/><circle cx="123.9" cy="399.7" r="0.47" fill="#363093"/><circle cx="123.9" cy="387.8" r="0.77" fill="#353dad"/><circle cx="123.9" cy="375.8" r="0.83" fill="#353dad"/><circle cx="123.9" cy="363.8" r="0.61" fill="#3637a0"/><circle cx="123.9" cy="351.9" r="0.20" fill="#352a87"/><circle cx="127.3" cy="645.1" r="0.41" fill="#363093"/><circle cx="127.3" cy="633.1" r="0.21" fill="#352a87"/><circle cx="127.3" cy="609.2" r="0.30" fill="#352a87"/><circle cx="127.3" cy="597.2" r="0.44" fill="#363093"/><circle cx="127.3" cy="585.2" r="0.40" fill="#363093"/><circle cx="127.3" cy="573.3" r="0.16" fill="#352a87"/><circle cx="127.3" cy="561.3" r="0.30" fill="#352a87"/><circle cx="127.3" cy="549.3" r="0.27" fill="#352a87"/><circle cx="127.3" cy="453.6" r="0.27" fill="#352a87"/><circle cx="127.3" cy="441.6" r="0.30" fill="#352a87"/><circle cx="127.3" cy="429.6" r="0.16" fill="#352a87"/><circle cx="127.3" cy="417.7" r="0.40" fill="#363093"/><circle cx="127.3" cy="405.7" r="0.44" fill="#363093"/><circle cx="127.3" cy="393.7" r="0.30" fill="#352a87"/><circle cx="127.3" cy="369.8" r="0.21" fill="#352a87"/><circle cx="127.3" cy="357.8" r="0.41" fill="#363093"/><circle cx="134.3" cy="645.1" r="0.41" fill="#363093"/><circle cx="134.3" cy="633.1" r="0.21" fill="#352a87"/><circle cx="134.3" cy="609.2" r="0.30" fill="#352a87"/><circle cx="134.3" cy="597.2" r="0.44" fill="#363093"/><circle cx="134.3" cy="585.2" r="0.40" fill="#363093"/><circle cx="134.3" cy="573.3" r="0.16" fill="#352a87"/><circle cx="134.3" cy="561.3" r="0.30" fill="#352a87"/><circle cx="134.3" cy="549.3" r="0.27" fill="#352a87"/><circle cx="134.3" cy="453.6" r="0.27" fill="#352a87"/><circle cx="134.3" cy="441.6" r="0.30" fill="#352a87"/><circle cx="134.3" cy="429.6" r="0.16" fill="#352a87"/><circle cx="134.3" cy="417.7" r="0.40" fill="#363093"/><circle cx="134.3" cy="405.7" r="0.44" fill="#363093"/><circle cx="134.3" cy="393.7" r="0.30" fill="#352a87"/><circle cx="134.3" cy="369.8" r="0.21" fill="#352a87"/><circle cx="134.3" cy="357.8" r="0.41" fill="#363093"/><circle cx="137.7" cy="651.1" r="0.20" fill="#352a87"/><circle cx="137.7" cy="639.1" r="0.61" fill="#3637a0"/><circle cx="137.7" cy="627.1" r="0.83" fill="#353dad"/><circle cx="137.7" cy="615.2" r="0.77" fill="#353dad"/><circle cx="137.7" cy="603.2" r="0.47" fill="#363093"/><circle cx="137.7" cy="579.3" r="0.39" fill="#363093"/><circle cx="137.7" cy="567.3" r="0.55" fill="#363093"/><circle cx="137.7" cy="555.3" r="0.25" fill="#352a87"/><circle cx="137.7" cy="447.6" r="0.25" fill="#352a87"/><circle cx="137.7" cy="435.6" r="0.55" fill="#363093"/><circle cx="137.7" cy="423.7" r="0.39" fill="#363093"/><circle cx="137.7" cy="399.7" r="0.47" fill="#363093"/><circle cx="137.7" cy="387.8" r="0.77" fill="#353dad"/><circle cx="137.7" cy="375.8" r="0.83" fill="#353dad"/><circle cx="137.7" cy="363.8" r="0.61" fill="#3637a0"/><circle cx="137.7" cy="351.9" r="0.20" fill="#352a87"/><circle cx="144.7" cy="639.1" r="0.19" fill="#352a87"/><circle cx="144.7" cy="627.1" r="0.25" fill="#352a87"/><circle cx="144.7" cy="615.2" r="0.23" fill="#352a87"/><circle cx="144.7" cy="579.3" r="0.24" fill="#352a87"/><circle cx="144.7" cy="567.3" r="0.45" fill="#363093"/><circle cx="144.7" cy="543.3" r="0.23" fill="#352a87"/><circle cx="144.7" cy="459.6" r="0.23" fill="#352a87"/><circle cx="144.7" cy="435.6" r="0.45" fill="#363093"/><circle cx="144.7" cy="423.7" r="0.24" fill="#352a87"/><circle cx="144.7" cy="387.8" r="0.23" fill="#352a87"/><circle cx="144.7" cy="375.8" r="0.25" fill="#352a87"/><circle cx="144.7" cy="363.8" r="0.19" fill="#352a87"/><circle cx="148.2" cy="645.1" r="1.59" fill="#0d75dc"/><circle cx="148.2" cy="633.1" r="0.98" fill="#2c4ac7"/><circle cx="148.2" cy="621.1" r="0.16" fill="#352a87"/><circle cx="148.2" cy="609.2" r="0.63" fill="#3637a0"/><circle cx="148.2" cy="597.2" r="1.10" fill="#2053d4"/><circle cx="148.2" cy="585.2" r="1.12" fill="#2053d4"/><circle cx="148.2" cy="573.3" r="0.73" fill="#353dad"/><circle cx="148.2" cy="561.3" r="0.17" fill="#352a87"/><circle cx="148.2" cy="441.6" r="0.17" fill="#352a87"/><circle cx="148.2" cy="429.6" r="0.73" fill="#353dad"/><circle cx="148.2" cy="417.7" r="1.12" fill="#2053d4"/><circle cx="148.2" cy="405.7" r="1.10" fill="#2053d4"/><circle cx="148.2" cy="393.7" r="0.63" fill="#3637a0"/><circle cx="148.2" cy="381.8" r="0.16" fill="#352a87"/><circle cx="148.2" cy="369.8" r="0.98" fill="#2c4ac7"/><circle cx="148.2" cy="357.8" r="1.59" fill="#0d75dc"/><circle cx="155.1" cy="585.2" r="0.18" fill="#352a87"/><circle cx="155.1" cy="573.3" r="0.20" fill="#352a87"/><circle cx="155.1" cy="561.3" r="0.49" fill="#363093"/><circle cx="155.1" cy="549.3" r="0.19" fill="#352a87"/><circle cx="155.1" cy="453.6" r="0.19" fill="#352a87"/><circle cx="155.1" cy="441.6" r="0.49" fill="#363093"/><circle cx="155.1" cy="429.6" r="0.20" fill="#352a87"/><circle cx="155.1" cy="417.7" r="0.18" fill="#352a87"/><circle cx="158.6" cy="651.1" r="0.96" fill="#3243ba"/><circle cx="158.6" cy="639.1" r="2.53" fill="#25b5a9"/><circle cx="158.6" cy="627.1" r="3.50" fill="#f7d826"/><circle cx="158.6" cy="615.2" r="3.65" fill="#f9fb0e"/><circle cx="158.6" cy="603.2" r="3.02" fill="#aebe67"/><circle cx="158.6" cy="591.2" r="1.92" fill="#1389d3"/><circle cx="158.6" cy="579.3" r="0.80" fill="#353dad"/><circle cx="158.6" cy="423.7" r="0.80" fill="#353dad"/><circle cx="158.6" cy="411.7" r="1.92" fill="#1389d3"/><circle cx="158.6" cy="399.7" r="3.02" fill="#aebe67"/><circle cx="158.6" cy="387.8" r="3.65" fill="#f9fb0e"/><circle cx="158.6" cy="375.8" r="3.50" fill="#f7d826"/><circle cx="158.6" cy="363.8" r="2.53" fill="#25b5a9"/><circle cx="158.6" cy="351.9" r="0.96" fill="#3243ba"/><circle cx="165.5" cy="567.3" r="0.68" fill="#3637a0"/><circle cx="165.5" cy="555.3" r="0.31" fill="#352a87"/><circle cx="165.5" cy="543.3" r="0.32" fill="#352a87"/><circle cx="165.5" cy="459.6" r="0.32" fill="#352a87"/><circle cx="165.5" cy="447.6" r="0.31" fill="#352a87"/><circle cx="165.5" cy="435.6" r="0.68" fill="#3637a0"/><circle cx="176.0" cy="561.3" r="0.99" fill="#2c4ac7"/><circle cx="176.0" cy="537.4" r="0.35" fill="#363093"/><circle cx="176.0" cy="465.6" r="0.35" fill="#363093"/><circle cx="176.0" cy="441.6" r="0.99" fill="#2c4ac7"/><circle cx="186.4" cy="555.3" r="0.98" fill="#2c4ac7"/><circle cx="186.4" cy="543.3" r="0.36" fill="#363093"/><circle cx="186.4" cy="531.4" r="0.29" fill="#352a87"/><circle cx="186.4" cy="471.5" r="0.29" fill="#352a87"/><circle cx="186.4" cy="459.6" r="0.36" fill="#363093"/><circle cx="186.4" cy="447.6" r="0.98" fill="#2c4ac7"/><circle cx="196.8" cy="549.3" r="0.63" fill="#3637a0"/><circle cx="196.8" cy="537.4" r="0.63" fill="#3637a0"/><circle cx="196.8" cy="525.4" r="0.19" fill="#352a87"/><circle cx="196.8" cy="477.5" r="0.19" fill="#352a87"/><circle cx="196.8" cy="465.6" r="0.63" fill="#3637a0"/><circle cx="196.8" cy="453.6" r="0.63" fill="#3637a0"/><circle cx="207.2" cy="531.4" r="0.80" fill="#353dad"/><circle cx="207.2" cy="471.5" r="0.80" fill="#353dad"/>
<path d="M50.9 513.4L51.5 514.6M50.9 501.5L51.5 502.6M54.4 519.4L55.7 519.4M54.4 507.4L53.7 508.6M54.4 495.5L53.7 496.6M61.3 543.3L62.0 542.2M61.3 531.4L60.0 531.4M61.3 519.4L62.0 520.5M61.3 495.5L60.0 495.5M61.3 495.5L62.0 494.4M61.3 483.5L62.0 482.4M61.3 459.6L62.0 458.4M64.8 549.3L64.1 548.2M64.8 537.4L64.1 536.2M64.8 525.4L64.1 526.5M64.8 513.4L64.1 514.6M64.8 513.4L64.1 512.3M64.8 501.5L64.1 500.3M64.8 489.5L66.1 489.5M64.8 465.6L64.1 464.4M64.8 453.6L66.1 453.6M71.7 549.3L70.4 549.3M71.7 549.3L72.4 548.2M71.7 537.4L70.4 537.4M71.7 513.4L70.4 513.4M71.7 501.5L70.4 501.5M71.7 489.5L72.4 488.4M71.7 477.5L72.4 476.4M71.7 465.6L70.4 465.6M71.7 453.6L72.4 452.5M75.2 555.3L74.6 554.2M75.2 543.3L74.6 542.2M75.2 531.4L74.6 532.5M75.2 519.4L74.6 518.3M75.2 495.5L74.6 496.6M75.2 495.5L74.6 494.4M75.2 483.5L74.6 482.4M75.2 471.5L76.5 471.5M75.2 459.6L74.6 460.7M75.2 459.6L74.6 458.4M75.2 447.6L76.5 447.6M82.2 555.3L80.9 555.3M82.2 543.3L80.9 543.3M82.2 531.4L80.9 531.4M82.2 519.4L80.9 519.4M82.2 507.4L82.8 506.3M82.2 495.5L80.9 495.5M82.2 495.5L82.8 494.4M82.2 483.5L80.9 483.5M82.2 471.5L82.8 470.4M82.2 459.6L80.9 459.6M82.2 447.6L82.8 448.7M82.2 447.6L82.8 446.5M85.6 561.3L85.0 560.2M85.6 549.3L85.0 550.5M85.6 537.4L85.0 538.5M85.6 537.4L85.0 536.2M85.6 525.4L85.0 524.3M85.6 513.4L85.0 514.6M85.6 513.4L85.0 512.3M85.6 501.5L85.0 500.3M85.6 489.5L86.9 489.5M85.6 477.5L85.0 478.6M85.6 477.5L85.0 476.4M85.6 465.6L85.0 464.4M85.6 465.6L86.9 465.6M85.6 441.6L86.9 441.6M92.6 561.3L91.3 561.3M92.6 549.3L91.3 549.3M92.6 549.3L93.2 548.2M92.6 537.4L91.3 537.4M92.6 525.4L91.3 525.4M92.6 513.4L91.3 513.4M92.6 513.4L93.2 512.3M92.6 501.5L91.3 501.5M92.6 489.5L93.2 488.4M92.6 477.5L91.3 477.5M92.6 465.6L93.2 466.7M92.6 453.6L93.2 452.5M92.6 441.6L93.2 442.7M96.1 567.3L95.4 566.2M96.1 555.3L95.4 556.4M96.1 555.3L95.4 554.2M96.1 543.3L95.4 542.2M96.1 531.4L95.4 532.5M96.1 531.4L95.4 530.3M96.1 519.4L95.4 518.3M96.1 507.4L95.4 506.3M96.1 495.5L95.4 496.6M96.1 495.5L95.4 494.4M96.1 483.5L95.4 482.4M96.1 471.5L97.4 471.5M96.1 459.6L95.4 458.4M96.1 447.6L97.4 447.6M103.0 591.2L103.7 592.3M103.0 579.3L103.7 580.4M103.0 567.3L101.7 567.3M103.0 555.3L101.7 555.3M103.0 543.3L101.7 543.3M103.0 531.4L101.7 531.4M103.0 531.4L103.7 530.3M103.0 519.4L101.7 519.4M103.0 507.4L103.7 506.3M103.0 495.5L101.7 495.5M103.0 471.5L103.7 470.4M103.0 459.6L101.7 459.6M103.0 447.6L103.7 448.7M103.0 447.6L103.7 446.5M103.0 435.6L103.7 436.8M103.0 423.7L103.7 422.5M103.0 411.7L103.7 410.6M103.0 399.7L103.7 398.6M103.0 387.8L103.7 386.6M103.0 375.8L103.7 374.7M103.0 363.8L103.7 362.7M103.0 351.9L103.7 350.7M106.5 609.2L105.8 610.3M106.5 609.2L105.8 608.1M106.5 573.3L105.8 574.4M106.5 573.3L105.8 572.1M106.5 561.3L105.8 562.4M106.5 561.3L105.8 560.2M106.5 549.3L105.8 548.2M106.5 537.4L105.8 538.5M106.5 537.4L105.8 536.2M106.5 525.4L105.8 524.3M106.5 513.4L105.8 514.6M106.5 513.4L105.8 512.3M106.5 501.5L105.8 500.3M106.5 489.5L107.8 489.5M106.5 477.5L105.8 476.4M106.5 465.6L105.8 464.4M106.5 465.6L107.8 465.6M106.5 453.6L105.8 454.7M106.5 441.6L107.8 441.6M106.5 429.6L105.8 428.5M106.5 417.7L105.8 416.6M106.5 405.7L105.8 404.6M106.5 393.7L105.8 392.6M106.5 381.8L105.8 380.6M106.5 369.8L105.8 368.7M106.5 357.8L105.8 356.7M113.4 645.1L112.1 645.1M113.4 633.1L112.1 633.1M113.4 621.1L112.1 621.1M113.4 609.2L112.1 609.2M113.4 585.2L114.1 584.1M113.4 573.3L112.1 573.3M113.4 561.3L112.1 561.3M113.4 549.3L112.1 549.3M113.4 549.3L114.1 548.2M113.4 537.4L112.1 537.4M113.4 537.4L114.1 536.2M113.4 525.4L112.1 525.4M113.4 525.4L114.1 524.3M113.4 513.4L112.1 513.4M113.4 513.4L114.1 512.3M113.4 501.5L112.1 501.5M113.4 489.5L114.1 488.4M113.4 477.5L112.1 477.5M113.4 465.6L114.1 464.4M113.4 453.6L112.1 453.6M113.4 453.6L114.1 452.5M113.4 441.6L114.1 442.7M113.4 441.6L114.1 440.5M113.4 429.6L112.1 429.6M113.4 429.6L114.1 428.5M113.4 417.7L112.1 417.7M113.4 417.7L114.1 416.6M113.4 405.7L114.1 404.6M113.4 393.7L114.1 392.6M113.4 381.8L114.1 380.6M113.4 369.8L114.1 368.7M113.4 357.8L114.1 356.7M116.9 579.3L116.2 578.1M116.9 567.3L116.2 568.4M116.9 567.3L116.2 566.2M116.9 555.3L116.2 556.4M116.9 555.3L116.2 554.2M116.9 543.3L116.2 542.2M116.9 531.4L116.2 530.3M116.9 519.4L116.2 518.3M116.9 507.4L116.2 506.3M116.9 495.5L116.2 494.4M116.9 483.5L116.2 482.4M116.9 471.5L116.2 472.7M116.9 459.6L116.2 458.4M116.9 447.6L118.2 447.6M116.9 435.6L116.2 434.5M116.9 423.7L116.2 422.5M116.9 411.7L116.2 410.6M116.9 399.7L116.2 398.6M116.9 387.8L116.2 386.6M116.9 375.8L116.2 374.7M116.9 363.8L116.2 362.7M116.9 351.9L116.2 350.7M123.9 651.1L122.6 651.1M123.9 639.1L122.6 639.1M123.9 627.1L122.6 627.1M123.9 615.2L122.6 615.2M123.9 603.2L122.6 603.2M123.9 591.2L122.6 591.2M123.9 579.3L122.6 579.3M123.9 567.3L122.6 567.3M123.9 567.3L124.5 566.2M123.9 555.3L122.6 555.3M123.9 555.3L124.5 554.2M123.9 543.3L122.6 543.3M123.9 543.3L124.5 542.2M123.9 531.4L122.6 531.4M123.9 531.4L124.5 530.3M123.9 519.4L122.6 519.4M123.9 519.4L124.5 518.3M123.9 507.4L124.5 506.3M123.9 495.5L122.6 495.5M123.9 483.5L124.5 482.4M123.9 459.6L122.6 459.6M123.9 447.6L124.5 446.5M123.9 435.6L122.6 435.6M123.9 435.6L124.5 434.5M123.9 423.7L122.6 423.7M123.9 423.7L124.5 422.5M123.9 411.7L124.5 410.6M123.9 399.7L124.5 398.6M123.9 387.8L124.5 386.6M123.9 375.8L124.5 374.7M123.9 363.8L124.5 362.7M123.9 351.9L124.5 350.7M127.3 561.3L126.7 560.2M127.3 549.3L126.7 548.2M127.3 537.4L126.7 536.2M127.3 525.4L126.7 524.3M127.3 513.4L126.7 512.3M127.3 501.5L126.7 500.3M127.3 477.5L126.7 476.4M127.3 441.6L126.7 440.5M127.3 429.6L126.7 428.5M127.3 417.7L126.7 416.6M127.3 405.7L126.7 404.6M127.3 393.7L126.7 392.6M127.3 381.8L126.7 380.6M127.3 369.8L126.7 368.7M127.3 357.8L126.7 356.7M134.3 561.3L134.9 560.2M134.3 549.3L134.9 548.2M134.3 537.4L134.9 536.2M134.3 525.4L134.9 524.3M134.3 513.4L134.9 512.3M134.3 501.5L134.9 500.3M134.3 477.5L134.9 476.4M134.3 441.6L134.9 440.5M134.3 429.6L134.9 428.5M134.3 417.7L134.9 416.6M134.3 405.7L134.9 404.6M134.3 393.7L134.9 392.6M134.3 381.8L134.9 380.6M134.3 369.8L134.9 368.7M134.3 357.8L134.9 356.7M137.7 651.1L139.0 651.1M137.7 639.1L139.0 639.1M137.7 627.1L139.0 627.1M137.7 615.2L139.0 615.2M137.7 603.2L139.0 603.2M137.7 591.2L139.0 591.2M137.7 579.3L139.0 579.3M137.7 567.3L137.1 566.2M137.7 567.3L139.0 567.3M137.7 555.3L137.1 554.2M137.7 555.3L139.0 555.3M137.7 543.3L137.1 542.2M137.7 543.3L139.0 543.3M137.7 531.4L137.1 530.3M137.7 531.4L139.0 531.4M137.7 519.4L137.1 518.3M137.7 519.4L139.0 519.4M137.7 507.4L137.1 506.3M137.7 495.5L139.0 495.5M137.7 483.5L137.1 482.4M137.7 459.6L139.0 459.6M137.7 447.6L137.1 446.5M137.7 435.6L137.1 434.5M137.7 435.6L139.0 435.6M137.7 423.7L137.1 422.5M137.7 423.7L139.0 423.7M137.7 411.7L137.1 410.6M137.7 399.7L137.1 398.6M137.7 387.8L137.1 386.6M137.7 375.8L137.1 374.7M137.7 363.8L137.1 362.7M137.7 351.9L137.1 350.7M144.7 579.3L145.4 578.1M144.7 567.3L145.4 568.4M144.7 567.3L145.4 566.2M144.7 555.3L145.4 556.4M144.7 555.3L145.4 554.2M144.7 543.3L145.4 542.2M144.7 531.4L145.4 530.3M144.7 519.4L145.4 518.3M144.7 507.4L145.4 506.3M144.7 495.5L145.4 494.4M144.7 483.5L145.4 482.4M144.7 471.5L145.4 472.7M144.7 459.6L145.4 458.4M144.7 447.6L143.4 447.6M144.7 435.6L145.4 434.5M144.7 423.7L145.4 422.5M144.7 411.7L145.4 410.6M144.7 399.7L145.4 398.6M144.7 387.8L145.4 386.6M144.7 375.8L145.4 374.7M144.7 363.8L145.4 362.7M144.7 351.9L145.4 350.7M148.2 645.1L149.5 645.1M148.2 633.1L149.5 633.1M148.2 621.1L149.5 621.1M148.2 609.2L149.5 609.2M148.2 585.2L147.5 584.1M148.2 573.3L149.5 573.3M148.2 561.3L149.5 561.3M148.2 549.3L147.5 548.2M148.2 549.3L149.5 549.3M148.2 537.4L147.5 536.2M148.2 537.4L149.5 537.4M148.2 525.4L147.5 524.3M148.2 525.4L149.5 525.4M148.2 513.4L147.5 512.3M148.2 513.4L149.5 513.4M148.2 501.5L149.5 501.5M148.2 489.5L147.5 488.4M148.2 477.5L149.5 477.5M148.2 465.6L147.5 464.4M148.2 453.6L147.5 452.5M148.2 453.6L149.5 453.6M148.2 441.6L147.5 442.7M148.2 441.6L147.5 440.5M148.2 429.6L147.5 428.5M148.2 429.6L149.5 429.6M148.2 417.7L147.5 416.6M148.2 417.7L149.5 417.7M148.2 405.7L147.5 404.6M148.2 393.7L147.5 392.6M148.2 381.8L147.5 380.6M148.2 369.8L147.5 368.7M148.2 357.8L147.5 356.7M155.1 609.2L155.8 610.3M155.1 609.2L155.8 608.1M155.1 573.3L155.8 574.4M155.1 573.3L155.8 572.1M155.1 561.3L155.8 562.4M155.1 561.3L155.8 560.2M155.1 549.3L155.8 548.2M155.1 537.4L155.8 538.5M155.1 537.4L155.8 536.2M155.1 525.4L155.8 524.3M155.1 513.4L155.8 514.6M155.1 513.4L155.8 512.3M155.1 501.5L155.8 500.3M155.1 489.5L153.8 489.5M155.1 477.5L155.8 476.4M155.1 465.6L153.8 465.6M155.1 465.6L155.8 464.4M155.1 453.6L155.8 454.7M155.1 441.6L153.8 441.6M155.1 429.6L155.8 428.5M155.1 417.7L155.8 416.6M155.1 405.7L155.8 404.6M155.1 393.7L155.8 392.6M155.1 381.8L155.8 380.6M155.1 369.8L155.8 368.7M155.1 357.8L155.8 356.7M158.6 591.2L157.9 592.3M158.6 579.3L157.9 580.4M158.6 567.3L159.9 567.3M158.6 555.3L159.9 555.3M158.6 543.3L159.9 543.3M158.6 531.4L157.9 530.3M158.6 531.4L159.9 531.4M158.6 519.4L159.9 519.4M158.6 507.4L157.9 506.3M158.6 495.5L159.9 495.5M158.6 471.5L157.9 470.4M158.6 459.6L159.9 459.6M158.6 447.6L157.9 448.7M158.6 447.6L157.9 446.5M158.6 435.6L157.9 436.8M158.6 423.7L157.9 422.5M158.6 411.7L157.9 410.6M158.6 399.7L157.9 398.6M158.6 387.8L157.9 386.6M158.6 375.8L157.9 374.7M158.6 363.8L157.9 362.7M158.6 351.9L157.9 350.7M165.5 567.3L166.2 566.2M165.5 555.3L166.2 556.4M165.5 555.3L166.2 554.2M165.5 543.3L166.2 542.2M165.5 531.4L166.2 532.5M165.5 531.4L166.2 530.3M165.5 519.4L166.2 518.3M165.5 507.4L166.2 506.3M165.5 495.5L166.2 496.6M165.5 495.5L166.2 494.4M165.5 483.5L166.2 482.4M165.5 471.5L164.2 471.5M165.5 459.6L166.2 458.4M165.5 447.6L164.2 447.6M169.0 561.3L170.3 561.3M169.0 549.3L168.4 548.2M169.0 549.3L170.3 549.3M169.0 537.4L170.3 537.4M169.0 525.4L170.3 525.4M169.0 513.4L168.4 512.3M169.0 513.4L170.3 513.4M169.0 501.5L170.3 501.5M169.0 489.5L168.4 488.4M169.0 477.5L170.3 477.5M169.0 465.6L168.4 466.7M169.0 453.6L168.4 452.5M169.0 441.6L168.4 442.7M176.0 561.3L176.6 560.2M176.0 549.3L176.6 550.5M176.0 537.4L176.6 538.5M176.0 537.4L176.6 536.2M176.0 525.4L176.6 524.3M176.0 513.4L176.6 514.6M176.0 513.4L176.6 512.3M176.0 501.5L176.6 500.3M176.0 489.5L174.7 489.5M176.0 477.5L176.6 478.6M176.0 477.5L176.6 476.4M176.0 465.6L174.7 465.6M176.0 465.6L176.6 464.4M176.0 441.6L174.7 441.6M179.4 555.3L180.7 555.3M179.4 543.3L180.7 543.3M179.4 531.4L180.7 531.4M179.4 519.4L180.7 519.4M179.4 507.4L178.8 506.3M179.4 495.5L178.8 494.4M179.4 495.5L180.7 495.5M179.4 483.5L180.7 483.5M179.4 471.5L178.8 470.4M179.4 459.6L180.7 459.6M179.4 447.6L178.8 448.7M179.4 447.6L178.8 446.5M186.4 555.3L187.0 554.2M186.4 543.3L187.0 542.2M186.4 531.4L187.0 532.5M186.4 519.4L187.0 518.3M186.4 495.5L187.0 496.6M186.4 495.5L187.0 494.4M186.4 483.5L187.0 482.4M186.4 471.5L185.1 471.5M186.4 459.6L187.0 460.7M186.4 459.6L187.0 458.4M186.4 447.6L185.1 447.6M189.9 549.3L189.2 548.2M189.9 549.3L191.2 549.3M189.9 537.4L191.2 537.4M189.9 513.4L191.2 513.4M189.9 501.5L191.2 501.5M189.9 489.5L189.2 488.4M189.9 477.5L189.2 476.4M189.9 465.6L191.2 465.6M189.9 453.6L189.2 452.5M196.8 549.3L197.5 548.2M196.8 537.4L197.5 536.2M196.8 525.4L197.5 526.5M196.8 513.4L197.5 514.6M196.8 513.4L197.5 512.3M196.8 501.5L197.5 500.3M196.8 489.5L195.5 489.5M196.8 465.6L197.5 464.4M196.8 453.6L195.5 453.6M200.3 543.3L199.6 542.2M200.3 531.4L201.6 531.4M200.3 519.4L199.6 520.5M200.3 495.5L199.6 494.4M200.3 495.5L201.6 495.5M200.3 483.5L199.6 482.4M200.3 459.6L199.6 458.4M207.2 519.4L205.9 519.4M207.2 507.4L207.9 508.6M207.2 495.5L207.9 496.6M210.7 513.4L210.1 514.6M210.7 501.5L210.1 502.6" stroke="#ff1050" stroke-opacity="0.25" stroke-width="1.1" fill="none"/>
<path d="M113.43 597.21L112.59 597.21M112.74 597.29L112.59 597.21L112.74 597.13M113.43 585.24L112.64 585.24M112.78 585.31L112.64 585.24L112.78 585.16M123.85 579.25L124.30 578.49M124.14 578.58L124.30 578.49L124.29 578.66M127.33 573.27L126.88 572.50M126.89 572.68L126.88 572.50L127.03 572.60M134.27 573.27L134.72 572.50M134.57 572.60L134.72 572.50L134.71 572.68M137.75 579.25L137.30 578.49M137.31 578.66L137.30 578.49L137.46 578.58M148.17 597.21L149.01 597.21M148.86 597.13L149.01 597.21L148.86 597.29M148.17 585.24L148.96 585.24M148.82 585.16L148.96 585.24L148.82 585.31" stroke="#ff1050" stroke-width="0.875" fill="none" stroke-linecap="butt" stroke-linejoin="bevel"/>
<path d="M106.48 597.21L105.87 598.25M106.08 598.13L105.87 598.25L105.88 598.01M106.48 585.24L105.98 586.09M106.15 585.99L105.98 586.09L105.99 585.90M113.43 597.21L113.94 596.33M113.76 596.43L113.94 596.33L113.93 596.53M116.90 591.22L116.32 590.23M116.33 590.46L116.32 590.23L116.52 590.35M123.85 591.22L124.46 590.17M124.26 590.29L124.46 590.17L124.46 590.41M127.33 585.24L126.72 584.20M126.73 584.44L126.72 584.20L126.93 584.33M134.27 585.24L134.88 584.20M134.67 584.33L134.88 584.20L134.87 584.44M137.75 591.22L137.14 590.17M137.14 590.41L137.14 590.17L137.34 590.29M144.70 591.22L145.28 590.23M145.08 590.35L145.28 590.23L145.27 590.46M148.17 597.21L147.66 596.33M147.67 596.53L147.66 596.33L147.84 596.43M155.12 597.21L155.73 598.25M155.72 598.01L155.73 598.25L155.52 598.13M155.12 585.24L155.62 586.09M155.61 585.90L155.62 586.09L155.45 585.99" stroke="#ff1050" stroke-width="1.000" fill="none" stroke-linecap="butt" stroke-linejoin="bevel"/>
<path d="M103.00 627.13L103.84 625.69M103.55 625.86L103.84 625.69L103.83 626.02M123.85 615.16L124.68 613.73M124.40 613.90L124.68 613.73L124.67 614.06M123.85 603.19L124.55 601.99M124.31 602.14L124.55 601.99L124.54 602.27M127.33 609.18L126.50 607.76M126.51 608.08L126.50 607.76L126.78 607.93M127.33 597.21L126.64 596.04M126.65 596.31L126.64 596.04L126.88 596.18M134.27 609.18L135.10 607.76M134.82 607.93L135.10 607.76L135.09 608.08M134.27 597.21L134.96 596.04M134.72 596.18L134.96 596.04L134.95 596.31M137.75 615.16L136.92 613.73M136.93 614.06L136.92 613.73L137.20 613.90M137.75 603.19L137.05 601.99M137.06 602.27L137.05 601.99L137.29 602.14M158.60 627.13L157.76 625.69M157.77 626.02L157.76 625.69L158.05 625.86" stroke="#ff1050" stroke-width="1.125" fill="none" stroke-linecap="butt" stroke-linejoin="bevel"/>
<path d="M106.48 621.14L105.49 619.45M105.50 619.84L105.49 619.45L105.83 619.65M113.43 633.11L114.35 631.53M114.03 631.72L114.35 631.53L114.34 631.90M113.43 621.14L114.43 619.41M114.09 619.62L114.43 619.41L114.42 619.81M113.43 609.18L114.35 607.59M114.03 607.78L114.35 607.59L114.34 607.95M116.90 603.19L115.87 601.42M115.88 601.83L115.87 601.42L116.22 601.63M144.70 603.19L145.73 601.42M145.38 601.63L145.73 601.42L145.72 601.83M148.17 633.11L147.25 631.53M147.26 631.90L147.25 631.53L147.57 631.72M148.17 621.14L147.17 619.41M147.18 619.81L147.17 619.41L147.51 619.62M148.17 609.18L147.25 607.59M147.26 607.95L147.25 607.59L147.57 607.78M155.12 621.14L156.11 619.45M155.77 619.65L156.11 619.45L156.10 619.84" stroke="#ff1050" stroke-width="1.250" fill="none" stroke-linecap="butt" stroke-linejoin="bevel"/>
<path d="M113.43 645.08L114.49 643.25M114.13 643.47L114.49 643.25L114.48 643.67M116.90 639.10L115.69 637.02M115.71 637.50L115.69 637.02L116.11 637.27M116.90 627.13L115.74 625.13M115.76 625.60L115.74 625.13L116.14 625.37M123.85 627.13L124.95 625.23M124.58 625.46L124.95 625.23L124.94 625.67M127.33 621.14L126.22 619.25M126.24 619.69L126.22 619.25L126.60 619.48M134.27 621.14L135.38 619.25M135.00 619.48L135.38 619.25L135.36 619.69M137.75 627.13L136.65 625.23M136.66 625.67L136.65 625.23L137.02 625.46M144.70 639.10L145.91 637.02M145.49 637.27L145.91 637.02L145.89 637.50M144.70 627.13L145.86 625.13M145.46 625.37L145.86 625.13L145.84 625.60M148.17 645.08L147.11 643.25M147.12 643.67L147.11 643.25L147.47 643.47" stroke="#ff1050" stroke-width="1.375" fill="none" stroke-linecap="butt" stroke-linejoin="bevel"/>
<path d="M116.90 615.16L115.68 613.05M115.69 613.54L115.68 613.05L116.09 613.31M144.70 615.16L145.92 613.05M145.51 613.31L145.92 613.05L145.91 613.54" stroke="#ff1050" stroke-width="1.500" fill="none" stroke-linecap="butt" stroke-linejoin="bevel"/>
<path d="M113.43 657.05L114.98 654.38M114.45 654.70L114.98 654.38L114.96 655.00M123.85 639.10L125.26 636.68M124.78 636.97L125.26 636.68L125.24 637.24M127.33 633.11L125.92 630.70M125.94 631.26L125.92 630.70L126.40 630.99M134.27 633.11L135.68 630.70M135.20 630.99L135.68 630.70L135.66 631.26M137.75 639.10L136.34 636.68M136.36 637.24L136.34 636.68L136.82 636.97M148.17 657.05L146.62 654.38M146.64 655.00L146.62 654.38L147.15 654.70" stroke="#ff1050" stroke-width="1.625" fill="none" stroke-linecap="butt" stroke-linejoin="bevel"/>
<path d="M103.00 639.10L104.65 636.26M104.09 636.60L104.65 636.26L104.63 636.92M116.90 651.07L115.29 648.30M115.31 648.94L115.29 648.30L115.84 648.63M123.85 651.07L125.45 648.32M124.90 648.65L125.45 648.32L125.43 648.95M127.33 657.05L125.67 654.20M125.69 654.86L125.67 654.20L126.23 654.54M127.33 645.08L125.74 642.36M125.76 642.99L125.74 642.36L126.28 642.68M134.27 657.05L135.93 654.20M135.37 654.54L135.93 654.20L135.91 654.86M134.27 645.08L135.86 642.36M135.32 642.68L135.86 642.36L135.84 642.99M137.75 651.07L136.15 648.32M136.17 648.95L136.15 648.32L136.70 648.65M144.70 651.07L146.31 648.30M145.76 648.63L146.31 648.30L146.29 648.94M158.60 639.10L156.95 636.26M156.97 636.92L156.95 636.26L157.51 636.60" stroke="#ff1050" stroke-width="1.750" fill="none" stroke-linecap="butt" stroke-linejoin="bevel"/>
<path d="M103.00 651.07L104.84 647.90M104.21 648.28L104.84 647.90L104.82 648.63M106.48 657.05L104.57 653.76M104.59 654.52L104.57 653.76L105.22 654.15M106.48 633.11L104.62 629.92M104.64 630.66L104.62 629.92L105.26 630.30M155.12 657.05L157.03 653.76M156.38 654.15L157.03 653.76L157.01 654.52M155.12 633.11L156.98 629.92M156.34 630.30L156.98 629.92L156.96 630.66M158.60 651.07L156.76 647.90M156.78 648.63L156.76 647.90L157.39 648.28" stroke="#ff1050" stroke-width="1.875" fill="none" stroke-linecap="butt" stroke-linejoin="bevel"/>
<path d="M106.48 645.08L104.30 641.34M104.33 642.21L104.30 641.34L105.04 641.79M155.12 645.08L157.30 641.34M156.56 641.79L157.30 641.34L157.27 642.21" stroke="#ff1050" stroke-width="2.125" fill="none" stroke-linecap="butt" stroke-linejoin="bevel"/>
</g>
<rect x="231.10" y="359.80" width="42.70" height="169.90" fill="#fff"/>
<clipPath id="iclipc"><rect x="231.10" y="359.80" width="42.70" height="169.90"/></clipPath>
<g clip-path="url(#iclipc)">
<line x1="231.10" y1="446.28" x2="273.80" y2="446.28" stroke="#ffc4ff" stroke-width="0.8"/>
<polyline points="258.87,529.70 264.31,529.36 264.36,529.02 263.74,528.68 262.91,528.34 261.68,528.00 259.33,527.66 255.06,527.32 252.77,526.98 253.84,526.64 254.95,526.30 255.63,525.96 255.90,525.62 256.21,525.28 257.82,524.94 253.83,524.60 249.83,524.26 251.09,523.92 252.15,523.58 250.19,523.24 243.20,522.90 241.32,522.56 241.83,522.22 242.39,521.88 242.72,521.54 242.82,521.21 242.64,520.87 242.04,520.53 240.51,520.19 237.01,519.85 236.08,519.51 240.82,519.17 243.10,518.83 247.80,518.49 242.60,518.15 243.55,517.81 245.30,517.47 255.35,517.13 258.01,516.79 258.86,516.45 259.32,516.11 258.92,515.77 257.08,515.43 254.25,515.09 251.06,514.75 247.57,514.41 245.98,514.07 253.46,513.73 254.66,513.39 253.57,513.05 252.64,512.71 251.97,512.37 251.49,512.03 251.14,511.69 250.88,511.35 250.65,511.01 250.42,510.67 250.09,510.33 249.36,509.99 246.10,509.65 250.63,509.31 252.16,508.97 251.89,508.63 251.65,508.29 251.39,507.95 251.06,507.61 250.59,507.27 249.89,506.93 248.84,506.59 247.21,506.25 244.67,505.91 241.28,505.57 240.16,505.23 238.98,504.89 251.76,504.55 253.12,504.22 252.63,503.88 251.98,503.54 251.61,503.20 253.14,502.86 247.67,502.52 249.63,502.18 250.91,501.84 243.32,501.50 239.12,501.16 237.84,500.82 237.62,500.48 237.42,500.14 237.25,499.80 237.10,499.46 236.97,499.12 236.87,498.78 236.79,498.44 236.74,498.10 236.70,497.76 236.67,497.42 236.66,497.08 236.66,496.74 236.66,496.40 236.65,496.06 236.60,495.72 236.49,495.38 236.22,495.04 235.63,494.70 234.32,494.36 231.78,494.02 233.21,493.68 239.30,493.34 241.01,493.00 241.35,492.66 241.37,492.32 241.25,491.98 241.00,491.64 240.64,491.30 240.17,490.96 239.61,490.62 238.98,490.28 238.33,489.94 237.67,489.60 237.03,489.26 236.42,488.92 235.86,488.58 235.35,488.24 234.85,487.90 239.94,487.56 234.35,487.23 233.99,486.89 233.72,486.55 233.48,486.21 233.29,485.87 233.11,485.53 232.97,485.19 232.84,484.85 232.74,484.51 232.64,484.17 232.57,483.83 232.50,483.49 232.45,483.15 232.41,482.81 232.39,482.47 232.37,482.13 232.36,481.79 232.37,481.45 232.39,481.11 232.42,480.77 232.47,480.43 232.55,480.09 232.65,479.75 232.78,479.41 232.97,479.07 233.22,478.73 233.57,478.39 234.07,478.05 234.78,477.71 235.84,477.37 237.37,477.03 239.40,476.69 241.32,476.35 241.58,476.01 239.69,475.67 237.23,475.33 235.31,474.99 234.05,474.65 233.25,474.31 232.73,473.97 232.39,473.63 232.16,473.29 232.00,472.95 231.90,472.61 231.83,472.27 231.79,471.93 231.78,471.59 231.79,471.25 231.83,470.91 231.91,470.57 232.04,470.24 232.27,469.90 232.67,469.56 233.44,469.22 235.05,468.88 238.53,468.54 241.74,468.20 237.77,467.86 234.25,467.52 232.74,467.18 232.07,466.84 231.73,466.50 231.54,466.16 231.43,465.82 231.35,465.48 231.30,465.14 231.26,464.80 231.24,464.46 231.22,464.12 231.20,463.78 231.19,463.44 231.18,463.10 231.17,462.76 231.16,462.42 231.16,462.08 231.15,461.74 231.15,461.40 231.15,461.06 231.14,460.72 231.14,460.38 231.14,460.04 231.14,459.70 231.13,459.36 231.13,459.02 231.13,458.68 231.13,458.34 231.13,458.00 231.13,457.66 231.13,457.32 231.12,456.98 231.12,456.64 231.12,456.30 231.12,455.96 231.12,455.62 231.12,455.28 231.12,454.94 231.12,454.60 231.12,454.26 231.12,453.92 231.12,453.58 231.11,453.25 231.11,452.91 231.11,452.57 231.11,452.23 231.11,451.89 231.11,451.55 231.11,451.21 231.11,450.87 231.11,450.53 231.11,450.19 231.11,449.85 231.10,449.51 231.10,449.17 231.10,448.83 231.10,448.49 231.10,448.15 231.10,447.81 231.10,447.47 231.10,447.13 231.10,446.79 231.10,446.45 231.10,446.11 231.10,445.77 231.10,445.43 231.10,445.09 231.10,444.75 231.10,444.41 231.10,444.07 231.10,443.73 231.10,443.39 231.10,443.05 231.10,442.71 231.10,442.37 231.10,442.03 231.10,441.69 231.10,441.35 231.10,441.01 231.10,440.67 231.10,440.33 231.10,439.99 231.11,439.65 231.11,439.31 231.11,438.97 231.11,438.63 231.11,438.29 231.11,437.95 231.11,437.61 231.11,437.27 231.11,436.93 231.11,436.59 231.11,436.25 231.12,435.92 231.12,435.58 231.12,435.24 231.12,434.90 231.12,434.56 231.12,434.22 231.12,433.88 231.12,433.54 231.12,433.20 231.12,432.86 231.12,432.52 231.13,432.18 231.13,431.84 231.13,431.50 231.13,431.16 231.13,430.82 231.13,430.48 231.13,430.14 231.14,429.80 231.14,429.46 231.14,429.12 231.14,428.78 231.15,428.44 231.15,428.10 231.15,427.76 231.16,427.42 231.16,427.08 231.17,426.74 231.18,426.40 231.19,426.06 231.20,425.72 231.22,425.38 231.24,425.04 231.26,424.70 231.30,424.36 231.35,424.02 231.43,423.68 231.54,423.34 231.73,423.00 232.07,422.66 232.74,422.32 234.25,421.98 237.77,421.64 241.74,421.30 238.53,420.96 235.05,420.62 233.44,420.28 232.67,419.94 232.27,419.60 232.04,419.27 231.91,418.93 231.83,418.59 231.79,418.25 231.78,417.91 231.79,417.57 231.83,417.23 231.90,416.89 232.00,416.55 232.16,416.21 232.39,415.87 232.73,415.53 233.25,415.19 234.05,414.85 235.31,414.51 237.23,414.17 239.69,413.83 241.58,413.49 241.32,413.15 239.40,412.81 237.37,412.47 235.84,412.13 234.78,411.79 234.07,411.45 233.57,411.11 233.22,410.77 232.97,410.43 232.78,410.09 232.65,409.75 232.55,409.41 232.47,409.07 232.42,408.73 232.39,408.39 232.37,408.05 232.36,407.71 232.37,407.37 232.39,407.03 232.41,406.69 232.45,406.35 232.50,406.01 232.57,405.67 232.64,405.33 232.74,404.99 232.84,404.65 232.97,404.31 233.11,403.97 233.29,403.63 233.48,403.29 233.72,402.95 233.99,402.61 234.35,402.28 239.94,401.94 234.85,401.60 235.35,401.26 235.86,400.92 236.42,400.58 237.03,400.24 237.67,399.90 238.33,399.56 238.98,399.22 239.61,398.88 240.17,398.54 240.64,398.20 241.00,397.86 241.25,397.52 241.37,397.18 241.35,396.84 241.01,396.50 239.30,396.16 233.21,395.82 231.78,395.48 234.32,395.14 235.63,394.80 236.22,394.46 236.49,394.12 236.60,393.78 236.65,393.44 236.66,393.10 236.66,392.76 236.66,392.42 236.67,392.08 236.70,391.74 236.74,391.40 236.79,391.06 236.87,390.72 236.97,390.38 237.10,390.04 237.25,389.70 237.42,389.36 237.62,389.02 237.84,388.68 239.12,388.34 243.32,388.00 250.91,387.66 249.63,387.32 247.67,386.98 253.14,386.64 251.61,386.30 251.98,385.96 252.63,385.62 253.12,385.29 251.76,384.95 238.98,384.61 240.16,384.27 241.28,383.93 244.67,383.59 247.21,383.25 248.84,382.91 249.89,382.57 250.59,382.23 251.06,381.89 251.39,381.55 251.65,381.21 251.89,380.87 252.16,380.53 250.63,380.19 246.10,379.85 249.36,379.51 250.09,379.17 250.42,378.83 250.65,378.49 250.88,378.15 251.14,377.81 251.49,377.47 251.97,377.13 252.64,376.79 253.57,376.45 254.66,376.11 253.46,375.77 245.98,375.43 247.57,375.09 251.06,374.75 254.25,374.41 257.08,374.07 258.92,373.73 259.32,373.39 258.86,373.05 258.01,372.71 255.35,372.37 245.30,372.03 243.55,371.69 242.60,371.35 247.80,371.01 243.10,370.67 240.82,370.33 236.08,369.99 237.01,369.65 240.51,369.31 242.04,368.97 242.64,368.63 242.82,368.30 242.72,367.96 242.39,367.62 241.83,367.28 241.32,366.94 243.20,366.60 250.19,366.26 252.15,365.92 251.09,365.58 249.83,365.24 253.83,364.90 257.82,364.56 256.21,364.22 255.90,363.88 255.63,363.54 254.95,363.20 253.84,362.86 252.77,362.52 255.06,362.18 259.33,361.84 261.68,361.50 262.91,361.16 263.74,360.82 264.36,360.48 264.31,360.14 258.87,359.80" fill="none" stroke="#1a1aff" stroke-width="0.9" stroke-linejoin="round"/>
</g>
<path d="M231.10 529.70h1.6M273.80 529.70h-1.6M231.10 512.71h1.6M273.80 512.71h-1.6M231.10 495.72h1.6M273.80 495.72h-1.6M231.10 478.73h1.6M273.80 478.73h-1.6M231.10 461.74h1.6M273.80 461.74h-1.6M231.10 444.75h1.6M273.80 444.75h-1.6M231.10 427.76h1.6M273.80 427.76h-1.6M231.10 410.77h1.6M273.80 410.77h-1.6M231.10 393.78h1.6M273.80 393.78h-1.6M231.10 376.79h1.6M273.80 376.79h-1.6M231.10 359.80h1.6M273.80 359.80h-1.6M231.10 529.70v-1.6M231.10 359.80v1.6M241.78 529.70v-1.6M241.78 359.80v1.6M252.45 529.70v-1.6M252.45 359.80v1.6M263.12 529.70v-1.6M263.12 359.80v1.6M273.80 529.70v-1.6M273.80 359.80v1.6" stroke="#a3a3a3" stroke-width="0.6" fill="none"/>
<rect x="231.10" y="359.80" width="42.70" height="169.90" stroke="#a3a3a3" stroke-width="0.7" fill="none"/>
<text x="229.50" y="531.90" text-anchor="end" style="font-family:'Liberation Serif',serif;font-size:6.3px" fill="#262626">-2.5</text>
<text x="229.50" y="514.91" text-anchor="end" style="font-family:'Liberation Serif',serif;font-size:6.3px" fill="#262626">-2</text>
<text x="229.50" y="497.92" text-anchor="end" style="font-family:'Liberation Serif',serif;font-size:6.3px" fill="#262626">-1.5</text>
<text x="229.50" y="480.93" text-anchor="end" style="font-family:'Liberation Serif',serif;font-size:6.3px" fill="#262626">-1</text>
<text x="229.50" y="463.94" text-anchor="end" style="font-family:'Liberation Serif',serif;font-size:6.3px" fill="#262626">-0.5</text>
<text x="229.50" y="446.95" text-anchor="end" style="font-family:'Liberation Serif',serif;font-size:6.3px" fill="#262626">0</text>
<text x="229.50" y="429.96" text-anchor="end" style="font-family:'Liberation Serif',serif;font-size:6.3px" fill="#262626">0.5</text>
<text x="229.50" y="412.97" text-anchor="end" style="font-family:'Liberation Serif',serif;font-size:6.3px" fill="#262626">1</text>
<text x="229.50" y="395.98" text-anchor="end" style="font-family:'Liberation Serif',serif;font-size:6.3px" fill="#262626">1.5</text>
<text x="229.50" y="378.99" text-anchor="end" style="font-family:'Liberation Serif',serif;font-size:6.3px" fill="#262626">2</text>
<text x="229.50" y="362.00" text-anchor="end" style="font-family:'Liberation Serif',serif;font-size:6.3px" fill="#262626">2.5</text>
<text x="231.10" y="538.30" text-anchor="middle" style="font-family:'Liberation Serif',serif;font-size:6.3px" fill="#262626">0</text>
<text x="252.45" y="538.30" text-anchor="middle" style="font-family:'Liberation Serif',serif;font-size:6.3px" fill="#262626">2</text>
<text x="273.80" y="538.30" text-anchor="middle" style="font-family:'Liberation Serif',serif;font-size:6.3px" fill="#262626">4</text>
<text x="252.45" y="546.10" text-anchor="middle" style="font-family:'Liberation Serif',serif;font-size:6.8px" fill="#262626">Trasmission</text>
<text transform="translate(216.30,444.75) rotate(-90)" text-anchor="middle" style="font-family:'Liberation Serif',serif;font-size:7.3px" fill="#262626">Energy (eV)</text>
<path d="M82.15 567.29L85.63 561.30M82.15 435.63L85.63 441.62M179.45 567.29L175.97 561.30M179.45 435.63L175.97 441.62M92.58 573.27L96.05 567.29M92.58 429.65L96.05 435.63M169.02 573.27L165.55 567.29M169.02 429.65L165.55 435.63" stroke="#bdb8ad" stroke-width="1.5" fill="none"/>
<path d="M76.04 566.18L87.64 566.18M83.04 571.68L80.64 560.68" stroke="#1b3068" stroke-width="2.7" fill="none"/>
<path d="M76.04 566.18L87.64 566.18M83.04 571.68L80.64 560.68" stroke="#aab5cc" stroke-width="0.7" fill="none"/>
<path d="M76.04 436.92L87.64 436.92M80.64 442.42L83.04 431.42" stroke="#1b3068" stroke-width="2.7" fill="none"/>
<path d="M76.04 436.92L87.64 436.92M80.64 442.42L83.04 431.42" stroke="#aab5cc" stroke-width="0.7" fill="none"/>
<path d="M173.96 566.18L185.56 566.18M178.56 571.68L180.96 560.68" stroke="#1b3068" stroke-width="2.7" fill="none"/>
<path d="M173.96 566.18L185.56 566.18M178.56 571.68L180.96 560.68" stroke="#aab5cc" stroke-width="0.7" fill="none"/>
<path d="M173.96 436.92L185.56 436.92M180.96 442.42L178.56 431.42" stroke="#1b3068" stroke-width="2.7" fill="none"/>
<path d="M173.96 436.92L185.56 436.92M180.96 442.42L178.56 431.42" stroke="#aab5cc" stroke-width="0.7" fill="none"/>
<path d="M86.39 572.15L97.99 572.15M93.39 577.65L90.99 566.65" stroke="#1b3068" stroke-width="2.7" fill="none"/>
<path d="M86.39 572.15L97.99 572.15M93.39 577.65L90.99 566.65" stroke="#aab5cc" stroke-width="0.7" fill="none"/>
<path d="M86.39 430.95L97.99 430.95M90.99 436.45L93.39 425.45" stroke="#1b3068" stroke-width="2.7" fill="none"/>
<path d="M86.39 430.95L97.99 430.95M90.99 436.45L93.39 425.45" stroke="#aab5cc" stroke-width="0.7" fill="none"/>
<path d="M163.61 572.15L175.21 572.15M168.21 577.65L170.61 566.65" stroke="#1b3068" stroke-width="2.7" fill="none"/>
<path d="M163.61 572.15L175.21 572.15M168.21 577.65L170.61 566.65" stroke="#aab5cc" stroke-width="0.7" fill="none"/>
<path d="M163.61 430.95L175.21 430.95M170.61 436.45L168.21 425.45" stroke="#1b3068" stroke-width="2.7" fill="none"/>
<path d="M163.61 430.95L175.21 430.95M170.61 436.45L168.21 425.45" stroke="#aab5cc" stroke-width="0.7" fill="none"/>
<linearGradient id="gradc" x1="0" y1="0" x2="0" y2="1"><stop offset="0.0000" stop-color="#f9fb0e"/><stop offset="0.0159" stop-color="#f6f313"/><stop offset="0.0317" stop-color="#f5eb18"/><stop offset="0.0476" stop-color="#f5e41d"/><stop offset="0.0635" stop-color="#f5de21"/><stop offset="0.0794" stop-color="#f7d826"/><stop offset="0.0952" stop-color="#fad32a"/><stop offset="0.1111" stop-color="#fcce2e"/><stop offset="0.1270" stop-color="#fec832"/><stop offset="0.1429" stop-color="#ffc337"/><stop offset="0.1587" stop-color="#fdbe3d"/><stop offset="0.1746" stop-color="#f8bb44"/><stop offset="0.1905" stop-color="#f1b94a"/><stop offset="0.2063" stop-color="#e9b94e"/><stop offset="0.2222" stop-color="#e1b952"/><stop offset="0.2381" stop-color="#d9ba56"/><stop offset="0.2540" stop-color="#d1bb59"/><stop offset="0.2698" stop-color="#c8bc5d"/><stop offset="0.2857" stop-color="#c0bc60"/><stop offset="0.3016" stop-color="#b7bd64"/><stop offset="0.3175" stop-color="#aebe67"/><stop offset="0.3333" stop-color="#a5be6b"/><stop offset="0.3492" stop-color="#9cbf6f"/><stop offset="0.3651" stop-color="#92bf73"/><stop offset="0.3810" stop-color="#87bf77"/><stop offset="0.3968" stop-color="#7cbf7b"/><stop offset="0.4127" stop-color="#71bf80"/><stop offset="0.4286" stop-color="#65be86"/><stop offset="0.4444" stop-color="#59bd8c"/><stop offset="0.4603" stop-color="#4dbc92"/><stop offset="0.4762" stop-color="#42bb98"/><stop offset="0.4921" stop-color="#38b99e"/><stop offset="0.5079" stop-color="#2eb7a4"/><stop offset="0.5238" stop-color="#25b5a9"/><stop offset="0.5397" stop-color="#1db3af"/><stop offset="0.5556" stop-color="#15b1b4"/><stop offset="0.5714" stop-color="#0faeb9"/><stop offset="0.5873" stop-color="#0aacbe"/><stop offset="0.6032" stop-color="#07a9c2"/><stop offset="0.6190" stop-color="#06a7c6"/><stop offset="0.6349" stop-color="#06a4ca"/><stop offset="0.6508" stop-color="#06a0cd"/><stop offset="0.6667" stop-color="#079ccf"/><stop offset="0.6825" stop-color="#0998d1"/><stop offset="0.6984" stop-color="#0c93d2"/><stop offset="0.7143" stop-color="#108ed2"/><stop offset="0.7302" stop-color="#1389d3"/><stop offset="0.7460" stop-color="#1485d4"/><stop offset="0.7619" stop-color="#1481d6"/><stop offset="0.7778" stop-color="#127dd8"/><stop offset="0.7937" stop-color="#1079da"/><stop offset="0.8095" stop-color="#0d75dc"/><stop offset="0.8254" stop-color="#0871de"/><stop offset="0.8413" stop-color="#046de0"/><stop offset="0.8571" stop-color="#0268e1"/><stop offset="0.8730" stop-color="#0363e1"/><stop offset="0.8889" stop-color="#0f5cdd"/><stop offset="0.9048" stop-color="#2053d4"/><stop offset="0.9206" stop-color="#2c4ac7"/><stop offset="0.9365" stop-color="#3243ba"/><stop offset="0.9524" stop-color="#353dad"/><stop offset="0.9683" stop-color="#3637a0"/><stop offset="0.9841" stop-color="#363093"/><stop offset="1.0000" stop-color="#352a87"/></linearGradient>
<rect x="278.60" y="356.10" width="14.30" height="291.30" fill="url(#gradc)" stroke="#a3a3a3" stroke-width="0.6"/>
<text x="296.10" y="359.80" style="font-family:'Liberation Serif',serif;font-size:10.6px" fill="#262626">7e-01</text>
<text x="296.10" y="651.10" style="font-family:'Liberation Serif',serif;font-size:10.6px" fill="#262626">7e-06</text>
<text transform="translate(307.50,501.75) rotate(-90)" text-anchor="middle" style="font-family:'Liberation Serif',serif;font-size:10.9px" fill="#262626">LDOS (arb. unit)</text>
<text x="167.40" y="636.10" style="font-family:'Liberation Serif',serif;font-size:8.9px" fill="#000">net current<tspan dy="3.5" style="font-size:6.6px">max</tspan><tspan dy="-3.5">=1e-05 (4e/h)</tspan></text>
<path d="M398.40 647.20v-3.0M398.40 355.60v3.0M446.98 647.20v-3.0M446.98 355.60v3.0M495.56 647.20v-3.0M495.56 355.60v3.0M544.14 647.20v-3.0M544.14 355.60v3.0M592.72 647.20v-3.0M592.72 355.60v3.0M641.30 647.20v-3.0M641.30 355.60v3.0M398.40 647.20h3.0M641.30 647.20h-3.0M398.40 598.60h3.0M641.30 598.60h-3.0M398.40 550.00h3.0M641.30 550.00h-3.0M398.40 501.40h3.0M641.30 501.40h-3.0M398.40 452.80h3.0M641.30 452.80h-3.0M398.40 404.20h3.0M641.30 404.20h-3.0M398.40 355.60h3.0M641.30 355.60h-3.0" stroke="#a3a3a3" stroke-width="0.9" fill="none"/>
<rect x="398.40" y="355.60" width="242.90" height="291.60" stroke="#a3a3a3" stroke-width="0.9" fill="none"/>
<text x="398.40" y="661.40" text-anchor="middle" style="font-family:'Liberation Serif',serif;font-size:10.2px" fill="#262626">-20</text>
<text x="446.98" y="661.40" text-anchor="middle" style="font-family:'Liberation Serif',serif;font-size:10.2px" fill="#262626">-10</text>
<text x="495.56" y="661.40" text-anchor="middle" style="font-family:'Liberation Serif',serif;font-size:10.2px" fill="#262626">0</text>
<text x="544.14" y="661.40" text-anchor="middle" style="font-family:'Liberation Serif',serif;font-size:10.2px" fill="#262626">10</text>
<text x="592.72" y="661.40" text-anchor="middle" style="font-family:'Liberation Serif',serif;font-size:10.2px" fill="#262626">20</text>
<text x="641.30" y="661.40" text-anchor="middle" style="font-family:'Liberation Serif',serif;font-size:10.2px" fill="#262626">30</text>
<text x="394.10" y="651.20" text-anchor="end" style="font-family:'Liberation Serif',serif;font-size:10.2px" fill="#262626">-30</text>
<text x="394.10" y="602.60" text-anchor="end" style="font-family:'Liberation Serif',serif;font-size:10.2px" fill="#262626">-20</text>
<text x="394.10" y="554.00" text-anchor="end" style="font-family:'Liberation Serif',serif;font-size:10.2px" fill="#262626">-10</text>
<text x="394.10" y="505.40" text-anchor="end" style="font-family:'Liberation Serif',serif;font-size:10.2px" fill="#262626">0</text>
<text x="394.10" y="456.80" text-anchor="end" style="font-family:'Liberation Serif',serif;font-size:10.2px" fill="#262626">10</text>
<text x="394.10" y="408.20" text-anchor="end" style="font-family:'Liberation Serif',serif;font-size:10.2px" fill="#262626">20</text>
<text x="394.10" y="359.60" text-anchor="end" style="font-family:'Liberation Serif',serif;font-size:10.2px" fill="#262626">30</text>
<text x="519.85" y="675.50" text-anchor="middle" style="font-family:'Liberation Serif',serif;font-size:11.5px" fill="#262626">X (&#197;)</text>
<text transform="translate(374.30,501.40) rotate(-90)" text-anchor="middle" style="font-family:'Liberation Serif',serif;font-size:11.5px" fill="#262626">Y (&#197;)</text>
<text x="396.60" y="347.10" style="font-family:'Liberation Serif',serif;font-size:17px" fill="#000">(d)</text>
<clipPath id="clipd"><rect x="398.40" y="354.80" width="242.90" height="293.20"/></clipPath>
<g clip-path="url(#clipd)">
<path d="M415.7 513.1L419.1 519.1M415.7 513.1L419.1 507.1M415.7 501.1L419.1 507.1M415.7 501.1L419.1 495.1M415.7 489.1L419.1 495.1M415.7 489.1L419.1 483.1M419.1 519.1L426.1 519.1M419.1 507.1L426.1 507.1M419.1 495.1L426.1 495.1M419.1 483.1L426.1 483.1M426.1 543.1L429.6 549.1M426.1 543.1L429.6 537.1M426.1 531.1L429.6 537.1M426.1 531.1L429.6 525.1M426.1 519.1L429.6 525.1M426.1 519.1L429.6 513.1M426.1 507.1L429.6 513.1M426.1 507.1L429.6 501.1M426.1 495.1L429.6 501.1M426.1 495.1L429.6 489.1M426.1 483.1L429.6 489.1M426.1 483.1L429.6 477.1M426.1 471.1L429.6 477.1M426.1 471.1L429.6 465.1M426.1 459.1L429.6 465.1M426.1 459.1L429.6 453.2M429.6 549.1L436.5 549.1M429.6 537.1L436.5 537.1M429.6 525.1L436.5 525.1M429.6 513.1L436.5 513.1M429.6 501.1L436.5 501.1M429.6 489.1L436.5 489.1M429.6 477.1L436.5 477.1M429.6 465.1L436.5 465.1M429.6 453.2L436.5 453.2M436.5 549.1L440.0 555.1M436.5 549.1L440.0 543.1M436.5 537.1L440.0 543.1M436.5 537.1L440.0 531.1M436.5 525.1L440.0 531.1M436.5 525.1L440.0 519.1M436.5 513.1L440.0 519.1M436.5 513.1L440.0 507.1M436.5 501.1L440.0 507.1M436.5 501.1L440.0 495.1M436.5 489.1L440.0 495.1M436.5 489.1L440.0 483.1M436.5 477.1L440.0 483.1M436.5 477.1L440.0 471.1M436.5 465.1L440.0 471.1M436.5 465.1L440.0 459.1M436.5 453.2L440.0 459.1M436.5 453.2L440.0 447.2M440.0 555.1L446.9 555.1M440.0 543.1L446.9 543.1M440.0 531.1L446.9 531.1M440.0 519.1L446.9 519.1M440.0 507.1L446.9 507.1M440.0 495.1L446.9 495.1M440.0 483.1L446.9 483.1M440.0 471.1L446.9 471.1M440.0 459.1L446.9 459.1M440.0 447.2L446.9 447.2M446.9 555.1L450.4 561.1M446.9 555.1L450.4 549.1M446.9 543.1L450.4 549.1M446.9 543.1L450.4 537.1M446.9 531.1L450.4 537.1M446.9 531.1L450.4 525.1M446.9 519.1L450.4 525.1M446.9 519.1L450.4 513.1M446.9 507.1L450.4 513.1M446.9 507.1L450.4 501.1M446.9 495.1L450.4 501.1M446.9 495.1L450.4 489.1M446.9 483.1L450.4 489.1M446.9 483.1L450.4 477.1M446.9 471.1L450.4 477.1M446.9 471.1L450.4 465.1M446.9 459.1L450.4 465.1M446.9 459.1L450.4 453.2M446.9 447.2L450.4 453.2M446.9 447.2L450.4 441.2M450.4 561.1L457.4 561.1M450.4 549.1L457.4 549.1M450.4 537.1L457.4 537.1M450.4 525.1L457.4 525.1M450.4 513.1L457.4 513.1M450.4 501.1L457.4 501.1M450.4 489.1L457.4 489.1M450.4 477.1L457.4 477.1M450.4 465.1L457.4 465.1M450.4 453.2L457.4 453.2M450.4 441.2L457.4 441.2M457.4 561.1L460.8 567.0M457.4 561.1L460.8 555.1M457.4 549.1L460.8 555.1M457.4 549.1L460.8 543.1M457.4 537.1L460.8 543.1M457.4 537.1L460.8 531.1M457.4 525.1L460.8 531.1M457.4 525.1L460.8 519.1M457.4 513.1L460.8 519.1M457.4 513.1L460.8 507.1M457.4 501.1L460.8 507.1M457.4 501.1L460.8 495.1M457.4 489.1L460.8 495.1M457.4 489.1L460.8 483.1M457.4 477.1L460.8 483.1M457.4 477.1L460.8 471.1M457.4 465.1L460.8 471.1M457.4 465.1L460.8 459.1M457.4 453.2L460.8 459.1M457.4 453.2L460.8 447.2M457.4 441.2L460.8 447.2M457.4 441.2L460.8 435.2M460.8 567.0L467.8 567.0M460.8 555.1L467.8 555.1M460.8 543.1L467.8 543.1M460.8 531.1L467.8 531.1M460.8 519.1L467.8 519.1M460.8 507.1L467.8 507.1M460.8 495.1L467.8 495.1M460.8 483.1L467.8 483.1M460.8 471.1L467.8 471.1M460.8 459.1L467.8 459.1M460.8 447.2L467.8 447.2M460.8 435.2L467.8 435.2M467.8 651.0L471.2 657.0M467.8 651.0L471.2 645.0M467.8 639.0L471.2 645.0M467.8 639.0L471.2 633.0M467.8 627.0L471.2 633.0M467.8 627.0L471.2 621.0M467.8 615.0L471.2 621.0M467.8 615.0L471.2 609.0M467.8 603.0L471.2 609.0M467.8 603.0L471.2 597.0M467.8 591.0L471.2 597.0M467.8 591.0L471.2 585.0M467.8 579.0L471.2 585.0M467.8 579.0L471.2 573.0M467.8 567.0L471.2 573.0M467.8 567.0L471.2 561.1M467.8 555.1L471.2 561.1M467.8 555.1L471.2 549.1M467.8 543.1L471.2 549.1M467.8 543.1L471.2 537.1M467.8 531.1L471.2 537.1M467.8 531.1L471.2 525.1M467.8 519.1L471.2 525.1M467.8 519.1L471.2 513.1M467.8 507.1L471.2 513.1M467.8 507.1L471.2 501.1M467.8 495.1L471.2 501.1M467.8 495.1L471.2 489.1M467.8 483.1L471.2 489.1M467.8 483.1L471.2 477.1M467.8 471.1L471.2 477.1M467.8 471.1L471.2 465.1M467.8 459.1L471.2 465.1M467.8 459.1L471.2 453.2M467.8 447.2L471.2 453.2M467.8 447.2L471.2 441.2M467.8 435.2L471.2 441.2M467.8 435.2L471.2 429.2M467.8 423.2L471.2 429.2M467.8 423.2L471.2 417.2M467.8 411.2L471.2 417.2M467.8 411.2L471.2 405.2M467.8 399.2L471.2 405.2M467.8 399.2L471.2 393.2M467.8 387.2L471.2 393.2M467.8 387.2L471.2 381.2M467.8 375.2L471.2 381.2M467.8 375.2L471.2 369.2M467.8 363.2L471.2 369.2M467.8 363.2L471.2 357.2M467.8 351.2L471.2 357.2M467.8 351.2L471.2 345.3M471.2 645.0L478.2 645.0M471.2 633.0L478.2 633.0M471.2 621.0L478.2 621.0M471.2 609.0L478.2 609.0M471.2 597.0L478.2 597.0M471.2 585.0L478.2 585.0M471.2 573.0L478.2 573.0M471.2 561.1L478.2 561.1M471.2 549.1L478.2 549.1M471.2 537.1L478.2 537.1M471.2 525.1L478.2 525.1M471.2 513.1L478.2 513.1M471.2 501.1L478.2 501.1M471.2 489.1L478.2 489.1M471.2 477.1L478.2 477.1M471.2 465.1L478.2 465.1M471.2 453.2L478.2 453.2M471.2 441.2L478.2 441.2M471.2 429.2L478.2 429.2M471.2 417.2L478.2 417.2M471.2 405.2L478.2 405.2M471.2 393.2L478.2 393.2M471.2 381.2L478.2 381.2M471.2 369.2L478.2 369.2M471.2 357.2L478.2 357.2M478.2 657.0L481.7 651.0M478.2 645.0L481.7 651.0M478.2 645.0L481.7 639.0M478.2 633.0L481.7 639.0M478.2 633.0L481.7 627.0M478.2 621.0L481.7 627.0M478.2 621.0L481.7 615.0M478.2 609.0L481.7 615.0M478.2 609.0L481.7 603.0M478.2 597.0L481.7 603.0M478.2 597.0L481.7 591.0M478.2 585.0L481.7 591.0M478.2 585.0L481.7 579.0M478.2 573.0L481.7 579.0M478.2 573.0L481.7 567.0M478.2 561.1L481.7 567.0M478.2 561.1L481.7 555.1M478.2 549.1L481.7 555.1M478.2 549.1L481.7 543.1M478.2 537.1L481.7 543.1M478.2 537.1L481.7 531.1M478.2 525.1L481.7 531.1M478.2 525.1L481.7 519.1M478.2 513.1L481.7 519.1M478.2 513.1L481.7 507.1M478.2 501.1L481.7 507.1M478.2 501.1L481.7 495.1M478.2 489.1L481.7 495.1M478.2 489.1L481.7 483.1M478.2 477.1L481.7 483.1M478.2 477.1L481.7 471.1M478.2 465.1L481.7 471.1M478.2 465.1L481.7 459.1M478.2 453.2L481.7 459.1M478.2 453.2L481.7 447.2M478.2 441.2L481.7 447.2M478.2 441.2L481.7 435.2M478.2 429.2L481.7 435.2M478.2 429.2L481.7 423.2M478.2 417.2L481.7 423.2M478.2 417.2L481.7 411.2M478.2 405.2L481.7 411.2M478.2 405.2L481.7 399.2M478.2 393.2L481.7 399.2M478.2 393.2L481.7 387.2M478.2 381.2L481.7 387.2M478.2 381.2L481.7 375.2M478.2 369.2L481.7 375.2M478.2 369.2L481.7 363.2M478.2 357.2L481.7 363.2M478.2 357.2L481.7 351.2M478.2 345.3L481.7 351.2M481.7 651.0L488.6 651.0M481.7 639.0L488.6 639.0M481.7 627.0L488.6 627.0M481.7 615.0L488.6 615.0M481.7 603.0L488.6 603.0M481.7 591.0L488.6 591.0M481.7 579.0L488.6 579.0M481.7 567.0L488.6 567.0M481.7 555.1L488.6 555.1M481.7 543.1L488.6 543.1M481.7 531.1L488.6 531.1M481.7 519.1L488.6 519.1M481.7 507.1L488.6 507.1M481.7 495.1L488.6 495.1M481.7 483.1L488.6 483.1M481.7 471.1L488.6 471.1M481.7 459.1L488.6 459.1M481.7 447.2L488.6 447.2M481.7 435.2L488.6 435.2M481.7 423.2L488.6 423.2M481.7 411.2L488.6 411.2M481.7 399.2L488.6 399.2M481.7 387.2L488.6 387.2M481.7 375.2L488.6 375.2M481.7 363.2L488.6 363.2M481.7 351.2L488.6 351.2M488.6 651.0L492.1 657.0M488.6 651.0L492.1 645.0M488.6 639.0L492.1 645.0M488.6 639.0L492.1 633.0M488.6 627.0L492.1 633.0M488.6 627.0L492.1 621.0M488.6 615.0L492.1 621.0M488.6 615.0L492.1 609.0M488.6 603.0L492.1 609.0M488.6 603.0L492.1 597.0M488.6 591.0L492.1 597.0M488.6 591.0L492.1 585.0M488.6 579.0L492.1 585.0M488.6 579.0L492.1 573.0M488.6 567.0L492.1 573.0M488.6 567.0L492.1 561.1M488.6 555.1L492.1 561.1M488.6 555.1L492.1 549.1M488.6 543.1L492.1 549.1M488.6 543.1L492.1 537.1M488.6 531.1L492.1 537.1M488.6 531.1L492.1 525.1M488.6 519.1L492.1 525.1M488.6 519.1L492.1 513.1M488.6 507.1L492.1 513.1M488.6 507.1L492.1 501.1M488.6 495.1L492.1 501.1M488.6 495.1L492.1 489.1M488.6 483.1L492.1 489.1M488.6 483.1L492.1 477.1M488.6 471.1L492.1 477.1M488.6 471.1L492.1 465.1M488.6 459.1L492.1 465.1M488.6 459.1L492.1 453.2M488.6 447.2L492.1 453.2M488.6 447.2L492.1 441.2M488.6 435.2L492.1 441.2M488.6 435.2L492.1 429.2M488.6 423.2L492.1 429.2M488.6 423.2L492.1 417.2M488.6 411.2L492.1 417.2M488.6 411.2L492.1 405.2M488.6 399.2L492.1 405.2M488.6 399.2L492.1 393.2M488.6 387.2L492.1 393.2M488.6 387.2L492.1 381.2M488.6 375.2L492.1 381.2M488.6 375.2L492.1 369.2M488.6 363.2L492.1 369.2M488.6 363.2L492.1 357.2M488.6 351.2L492.1 357.2M488.6 351.2L492.1 345.3M492.1 645.0L499.0 645.0M492.1 633.0L499.0 633.0M492.1 621.0L499.0 621.0M492.1 609.0L499.0 609.0M492.1 597.0L499.0 597.0M492.1 585.0L499.0 585.0M492.1 573.0L499.0 573.0M492.1 561.1L499.0 561.1M492.1 549.1L499.0 549.1M492.1 537.1L499.0 537.1M492.1 525.1L499.0 525.1M492.1 513.1L499.0 513.1M492.1 501.1L499.0 501.1M492.1 489.1L499.0 489.1M492.1 477.1L499.0 477.1M492.1 465.1L499.0 465.1M492.1 453.2L499.0 453.2M492.1 441.2L499.0 441.2M492.1 429.2L499.0 429.2M492.1 417.2L499.0 417.2M492.1 405.2L499.0 405.2M492.1 393.2L499.0 393.2M492.1 381.2L499.0 381.2M492.1 369.2L499.0 369.2M492.1 357.2L499.0 357.2M499.0 657.0L502.5 651.0M499.0 645.0L502.5 651.0M499.0 645.0L502.5 639.0M499.0 633.0L502.5 639.0M499.0 633.0L502.5 627.0M499.0 621.0L502.5 627.0M499.0 621.0L502.5 615.0M499.0 609.0L502.5 615.0M499.0 609.0L502.5 603.0M499.0 597.0L502.5 603.0M499.0 597.0L502.5 591.0M499.0 585.0L502.5 591.0M499.0 585.0L502.5 579.0M499.0 573.0L502.5 579.0M499.0 573.0L502.5 567.0M499.0 561.1L502.5 567.0M499.0 561.1L502.5 555.1M499.0 549.1L502.5 555.1M499.0 549.1L502.5 543.1M499.0 537.1L502.5 543.1M499.0 537.1L502.5 531.1M499.0 525.1L502.5 531.1M499.0 525.1L502.5 519.1M499.0 513.1L502.5 519.1M499.0 513.1L502.5 507.1M499.0 501.1L502.5 507.1M499.0 501.1L502.5 495.1M499.0 489.1L502.5 495.1M499.0 489.1L502.5 483.1M499.0 477.1L502.5 483.1M499.0 477.1L502.5 471.1M499.0 465.1L502.5 471.1M499.0 465.1L502.5 459.1M499.0 453.2L502.5 459.1M499.0 453.2L502.5 447.2M499.0 441.2L502.5 447.2M499.0 441.2L502.5 435.2M499.0 429.2L502.5 435.2M499.0 429.2L502.5 423.2M499.0 417.2L502.5 423.2M499.0 417.2L502.5 411.2M499.0 405.2L502.5 411.2M499.0 405.2L502.5 399.2M499.0 393.2L502.5 399.2M499.0 393.2L502.5 387.2M499.0 381.2L502.5 387.2M499.0 381.2L502.5 375.2M499.0 369.2L502.5 375.2M499.0 369.2L502.5 363.2M499.0 357.2L502.5 363.2M499.0 357.2L502.5 351.2M499.0 345.3L502.5 351.2M502.5 651.0L509.5 651.0M502.5 639.0L509.5 639.0M502.5 627.0L509.5 627.0M502.5 615.0L509.5 615.0M502.5 603.0L509.5 603.0M502.5 591.0L509.5 591.0M502.5 579.0L509.5 579.0M502.5 567.0L509.5 567.0M502.5 555.1L509.5 555.1M502.5 543.1L509.5 543.1M502.5 531.1L509.5 531.1M502.5 519.1L509.5 519.1M502.5 507.1L509.5 507.1M502.5 495.1L509.5 495.1M502.5 483.1L509.5 483.1M502.5 471.1L509.5 471.1M502.5 459.1L509.5 459.1M502.5 447.2L509.5 447.2M502.5 435.2L509.5 435.2M502.5 423.2L509.5 423.2M502.5 411.2L509.5 411.2M502.5 399.2L509.5 399.2M502.5 387.2L509.5 387.2M502.5 375.2L509.5 375.2M502.5 363.2L509.5 363.2M502.5 351.2L509.5 351.2M509.5 651.0L512.9 657.0M509.5 651.0L512.9 645.0M509.5 639.0L512.9 645.0M509.5 639.0L512.9 633.0M509.5 627.0L512.9 633.0M509.5 627.0L512.9 621.0M509.5 615.0L512.9 621.0M509.5 615.0L512.9 609.0M509.5 603.0L512.9 609.0M509.5 603.0L512.9 597.0M509.5 591.0L512.9 597.0M509.5 591.0L512.9 585.0M509.5 579.0L512.9 585.0M509.5 579.0L512.9 573.0M509.5 567.0L512.9 573.0M509.5 567.0L512.9 561.1M509.5 555.1L512.9 561.1M509.5 555.1L512.9 549.1M509.5 543.1L512.9 549.1M509.5 543.1L512.9 537.1M509.5 531.1L512.9 537.1M509.5 531.1L512.9 525.1M509.5 519.1L512.9 525.1M509.5 519.1L512.9 513.1M509.5 507.1L512.9 513.1M509.5 507.1L512.9 501.1M509.5 495.1L512.9 501.1M509.5 495.1L512.9 489.1M509.5 483.1L512.9 489.1M509.5 483.1L512.9 477.1M509.5 471.1L512.9 477.1M509.5 471.1L512.9 465.1M509.5 459.1L512.9 465.1M509.5 459.1L512.9 453.2M509.5 447.2L512.9 453.2M509.5 447.2L512.9 441.2M509.5 435.2L512.9 441.2M509.5 435.2L512.9 429.2M509.5 423.2L512.9 429.2M509.5 423.2L512.9 417.2M509.5 411.2L512.9 417.2M509.5 411.2L512.9 405.2M509.5 399.2L512.9 405.2M509.5 399.2L512.9 393.2M509.5 387.2L512.9 393.2M509.5 387.2L512.9 381.2M509.5 375.2L512.9 381.2M509.5 375.2L512.9 369.2M509.5 363.2L512.9 369.2M509.5 363.2L512.9 357.2M509.5 351.2L512.9 357.2M509.5 351.2L512.9 345.3M512.9 645.0L519.9 645.0M512.9 633.0L519.9 633.0M512.9 621.0L519.9 621.0M512.9 609.0L519.9 609.0M512.9 597.0L519.9 597.0M512.9 585.0L519.9 585.0M512.9 573.0L519.9 573.0M512.9 561.1L519.9 561.1M512.9 549.1L519.9 549.1M512.9 537.1L519.9 537.1M512.9 525.1L519.9 525.1M512.9 513.1L519.9 513.1M512.9 501.1L519.9 501.1M512.9 489.1L519.9 489.1M512.9 477.1L519.9 477.1M512.9 465.1L519.9 465.1M512.9 453.2L519.9 453.2M512.9 441.2L519.9 441.2M512.9 429.2L519.9 429.2M512.9 417.2L519.9 417.2M512.9 405.2L519.9 405.2M512.9 393.2L519.9 393.2M512.9 381.2L519.9 381.2M512.9 369.2L519.9 369.2M512.9 357.2L519.9 357.2M519.9 657.0L523.3 651.0M519.9 645.0L523.3 651.0M519.9 645.0L523.3 639.0M519.9 633.0L523.3 639.0M519.9 633.0L523.3 627.0M519.9 621.0L523.3 627.0M519.9 621.0L523.3 615.0M519.9 609.0L523.3 615.0M519.9 609.0L523.3 603.0M519.9 597.0L523.3 603.0M519.9 597.0L523.3 591.0M519.9 585.0L523.3 591.0M519.9 585.0L523.3 579.0M519.9 573.0L523.3 579.0M519.9 573.0L523.3 567.0M519.9 561.1L523.3 567.0M519.9 561.1L523.3 555.1M519.9 549.1L523.3 555.1M519.9 549.1L523.3 543.1M519.9 537.1L523.3 543.1M519.9 537.1L523.3 531.1M519.9 525.1L523.3 531.1M519.9 525.1L523.3 519.1M519.9 513.1L523.3 519.1M519.9 513.1L523.3 507.1M519.9 501.1L523.3 507.1M519.9 501.1L523.3 495.1M519.9 489.1L523.3 495.1M519.9 489.1L523.3 483.1M519.9 477.1L523.3 483.1M519.9 477.1L523.3 471.1M519.9 465.1L523.3 471.1M519.9 465.1L523.3 459.1M519.9 453.2L523.3 459.1M519.9 453.2L523.3 447.2M519.9 441.2L523.3 447.2M519.9 441.2L523.3 435.2M519.9 429.2L523.3 435.2M519.9 429.2L523.3 423.2M519.9 417.2L523.3 423.2M519.9 417.2L523.3 411.2M519.9 405.2L523.3 411.2M519.9 405.2L523.3 399.2M519.9 393.2L523.3 399.2M519.9 393.2L523.3 387.2M519.9 381.2L523.3 387.2M519.9 381.2L523.3 375.2M519.9 369.2L523.3 375.2M519.9 369.2L523.3 363.2M519.9 357.2L523.3 363.2M519.9 357.2L523.3 351.2M519.9 345.3L523.3 351.2M523.3 567.0L530.3 567.0M523.3 555.1L530.3 555.1M523.3 543.1L530.3 543.1M523.3 531.1L530.3 531.1M523.3 519.1L530.3 519.1M523.3 507.1L530.3 507.1M523.3 495.1L530.3 495.1M523.3 483.1L530.3 483.1M523.3 471.1L530.3 471.1M523.3 459.1L530.3 459.1M523.3 447.2L530.3 447.2M523.3 435.2L530.3 435.2M530.3 567.0L533.8 561.1M530.3 555.1L533.8 561.1M530.3 555.1L533.8 549.1M530.3 543.1L533.8 549.1M530.3 543.1L533.8 537.1M530.3 531.1L533.8 537.1M530.3 531.1L533.8 525.1M530.3 519.1L533.8 525.1M530.3 519.1L533.8 513.1M530.3 507.1L533.8 513.1M530.3 507.1L533.8 501.1M530.3 495.1L533.8 501.1M530.3 495.1L533.8 489.1M530.3 483.1L533.8 489.1M530.3 483.1L533.8 477.1M530.3 471.1L533.8 477.1M530.3 471.1L533.8 465.1M530.3 459.1L533.8 465.1M530.3 459.1L533.8 453.2M530.3 447.2L533.8 453.2M530.3 447.2L533.8 441.2M530.3 435.2L533.8 441.2M533.8 561.1L540.7 561.1M533.8 549.1L540.7 549.1M533.8 537.1L540.7 537.1M533.8 525.1L540.7 525.1M533.8 513.1L540.7 513.1M533.8 501.1L540.7 501.1M533.8 489.1L540.7 489.1M533.8 477.1L540.7 477.1M533.8 465.1L540.7 465.1M533.8 453.2L540.7 453.2M533.8 441.2L540.7 441.2M540.7 561.1L544.2 555.1M540.7 549.1L544.2 555.1M540.7 549.1L544.2 543.1M540.7 537.1L544.2 543.1M540.7 537.1L544.2 531.1M540.7 525.1L544.2 531.1M540.7 525.1L544.2 519.1M540.7 513.1L544.2 519.1M540.7 513.1L544.2 507.1M540.7 501.1L544.2 507.1M540.7 501.1L544.2 495.1M540.7 489.1L544.2 495.1M540.7 489.1L544.2 483.1M540.7 477.1L544.2 483.1M540.7 477.1L544.2 471.1M540.7 465.1L544.2 471.1M540.7 465.1L544.2 459.1M540.7 453.2L544.2 459.1M540.7 453.2L544.2 447.2M540.7 441.2L544.2 447.2M544.2 555.1L551.1 555.1M544.2 543.1L551.1 543.1M544.2 531.1L551.1 531.1M544.2 519.1L551.1 519.1M544.2 507.1L551.1 507.1M544.2 495.1L551.1 495.1M544.2 483.1L551.1 483.1M544.2 471.1L551.1 471.1M544.2 459.1L551.1 459.1M544.2 447.2L551.1 447.2M551.1 555.1L554.6 549.1M551.1 543.1L554.6 549.1M551.1 543.1L554.6 537.1M551.1 531.1L554.6 537.1M551.1 531.1L554.6 525.1M551.1 519.1L554.6 525.1M551.1 519.1L554.6 513.1M551.1 507.1L554.6 513.1M551.1 507.1L554.6 501.1M551.1 495.1L554.6 501.1M551.1 495.1L554.6 489.1M551.1 483.1L554.6 489.1M551.1 483.1L554.6 477.1M551.1 471.1L554.6 477.1M551.1 471.1L554.6 465.1M551.1 459.1L554.6 465.1M551.1 459.1L554.6 453.2M551.1 447.2L554.6 453.2M554.6 549.1L561.6 549.1M554.6 537.1L561.6 537.1M554.6 525.1L561.6 525.1M554.6 513.1L561.6 513.1M554.6 501.1L561.6 501.1M554.6 489.1L561.6 489.1M554.6 477.1L561.6 477.1M554.6 465.1L561.6 465.1M554.6 453.2L561.6 453.2M561.6 549.1L565.0 543.1M561.6 537.1L565.0 543.1M561.6 537.1L565.0 531.1M561.6 525.1L565.0 531.1M561.6 525.1L565.0 519.1M561.6 513.1L565.0 519.1M561.6 513.1L565.0 507.1M561.6 501.1L565.0 507.1M561.6 501.1L565.0 495.1M561.6 489.1L565.0 495.1M561.6 489.1L565.0 483.1M561.6 477.1L565.0 483.1M561.6 477.1L565.0 471.1M561.6 465.1L565.0 471.1M561.6 465.1L565.0 459.1M561.6 453.2L565.0 459.1M565.0 519.1L572.0 519.1M565.0 507.1L572.0 507.1M565.0 495.1L572.0 495.1M565.0 483.1L572.0 483.1M572.0 519.1L575.4 513.1M572.0 507.1L575.4 513.1M572.0 507.1L575.4 501.1M572.0 495.1L575.4 501.1M572.0 495.1L575.4 489.1M572.0 483.1L575.4 489.1" stroke="#f0f0f0" stroke-width="0.45" fill="none"/>
<circle cx="415.7" cy="513.1" r="0.28" fill="#352a87"/><circle cx="415.7" cy="501.1" r="0.40" fill="#363093"/><circle cx="415.7" cy="489.1" r="0.28" fill="#352a87"/><circle cx="426.1" cy="531.1" r="0.25" fill="#352a87"/><circle cx="426.1" cy="519.1" r="0.28" fill="#352a87"/><circle cx="426.1" cy="483.1" r="0.28" fill="#352a87"/><circle cx="426.1" cy="471.1" r="0.25" fill="#352a87"/><circle cx="436.5" cy="513.1" r="0.16" fill="#352a87"/><circle cx="436.5" cy="501.1" r="0.24" fill="#352a87"/><circle cx="436.5" cy="489.1" r="0.16" fill="#352a87"/><circle cx="440.0" cy="555.1" r="0.32" fill="#352a87"/><circle cx="440.0" cy="543.1" r="0.20" fill="#352a87"/><circle cx="440.0" cy="459.1" r="0.20" fill="#352a87"/><circle cx="440.0" cy="447.2" r="0.32" fill="#352a87"/><circle cx="446.9" cy="519.1" r="0.19" fill="#352a87"/><circle cx="446.9" cy="483.1" r="0.19" fill="#352a87"/><circle cx="450.4" cy="561.1" r="0.48" fill="#363093"/><circle cx="450.4" cy="549.1" r="0.17" fill="#352a87"/><circle cx="450.4" cy="453.2" r="0.17" fill="#352a87"/><circle cx="450.4" cy="441.2" r="0.48" fill="#363093"/><circle cx="457.4" cy="537.1" r="0.16" fill="#352a87"/><circle cx="457.4" cy="501.1" r="0.18" fill="#352a87"/><circle cx="457.4" cy="465.1" r="0.16" fill="#352a87"/><circle cx="460.8" cy="567.0" r="0.45" fill="#363093"/><circle cx="460.8" cy="543.1" r="0.20" fill="#352a87"/><circle cx="460.8" cy="531.1" r="0.17" fill="#352a87"/><circle cx="460.8" cy="471.1" r="0.17" fill="#352a87"/><circle cx="460.8" cy="459.1" r="0.20" fill="#352a87"/><circle cx="460.8" cy="435.2" r="0.45" fill="#363093"/><circle cx="467.8" cy="651.0" r="0.62" fill="#3637a0"/><circle cx="467.8" cy="639.0" r="2.19" fill="#06a4ca"/><circle cx="467.8" cy="627.0" r="3.32" fill="#f8bb44"/><circle cx="467.8" cy="615.0" r="3.65" fill="#f9fb0e"/><circle cx="467.8" cy="603.0" r="3.18" fill="#d9ba56"/><circle cx="467.8" cy="591.0" r="2.14" fill="#06a0cd"/><circle cx="467.8" cy="579.0" r="0.98" fill="#2c4ac7"/><circle cx="467.8" cy="555.1" r="0.18" fill="#352a87"/><circle cx="467.8" cy="519.1" r="0.17" fill="#352a87"/><circle cx="467.8" cy="483.1" r="0.17" fill="#352a87"/><circle cx="467.8" cy="447.2" r="0.18" fill="#352a87"/><circle cx="467.8" cy="423.2" r="0.98" fill="#2c4ac7"/><circle cx="467.8" cy="411.2" r="2.14" fill="#06a0cd"/><circle cx="467.8" cy="399.2" r="3.18" fill="#d9ba56"/><circle cx="467.8" cy="387.2" r="3.65" fill="#f9fb0e"/><circle cx="467.8" cy="375.2" r="3.32" fill="#f8bb44"/><circle cx="467.8" cy="363.2" r="2.19" fill="#06a4ca"/><circle cx="467.8" cy="351.2" r="0.62" fill="#3637a0"/><circle cx="471.2" cy="585.0" r="0.17" fill="#352a87"/><circle cx="471.2" cy="573.0" r="0.19" fill="#352a87"/><circle cx="471.2" cy="561.1" r="0.27" fill="#352a87"/><circle cx="471.2" cy="549.1" r="0.26" fill="#352a87"/><circle cx="471.2" cy="453.2" r="0.26" fill="#352a87"/><circle cx="471.2" cy="441.2" r="0.27" fill="#352a87"/><circle cx="471.2" cy="429.2" r="0.19" fill="#352a87"/><circle cx="471.2" cy="417.2" r="0.17" fill="#352a87"/><circle cx="478.2" cy="645.0" r="1.67" fill="#1079da"/><circle cx="478.2" cy="633.0" r="1.15" fill="#2053d4"/><circle cx="478.2" cy="621.0" r="0.37" fill="#363093"/><circle cx="478.2" cy="609.0" r="0.49" fill="#363093"/><circle cx="478.2" cy="597.0" r="1.03" fill="#2c4ac7"/><circle cx="478.2" cy="585.0" r="1.16" fill="#2053d4"/><circle cx="478.2" cy="573.0" r="0.86" fill="#353dad"/><circle cx="478.2" cy="561.1" r="0.31" fill="#352a87"/><circle cx="478.2" cy="537.1" r="0.19" fill="#352a87"/><circle cx="478.2" cy="501.1" r="0.16" fill="#352a87"/><circle cx="478.2" cy="465.1" r="0.19" fill="#352a87"/><circle cx="478.2" cy="441.2" r="0.31" fill="#352a87"/><circle cx="478.2" cy="429.2" r="0.86" fill="#353dad"/><circle cx="478.2" cy="417.2" r="1.16" fill="#2053d4"/><circle cx="478.2" cy="405.2" r="1.03" fill="#2c4ac7"/><circle cx="478.2" cy="393.2" r="0.49" fill="#363093"/><circle cx="478.2" cy="381.2" r="0.37" fill="#363093"/><circle cx="478.2" cy="369.2" r="1.15" fill="#2053d4"/><circle cx="478.2" cy="357.2" r="1.67" fill="#1079da"/><circle cx="481.7" cy="639.0" r="0.17" fill="#352a87"/><circle cx="481.7" cy="627.0" r="0.24" fill="#352a87"/><circle cx="481.7" cy="615.0" r="0.24" fill="#352a87"/><circle cx="481.7" cy="603.0" r="0.16" fill="#352a87"/><circle cx="481.7" cy="579.0" r="0.19" fill="#352a87"/><circle cx="481.7" cy="567.0" r="0.39" fill="#363093"/><circle cx="481.7" cy="555.1" r="0.16" fill="#352a87"/><circle cx="481.7" cy="531.1" r="0.20" fill="#352a87"/><circle cx="481.7" cy="519.1" r="0.15" fill="#352a87"/><circle cx="481.7" cy="483.1" r="0.15" fill="#352a87"/><circle cx="481.7" cy="471.1" r="0.20" fill="#352a87"/><circle cx="481.7" cy="447.2" r="0.16" fill="#352a87"/><circle cx="481.7" cy="435.2" r="0.39" fill="#363093"/><circle cx="481.7" cy="423.2" r="0.19" fill="#352a87"/><circle cx="481.7" cy="399.2" r="0.16" fill="#352a87"/><circle cx="481.7" cy="387.2" r="0.24" fill="#352a87"/><circle cx="481.7" cy="375.2" r="0.24" fill="#352a87"/><circle cx="481.7" cy="363.2" r="0.17" fill="#352a87"/><circle cx="488.6" cy="639.0" r="0.53" fill="#363093"/><circle cx="488.6" cy="627.0" r="0.80" fill="#353dad"/><circle cx="488.6" cy="615.0" r="0.81" fill="#353dad"/><circle cx="488.6" cy="603.0" r="0.56" fill="#363093"/><circle cx="488.6" cy="591.0" r="0.15" fill="#352a87"/><circle cx="488.6" cy="579.0" r="0.31" fill="#352a87"/><circle cx="488.6" cy="567.0" r="0.55" fill="#363093"/><circle cx="488.6" cy="555.1" r="0.40" fill="#363093"/><circle cx="488.6" cy="519.1" r="0.17" fill="#352a87"/><circle cx="488.6" cy="483.1" r="0.17" fill="#352a87"/><circle cx="488.6" cy="447.2" r="0.40" fill="#363093"/><circle cx="488.6" cy="435.2" r="0.55" fill="#363093"/><circle cx="488.6" cy="423.2" r="0.31" fill="#352a87"/><circle cx="488.6" cy="411.2" r="0.15" fill="#352a87"/><circle cx="488.6" cy="399.2" r="0.56" fill="#363093"/><circle cx="488.6" cy="387.2" r="0.81" fill="#353dad"/><circle cx="488.6" cy="375.2" r="0.80" fill="#353dad"/><circle cx="488.6" cy="363.2" r="0.53" fill="#363093"/><circle cx="492.1" cy="645.0" r="0.44" fill="#363093"/><circle cx="492.1" cy="633.0" r="0.27" fill="#352a87"/><circle cx="492.1" cy="609.0" r="0.25" fill="#352a87"/><circle cx="492.1" cy="597.0" r="0.42" fill="#363093"/><circle cx="492.1" cy="585.0" r="0.43" fill="#363093"/><circle cx="492.1" cy="573.0" r="0.25" fill="#352a87"/><circle cx="492.1" cy="561.1" r="0.18" fill="#352a87"/><circle cx="492.1" cy="549.1" r="0.31" fill="#352a87"/><circle cx="492.1" cy="537.1" r="0.22" fill="#352a87"/><circle cx="492.1" cy="501.1" r="0.15" fill="#352a87"/><circle cx="492.1" cy="465.1" r="0.22" fill="#352a87"/><circle cx="492.1" cy="453.2" r="0.31" fill="#352a87"/><circle cx="492.1" cy="441.2" r="0.18" fill="#352a87"/><circle cx="492.1" cy="429.2" r="0.25" fill="#352a87"/><circle cx="492.1" cy="417.2" r="0.43" fill="#363093"/><circle cx="492.1" cy="405.2" r="0.42" fill="#363093"/><circle cx="492.1" cy="393.2" r="0.25" fill="#352a87"/><circle cx="492.1" cy="369.2" r="0.27" fill="#352a87"/><circle cx="492.1" cy="357.2" r="0.44" fill="#363093"/><circle cx="499.0" cy="645.0" r="0.44" fill="#363093"/><circle cx="499.0" cy="633.0" r="0.27" fill="#352a87"/><circle cx="499.0" cy="609.0" r="0.25" fill="#352a87"/><circle cx="499.0" cy="597.0" r="0.42" fill="#363093"/><circle cx="499.0" cy="585.0" r="0.43" fill="#363093"/><circle cx="499.0" cy="573.0" r="0.25" fill="#352a87"/><circle cx="499.0" cy="561.1" r="0.18" fill="#352a87"/><circle cx="499.0" cy="549.1" r="0.31" fill="#352a87"/><circle cx="499.0" cy="537.1" r="0.22" fill="#352a87"/><circle cx="499.0" cy="501.1" r="0.15" fill="#352a87"/><circle cx="499.0" cy="465.1" r="0.22" fill="#352a87"/><circle cx="499.0" cy="453.2" r="0.31" fill="#352a87"/><circle cx="499.0" cy="441.2" r="0.18" fill="#352a87"/><circle cx="499.0" cy="429.2" r="0.25" fill="#352a87"/><circle cx="499.0" cy="417.2" r="0.43" fill="#363093"/><circle cx="499.0" cy="405.2" r="0.42" fill="#363093"/><circle cx="499.0" cy="393.2" r="0.25" fill="#352a87"/><circle cx="499.0" cy="369.2" r="0.27" fill="#352a87"/><circle cx="499.0" cy="357.2" r="0.44" fill="#363093"/><circle cx="502.5" cy="639.0" r="0.53" fill="#363093"/><circle cx="502.5" cy="627.0" r="0.80" fill="#353dad"/><circle cx="502.5" cy="615.0" r="0.81" fill="#353dad"/><circle cx="502.5" cy="603.0" r="0.56" fill="#363093"/><circle cx="502.5" cy="591.0" r="0.15" fill="#352a87"/><circle cx="502.5" cy="579.0" r="0.31" fill="#352a87"/><circle cx="502.5" cy="567.0" r="0.55" fill="#363093"/><circle cx="502.5" cy="555.1" r="0.40" fill="#363093"/><circle cx="502.5" cy="519.1" r="0.17" fill="#352a87"/><circle cx="502.5" cy="483.1" r="0.17" fill="#352a87"/><circle cx="502.5" cy="447.2" r="0.40" fill="#363093"/><circle cx="502.5" cy="435.2" r="0.55" fill="#363093"/><circle cx="502.5" cy="423.2" r="0.31" fill="#352a87"/><circle cx="502.5" cy="411.2" r="0.15" fill="#352a87"/><circle cx="502.5" cy="399.2" r="0.56" fill="#363093"/><circle cx="502.5" cy="387.2" r="0.81" fill="#353dad"/><circle cx="502.5" cy="375.2" r="0.80" fill="#353dad"/><circle cx="502.5" cy="363.2" r="0.53" fill="#363093"/><circle cx="509.5" cy="639.0" r="0.17" fill="#352a87"/><circle cx="509.5" cy="627.0" r="0.24" fill="#352a87"/><circle cx="509.5" cy="615.0" r="0.24" fill="#352a87"/><circle cx="509.5" cy="603.0" r="0.16" fill="#352a87"/><circle cx="509.5" cy="579.0" r="0.19" fill="#352a87"/><circle cx="509.5" cy="567.0" r="0.39" fill="#363093"/><circle cx="509.5" cy="555.1" r="0.16" fill="#352a87"/><circle cx="509.5" cy="531.1" r="0.20" fill="#352a87"/><circle cx="509.5" cy="519.1" r="0.15" fill="#352a87"/><circle cx="509.5" cy="483.1" r="0.15" fill="#352a87"/><circle cx="509.5" cy="471.1" r="0.20" fill="#352a87"/><circle cx="509.5" cy="447.2" r="0.16" fill="#352a87"/><circle cx="509.5" cy="435.2" r="0.39" fill="#363093"/><circle cx="509.5" cy="423.2" r="0.19" fill="#352a87"/><circle cx="509.5" cy="399.2" r="0.16" fill="#352a87"/><circle cx="509.5" cy="387.2" r="0.24" fill="#352a87"/><circle cx="509.5" cy="375.2" r="0.24" fill="#352a87"/><circle cx="509.5" cy="363.2" r="0.17" fill="#352a87"/><circle cx="512.9" cy="645.0" r="1.67" fill="#1079da"/><circle cx="512.9" cy="633.0" r="1.15" fill="#2053d4"/><circle cx="512.9" cy="621.0" r="0.37" fill="#363093"/><circle cx="512.9" cy="609.0" r="0.49" fill="#363093"/><circle cx="512.9" cy="597.0" r="1.03" fill="#2c4ac7"/><circle cx="512.9" cy="585.0" r="1.16" fill="#2053d4"/><circle cx="512.9" cy="573.0" r="0.86" fill="#353dad"/><circle cx="512.9" cy="561.1" r="0.31" fill="#352a87"/><circle cx="512.9" cy="537.1" r="0.19" fill="#352a87"/><circle cx="512.9" cy="501.1" r="0.16" fill="#352a87"/><circle cx="512.9" cy="465.1" r="0.19" fill="#352a87"/><circle cx="512.9" cy="441.2" r="0.31" fill="#352a87"/><circle cx="512.9" cy="429.2" r="0.86" fill="#353dad"/><circle cx="512.9" cy="417.2" r="1.16" fill="#2053d4"/><circle cx="512.9" cy="405.2" r="1.03" fill="#2c4ac7"/><circle cx="512.9" cy="393.2" r="0.49" fill="#363093"/><circle cx="512.9" cy="381.2" r="0.37" fill="#363093"/><circle cx="512.9" cy="369.2" r="1.15" fill="#2053d4"/><circle cx="512.9" cy="357.2" r="1.67" fill="#1079da"/><circle cx="519.9" cy="585.0" r="0.17" fill="#352a87"/><circle cx="519.9" cy="573.0" r="0.19" fill="#352a87"/><circle cx="519.9" cy="561.1" r="0.27" fill="#352a87"/><circle cx="519.9" cy="549.1" r="0.26" fill="#352a87"/><circle cx="519.9" cy="453.2" r="0.26" fill="#352a87"/><circle cx="519.9" cy="441.2" r="0.27" fill="#352a87"/><circle cx="519.9" cy="429.2" r="0.19" fill="#352a87"/><circle cx="519.9" cy="417.2" r="0.17" fill="#352a87"/><circle cx="523.3" cy="651.0" r="0.62" fill="#3637a0"/><circle cx="523.3" cy="639.0" r="2.19" fill="#06a4ca"/><circle cx="523.3" cy="627.0" r="3.32" fill="#f8bb44"/><circle cx="523.3" cy="615.0" r="3.65" fill="#f9fb0e"/><circle cx="523.3" cy="603.0" r="3.18" fill="#d9ba56"/><circle cx="523.3" cy="591.0" r="2.14" fill="#06a0cd"/><circle cx="523.3" cy="579.0" r="0.98" fill="#2c4ac7"/><circle cx="523.3" cy="555.1" r="0.18" fill="#352a87"/><circle cx="523.3" cy="519.1" r="0.17" fill="#352a87"/><circle cx="523.3" cy="483.1" r="0.17" fill="#352a87"/><circle cx="523.3" cy="447.2" r="0.18" fill="#352a87"/><circle cx="523.3" cy="423.2" r="0.98" fill="#2c4ac7"/><circle cx="523.3" cy="411.2" r="2.14" fill="#06a0cd"/><circle cx="523.3" cy="399.2" r="3.18" fill="#d9ba56"/><circle cx="523.3" cy="387.2" r="3.65" fill="#f9fb0e"/><circle cx="523.3" cy="375.2" r="3.32" fill="#f8bb44"/><circle cx="523.3" cy="363.2" r="2.19" fill="#06a4ca"/><circle cx="523.3" cy="351.2" r="0.62" fill="#3637a0"/><circle cx="530.3" cy="567.0" r="0.45" fill="#363093"/><circle cx="530.3" cy="543.1" r="0.20" fill="#352a87"/><circle cx="530.3" cy="531.1" r="0.17" fill="#352a87"/><circle cx="530.3" cy="471.1" r="0.17" fill="#352a87"/><circle cx="530.3" cy="459.1" r="0.20" fill="#352a87"/><circle cx="530.3" cy="435.2" r="0.45" fill="#363093"/><circle cx="533.8" cy="537.1" r="0.16" fill="#352a87"/><circle cx="533.8" cy="501.1" r="0.18" fill="#352a87"/><circle cx="533.8" cy="465.1" r="0.16" fill="#352a87"/><circle cx="540.7" cy="561.1" r="0.48" fill="#363093"/><circle cx="540.7" cy="549.1" r="0.17" fill="#352a87"/><circle cx="540.7" cy="453.2" r="0.17" fill="#352a87"/><circle cx="540.7" cy="441.2" r="0.48" fill="#363093"/><circle cx="544.2" cy="519.1" r="0.19" fill="#352a87"/><circle cx="544.2" cy="483.1" r="0.19" fill="#352a87"/><circle cx="551.1" cy="555.1" r="0.32" fill="#352a87"/><circle cx="551.1" cy="543.1" r="0.20" fill="#352a87"/><circle cx="551.1" cy="459.1" r="0.20" fill="#352a87"/><circle cx="551.1" cy="447.2" r="0.32" fill="#352a87"/><circle cx="554.6" cy="513.1" r="0.16" fill="#352a87"/><circle cx="554.6" cy="501.1" r="0.24" fill="#352a87"/><circle cx="554.6" cy="489.1" r="0.16" fill="#352a87"/><circle cx="565.0" cy="531.1" r="0.25" fill="#352a87"/><circle cx="565.0" cy="519.1" r="0.28" fill="#352a87"/><circle cx="565.0" cy="483.1" r="0.28" fill="#352a87"/><circle cx="565.0" cy="471.1" r="0.25" fill="#352a87"/><circle cx="575.4" cy="513.1" r="0.28" fill="#352a87"/><circle cx="575.4" cy="501.1" r="0.40" fill="#363093"/><circle cx="575.4" cy="489.1" r="0.28" fill="#352a87"/>
<path d="M426.1 507.1L426.7 506.0M429.6 501.1L428.9 500.0M429.6 477.1L430.9 477.1M436.5 525.1L435.2 525.1M436.5 501.1L435.2 501.1M436.5 477.1L437.2 478.3M436.5 477.1L437.2 476.0M440.0 531.1L439.3 530.0M440.0 531.1L441.3 531.1M440.0 519.1L439.3 520.2M446.9 507.1L447.6 506.0M446.9 471.1L445.6 471.1M446.9 459.1L447.6 460.3M446.9 459.1L447.6 458.0M450.4 549.1L449.8 547.9M450.4 549.1L451.7 549.1M450.4 537.1L449.8 538.2M450.4 513.1L451.7 513.1M450.4 501.1L449.8 500.0M457.4 525.1L458.0 524.0M457.4 489.1L456.1 489.1M457.4 489.1L458.0 488.0M457.4 453.2L456.1 453.2M457.4 453.2L458.0 452.0M460.8 555.1L460.2 553.9M460.8 531.1L462.1 531.1M460.8 519.1L460.2 518.0M460.8 483.1L460.2 482.0M460.8 483.1L462.1 483.1M467.8 543.1L468.4 541.9M467.8 519.1L466.5 519.1M467.8 507.1L468.4 506.0M467.8 471.1L466.5 471.1M467.8 471.1L468.4 470.0M471.2 597.0L472.5 597.0M471.2 513.1L472.5 513.1M471.2 501.1L470.6 500.0M471.2 465.1L470.6 464.0M471.2 465.1L472.5 465.1M471.2 453.2L472.5 453.2M471.2 393.2L472.5 393.2M471.2 381.2L472.5 381.2M471.2 369.2L472.5 369.2M471.2 357.2L472.5 357.2M478.2 645.0L476.9 645.0M478.2 633.0L476.9 633.0M478.2 621.0L476.9 621.0M478.2 609.0L476.9 609.0M478.2 549.1L476.9 549.1M478.2 537.1L476.9 537.1M478.2 489.1L476.9 489.1M478.2 405.2L476.9 405.2M481.7 531.1L483.0 531.1M481.7 495.1L483.0 495.1M481.7 483.1L483.0 483.1M481.7 423.2L483.0 423.2M481.7 411.2L483.0 411.2M481.7 399.2L483.0 399.2M481.7 363.2L483.0 363.2M481.7 351.2L483.0 351.2M488.6 651.0L487.3 651.0M488.6 639.0L487.3 639.0M488.6 627.0L487.3 627.0M488.6 615.0L487.3 615.0M488.6 603.0L487.3 603.0M488.6 591.0L487.3 591.0M488.6 579.0L487.3 579.0M488.6 519.1L487.3 519.1M488.6 507.1L487.3 507.1M488.6 471.1L487.3 471.1M488.6 375.2L487.3 375.2M502.5 651.0L503.8 651.0M502.5 639.0L503.8 639.0M502.5 627.0L503.8 627.0M502.5 615.0L503.8 615.0M502.5 603.0L503.8 603.0M502.5 591.0L503.8 591.0M502.5 579.0L503.8 579.0M502.5 519.1L503.8 519.1M502.5 507.1L503.8 507.1M502.5 471.1L503.8 471.1M502.5 375.2L503.8 375.2M509.5 531.1L508.2 531.1M509.5 495.1L508.2 495.1M509.5 483.1L508.2 483.1M509.5 423.2L508.2 423.2M509.5 411.2L508.2 411.2M509.5 399.2L508.2 399.2M509.5 363.2L508.2 363.2M509.5 351.2L508.2 351.2M512.9 645.0L514.2 645.0M512.9 633.0L514.2 633.0M512.9 621.0L514.2 621.0M512.9 609.0L514.2 609.0M512.9 549.1L514.2 549.1M512.9 537.1L514.2 537.1M512.9 489.1L514.2 489.1M512.9 405.2L514.2 405.2M519.9 597.0L518.6 597.0M519.9 513.1L518.6 513.1M519.9 501.1L520.5 500.0M519.9 465.1L518.6 465.1M519.9 465.1L520.5 464.0M519.9 453.2L518.6 453.2M519.9 393.2L518.6 393.2M519.9 381.2L518.6 381.2M519.9 369.2L518.6 369.2M519.9 357.2L518.6 357.2M523.3 543.1L522.7 541.9M523.3 519.1L524.6 519.1M523.3 507.1L522.7 506.0M523.3 471.1L522.7 470.0M523.3 471.1L524.6 471.1M530.3 555.1L530.9 553.9M530.3 531.1L529.0 531.1M530.3 519.1L530.9 518.0M530.3 483.1L529.0 483.1M530.3 483.1L530.9 482.0M533.8 525.1L533.1 524.0M533.8 489.1L533.1 488.0M533.8 489.1L535.1 489.1M533.8 453.2L533.1 452.0M533.8 453.2L535.1 453.2M540.7 549.1L539.4 549.1M540.7 549.1L541.4 547.9M540.7 537.1L541.4 538.2M540.7 513.1L539.4 513.1M540.7 501.1L541.4 500.0M544.2 507.1L543.5 506.0M544.2 471.1L545.5 471.1M544.2 459.1L543.5 460.3M544.2 459.1L543.5 458.0M551.1 531.1L549.8 531.1M551.1 531.1L551.8 530.0M551.1 519.1L551.8 520.2M554.6 525.1L555.9 525.1M554.6 501.1L555.9 501.1M554.6 477.1L554.0 478.3M554.6 477.1L554.0 476.0M561.6 501.1L562.2 500.0M561.6 477.1L560.3 477.1M565.0 507.1L564.4 506.0" stroke="#ff1050" stroke-opacity="0.25" stroke-width="1.1" fill="none"/>
<path d="M419.15 495.11L419.92 495.11M419.79 495.04L419.92 495.11L419.79 495.19M426.09 507.10L425.31 507.10M425.45 507.18L425.31 507.10L425.45 507.03M426.09 495.11L426.51 494.39M426.37 494.48L426.51 494.39L426.51 494.56M429.57 513.10L429.15 512.37M429.15 512.54L429.15 512.37L429.29 512.46M429.57 513.10L430.46 513.10M430.30 513.01L430.46 513.10L430.30 513.18M436.51 489.12L435.62 489.12M435.77 489.21L435.62 489.12L435.77 489.03M436.51 489.12L436.94 488.38M436.80 488.47L436.94 488.38L436.94 488.55M439.99 519.09L439.55 518.34M439.56 518.52L439.55 518.34L439.70 518.43M439.99 495.11L440.88 495.11M440.73 495.03L440.88 495.11L440.73 495.20M439.99 483.12L440.86 483.12M440.71 483.04L440.86 483.12L440.71 483.21M439.99 459.15L440.95 459.15M440.78 459.05L440.95 459.15L440.78 459.24M446.93 543.07L445.96 543.07M446.13 543.16L445.96 543.07L446.13 542.98M446.93 519.09L446.05 519.09M446.21 519.18L446.05 519.09L446.21 519.01M446.93 507.10L446.03 507.10M446.19 507.19L446.03 507.10L446.19 507.02M457.35 441.16L457.83 441.99M457.83 441.80L457.83 441.99L457.67 441.89M460.83 555.06L460.34 555.89M460.51 555.79L460.34 555.89L460.35 555.70M460.83 495.11L461.63 495.11M461.49 495.04L461.63 495.11L461.49 495.19M467.77 507.10L466.97 507.10M467.11 507.18L466.97 507.10L467.11 507.03M467.77 435.17L468.22 434.39M468.07 434.49L468.22 434.39L468.22 434.57M471.25 585.03L472.18 585.03M472.02 584.94L472.18 585.03L472.02 585.12M471.25 573.04L470.80 572.27M470.81 572.45L470.80 572.27L470.95 572.37M471.25 537.08L470.86 536.41M470.86 536.56L470.86 536.41L470.99 536.49M478.19 549.06L478.63 548.31M478.48 548.40L478.63 548.31L478.63 548.49M478.19 525.09L478.61 524.37M478.47 524.45L478.61 524.37L478.61 524.53M478.19 489.12L478.63 488.36M478.48 488.45L478.63 488.36L478.63 488.53M478.19 441.16L478.61 441.87M478.60 441.71L478.61 441.87L478.46 441.79M481.67 555.06L481.23 555.81M481.38 555.72L481.23 555.81L481.24 555.63M481.67 519.09L481.22 518.33M481.23 518.50L481.22 518.33L481.37 518.42M481.67 483.12L481.25 482.41M481.26 482.57L481.25 482.41L481.39 482.49M481.67 459.15L481.23 458.40M481.24 458.57L481.23 458.40L481.38 458.49M509.45 555.06L509.89 555.81M509.88 555.63L509.89 555.81L509.74 555.72M509.45 519.09L509.90 518.33M509.75 518.42L509.90 518.33L509.89 518.50M509.45 483.12L509.87 482.41M509.73 482.49L509.87 482.41L509.86 482.57M509.45 459.15L509.89 458.40M509.74 458.49L509.89 458.40L509.88 458.57M512.93 549.06L512.49 548.31M512.49 548.49L512.49 548.31L512.64 548.40M512.93 525.09L512.51 524.37M512.51 524.53L512.51 524.37L512.65 524.45M512.93 489.12L512.49 488.36M512.49 488.53L512.49 488.36L512.64 488.45M512.93 441.16L512.51 441.87M512.66 441.79L512.51 441.87L512.52 441.71M519.87 585.03L518.94 585.03M519.10 585.12L518.94 585.03L519.10 584.94M519.87 573.04L520.32 572.27M520.17 572.37L520.32 572.27L520.31 572.45M519.87 537.08L520.26 536.41M520.13 536.49L520.26 536.41L520.26 536.56M523.35 507.10L524.15 507.10M524.01 507.03L524.15 507.10L524.01 507.18M523.35 435.17L522.90 434.39M522.90 434.57L522.90 434.39L523.05 434.49M530.29 555.06L530.78 555.89M530.77 555.70L530.78 555.89L530.61 555.79M530.29 495.11L529.49 495.11M529.63 495.19L529.49 495.11L529.63 495.04M533.77 441.16L533.29 441.99M533.45 441.89L533.29 441.99L533.29 441.80M544.19 543.07L545.16 543.07M544.99 542.98L545.16 543.07L544.99 543.16M544.19 519.09L545.07 519.09M544.91 519.01L545.07 519.09L544.91 519.18M544.19 507.10L545.09 507.10M544.93 507.02L545.09 507.10L544.93 507.19M551.13 519.09L551.57 518.34M551.42 518.43L551.57 518.34L551.56 518.52M551.13 495.11L550.24 495.11M550.39 495.20L550.24 495.11L550.39 495.03M551.13 483.12L550.26 483.12M550.41 483.21L550.26 483.12L550.41 483.04M551.13 459.15L550.17 459.15M550.34 459.24L550.17 459.15L550.34 459.05M554.61 489.12L554.18 488.38M554.18 488.55L554.18 488.38L554.32 488.47M554.61 489.12L555.50 489.12M555.35 489.03L555.50 489.12L555.35 489.21M561.55 513.10L560.66 513.10M560.82 513.18L560.66 513.10L560.82 513.01M561.55 513.10L561.97 512.37M561.83 512.46L561.97 512.37L561.97 512.54M565.03 507.10L565.81 507.10M565.67 507.03L565.81 507.10L565.67 507.18M565.03 495.11L564.61 494.39M564.61 494.56L564.61 494.39L564.75 494.48M571.97 495.11L571.20 495.11M571.33 495.19L571.20 495.11L571.33 495.04" stroke="#ff1050" stroke-width="0.875" fill="none" stroke-linecap="butt" stroke-linejoin="bevel"/>
<path d="M426.09 543.07L426.73 541.97M426.52 542.10L426.73 541.97L426.73 542.22M426.09 459.15L426.73 458.04M426.51 458.18L426.73 458.04L426.73 458.30M429.57 549.06L428.93 547.96M428.93 548.22L428.93 547.96L429.14 548.09M429.57 465.14L428.93 464.04M428.93 464.29L428.93 464.04L429.15 464.17M429.57 453.15L430.84 453.15M430.62 453.03L430.84 453.15L430.62 453.27M436.51 549.06L435.23 549.06M435.46 549.19L435.23 549.06L435.46 548.94M436.51 537.08L437.07 536.12M436.88 536.24L437.07 536.12L437.06 536.34M439.99 471.14L439.43 470.18M439.44 470.40L439.43 470.18L439.62 470.30M446.93 555.06L447.46 554.14M447.28 554.25L447.46 554.14L447.46 554.36M446.93 495.11L447.53 494.08M447.33 494.21L447.53 494.08L447.53 494.32M446.93 471.14L447.43 470.28M447.26 470.38L447.43 470.28L447.43 470.47M450.41 537.08L449.91 536.21M449.91 536.41L449.91 536.21L450.08 536.31M450.41 513.10L449.81 512.06M449.81 512.30L449.81 512.06L450.01 512.19M450.41 477.13L451.53 477.13M451.33 477.02L451.53 477.13L451.33 477.24M450.41 465.14L451.66 465.14M451.44 465.02L451.66 465.14L451.44 465.26M450.41 453.15L449.88 452.23M449.88 452.45L449.88 452.23L450.06 452.34M457.35 549.06L457.84 548.22M457.68 548.32L457.84 548.22L457.84 548.41M457.35 537.08L456.09 537.08M456.31 537.20L456.09 537.08L456.31 536.95M457.35 525.09L456.23 525.09M456.43 525.19L456.23 525.09L456.43 524.98M457.35 477.13L458.01 476.00M457.78 476.14L458.01 476.00L458.00 476.26M460.83 531.08L460.17 529.95M460.18 530.21L460.17 529.95L460.39 530.09M460.83 459.15L460.33 458.30M460.34 458.49L460.33 458.30L460.50 458.40M467.77 531.08L468.38 530.03M468.18 530.15L468.38 530.03L468.38 530.27M471.25 477.13L470.64 476.08M470.64 476.32L470.64 476.08L470.85 476.21M471.25 477.13L472.32 477.13M472.13 477.03L472.32 477.13L472.13 477.23M478.19 525.09L477.11 525.09M477.30 525.19L477.11 525.09L477.30 524.98M478.19 513.10L478.84 511.99M478.62 512.12L478.84 511.99L478.83 512.24M478.19 453.15L478.69 452.29M478.52 452.39L478.69 452.29L478.69 452.49M478.19 417.18L476.96 417.18M477.17 417.30L476.96 417.18L477.17 417.07M481.67 555.06L481.15 554.17M481.16 554.38L481.15 554.17L481.33 554.28M481.67 495.11L481.02 494.00M481.03 494.26L481.02 494.00L481.24 494.14M488.61 507.10L489.15 506.18M488.97 506.29L489.15 506.18L489.14 506.39M492.09 501.11L491.55 500.19M491.56 500.40L491.55 500.19L491.73 500.30M499.03 501.11L499.57 500.19M499.39 500.30L499.57 500.19L499.56 500.40M502.51 507.10L501.97 506.18M501.98 506.39L501.97 506.18L502.15 506.29M509.45 555.06L509.97 554.17M509.79 554.28L509.97 554.17L509.96 554.38M509.45 495.11L510.10 494.00M509.88 494.14L510.10 494.00L510.09 494.26M512.93 525.09L514.01 525.09M513.82 524.98L514.01 525.09L513.82 525.19M512.93 513.10L512.28 511.99M512.29 512.24L512.28 511.99L512.50 512.12M512.93 453.15L512.43 452.29M512.43 452.49L512.43 452.29L512.60 452.39M512.93 417.18L514.16 417.18M513.95 417.07L514.16 417.18L513.95 417.30M519.87 477.13L518.80 477.13M518.99 477.23L518.80 477.13L518.99 477.03M519.87 477.13L520.48 476.08M520.27 476.21L520.48 476.08L520.48 476.32M523.35 531.08L522.74 530.03M522.74 530.27L522.74 530.03L522.94 530.15M530.29 531.08L530.95 529.95M530.73 530.09L530.95 529.95L530.94 530.21M530.29 459.15L530.79 458.30M530.62 458.40L530.79 458.30L530.78 458.49M533.77 549.06L533.28 548.22M533.28 548.41L533.28 548.22L533.44 548.32M533.77 537.08L535.03 537.08M534.81 536.95L535.03 537.08L534.81 537.20M533.77 525.09L534.89 525.09M534.69 524.98L534.89 525.09L534.69 525.19M533.77 477.13L533.11 476.00M533.12 476.26L533.11 476.00L533.34 476.14M540.71 537.08L541.21 536.21M541.04 536.31L541.21 536.21L541.21 536.41M540.71 513.10L541.31 512.06M541.11 512.19L541.31 512.06L541.31 512.30M540.71 477.13L539.59 477.13M539.79 477.24L539.59 477.13L539.79 477.02M540.71 465.14L539.46 465.14M539.68 465.26L539.46 465.14L539.68 465.02M540.71 453.15L541.24 452.23M541.06 452.34L541.24 452.23L541.24 452.45M544.19 555.06L543.66 554.14M543.66 554.36L543.66 554.14L543.84 554.25M544.19 495.11L543.59 494.08M543.59 494.32L543.59 494.08L543.79 494.21M544.19 471.14L543.69 470.28M543.69 470.47L543.69 470.28L543.86 470.38M551.13 471.14L551.69 470.18M551.50 470.30L551.69 470.18L551.68 470.40M554.61 549.06L555.89 549.06M555.66 548.94L555.89 549.06L555.66 549.19M554.61 537.08L554.05 536.12M554.06 536.34L554.05 536.12L554.24 536.24M561.55 549.06L562.19 547.96M561.98 548.09L562.19 547.96L562.19 548.22M561.55 465.14L562.19 464.04M561.97 464.17L562.19 464.04L562.19 464.29M561.55 453.15L560.28 453.15M560.50 453.27L560.28 453.15L560.50 453.03M565.03 543.07L564.39 541.97M564.39 542.22L564.39 541.97L564.60 542.10M565.03 459.15L564.39 458.04M564.39 458.30L564.39 458.04L564.61 458.18" stroke="#ff1050" stroke-width="1.000" fill="none" stroke-linecap="butt" stroke-linejoin="bevel"/>
<path d="M446.93 531.08L447.78 529.62M447.49 529.80L447.78 529.62L447.77 529.96M450.41 477.13L449.56 475.67M449.57 476.01L449.56 475.67L449.85 475.85M457.35 513.10L458.04 511.91M457.81 512.05L458.04 511.91L458.04 512.18M460.83 495.11L460.14 493.93M460.15 494.20L460.14 493.93L460.37 494.07M460.83 447.16L462.41 447.16M462.13 447.01L462.41 447.16L462.13 447.31M467.77 555.06L466.17 555.06M466.45 555.21L466.17 555.06L466.45 554.91M467.77 495.11L468.49 493.87M468.25 494.02L468.49 493.87L468.49 494.16M471.25 513.10L470.53 511.85M470.53 512.14L470.53 511.85L470.77 512.00M478.19 501.11L478.99 499.73M478.72 499.90L478.99 499.73L478.98 500.05M481.67 567.05L483.35 567.05M483.05 566.89L483.35 567.05L483.05 567.21M481.67 507.10L480.87 505.73M480.88 506.04L480.87 505.73L481.14 505.89M488.61 543.07L489.30 541.89M489.06 542.03L489.30 541.89L489.29 542.16M488.61 531.08L489.33 529.85M489.09 529.99L489.33 529.85L489.32 530.13M488.61 519.09L489.30 517.91M489.07 518.05L489.30 517.91L489.29 518.18M488.61 495.11L489.30 493.93M489.07 494.07L489.30 493.93L489.29 494.20M488.61 483.12L489.33 481.90M489.08 482.04L489.33 481.90L489.32 482.18M488.61 471.14L489.29 469.97M489.06 470.11L489.29 469.97L489.28 470.24M492.09 537.08L491.40 535.90M491.41 536.17L491.40 535.90L491.64 536.04M492.09 525.09L491.37 523.85M491.38 524.14L491.37 523.85L491.62 524.00M492.09 513.10L491.40 511.91M491.41 512.19L491.40 511.91L491.63 512.05M492.09 489.12L491.40 487.94M491.41 488.21L491.40 487.94L491.63 488.08M492.09 477.13L491.38 475.90M491.38 476.19L491.38 475.90L491.62 476.05M492.09 465.14L491.41 463.98M491.42 464.24L491.41 463.98L491.64 464.11M499.03 537.08L499.72 535.90M499.48 536.04L499.72 535.90L499.71 536.17M499.03 525.09L499.75 523.85M499.50 524.00L499.75 523.85L499.74 524.14M499.03 513.10L499.72 511.91M499.49 512.05L499.72 511.91L499.71 512.19M499.03 489.12L499.72 487.94M499.49 488.08L499.72 487.94L499.71 488.21M499.03 477.13L499.74 475.90M499.50 476.05L499.74 475.90L499.74 476.19M499.03 465.14L499.71 463.98M499.48 464.11L499.71 463.98L499.70 464.24M502.51 543.07L501.82 541.89M501.83 542.16L501.82 541.89L502.06 542.03M502.51 531.08L501.79 529.85M501.80 530.13L501.79 529.85L502.03 529.99M502.51 519.09L501.82 517.91M501.83 518.18L501.82 517.91L502.05 518.05M502.51 495.11L501.82 493.93M501.83 494.20L501.82 493.93L502.05 494.07M502.51 483.12L501.79 481.90M501.80 482.18L501.79 481.90L502.04 482.04M502.51 471.14L501.83 469.97M501.84 470.24L501.83 469.97L502.06 470.11M509.45 567.05L507.77 567.05M508.07 567.21L507.77 567.05L508.07 566.89M509.45 507.10L510.25 505.73M509.98 505.89L510.25 505.73L510.24 506.04M512.93 501.11L512.13 499.73M512.14 500.05L512.13 499.73L512.40 499.90M519.87 513.10L520.59 511.85M520.35 512.00L520.59 511.85L520.59 512.14M523.35 555.06L524.95 555.06M524.67 554.91L524.95 555.06L524.67 555.21M523.35 495.11L522.63 493.87M522.63 494.16L522.63 493.87L522.87 494.02M530.29 495.11L530.98 493.93M530.75 494.07L530.98 493.93L530.97 494.20M530.29 447.16L528.71 447.16M528.99 447.31L528.71 447.16L528.99 447.01M533.77 513.10L533.08 511.91M533.08 512.18L533.08 511.91L533.31 512.05M540.71 477.13L541.56 475.67M541.27 475.85L541.56 475.67L541.55 476.01M544.19 531.08L543.34 529.62M543.35 529.96L543.34 529.62L543.63 529.80" stroke="#ff1050" stroke-width="1.125" fill="none" stroke-linecap="butt" stroke-linejoin="bevel"/>
<path d="M415.67 513.10L416.57 511.55M416.26 511.74L416.57 511.55L416.56 511.91M415.67 489.12L416.57 487.58M416.26 487.76L416.57 487.58L416.56 487.93M419.15 519.09L418.25 517.54M418.26 517.90L418.25 517.54L418.56 517.73M419.15 495.11L418.25 493.57M418.26 493.93L418.25 493.57L418.56 493.75M419.15 483.12L420.94 483.12M420.62 482.95L420.94 483.12L420.62 483.30M426.09 519.09L424.30 519.09M424.61 519.26L424.30 519.09L424.61 518.92M426.09 519.09L426.96 517.59M426.67 517.77L426.96 517.59L426.95 517.94M429.57 489.12L428.70 487.62M428.71 487.97L428.70 487.62L428.99 487.80M429.57 465.14L431.39 465.14M431.07 464.97L431.39 465.14L431.07 465.32M436.51 549.06L437.50 547.37M437.16 547.57L437.50 547.37L437.49 547.76M436.51 537.08L434.68 537.08M435.01 537.25L434.68 537.08L435.01 536.90M436.51 513.10L437.39 511.58M437.09 511.76L437.39 511.58L437.38 511.93M439.99 495.11L439.11 493.60M439.12 493.95L439.11 493.60L439.41 493.78M439.99 459.15L439.00 457.45M439.01 457.84L439.00 457.45L439.34 457.65M446.93 519.09L447.90 517.42M447.57 517.62L447.90 517.42L447.89 517.81M450.41 489.12L449.44 487.45M449.45 487.83L449.44 487.45L449.77 487.65M457.35 537.08L458.23 535.56M457.93 535.74L458.23 535.56L458.22 535.91M460.83 471.14L459.95 469.62M459.96 469.97L459.95 469.62L460.25 469.80M460.83 459.15L462.85 459.15M462.50 458.95L462.85 459.15L462.50 459.34M467.77 555.06L468.73 553.40M468.41 553.60L468.73 553.40L468.72 553.79M467.77 543.07L465.73 543.07M466.09 543.27L465.73 543.07L466.09 542.87M467.77 519.09L468.70 517.50M468.38 517.69L468.70 517.50L468.69 517.87M467.77 459.15L468.80 457.38M468.45 457.59L468.80 457.38L468.79 457.78M471.25 573.04L473.14 573.04M472.81 572.86L473.14 573.04L472.81 573.22M471.25 489.12L470.33 487.53M470.33 487.90L470.33 487.53L470.64 487.72M471.25 453.15L470.29 451.50M470.30 451.88L470.29 451.50L470.61 451.69M478.19 537.08L479.18 535.36M478.85 535.57L479.18 535.36L479.17 535.76M478.19 477.13L479.14 475.49M478.82 475.69L479.14 475.49L479.13 475.87M481.67 531.08L480.71 529.43M480.72 529.81L480.71 529.43L481.04 529.63M481.67 471.14L480.68 469.43M480.69 469.83L480.68 469.43L481.02 469.64M481.67 459.15L483.51 459.15M483.18 458.97L483.51 459.15L483.18 459.32M481.67 447.16L483.49 447.16M483.17 446.98L483.49 447.16L483.17 447.33M488.61 555.06L486.72 555.06M487.05 555.24L486.72 555.06L487.05 554.88M488.61 543.07L486.75 543.07M487.08 543.25L486.75 543.07L487.08 542.89M488.61 435.17L486.79 435.17M487.11 435.34L486.79 435.17L487.11 434.99M502.51 555.06L504.40 555.06M504.07 554.88L504.40 555.06L504.07 555.24M502.51 543.07L504.37 543.07M504.04 542.89L504.37 543.07L504.04 543.25M502.51 435.17L504.33 435.17M504.01 434.99L504.33 435.17L504.01 435.34M509.45 531.08L510.41 529.43M510.08 529.63L510.41 529.43L510.40 529.81M509.45 471.14L510.44 469.43M510.10 469.64L510.44 469.43L510.43 469.83M509.45 459.15L507.61 459.15M507.94 459.32L507.61 459.15L507.94 458.97M509.45 447.16L507.63 447.16M507.95 447.33L507.63 447.16L507.95 446.98M512.93 537.08L511.94 535.36M511.95 535.76L511.94 535.36L512.27 535.57M512.93 477.13L511.98 475.49M511.99 475.87L511.98 475.49L512.30 475.69M519.87 573.04L517.98 573.04M518.31 573.22L517.98 573.04L518.31 572.86M519.87 489.12L520.79 487.53M520.48 487.72L520.79 487.53L520.79 487.90M519.87 453.15L520.83 451.50M520.51 451.69L520.83 451.50L520.82 451.88M523.35 555.06L522.39 553.40M522.40 553.79L522.39 553.40L522.71 553.60M523.35 543.07L525.39 543.07M525.03 542.87L525.39 543.07L525.03 543.27M523.35 519.09L522.42 517.50M522.43 517.87L522.42 517.50L522.74 517.69M523.35 459.15L522.32 457.38M522.33 457.78L522.32 457.38L522.67 457.59M530.29 471.14L531.17 469.62M530.87 469.80L531.17 469.62L531.16 469.97M530.29 459.15L528.27 459.15M528.62 459.34L528.27 459.15L528.62 458.95M533.77 537.08L532.89 535.56M532.90 535.91L532.89 535.56L533.19 535.74M540.71 489.12L541.68 487.45M541.35 487.65L541.68 487.45L541.67 487.83M544.19 519.09L543.22 517.42M543.23 517.81L543.22 517.42L543.55 517.62M551.13 495.11L552.01 493.60M551.71 493.78L552.01 493.60L552.00 493.95M551.13 459.15L552.12 457.45M551.78 457.65L552.12 457.45L552.11 457.84M554.61 549.06L553.62 547.37M553.63 547.76L553.62 547.37L553.96 547.57M554.61 537.08L556.44 537.08M556.11 536.90L556.44 537.08L556.11 537.25M554.61 513.10L553.73 511.58M553.74 511.93L553.73 511.58L554.03 511.76M561.55 489.12L562.42 487.62M562.13 487.80L562.42 487.62L562.41 487.97M561.55 465.14L559.73 465.14M560.05 465.32L559.73 465.14L560.05 464.97M565.03 519.09L564.16 517.59M564.17 517.94L564.16 517.59L564.45 517.77M565.03 519.09L566.82 519.09M566.51 518.92L566.82 519.09L566.51 519.26M571.97 519.09L572.87 517.54M572.56 517.73L572.87 517.54L572.86 517.90M571.97 495.11L572.87 493.57M572.56 493.75L572.87 493.57L572.86 493.93M571.97 483.12L570.18 483.12M570.50 483.30L570.18 483.12L570.50 482.95M575.45 513.10L574.55 511.55M574.56 511.91L574.55 511.55L574.86 511.74M575.45 489.12L574.55 487.58M574.56 487.93L574.55 487.58L574.86 487.76" stroke="#ff1050" stroke-width="1.250" fill="none" stroke-linecap="butt" stroke-linejoin="bevel"/>
<path d="M457.35 501.11L458.44 499.23M458.07 499.45L458.44 499.23L458.43 499.66M460.83 507.10L459.74 505.22M459.75 505.66L459.74 505.22L460.11 505.45M467.77 483.12L468.92 481.15M468.53 481.39L468.92 481.15L468.91 481.61M471.25 549.06L470.21 547.28M470.22 547.69L470.21 547.28L470.57 547.50M471.25 525.09L470.10 523.10M470.11 523.56L470.10 523.10L470.49 523.34M478.19 429.17L476.11 429.17M476.47 429.37L476.11 429.17L476.47 428.97M512.93 429.17L515.01 429.17M514.65 428.97L515.01 429.17L514.65 429.37M519.87 549.06L520.91 547.28M520.55 547.50L520.91 547.28L520.90 547.69M519.87 525.09L521.02 523.10M520.63 523.34L521.02 523.10L521.01 523.56M523.35 483.12L522.20 481.15M522.21 481.61L522.20 481.15L522.59 481.39M530.29 507.10L531.38 505.22M531.01 505.45L531.38 505.22L531.37 505.66M533.77 501.11L532.68 499.23M532.69 499.66L532.68 499.23L533.05 499.45" stroke="#ff1050" stroke-width="1.375" fill="none" stroke-linecap="butt" stroke-linejoin="bevel"/>
<path d="M415.67 501.11L416.96 498.89M416.52 499.16L416.96 498.89L416.94 499.40M419.15 507.10L417.86 504.88M417.87 505.40L417.86 504.88L418.30 505.15M436.51 501.11L437.84 498.82M437.39 499.09L437.84 498.82L437.83 499.35M439.99 507.10L438.66 504.81M438.67 505.34L438.66 504.81L439.11 505.08M467.77 435.17L469.00 437.28M468.98 436.79L469.00 437.28L468.58 437.03M471.25 561.05L470.01 563.19M470.43 562.93L470.01 563.19L470.02 562.70M478.19 465.14L479.55 462.81M479.09 463.09L479.55 462.81L479.53 463.35M481.67 543.07L480.30 540.71M480.31 541.26L480.30 540.71L480.77 540.99M509.45 543.07L510.82 540.71M510.35 540.99L510.82 540.71L510.81 541.26M512.93 465.14L511.57 462.81M511.59 463.35L511.57 462.81L512.03 463.09M519.87 561.05L521.11 563.19M521.10 562.70L521.11 563.19L520.69 562.93M523.35 435.17L522.12 437.28M522.54 437.03L522.12 437.28L522.14 436.79M551.13 507.10L552.46 504.81M552.01 505.08L552.46 504.81L552.45 505.34M554.61 501.11L553.28 498.82M553.29 499.35L553.28 498.82L553.73 499.09M571.97 507.10L573.26 504.88M572.82 505.15L573.26 504.88L573.25 505.40M575.45 501.11L574.16 498.89M574.18 499.40L574.16 498.89L574.60 499.16" stroke="#ff1050" stroke-width="1.500" fill="none" stroke-linecap="butt" stroke-linejoin="bevel"/>
<path d="M426.09 531.08L427.65 528.40M427.12 528.72L427.65 528.40L427.63 529.02M426.09 471.14L427.64 468.46M427.12 468.78L427.64 468.46L427.63 469.08M429.57 537.08L428.01 534.39M428.03 535.01L428.01 534.39L428.54 534.71M429.57 477.13L428.02 474.45M428.03 475.07L428.02 474.45L428.54 474.77M436.51 465.14L437.98 462.62M437.48 462.92L437.98 462.62L437.96 463.20M439.99 543.07L438.52 540.54M438.53 541.12L438.52 540.54L439.02 540.84M446.93 483.12L448.34 480.70M447.86 480.99L448.34 480.70L448.32 481.26M450.41 525.09L449.00 522.65M449.01 523.22L449.00 522.65L449.48 522.95M457.35 465.14L458.86 462.54M458.34 462.86L458.86 462.54L458.84 463.14M460.83 543.07L459.32 540.46M459.33 541.06L459.32 540.46L459.83 540.78M467.77 579.04L469.17 576.63M468.69 576.92L469.17 576.63L469.16 577.19M467.77 423.18L469.27 420.60M468.76 420.91L469.27 420.60L469.25 421.20M467.77 351.24L469.34 348.54M468.80 348.87L469.34 348.54L469.32 349.17M471.25 585.03L469.82 582.58M469.84 583.14L469.82 582.58L470.31 582.87M471.25 429.17L469.75 426.60M469.77 427.19L469.75 426.60L470.26 426.91M471.25 357.24L469.68 354.54M469.70 355.16L469.68 354.54L470.21 354.86M478.19 405.20L479.67 402.64M479.17 402.95L479.67 402.64L479.66 403.23M478.19 393.21L479.74 390.53M479.22 390.85L479.74 390.53L479.73 391.15M481.67 399.20L480.26 396.77M480.27 397.33L480.26 396.77L480.74 397.06M481.67 387.21L480.12 384.53M480.13 385.15L480.12 384.53L480.64 384.86M509.45 399.20L510.86 396.77M510.38 397.06L510.86 396.77L510.85 397.33M509.45 387.21L511.00 384.53M510.48 384.86L511.00 384.53L510.99 385.15M512.93 405.20L511.45 402.64M511.46 403.23L511.45 402.64L511.95 402.95M512.93 393.21L511.38 390.53M511.39 391.15L511.38 390.53L511.90 390.85M519.87 585.03L521.30 582.58M520.81 582.87L521.30 582.58L521.28 583.14M519.87 429.17L521.37 426.60M520.86 426.91L521.37 426.60L521.35 427.19M519.87 357.24L521.44 354.54M520.91 354.86L521.44 354.54L521.42 355.16M523.35 579.04L521.95 576.63M521.96 577.19L521.95 576.63L522.43 576.92M523.35 423.18L521.85 420.60M521.87 421.20L521.85 420.60L522.36 420.91M523.35 351.24L521.78 348.54M521.80 349.17L521.78 348.54L522.32 348.87M530.29 543.07L531.80 540.46M531.29 540.78L531.80 540.46L531.79 541.06M533.77 465.14L532.26 462.54M532.28 463.14L532.26 462.54L532.78 462.86M540.71 525.09L542.12 522.65M541.64 522.95L542.12 522.65L542.11 523.22M544.19 483.12L542.78 480.70M542.80 481.26L542.78 480.70L543.26 480.99M551.13 543.07L552.60 540.54M552.10 540.84L552.60 540.54L552.59 541.12M554.61 465.14L553.14 462.62M553.16 463.20L553.14 462.62L553.64 462.92M561.55 537.08L563.11 534.39M562.58 534.71L563.11 534.39L563.09 535.01M561.55 477.13L563.10 474.45M562.58 474.77L563.10 474.45L563.09 475.07M565.03 531.08L563.47 528.40M563.49 529.02L563.47 528.40L564.00 528.72M565.03 471.14L563.48 468.46M563.49 469.08L563.48 468.46L564.00 468.78" stroke="#ff1050" stroke-width="1.625" fill="none" stroke-linecap="butt" stroke-linejoin="bevel"/>
<path d="M436.51 453.15L438.13 450.35M437.58 450.69L438.13 450.35L438.12 451.00M439.99 555.06L438.36 552.26M438.38 552.90L438.36 552.26L438.92 552.59M439.99 447.16L443.23 447.16M442.66 446.85L443.23 447.16L442.66 447.47M446.93 555.06L443.68 555.06M444.25 555.37L443.68 555.06L444.25 554.75M457.35 441.16L459.03 438.27M458.46 438.62L459.03 438.27L459.01 438.94M460.83 567.05L459.15 564.15M459.17 564.82L459.15 564.15L459.72 564.50M460.83 435.17L464.17 435.17M463.59 434.85L464.17 435.17L463.59 435.49M467.77 567.05L464.41 567.05M465.00 567.37L464.41 567.05L465.00 566.73M467.77 447.16L469.52 444.14M468.93 444.50L469.52 444.14L469.51 444.84M467.77 363.23L469.45 360.33M468.88 360.68L469.45 360.33L469.44 361.00M471.25 369.23L469.56 366.32M469.58 367.00L469.56 366.32L470.14 366.67M478.19 609.01L479.91 606.04M479.33 606.40L479.91 606.04L479.90 606.73M481.67 411.19L480.04 408.38M480.05 409.03L480.04 408.38L480.59 408.71M488.61 579.04L490.35 576.04M489.76 576.40L490.35 576.04L490.33 576.73M488.61 555.06L490.23 552.27M489.68 552.60L490.23 552.27L490.21 552.91M488.61 459.15L490.21 456.39M489.66 456.72L490.21 456.39L490.19 457.03M488.61 435.17L490.21 432.42M489.66 432.75L490.21 432.42L490.19 433.05M488.61 423.18L490.22 420.40M489.67 420.74L490.22 420.40L490.20 421.05M492.09 573.04L490.35 570.04M490.37 570.74L490.35 570.04L490.94 570.40M492.09 549.06L490.47 546.28M490.49 546.92L490.47 546.28L491.02 546.61M492.09 453.15L490.49 450.40M490.51 451.04L490.49 450.40L491.04 450.73M492.09 429.17L490.49 426.42M490.51 427.06L490.49 426.42L491.04 426.75M492.09 417.18L490.48 414.41M490.50 415.05L490.48 414.41L491.03 414.74M499.03 573.04L500.77 570.04M500.18 570.40L500.77 570.04L500.75 570.74M499.03 549.06L500.65 546.28M500.10 546.61L500.65 546.28L500.63 546.92M499.03 453.15L500.63 450.40M500.08 450.73L500.63 450.40L500.61 451.04M499.03 429.17L500.63 426.42M500.08 426.75L500.63 426.42L500.61 427.06M499.03 417.18L500.64 414.41M500.09 414.74L500.64 414.41L500.62 415.05M502.51 579.04L500.77 576.04M500.79 576.73L500.77 576.04L501.36 576.40M502.51 555.06L500.89 552.27M500.91 552.91L500.89 552.27L501.44 552.60M502.51 459.15L500.91 456.39M500.93 457.03L500.91 456.39L501.46 456.72M502.51 435.17L500.91 432.42M500.93 433.05L500.91 432.42L501.46 432.75M502.51 423.18L500.90 420.40M500.92 421.05L500.90 420.40L501.45 420.74M509.45 411.19L511.08 408.38M510.53 408.71L511.08 408.38L511.07 409.03M512.93 609.01L511.21 606.04M511.22 606.73L511.21 606.04L511.79 606.40M519.87 369.23L521.56 366.32M520.98 366.67L521.56 366.32L521.54 367.00M523.35 567.05L526.71 567.05M526.12 566.73L526.71 567.05L526.12 567.37M523.35 447.16L521.60 444.14M521.61 444.84L521.60 444.14L522.19 444.50M523.35 363.23L521.67 360.33M521.68 361.00L521.67 360.33L522.24 360.68M530.29 567.05L531.97 564.15M531.40 564.50L531.97 564.15L531.95 564.82M530.29 435.17L526.95 435.17M527.53 435.49L526.95 435.17L527.53 434.85M533.77 441.16L532.09 438.27M532.11 438.94L532.09 438.27L532.66 438.62M544.19 555.06L547.44 555.06M546.87 554.75L547.44 555.06L546.87 555.37M551.13 555.06L552.76 552.26M552.20 552.59L552.76 552.26L552.74 552.90M551.13 447.16L547.89 447.16M548.46 447.47L547.89 447.16L548.46 446.85M554.61 453.15L552.99 450.35M553.00 451.00L552.99 450.35L553.54 450.69" stroke="#ff1050" stroke-width="1.750" fill="none" stroke-linecap="butt" stroke-linejoin="bevel"/>
<path d="M426.09 483.12L427.86 480.08M427.26 480.45L427.86 480.08L427.84 480.79M429.57 525.09L427.80 522.04M427.82 522.74L427.80 522.04L428.40 522.40M467.77 591.03L469.66 587.76M469.02 588.15L469.66 587.76L469.65 588.52M467.77 375.22L469.65 371.99M469.01 372.37L469.65 371.99L469.63 372.73M471.25 561.05L469.49 558.02M469.50 558.72L469.49 558.02L470.09 558.38M471.25 381.22L469.37 377.97M469.39 378.72L469.37 377.97L470.01 378.36M478.19 621.00L480.06 617.78M479.42 618.17L480.06 617.78L480.04 618.53M478.19 597.02L480.01 593.88M479.39 594.25L480.01 593.88L480.00 594.60M478.19 417.18L479.99 414.09M479.38 414.46L479.99 414.09L479.97 414.80M478.19 381.22L479.98 378.14M479.37 378.51L479.98 378.14L479.96 378.85M481.67 603.02L479.83 599.85M479.85 600.58L479.83 599.85L480.46 600.23M481.67 375.22L479.88 372.14M479.90 372.85L479.88 372.14L480.49 372.51M488.61 591.03L490.41 587.92M489.80 588.29L490.41 587.92L490.40 588.64M488.61 411.19L490.39 408.13M489.78 408.50L490.39 408.13L490.37 408.84M488.61 399.20L490.46 396.02M489.83 396.40L490.46 396.02L490.44 396.75M488.61 387.21L490.46 384.03M489.83 384.41L490.46 384.03L490.44 384.76M488.61 375.22L490.46 372.04M489.83 372.43L490.46 372.04L490.44 372.78M488.61 363.23L490.49 360.00M489.85 360.39L490.49 360.00L490.47 360.75M488.61 351.24L490.55 347.91M489.89 348.31L490.55 347.91L490.53 348.68M492.09 585.03L490.29 581.93M490.31 582.65L490.29 581.93L490.90 582.31M492.09 405.20L490.31 402.14M490.33 402.84L490.31 402.14L490.92 402.50M492.09 393.21L490.24 390.02M490.26 390.76L490.24 390.02L490.87 390.40M492.09 381.22L490.24 378.04M490.26 378.77L490.24 378.04L490.87 378.42M492.09 369.23L490.24 366.05M490.26 366.78L490.24 366.05L490.87 366.43M492.09 357.24L490.21 354.00M490.23 354.75L490.21 354.00L490.85 354.39M499.03 585.03L500.83 581.93M500.22 582.31L500.83 581.93L500.81 582.65M499.03 405.20L500.81 402.14M500.20 402.50L500.81 402.14L500.79 402.84M499.03 393.21L500.88 390.02M500.25 390.40L500.88 390.02L500.86 390.76M499.03 381.22L500.88 378.04M500.25 378.42L500.88 378.04L500.86 378.77M499.03 369.23L500.88 366.05M500.25 366.43L500.88 366.05L500.86 366.78M499.03 357.24L500.91 354.00M500.27 354.39L500.91 354.00L500.89 354.75M502.51 591.03L500.71 587.92M500.72 588.64L500.71 587.92L501.32 588.29M502.51 411.19L500.73 408.13M500.75 408.84L500.73 408.13L501.34 408.50M502.51 399.20L500.66 396.02M500.68 396.75L500.66 396.02L501.29 396.40M502.51 387.21L500.66 384.03M500.68 384.76L500.66 384.03L501.29 384.41M502.51 375.22L500.66 372.04M500.68 372.78L500.66 372.04L501.29 372.43M502.51 363.23L500.63 360.00M500.65 360.75L500.63 360.00L501.27 360.39M502.51 351.24L500.57 347.91M500.59 348.68L500.57 347.91L501.23 348.31M509.45 603.02L511.29 599.85M510.66 600.23L511.29 599.85L511.27 600.58M509.45 375.22L511.24 372.14M510.63 372.51L511.24 372.14L511.22 372.85M512.93 621.00L511.06 617.78M511.08 618.53L511.06 617.78L511.70 618.17M512.93 597.02L511.11 593.88M511.12 594.60L511.11 593.88L511.73 594.25M512.93 417.18L511.13 414.09M511.15 414.80L511.13 414.09L511.74 414.46M512.93 381.22L511.14 378.14M511.16 378.85L511.14 378.14L511.75 378.51M519.87 561.05L521.63 558.02M521.03 558.38L521.63 558.02L521.62 558.72M519.87 381.22L521.75 377.97M521.11 378.36L521.75 377.97L521.73 378.72M523.35 591.03L521.46 587.76M521.47 588.52L521.46 587.76L522.10 588.15M523.35 375.22L521.47 371.99M521.49 372.73L521.47 371.99L522.11 372.37M561.55 525.09L563.32 522.04M562.72 522.40L563.32 522.04L563.30 522.74M565.03 483.12L563.26 480.08M563.28 480.79L563.26 480.08L563.86 480.45" stroke="#ff1050" stroke-width="1.875" fill="none" stroke-linecap="butt" stroke-linejoin="bevel"/>
<path d="M467.77 615.00L469.88 611.37M469.16 611.80L469.88 611.37L469.86 612.21M467.77 603.02L469.81 599.50M469.12 599.92L469.81 599.50L469.79 600.31M467.77 411.19L469.88 407.55M469.16 407.99L469.88 407.55L469.86 408.39M467.77 387.21L469.88 383.57M469.16 384.01L469.88 383.57L469.86 384.41M471.25 597.02L469.23 593.53M469.25 594.34L469.23 593.53L469.91 593.95M471.25 417.18L469.14 413.54M469.16 414.38L469.14 413.54L469.86 413.98M471.25 393.21L469.13 389.56M469.15 390.40L469.13 389.56L469.85 390.00M478.19 632.99L480.26 629.42M479.56 629.85L480.26 629.42L480.24 630.24M478.19 369.23L480.17 365.82M479.50 366.22L480.17 365.82L480.15 366.60M478.19 357.24L480.25 353.69M479.55 354.11L480.25 353.69L480.23 354.51M481.67 615.00L479.72 611.65M479.74 612.43L479.72 611.65L480.39 612.05M481.67 591.03L479.66 587.57M479.68 588.37L479.66 587.57L480.35 587.98M481.67 363.23L479.72 359.88M479.74 360.65L479.72 359.88L480.38 360.28M481.67 351.24L479.67 347.80M479.69 348.59L479.67 347.80L480.35 348.21M488.61 603.02L490.60 599.58M489.92 599.99L490.60 599.58L490.58 600.38M492.09 609.01L489.97 605.36M489.99 606.20L489.97 605.36L490.69 605.80M492.09 597.02L490.10 593.60M490.12 594.39L490.10 593.60L490.78 594.01M499.03 609.01L501.15 605.36M500.43 605.80L501.15 605.36L501.13 606.20M499.03 597.02L501.02 593.60M500.34 594.01L501.02 593.60L501.00 594.39M502.51 603.02L500.52 599.58M500.54 600.38L500.52 599.58L501.20 599.99M509.45 615.00L511.40 611.65M510.73 612.05L511.40 611.65L511.38 612.43M509.45 591.03L511.46 587.57M510.77 587.98L511.46 587.57L511.44 588.37M509.45 363.23L511.40 359.88M510.74 360.28L511.40 359.88L511.38 360.65M509.45 351.24L511.45 347.80M510.77 348.21L511.45 347.80L511.43 348.59M512.93 632.99L510.86 629.42M510.88 630.24L510.86 629.42L511.56 629.85M512.93 369.23L510.95 365.82M510.97 366.60L510.95 365.82L511.62 366.22M512.93 357.24L510.87 353.69M510.89 354.51L510.87 353.69L511.57 354.11M519.87 597.02L521.89 593.53M521.21 593.95L521.89 593.53L521.87 594.34M519.87 417.18L521.98 413.54M521.26 413.98L521.98 413.54L521.96 414.38M519.87 393.21L521.99 389.56M521.27 390.00L521.99 389.56L521.97 390.40M523.35 615.00L521.24 611.37M521.26 612.21L521.24 611.37L521.96 611.80M523.35 603.02L521.31 599.50M521.33 600.31L521.31 599.50L522.00 599.92M523.35 411.19L521.24 407.55M521.26 408.39L521.24 407.55L521.96 407.99M523.35 387.21L521.24 383.57M521.26 384.41L521.24 383.57L521.96 384.01" stroke="#ff1050" stroke-width="2.000" fill="none" stroke-linecap="butt" stroke-linejoin="bevel"/>
<path d="M446.93 447.16L449.08 443.44M448.35 443.89L449.08 443.44L449.06 444.30M450.41 561.05L448.25 557.33M448.27 558.19L448.25 557.33L448.99 557.78M450.41 441.16L454.71 441.16M453.95 440.75L454.71 441.16L453.95 441.58M457.35 561.05L453.03 561.05M453.79 561.47L453.03 561.05L453.79 560.64M467.77 650.97L469.93 647.25M469.19 647.70L469.93 647.25L469.91 648.11M467.77 638.98L470.02 635.10M469.26 635.57L470.02 635.10L470.00 636.00M467.77 626.99L469.98 623.18M469.23 623.64L469.98 623.18L469.96 624.06M467.77 399.20L470.03 395.31M469.26 395.77L470.03 395.31L470.01 396.21M471.25 656.97L469.08 653.23M469.10 654.10L469.08 653.23L469.82 653.68M471.25 405.20L468.99 401.30M469.01 402.20L468.99 401.30L469.76 401.76M481.67 626.99L479.52 623.29M479.54 624.15L479.52 623.29L480.25 623.74M488.61 626.99L490.83 623.17M490.07 623.63L490.83 623.17L490.81 624.05M488.61 615.00L490.73 611.35M490.01 611.79L490.73 611.35L490.71 612.20M492.09 621.00L489.87 617.18M489.89 618.06L489.87 617.18L490.63 617.63M499.03 621.00L501.25 617.18M500.49 617.63L501.25 617.18L501.23 618.06M502.51 626.99L500.29 623.17M500.31 624.05L500.29 623.17L501.05 623.63M502.51 615.00L500.39 611.35M500.41 612.20L500.39 611.35L501.11 611.79M509.45 626.99L511.60 623.29M510.87 623.74L511.60 623.29L511.58 624.15M519.87 656.97L522.04 653.23M521.30 653.68L522.04 653.23L522.02 654.10M519.87 405.20L522.13 401.30M521.36 401.76L522.13 401.30L522.11 402.20M523.35 650.97L521.19 647.25M521.21 648.11L521.19 647.25L521.93 647.70M523.35 638.98L521.10 635.10M521.12 636.00L521.10 635.10L521.86 635.57M523.35 626.99L521.14 623.18M521.16 624.06L521.14 623.18L521.89 623.64M523.35 399.20L521.09 395.31M521.11 396.21L521.09 395.31L521.86 395.77M533.77 561.05L538.09 561.05M537.33 560.64L538.09 561.05L537.33 561.47M540.71 561.05L542.87 557.33M542.13 557.78L542.87 557.33L542.85 558.19M540.71 441.16L536.41 441.16M537.17 441.58L536.41 441.16L537.17 440.75M544.19 447.16L542.04 443.44M542.06 444.30L542.04 443.44L542.77 443.89" stroke="#ff1050" stroke-width="2.125" fill="none" stroke-linecap="butt" stroke-linejoin="bevel"/>
<path d="M471.25 644.98L468.86 640.86M468.89 641.82L468.86 640.86L469.68 641.36M471.25 609.01L468.92 605.00M468.95 605.93L468.92 605.00L469.72 605.48M478.19 644.98L480.50 641.00M479.71 641.48L480.50 641.00L480.47 641.92M478.19 585.03L480.63 580.83M479.80 581.33L480.63 580.83L480.60 581.80M478.19 429.17L480.62 424.98M479.79 425.48L480.62 424.98L480.60 425.95M481.67 638.98L479.29 634.88M479.31 635.83L479.29 634.88L480.10 635.37M481.67 423.18L479.25 419.01M479.28 419.98L479.25 419.01L480.08 419.51M488.61 650.97L491.01 646.83M490.19 647.33L491.01 646.83L490.99 647.79M488.61 638.98L490.92 634.99M490.14 635.47L490.92 634.99L490.90 635.92M492.09 656.97L489.61 652.70M489.64 653.68L489.61 652.70L490.46 653.21M492.09 644.98L489.69 640.85M489.72 641.80L489.69 640.85L490.51 641.34M492.09 632.99L489.78 629.00M489.80 629.92L489.78 629.00L490.56 629.48M499.03 656.97L501.51 652.70M500.66 653.21L501.51 652.70L501.48 653.68M499.03 644.98L501.43 640.85M500.61 641.34L501.43 640.85L501.40 641.80M499.03 632.99L501.34 629.00M500.56 629.48L501.34 629.00L501.32 629.92M502.51 650.97L500.11 646.83M500.13 647.79L500.11 646.83L500.93 647.33M502.51 638.98L500.20 634.99M500.22 635.92L500.20 634.99L500.98 635.47M509.45 638.98L511.83 634.88M511.02 635.37L511.83 634.88L511.81 635.83M509.45 423.18L511.87 419.01M511.04 419.51L511.87 419.01L511.84 419.98M512.93 644.98L510.62 641.00M510.65 641.92L510.62 641.00L511.41 641.48M512.93 585.03L510.49 580.83M510.52 581.80L510.49 580.83L511.32 581.33M512.93 429.17L510.50 424.98M510.52 425.95L510.50 424.98L511.33 425.48M519.87 644.98L522.26 640.86M521.44 641.36L522.26 640.86L522.23 641.82M519.87 609.01L522.20 605.00M521.40 605.48L522.20 605.00L522.17 605.93" stroke="#ff1050" stroke-width="2.250" fill="none" stroke-linecap="butt" stroke-linejoin="bevel"/>
<path d="M471.25 632.99L468.73 628.64M468.75 629.65L468.73 628.64L469.59 629.16M471.25 621.00L468.76 616.71M468.79 617.70L468.76 616.71L469.61 617.23M478.19 656.97L480.73 652.59M479.86 653.12L480.73 652.59L480.70 653.60M478.19 441.16L480.75 436.74M479.88 437.27L480.75 436.74L480.73 437.77M481.67 650.97L479.06 646.47M479.08 647.51L479.06 646.47L479.95 647.01M481.67 579.04L479.18 574.75M479.20 575.74L479.18 574.75L480.03 575.26M481.67 567.05L479.10 562.61M479.12 563.64L479.10 562.61L479.97 563.14M488.61 567.05L491.18 562.61M490.31 563.15L491.18 562.61L491.16 563.64M488.61 447.16L491.12 442.83M490.27 443.35L491.12 442.83L491.09 443.83M492.09 561.05L489.52 556.62M489.54 557.65L489.52 556.62L490.39 557.15M492.09 441.16L489.58 436.84M489.61 437.84L489.58 436.84L490.44 437.36M499.03 561.05L501.60 556.62M500.73 557.15L501.60 556.62L501.58 557.65M499.03 441.16L501.54 436.84M500.68 437.36L501.54 436.84L501.51 437.84M502.51 567.05L499.94 562.61M499.96 563.64L499.94 562.61L500.81 563.15M502.51 447.16L500.00 442.83M500.03 443.83L500.00 442.83L500.85 443.35M509.45 650.97L512.06 646.47M511.17 647.01L512.06 646.47L512.04 647.51M509.45 579.04L511.94 574.75M511.09 575.26L511.94 574.75L511.92 575.74M509.45 567.05L512.02 562.61M511.15 563.14L512.02 562.61L512.00 563.64M512.93 656.97L510.39 652.59M510.42 653.60L510.39 652.59L511.26 653.12M512.93 441.16L510.37 436.74M510.39 437.77L510.37 436.74L511.24 437.27M519.87 632.99L522.39 628.64M521.53 629.16L522.39 628.64L522.37 629.65M519.87 621.00L522.36 616.71M521.51 617.23L522.36 616.71L522.33 617.70" stroke="#ff1050" stroke-width="2.375" fill="none" stroke-linecap="butt" stroke-linejoin="bevel"/>
<path d="M471.25 441.16L477.19 441.16M476.15 440.59L477.19 441.16L476.15 441.73M478.19 573.04L481.61 567.15M480.44 567.86L481.61 567.15L481.57 568.51M478.19 561.05L472.19 561.05M473.25 561.63L472.19 561.05L473.25 560.48M481.67 435.17L478.19 429.17M478.23 430.56L478.19 429.17L479.38 429.89M509.45 435.17L512.93 429.17M511.74 429.89L512.93 429.17L512.89 430.56M512.93 573.04L509.51 567.15M509.55 568.51L509.51 567.15L510.68 567.86M512.93 561.05L518.93 561.05M517.87 560.48L518.93 561.05L517.87 561.63M519.87 441.16L513.93 441.16M514.97 441.73L513.93 441.16L514.97 440.59" stroke="#ff1050" stroke-width="2.625" fill="none" stroke-linecap="butt" stroke-linejoin="bevel"/>
</g>
<rect x="595.50" y="360.50" width="42.00" height="169.00" fill="#fff"/>
<clipPath id="iclipd"><rect x="595.50" y="360.50" width="42.00" height="169.00"/></clipPath>
<g clip-path="url(#iclipd)">
<line x1="595.50" y1="446.52" x2="637.50" y2="446.52" stroke="#ffc4ff" stroke-width="0.8"/>
<polyline points="630.41,529.50 636.26,529.16 634.63,528.82 630.65,528.49 627.49,528.15 625.14,527.81 623.04,527.47 621.00,527.13 619.41,526.80 616.84,526.46 616.84,526.12 615.54,525.78 614.04,525.44 612.21,525.11 609.82,524.77 606.83,524.43 606.89,524.09 620.39,523.75 625.13,523.42 620.78,523.08 617.82,522.74 616.36,522.40 616.15,522.06 616.82,521.73 617.71,521.39 618.11,521.05 617.58,520.71 616.14,520.37 614.27,520.04 612.58,519.70 611.38,519.36 610.71,519.02 610.47,518.68 610.50,518.35 610.57,518.01 610.32,517.67 610.29,517.33 615.34,516.99 619.90,516.66 618.72,516.32 616.33,515.98 614.37,515.64 613.10,515.30 612.34,514.97 611.84,514.63 611.47,514.29 611.17,513.95 610.93,513.61 610.75,513.28 610.67,512.94 610.76,512.60 611.18,512.26 612.37,511.92 615.27,511.59 612.01,511.25 605.85,510.91 605.57,510.57 605.45,510.23 605.37,509.90 605.27,509.56 605.17,509.22 605.05,508.88 604.95,508.54 604.87,508.21 604.80,507.87 604.74,507.53 604.67,507.19 604.57,506.85 604.40,506.52 604.16,506.18 603.81,505.84 603.36,505.50 602.80,505.16 602.13,504.83 601.34,504.49 600.45,504.15 599.49,503.81 598.48,503.47 597.52,503.14 596.77,502.80 596.53,502.46 602.13,502.12 605.25,501.78 606.32,501.45 601.04,501.11 595.71,500.77 595.64,500.43 595.58,500.09 595.53,499.76 595.50,499.42 595.51,499.08 595.58,498.74 595.78,498.40 596.25,498.07 597.40,497.73 600.16,497.39 604.82,497.05 605.22,496.71 601.57,496.38 598.95,496.04 597.45,495.70 596.54,495.36 595.94,495.02 595.58,494.69 595.53,494.35 596.01,494.01 597.48,493.67 600.14,493.33 603.17,493.00 605.16,492.66 605.90,492.32 605.98,491.98 605.89,491.64 605.82,491.31 605.85,490.97 605.94,490.63 605.99,490.29 605.85,489.95 605.28,489.62 604.14,489.28 602.46,488.94 600.57,488.60 598.84,488.26 597.48,487.93 596.54,487.59 595.94,487.25 595.62,486.91 595.50,486.57 595.58,486.24 595.89,485.90 596.52,485.56 597.70,485.22 599.75,484.88 602.83,484.55 605.59,484.21 605.59,483.87 603.48,483.53 601.32,483.19 599.74,482.86 598.67,482.52 597.95,482.18 597.44,481.84 597.07,481.50 596.80,481.17 596.60,480.83 596.44,480.49 596.32,480.15 596.22,479.81 596.14,479.48 596.07,479.14 596.02,478.80 595.97,478.46 595.93,478.12 595.90,477.79 595.88,477.45 595.86,477.11 595.84,476.77 595.82,476.43 595.81,476.10 595.81,475.76 595.80,475.42 595.80,475.08 595.80,474.74 595.81,474.41 595.82,474.07 595.84,473.73 595.86,473.39 595.90,473.05 595.95,472.72 596.03,472.38 596.15,472.04 596.36,471.70 596.73,471.36 597.50,471.03 599.42,470.69 604.26,470.35 603.96,470.01 598.73,469.67 596.87,469.34 596.21,469.00 595.92,468.66 595.77,468.32 595.69,467.98 595.64,467.65 595.61,467.31 595.59,466.97 595.58,466.63 595.57,466.29 595.56,465.96 595.55,465.62 595.55,465.28 595.55,464.94 595.55,464.60 595.55,464.27 595.55,463.93 595.55,463.59 595.56,463.25 595.56,462.91 595.57,462.58 595.58,462.24 595.59,461.90 595.60,461.56 595.62,461.22 595.64,460.89 595.67,460.55 595.70,460.21 595.75,459.87 595.82,459.53 595.91,459.20 596.03,458.86 596.22,458.52 596.50,458.18 596.95,457.84 597.69,457.51 598.97,457.17 601.15,456.83 604.19,456.49 605.99,456.15 604.48,455.82 601.86,455.48 599.89,455.14 598.64,454.80 597.86,454.46 597.34,454.13 596.99,453.79 596.74,453.45 596.56,453.11 596.42,452.77 596.32,452.44 596.23,452.10 596.17,451.76 596.11,451.42 596.07,451.08 596.03,450.75 596.00,450.41 595.97,450.07 595.95,449.73 595.92,449.39 595.91,449.06 595.89,448.72 595.87,448.38 595.86,448.04 595.84,447.70 595.83,447.37 595.82,447.03 595.80,446.69 595.78,446.35 595.76,446.01 595.74,445.68 595.70,445.34 595.51,445.00 595.70,444.66 595.74,444.32 595.76,443.99 595.78,443.65 595.80,443.31 595.82,442.97 595.83,442.63 595.84,442.30 595.86,441.96 595.87,441.62 595.89,441.28 595.91,440.94 595.92,440.61 595.95,440.27 595.97,439.93 596.00,439.59 596.03,439.25 596.07,438.92 596.11,438.58 596.17,438.24 596.23,437.90 596.32,437.56 596.42,437.23 596.56,436.89 596.74,436.55 596.99,436.21 597.34,435.87 597.86,435.54 598.64,435.20 599.89,434.86 601.86,434.52 604.48,434.18 605.99,433.85 604.19,433.51 601.15,433.17 598.97,432.83 597.69,432.49 596.95,432.16 596.50,431.82 596.22,431.48 596.03,431.14 595.91,430.80 595.82,430.47 595.75,430.13 595.70,429.79 595.67,429.45 595.64,429.11 595.62,428.78 595.60,428.44 595.59,428.10 595.58,427.76 595.57,427.42 595.56,427.09 595.56,426.75 595.55,426.41 595.55,426.07 595.55,425.73 595.55,425.40 595.55,425.06 595.55,424.72 595.55,424.38 595.56,424.04 595.57,423.71 595.58,423.37 595.59,423.03 595.61,422.69 595.64,422.35 595.69,422.02 595.77,421.68 595.92,421.34 596.21,421.00 596.87,420.66 598.73,420.33 603.96,419.99 604.26,419.65 599.42,419.31 597.50,418.97 596.73,418.64 596.36,418.30 596.15,417.96 596.03,417.62 595.95,417.28 595.90,416.95 595.86,416.61 595.84,416.27 595.82,415.93 595.81,415.59 595.80,415.26 595.80,414.92 595.80,414.58 595.81,414.24 595.81,413.90 595.82,413.57 595.84,413.23 595.86,412.89 595.88,412.55 595.90,412.21 595.93,411.88 595.97,411.54 596.02,411.20 596.07,410.86 596.14,410.52 596.22,410.19 596.32,409.85 596.44,409.51 596.60,409.17 596.80,408.83 597.07,408.50 597.44,408.16 597.95,407.82 598.67,407.48 599.74,407.14 601.32,406.81 603.48,406.47 605.59,406.13 605.59,405.79 602.83,405.45 599.75,405.12 597.70,404.78 596.52,404.44 595.89,404.10 595.58,403.76 595.50,403.43 595.62,403.09 595.94,402.75 596.54,402.41 597.48,402.07 598.84,401.74 600.57,401.40 602.46,401.06 604.14,400.72 605.28,400.38 605.85,400.05 605.99,399.71 605.94,399.37 605.85,399.03 605.82,398.69 605.89,398.36 605.98,398.02 605.90,397.68 605.16,397.34 603.17,397.00 600.14,396.67 597.48,396.33 596.01,395.99 595.53,395.65 595.58,395.31 595.94,394.98 596.54,394.64 597.45,394.30 598.95,393.96 601.57,393.62 605.22,393.29 604.82,392.95 600.16,392.61 597.40,392.27 596.25,391.93 595.78,391.60 595.58,391.26 595.51,390.92 595.50,390.58 595.53,390.24 595.58,389.91 595.64,389.57 595.71,389.23 601.04,388.89 606.32,388.55 605.25,388.22 602.13,387.88 596.53,387.54 596.77,387.20 597.52,386.86 598.48,386.53 599.49,386.19 600.45,385.85 601.34,385.51 602.13,385.17 602.80,384.84 603.36,384.50 603.81,384.16 604.16,383.82 604.40,383.48 604.57,383.15 604.67,382.81 604.74,382.47 604.80,382.13 604.87,381.79 604.95,381.46 605.05,381.12 605.17,380.78 605.27,380.44 605.37,380.10 605.45,379.77 605.57,379.43 605.85,379.09 612.01,378.75 615.27,378.41 612.37,378.08 611.18,377.74 610.76,377.40 610.67,377.06 610.75,376.72 610.93,376.39 611.17,376.05 611.47,375.71 611.84,375.37 612.34,375.03 613.10,374.70 614.37,374.36 616.33,374.02 618.72,373.68 619.90,373.34 615.34,373.01 610.29,372.67 610.32,372.33 610.57,371.99 610.50,371.65 610.47,371.32 610.71,370.98 611.38,370.64 612.58,370.30 614.27,369.96 616.14,369.63 617.58,369.29 618.11,368.95 617.71,368.61 616.82,368.27 616.15,367.94 616.36,367.60 617.82,367.26 620.78,366.92 625.13,366.58 620.39,366.25 606.89,365.91 606.83,365.57 609.82,365.23 612.21,364.89 614.04,364.56 615.54,364.22 616.84,363.88 616.84,363.54 619.41,363.20 621.00,362.87 623.04,362.53 625.14,362.19 627.49,361.85 630.65,361.51 634.63,361.18 636.26,360.84 630.41,360.50" fill="none" stroke="#1a1aff" stroke-width="0.9" stroke-linejoin="round"/>
</g>
<path d="M595.50 529.50h1.6M637.50 529.50h-1.6M595.50 512.60h1.6M637.50 512.60h-1.6M595.50 495.70h1.6M637.50 495.70h-1.6M595.50 478.80h1.6M637.50 478.80h-1.6M595.50 461.90h1.6M637.50 461.90h-1.6M595.50 445.00h1.6M637.50 445.00h-1.6M595.50 428.10h1.6M637.50 428.10h-1.6M595.50 411.20h1.6M637.50 411.20h-1.6M595.50 394.30h1.6M637.50 394.30h-1.6M595.50 377.40h1.6M637.50 377.40h-1.6M595.50 360.50h1.6M637.50 360.50h-1.6M595.50 529.50v-1.6M595.50 360.50v1.6M606.00 529.50v-1.6M606.00 360.50v1.6M616.50 529.50v-1.6M616.50 360.50v1.6M627.00 529.50v-1.6M627.00 360.50v1.6M637.50 529.50v-1.6M637.50 360.50v1.6" stroke="#a3a3a3" stroke-width="0.6" fill="none"/>
<rect x="595.50" y="360.50" width="42.00" height="169.00" stroke="#a3a3a3" stroke-width="0.7" fill="none"/>
<text x="593.90" y="531.70" text-anchor="end" style="font-family:'Liberation Serif',serif;font-size:6.3px" fill="#262626">-2.5</text>
<text x="593.90" y="514.80" text-anchor="end" style="font-family:'Liberation Serif',serif;font-size:6.3px" fill="#262626">-2</text>
<text x="593.90" y="497.90" text-anchor="end" style="font-family:'Liberation Serif',serif;font-size:6.3px" fill="#262626">-1.5</text>
<text x="593.90" y="481.00" text-anchor="end" style="font-family:'Liberation Serif',serif;font-size:6.3px" fill="#262626">-1</text>
<text x="593.90" y="464.10" text-anchor="end" style="font-family:'Liberation Serif',serif;font-size:6.3px" fill="#262626">-0.5</text>
<text x="593.90" y="447.20" text-anchor="end" style="font-family:'Liberation Serif',serif;font-size:6.3px" fill="#262626">0</text>
<text x="593.90" y="430.30" text-anchor="end" style="font-family:'Liberation Serif',serif;font-size:6.3px" fill="#262626">0.5</text>
<text x="593.90" y="413.40" text-anchor="end" style="font-family:'Liberation Serif',serif;font-size:6.3px" fill="#262626">1</text>
<text x="593.90" y="396.50" text-anchor="end" style="font-family:'Liberation Serif',serif;font-size:6.3px" fill="#262626">1.5</text>
<text x="593.90" y="379.60" text-anchor="end" style="font-family:'Liberation Serif',serif;font-size:6.3px" fill="#262626">2</text>
<text x="593.90" y="362.70" text-anchor="end" style="font-family:'Liberation Serif',serif;font-size:6.3px" fill="#262626">2.5</text>
<text x="595.50" y="538.10" text-anchor="middle" style="font-family:'Liberation Serif',serif;font-size:6.3px" fill="#262626">0</text>
<text x="616.50" y="538.10" text-anchor="middle" style="font-family:'Liberation Serif',serif;font-size:6.3px" fill="#262626">2</text>
<text x="637.50" y="538.10" text-anchor="middle" style="font-family:'Liberation Serif',serif;font-size:6.3px" fill="#262626">4</text>
<text x="616.50" y="545.90" text-anchor="middle" style="font-family:'Liberation Serif',serif;font-size:6.8px" fill="#262626">Trasmission</text>
<text transform="translate(580.70,445.00) rotate(-90)" text-anchor="middle" style="font-family:'Liberation Serif',serif;font-size:7.3px" fill="#262626">Energy (eV)</text>
<path d="M419.15 531.08L426.09 531.08M419.15 471.14L426.09 471.14M571.97 531.08L565.03 531.08M571.97 471.14L565.03 471.14M446.93 567.05L450.41 561.05M446.93 435.17L450.41 441.16M544.19 567.05L540.71 561.05M544.19 435.17L540.71 441.16M457.35 573.04L460.83 567.05M457.35 429.17L460.83 435.17M533.77 573.04L530.29 567.05M533.77 429.17L530.29 435.17" stroke="#bdb8ad" stroke-width="1.5" fill="none"/>
<path d="M416.78 528.28L422.78 535.48M416.78 535.48L422.78 528.28" stroke="#1d3770" stroke-width="2.4" fill="none" stroke-linecap="round"/>
<path d="M416.78 528.28L422.78 535.48M416.78 535.48L422.78 528.28" stroke="#b9c2d4" stroke-width="1.0" fill="none" stroke-dasharray="0.8 0.7"/>
<path d="M416.78 468.34L422.78 475.54M416.78 475.54L422.78 468.34" stroke="#1d3770" stroke-width="2.4" fill="none" stroke-linecap="round"/>
<path d="M416.78 468.34L422.78 475.54M416.78 475.54L422.78 468.34" stroke="#b9c2d4" stroke-width="1.0" fill="none" stroke-dasharray="0.8 0.7"/>
<path d="M567.84 528.28L573.84 535.48M567.84 535.48L573.84 528.28" stroke="#1d3770" stroke-width="2.4" fill="none" stroke-linecap="round"/>
<path d="M567.84 528.28L573.84 535.48M567.84 535.48L573.84 528.28" stroke="#b9c2d4" stroke-width="1.0" fill="none" stroke-dasharray="0.8 0.7"/>
<path d="M567.84 468.34L573.84 475.54M567.84 475.54L573.84 468.34" stroke="#1d3770" stroke-width="2.4" fill="none" stroke-linecap="round"/>
<path d="M567.84 468.34L573.84 475.54M567.84 475.54L573.84 468.34" stroke="#b9c2d4" stroke-width="1.0" fill="none" stroke-dasharray="0.8 0.7"/>
<path d="M440.82 565.94L452.42 565.94M447.82 571.44L445.42 560.44" stroke="#1b3068" stroke-width="2.7" fill="none"/>
<path d="M440.82 565.94L452.42 565.94M447.82 571.44L445.42 560.44" stroke="#aab5cc" stroke-width="0.7" fill="none"/>
<path d="M440.82 436.46L452.42 436.46M445.42 441.96L447.82 430.96" stroke="#1b3068" stroke-width="2.7" fill="none"/>
<path d="M440.82 436.46L452.42 436.46M445.42 441.96L447.82 430.96" stroke="#aab5cc" stroke-width="0.7" fill="none"/>
<path d="M538.70 565.94L550.30 565.94M543.30 571.44L545.70 560.44" stroke="#1b3068" stroke-width="2.7" fill="none"/>
<path d="M538.70 565.94L550.30 565.94M543.30 571.44L545.70 560.44" stroke="#aab5cc" stroke-width="0.7" fill="none"/>
<path d="M538.70 436.46L550.30 436.46M545.70 441.96L543.30 430.96" stroke="#1b3068" stroke-width="2.7" fill="none"/>
<path d="M538.70 436.46L550.30 436.46M545.70 441.96L543.30 430.96" stroke="#aab5cc" stroke-width="0.7" fill="none"/>
<path d="M451.17 571.92L462.77 571.92M458.17 577.42L455.77 566.42" stroke="#1b3068" stroke-width="2.7" fill="none"/>
<path d="M451.17 571.92L462.77 571.92M458.17 577.42L455.77 566.42" stroke="#aab5cc" stroke-width="0.7" fill="none"/>
<path d="M451.17 430.48L462.77 430.48M455.77 435.98L458.17 424.98" stroke="#1b3068" stroke-width="2.7" fill="none"/>
<path d="M451.17 430.48L462.77 430.48M455.77 435.98L458.17 424.98" stroke="#aab5cc" stroke-width="0.7" fill="none"/>
<path d="M528.35 571.92L539.95 571.92M532.95 577.42L535.35 566.42" stroke="#1b3068" stroke-width="2.7" fill="none"/>
<path d="M528.35 571.92L539.95 571.92M532.95 577.42L535.35 566.42" stroke="#aab5cc" stroke-width="0.7" fill="none"/>
<path d="M528.35 430.48L539.95 430.48M535.35 435.98L532.95 424.98" stroke="#1b3068" stroke-width="2.7" fill="none"/>
<path d="M528.35 430.48L539.95 430.48M535.35 435.98L532.95 424.98" stroke="#aab5cc" stroke-width="0.7" fill="none"/>
<linearGradient id="gradd" x1="0" y1="0" x2="0" y2="1"><stop offset="0.0000" stop-color="#f9fb0e"/><stop offset="0.0159" stop-color="#f6f313"/><stop offset="0.0317" stop-color="#f5eb18"/><stop offset="0.0476" stop-color="#f5e41d"/><stop offset="0.0635" stop-color="#f5de21"/><stop offset="0.0794" stop-color="#f7d826"/><stop offset="0.0952" stop-color="#fad32a"/><stop offset="0.1111" stop-color="#fcce2e"/><stop offset="0.1270" stop-color="#fec832"/><stop offset="0.1429" stop-color="#ffc337"/><stop offset="0.1587" stop-color="#fdbe3d"/><stop offset="0.1746" stop-color="#f8bb44"/><stop offset="0.1905" stop-color="#f1b94a"/><stop offset="0.2063" stop-color="#e9b94e"/><stop offset="0.2222" stop-color="#e1b952"/><stop offset="0.2381" stop-color="#d9ba56"/><stop offset="0.2540" stop-color="#d1bb59"/><stop offset="0.2698" stop-color="#c8bc5d"/><stop offset="0.2857" stop-color="#c0bc60"/><stop offset="0.3016" stop-color="#b7bd64"/><stop offset="0.3175" stop-color="#aebe67"/><stop offset="0.3333" stop-color="#a5be6b"/><stop offset="0.3492" stop-color="#9cbf6f"/><stop offset="0.3651" stop-color="#92bf73"/><stop offset="0.3810" stop-color="#87bf77"/><stop offset="0.3968" stop-color="#7cbf7b"/><stop offset="0.4127" stop-color="#71bf80"/><stop offset="0.4286" stop-color="#65be86"/><stop offset="0.4444" stop-color="#59bd8c"/><stop offset="0.4603" stop-color="#4dbc92"/><stop offset="0.4762" stop-color="#42bb98"/><stop offset="0.4921" stop-color="#38b99e"/><stop offset="0.5079" stop-color="#2eb7a4"/><stop offset="0.5238" stop-color="#25b5a9"/><stop offset="0.5397" stop-color="#1db3af"/><stop offset="0.5556" stop-color="#15b1b4"/><stop offset="0.5714" stop-color="#0faeb9"/><stop offset="0.5873" stop-color="#0aacbe"/><stop offset="0.6032" stop-color="#07a9c2"/><stop offset="0.6190" stop-color="#06a7c6"/><stop offset="0.6349" stop-color="#06a4ca"/><stop offset="0.6508" stop-color="#06a0cd"/><stop offset="0.6667" stop-color="#079ccf"/><stop offset="0.6825" stop-color="#0998d1"/><stop offset="0.6984" stop-color="#0c93d2"/><stop offset="0.7143" stop-color="#108ed2"/><stop offset="0.7302" stop-color="#1389d3"/><stop offset="0.7460" stop-color="#1485d4"/><stop offset="0.7619" stop-color="#1481d6"/><stop offset="0.7778" stop-color="#127dd8"/><stop offset="0.7937" stop-color="#1079da"/><stop offset="0.8095" stop-color="#0d75dc"/><stop offset="0.8254" stop-color="#0871de"/><stop offset="0.8413" stop-color="#046de0"/><stop offset="0.8571" stop-color="#0268e1"/><stop offset="0.8730" stop-color="#0363e1"/><stop offset="0.8889" stop-color="#0f5cdd"/><stop offset="0.9048" stop-color="#2053d4"/><stop offset="0.9206" stop-color="#2c4ac7"/><stop offset="0.9365" stop-color="#3243ba"/><stop offset="0.9524" stop-color="#353dad"/><stop offset="0.9683" stop-color="#3637a0"/><stop offset="0.9841" stop-color="#363093"/><stop offset="1.0000" stop-color="#352a87"/></linearGradient>
<rect x="643.20" y="355.80" width="14.00" height="291.40" fill="url(#gradd)" stroke="#a3a3a3" stroke-width="0.6"/>
<text x="660.40" y="359.50" style="font-family:'Liberation Serif',serif;font-size:10.6px" fill="#262626">7e-01</text>
<text x="660.40" y="650.90" style="font-family:'Liberation Serif',serif;font-size:10.6px" fill="#262626">1e-05</text>
<text transform="translate(671.80,501.50) rotate(-90)" text-anchor="middle" style="font-family:'Liberation Serif',serif;font-size:10.9px" fill="#262626">LDOS (arb. unit)</text>
<text x="532.10" y="636.00" style="font-family:'Liberation Serif',serif;font-size:8.9px" fill="#000">net current<tspan dy="3.5" style="font-size:6.6px">max</tspan><tspan dy="-3.5">=4e-05 (4e/h)</tspan></text>
<line x1="47.3" y1="297.2" x2="47.3" y2="257" stroke="#ff0000" stroke-width="1"/>
<path d="M47.3 249.1L50.5 258.2L44.1 258.2Z" fill="#ff0000"/>
<line x1="47.3" y1="297.2" x2="82" y2="297.2" stroke="#0000ff" stroke-width="1"/>
<path d="M91.3 297.3L81.4 294.2L81.4 300.5Z" fill="#0000ff"/>
<text transform="translate(45.0,276.8) rotate(-90)" text-anchor="middle" style="font-family:'Liberation Serif',serif;font-size:13.2px" fill="#000">Zigzag</text>
<text x="47.8" y="306.8" style="font-family:'Liberation Serif',serif;font-size:11.5px" fill="#000">Armchair</text>
<text x="183" y="246.7" style="font-family:'Liberation Serif',serif;font-size:13.3px" fill="#000">Removed atom</text>
<line x1="216" y1="236.7" x2="209.8" y2="206.5" stroke="#000" stroke-width="0.9"/>
<path d="M208.3 199.9L213.9 207.4L206.4 208.6Z" fill="#000"/>
</svg></body></html>
